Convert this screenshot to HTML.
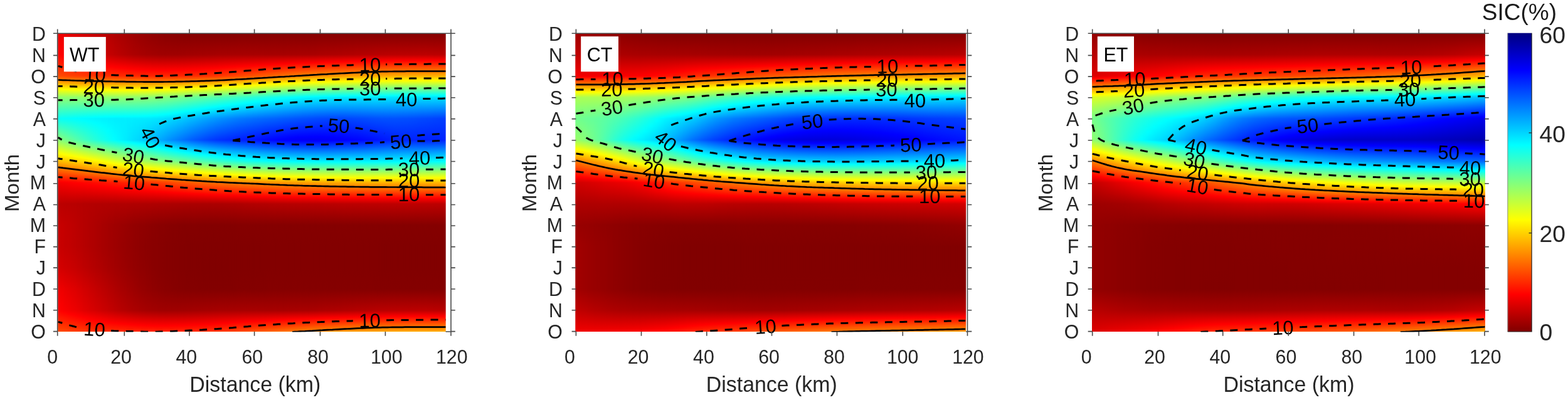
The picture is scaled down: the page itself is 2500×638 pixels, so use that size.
<!DOCTYPE html>
<html><head><meta charset="utf-8"><title>SIC</title>
<style>
html,body{margin:0;padding:0;background:#fff;}
body{width:2500px;height:638px;overflow:hidden;}
svg{display:block;font-family:"Liberation Sans",sans-serif;filter:blur(0.55px);}
</style></head><body>
<svg width="2500" height="638" viewBox="0 0 2500 638">
<defs>
<linearGradient id="hg" x1="0" y1="0" x2="1" y2="0"><stop offset="0" stop-color="#000"/><stop offset="1" stop-color="#fff"/></linearGradient>
<mask id="fade" maskContentUnits="objectBoundingBox"><rect x="0" y="0" width="1" height="1" fill="url(#hg)"/></mask>
<linearGradient id="g1_0" gradientUnits="userSpaceOnUse" x1="0" y1="53.20" x2="0" y2="529.20"><stop offset="0" stop-color="#f20000"/><stop offset="0.0578" stop-color="#ff0000"/><stop offset="0.07143" stop-color="#ff0300"/><stop offset="0.1429" stop-color="#ff4b00"/><stop offset="0.1873" stop-color="#ffff00"/><stop offset="0.2143" stop-color="#92ff6d"/><stop offset="0.2857" stop-color="#0afff5"/><stop offset="0.3571" stop-color="#8dff72"/><stop offset="0.4014" stop-color="#ffff00"/><stop offset="0.4286" stop-color="#ffb900"/><stop offset="0.4965" stop-color="#ff0000"/><stop offset="0.5" stop-color="#f50000"/><stop offset="0.5714" stop-color="#bc0000"/><stop offset="0.6429" stop-color="#c90000"/><stop offset="0.7143" stop-color="#ca0000"/><stop offset="0.7857" stop-color="#d60000"/><stop offset="0.8571" stop-color="#f20000"/><stop offset="0.9149" stop-color="#ff0000"/><stop offset="0.9286" stop-color="#ff0300"/><stop offset="1" stop-color="#ff4b00"/></linearGradient>
<linearGradient id="g1_1" gradientUnits="userSpaceOnUse" x1="0" y1="53.20" x2="0" y2="529.20"><stop offset="0" stop-color="#eb0000"/><stop offset="0.07143" stop-color="#fa0000"/><stop offset="0.07603" stop-color="#ff0000"/><stop offset="0.1429" stop-color="#ff4700"/><stop offset="0.1877" stop-color="#ffff00"/><stop offset="0.2143" stop-color="#92ff6d"/><stop offset="0.2857" stop-color="#06fff9"/><stop offset="0.3571" stop-color="#7aff85"/><stop offset="0.406" stop-color="#ffff00"/><stop offset="0.4286" stop-color="#ffc200"/><stop offset="0.4979" stop-color="#ff0000"/><stop offset="0.5" stop-color="#f90000"/><stop offset="0.5714" stop-color="#ba0000"/><stop offset="0.6429" stop-color="#c40000"/><stop offset="0.7143" stop-color="#c50000"/><stop offset="0.7857" stop-color="#d00000"/><stop offset="0.8571" stop-color="#eb0000"/><stop offset="0.9286" stop-color="#fa0000"/><stop offset="0.9332" stop-color="#ff0000"/><stop offset="1" stop-color="#ff4700"/></linearGradient>
<linearGradient id="g1_2" gradientUnits="userSpaceOnUse" x1="0" y1="53.20" x2="0" y2="529.20"><stop offset="0" stop-color="#e30000"/><stop offset="0.07143" stop-color="#f20000"/><stop offset="0.08292" stop-color="#ff0000"/><stop offset="0.1429" stop-color="#ff4200"/><stop offset="0.1881" stop-color="#ffff00"/><stop offset="0.2143" stop-color="#92ff6d"/><stop offset="0.2857" stop-color="#03fffc"/><stop offset="0.3571" stop-color="#68ff97"/><stop offset="0.4101" stop-color="#ffff00"/><stop offset="0.4286" stop-color="#ffca00"/><stop offset="0.4993" stop-color="#ff0000"/><stop offset="0.5" stop-color="#fd0000"/><stop offset="0.5714" stop-color="#b90000"/><stop offset="0.6429" stop-color="#c00000"/><stop offset="0.7143" stop-color="#c10000"/><stop offset="0.7857" stop-color="#cb0000"/><stop offset="0.8571" stop-color="#e30000"/><stop offset="0.9286" stop-color="#f20000"/><stop offset="0.9401" stop-color="#ff0000"/><stop offset="1" stop-color="#ff4200"/></linearGradient>
<linearGradient id="g1_3" gradientUnits="userSpaceOnUse" x1="0" y1="53.20" x2="0" y2="529.20"><stop offset="0" stop-color="#dc0000"/><stop offset="0.07143" stop-color="#eb0000"/><stop offset="0.08916" stop-color="#ff0000"/><stop offset="0.1429" stop-color="#ff3e00"/><stop offset="0.1885" stop-color="#ffff00"/><stop offset="0.2143" stop-color="#92ff6d"/><stop offset="0.2854" stop-color="#00ffff"/><stop offset="0.2857" stop-color="#00feff"/><stop offset="0.2862" stop-color="#00ffff"/><stop offset="0.3571" stop-color="#56ffa9"/><stop offset="0.4139" stop-color="#ffff00"/><stop offset="0.4286" stop-color="#ffd300"/><stop offset="0.5" stop-color="#ff0200"/><stop offset="0.5016" stop-color="#ff0000"/><stop offset="0.5714" stop-color="#b70000"/><stop offset="0.6429" stop-color="#bb0000"/><stop offset="0.7143" stop-color="#bc0000"/><stop offset="0.7857" stop-color="#c50000"/><stop offset="0.8571" stop-color="#dc0000"/><stop offset="0.9286" stop-color="#eb0000"/><stop offset="0.9463" stop-color="#ff0000"/><stop offset="1" stop-color="#ff3e00"/></linearGradient>
<linearGradient id="g1_4" gradientUnits="userSpaceOnUse" x1="0" y1="53.20" x2="0" y2="529.20"><stop offset="0" stop-color="#d40000"/><stop offset="0.07143" stop-color="#e30000"/><stop offset="0.09477" stop-color="#ff0000"/><stop offset="0.1429" stop-color="#ff3a00"/><stop offset="0.1889" stop-color="#ffff00"/><stop offset="0.2143" stop-color="#92ff6d"/><stop offset="0.2839" stop-color="#00ffff"/><stop offset="0.2857" stop-color="#00fbff"/><stop offset="0.2895" stop-color="#00ffff"/><stop offset="0.3571" stop-color="#45ffba"/><stop offset="0.4175" stop-color="#ffff00"/><stop offset="0.4286" stop-color="#ffdd00"/><stop offset="0.5" stop-color="#ff0600"/><stop offset="0.505" stop-color="#ff0000"/><stop offset="0.5714" stop-color="#b50000"/><stop offset="0.6429" stop-color="#b60000"/><stop offset="0.7143" stop-color="#b70000"/><stop offset="0.7857" stop-color="#bf0000"/><stop offset="0.8571" stop-color="#d40000"/><stop offset="0.9286" stop-color="#e30000"/><stop offset="0.9519" stop-color="#ff0000"/><stop offset="1" stop-color="#ff3a00"/></linearGradient>
<linearGradient id="g1_5" gradientUnits="userSpaceOnUse" x1="0" y1="53.20" x2="0" y2="529.20"><stop offset="0" stop-color="#cd0000"/><stop offset="0.07143" stop-color="#db0000"/><stop offset="0.09972" stop-color="#ff0000"/><stop offset="0.1429" stop-color="#ff3600"/><stop offset="0.1892" stop-color="#ffff00"/><stop offset="0.2143" stop-color="#93ff6c"/><stop offset="0.2825" stop-color="#00ffff"/><stop offset="0.2857" stop-color="#00f8ff"/><stop offset="0.294" stop-color="#00ffff"/><stop offset="0.3571" stop-color="#35ffca"/><stop offset="0.4212" stop-color="#ffff00"/><stop offset="0.4286" stop-color="#ffe800"/><stop offset="0.5" stop-color="#ff0900"/><stop offset="0.5079" stop-color="#ff0000"/><stop offset="0.5714" stop-color="#b40000"/><stop offset="0.6429" stop-color="#b20000"/><stop offset="0.7143" stop-color="#b20000"/><stop offset="0.7857" stop-color="#b90000"/><stop offset="0.8571" stop-color="#cd0000"/><stop offset="0.9286" stop-color="#db0000"/><stop offset="0.9569" stop-color="#ff0000"/><stop offset="1" stop-color="#ff3600"/></linearGradient>
<linearGradient id="g1_6" gradientUnits="userSpaceOnUse" x1="0" y1="53.20" x2="0" y2="529.20"><stop offset="0" stop-color="#c50000"/><stop offset="0.07143" stop-color="#d40000"/><stop offset="0.104" stop-color="#ff0000"/><stop offset="0.1429" stop-color="#ff3300"/><stop offset="0.1896" stop-color="#ffff00"/><stop offset="0.2143" stop-color="#93ff6c"/><stop offset="0.2813" stop-color="#00ffff"/><stop offset="0.2857" stop-color="#00f5ff"/><stop offset="0.3003" stop-color="#00ffff"/><stop offset="0.3571" stop-color="#26ffd9"/><stop offset="0.4249" stop-color="#ffff00"/><stop offset="0.4286" stop-color="#fff300"/><stop offset="0.5" stop-color="#ff0d00"/><stop offset="0.5106" stop-color="#ff0000"/><stop offset="0.5714" stop-color="#b30000"/><stop offset="0.6429" stop-color="#ad0000"/><stop offset="0.7143" stop-color="#ad0000"/><stop offset="0.7857" stop-color="#b30000"/><stop offset="0.8571" stop-color="#c50000"/><stop offset="0.9286" stop-color="#d40000"/><stop offset="0.9611" stop-color="#ff0000"/><stop offset="1" stop-color="#ff3300"/></linearGradient>
<linearGradient id="g1_7" gradientUnits="userSpaceOnUse" x1="0" y1="53.20" x2="0" y2="529.20"><stop offset="0" stop-color="#be0000"/><stop offset="0.07143" stop-color="#cd0000"/><stop offset="0.1075" stop-color="#ff0000"/><stop offset="0.1429" stop-color="#ff3100"/><stop offset="0.1898" stop-color="#ffff00"/><stop offset="0.2143" stop-color="#94ff6b"/><stop offset="0.2803" stop-color="#00ffff"/><stop offset="0.2857" stop-color="#00f3ff"/><stop offset="0.3096" stop-color="#00ffff"/><stop offset="0.3571" stop-color="#18ffe7"/><stop offset="0.4286" stop-color="#feff01"/><stop offset="0.4288" stop-color="#ffff00"/><stop offset="0.5" stop-color="#ff1100"/><stop offset="0.5131" stop-color="#ff0000"/><stop offset="0.5714" stop-color="#b20000"/><stop offset="0.6429" stop-color="#a90000"/><stop offset="0.7143" stop-color="#a80000"/><stop offset="0.7857" stop-color="#ae0000"/><stop offset="0.8571" stop-color="#be0000"/><stop offset="0.9286" stop-color="#cd0000"/><stop offset="0.9647" stop-color="#ff0000"/><stop offset="1" stop-color="#ff3100"/></linearGradient>
<linearGradient id="g1_8" gradientUnits="userSpaceOnUse" x1="0" y1="53.20" x2="0" y2="529.20"><stop offset="0" stop-color="#b70000"/><stop offset="0.07143" stop-color="#c60000"/><stop offset="0.1105" stop-color="#ff0000"/><stop offset="0.1429" stop-color="#ff2f00"/><stop offset="0.19" stop-color="#ffff00"/><stop offset="0.2143" stop-color="#94ff6b"/><stop offset="0.2795" stop-color="#00ffff"/><stop offset="0.2857" stop-color="#00f1ff"/><stop offset="0.3252" stop-color="#00ffff"/><stop offset="0.3571" stop-color="#0bfff4"/><stop offset="0.4286" stop-color="#f1ff0e"/><stop offset="0.4326" stop-color="#ffff00"/><stop offset="0.5" stop-color="#ff1600"/><stop offset="0.5156" stop-color="#ff0000"/><stop offset="0.5714" stop-color="#b20000"/><stop offset="0.6429" stop-color="#a40000"/><stop offset="0.7143" stop-color="#a30000"/><stop offset="0.7857" stop-color="#a80000"/><stop offset="0.8571" stop-color="#b70000"/><stop offset="0.9286" stop-color="#c60000"/><stop offset="0.9677" stop-color="#ff0000"/><stop offset="1" stop-color="#ff2f00"/></linearGradient>
<linearGradient id="g1_9" gradientUnits="userSpaceOnUse" x1="0" y1="53.20" x2="0" y2="529.20"><stop offset="0" stop-color="#b00000"/><stop offset="0.07143" stop-color="#bf0000"/><stop offset="0.1131" stop-color="#ff0000"/><stop offset="0.1429" stop-color="#ff2e00"/><stop offset="0.1902" stop-color="#ffff00"/><stop offset="0.2143" stop-color="#94ff6b"/><stop offset="0.2789" stop-color="#00ffff"/><stop offset="0.2857" stop-color="#00efff"/><stop offset="0.3571" stop-color="#00ffff"/><stop offset="0.3572" stop-color="#00ffff"/><stop offset="0.4286" stop-color="#e3ff1c"/><stop offset="0.4364" stop-color="#ffff00"/><stop offset="0.5" stop-color="#ff1a00"/><stop offset="0.518" stop-color="#ff0000"/><stop offset="0.5714" stop-color="#b10000"/><stop offset="0.6429" stop-color="#a00000"/><stop offset="0.7143" stop-color="#9f0000"/><stop offset="0.7857" stop-color="#a30000"/><stop offset="0.8571" stop-color="#b00000"/><stop offset="0.9286" stop-color="#bf0000"/><stop offset="0.9703" stop-color="#ff0000"/><stop offset="1" stop-color="#ff2e00"/></linearGradient>
<linearGradient id="g1_10" gradientUnits="userSpaceOnUse" x1="0" y1="53.20" x2="0" y2="529.20"><stop offset="0" stop-color="#a90000"/><stop offset="0.07143" stop-color="#b80000"/><stop offset="0.1154" stop-color="#ff0000"/><stop offset="0.1429" stop-color="#ff2c00"/><stop offset="0.1902" stop-color="#ffff00"/><stop offset="0.2143" stop-color="#94ff6b"/><stop offset="0.2785" stop-color="#00ffff"/><stop offset="0.2857" stop-color="#00eeff"/><stop offset="0.3571" stop-color="#00f4ff"/><stop offset="0.3606" stop-color="#00ffff"/><stop offset="0.4286" stop-color="#d5ff2a"/><stop offset="0.4398" stop-color="#ffff00"/><stop offset="0.5" stop-color="#ff1f00"/><stop offset="0.5203" stop-color="#ff0000"/><stop offset="0.5714" stop-color="#b10000"/><stop offset="0.6429" stop-color="#9c0000"/><stop offset="0.7143" stop-color="#9a0000"/><stop offset="0.7857" stop-color="#9e0000"/><stop offset="0.8571" stop-color="#a90000"/><stop offset="0.9286" stop-color="#b80000"/><stop offset="0.9725" stop-color="#ff0000"/><stop offset="1" stop-color="#ff2c00"/></linearGradient>
<linearGradient id="g1_11" gradientUnits="userSpaceOnUse" x1="0" y1="53.20" x2="0" y2="529.20"><stop offset="0" stop-color="#a30000"/><stop offset="0.07143" stop-color="#b20000"/><stop offset="0.1173" stop-color="#ff0000"/><stop offset="0.1429" stop-color="#ff2b00"/><stop offset="0.1901" stop-color="#ffff00"/><stop offset="0.2143" stop-color="#93ff6c"/><stop offset="0.2782" stop-color="#00ffff"/><stop offset="0.2857" stop-color="#00eeff"/><stop offset="0.3571" stop-color="#00eaff"/><stop offset="0.3639" stop-color="#00ffff"/><stop offset="0.4286" stop-color="#c8ff37"/><stop offset="0.443" stop-color="#ffff00"/><stop offset="0.5" stop-color="#ff2400"/><stop offset="0.5225" stop-color="#ff0000"/><stop offset="0.5714" stop-color="#b10000"/><stop offset="0.6429" stop-color="#980000"/><stop offset="0.7143" stop-color="#960000"/><stop offset="0.7857" stop-color="#990000"/><stop offset="0.8571" stop-color="#a30000"/><stop offset="0.9286" stop-color="#b20000"/><stop offset="0.9744" stop-color="#ff0000"/><stop offset="1" stop-color="#ff2b00"/></linearGradient>
<linearGradient id="g1_12" gradientUnits="userSpaceOnUse" x1="0" y1="53.20" x2="0" y2="529.20"><stop offset="0" stop-color="#9e0000"/><stop offset="0.07143" stop-color="#ad0000"/><stop offset="0.1189" stop-color="#ff0000"/><stop offset="0.1429" stop-color="#ff2900"/><stop offset="0.19" stop-color="#ffff00"/><stop offset="0.2143" stop-color="#91ff6e"/><stop offset="0.2779" stop-color="#00ffff"/><stop offset="0.2857" stop-color="#00edff"/><stop offset="0.3571" stop-color="#00e0ff"/><stop offset="0.3672" stop-color="#00ffff"/><stop offset="0.4286" stop-color="#bbff44"/><stop offset="0.4457" stop-color="#ffff00"/><stop offset="0.5" stop-color="#ff2900"/><stop offset="0.5244" stop-color="#ff0000"/><stop offset="0.5714" stop-color="#b00000"/><stop offset="0.6429" stop-color="#940000"/><stop offset="0.7143" stop-color="#930000"/><stop offset="0.7857" stop-color="#950000"/><stop offset="0.8571" stop-color="#9e0000"/><stop offset="0.9286" stop-color="#ad0000"/><stop offset="0.9761" stop-color="#ff0000"/><stop offset="1" stop-color="#ff2900"/></linearGradient>
<linearGradient id="g1_13" gradientUnits="userSpaceOnUse" x1="0" y1="53.20" x2="0" y2="529.20"><stop offset="0" stop-color="#980000"/><stop offset="0.07143" stop-color="#a90000"/><stop offset="0.1203" stop-color="#ff0000"/><stop offset="0.1429" stop-color="#ff2800"/><stop offset="0.1899" stop-color="#ffff00"/><stop offset="0.2143" stop-color="#8fff70"/><stop offset="0.2775" stop-color="#00ffff"/><stop offset="0.2857" stop-color="#00ecff"/><stop offset="0.3571" stop-color="#00d6ff"/><stop offset="0.3707" stop-color="#00ffff"/><stop offset="0.4286" stop-color="#afff50"/><stop offset="0.4482" stop-color="#ffff00"/><stop offset="0.5" stop-color="#ff2d00"/><stop offset="0.526" stop-color="#ff0000"/><stop offset="0.5714" stop-color="#b00000"/><stop offset="0.6429" stop-color="#910000"/><stop offset="0.7143" stop-color="#8f0000"/><stop offset="0.7857" stop-color="#910000"/><stop offset="0.8571" stop-color="#980000"/><stop offset="0.9286" stop-color="#a90000"/><stop offset="0.9775" stop-color="#ff0000"/><stop offset="1" stop-color="#ff2800"/></linearGradient>
<linearGradient id="g1_14" gradientUnits="userSpaceOnUse" x1="0" y1="53.20" x2="0" y2="529.20"><stop offset="0" stop-color="#940000"/><stop offset="0.07143" stop-color="#a50000"/><stop offset="0.1214" stop-color="#ff0000"/><stop offset="0.1429" stop-color="#ff2600"/><stop offset="0.1897" stop-color="#ffff00"/><stop offset="0.2143" stop-color="#8dff72"/><stop offset="0.2768" stop-color="#00ffff"/><stop offset="0.2857" stop-color="#00ebff"/><stop offset="0.3571" stop-color="#00caff"/><stop offset="0.3746" stop-color="#00ffff"/><stop offset="0.4286" stop-color="#a4ff5b"/><stop offset="0.4505" stop-color="#ffff00"/><stop offset="0.5" stop-color="#ff3200"/><stop offset="0.5276" stop-color="#ff0000"/><stop offset="0.5714" stop-color="#af0000"/><stop offset="0.6429" stop-color="#8f0000"/><stop offset="0.7143" stop-color="#8c0000"/><stop offset="0.7857" stop-color="#8e0000"/><stop offset="0.8571" stop-color="#940000"/><stop offset="0.9286" stop-color="#a50000"/><stop offset="0.9786" stop-color="#ff0000"/><stop offset="1" stop-color="#ff2600"/></linearGradient>
<linearGradient id="g1_15" gradientUnits="userSpaceOnUse" x1="0" y1="53.20" x2="0" y2="529.20"><stop offset="0" stop-color="#900000"/><stop offset="0.07143" stop-color="#a30000"/><stop offset="0.1222" stop-color="#ff0000"/><stop offset="0.1429" stop-color="#ff2600"/><stop offset="0.1894" stop-color="#ffff00"/><stop offset="0.2143" stop-color="#8bff74"/><stop offset="0.2758" stop-color="#00ffff"/><stop offset="0.2857" stop-color="#00e9ff"/><stop offset="0.3571" stop-color="#00bcff"/><stop offset="0.3789" stop-color="#00ffff"/><stop offset="0.4286" stop-color="#9aff65"/><stop offset="0.4526" stop-color="#ffff00"/><stop offset="0.5" stop-color="#ff3700"/><stop offset="0.529" stop-color="#ff0000"/><stop offset="0.5714" stop-color="#af0000"/><stop offset="0.6429" stop-color="#8c0000"/><stop offset="0.7143" stop-color="#8a0000"/><stop offset="0.7857" stop-color="#8b0000"/><stop offset="0.8571" stop-color="#900000"/><stop offset="0.9286" stop-color="#a30000"/><stop offset="0.9793" stop-color="#ff0000"/><stop offset="1" stop-color="#ff2600"/></linearGradient>
<linearGradient id="g1_16" gradientUnits="userSpaceOnUse" x1="0" y1="53.20" x2="0" y2="529.20"><stop offset="0" stop-color="#8d0000"/><stop offset="0.07143" stop-color="#a10000"/><stop offset="0.1226" stop-color="#ff0000"/><stop offset="0.1429" stop-color="#ff2500"/><stop offset="0.189" stop-color="#ffff00"/><stop offset="0.2143" stop-color="#87ff78"/><stop offset="0.2741" stop-color="#00ffff"/><stop offset="0.2857" stop-color="#00e5ff"/><stop offset="0.3571" stop-color="#00adff"/><stop offset="0.3831" stop-color="#00ffff"/><stop offset="0.4286" stop-color="#90ff6f"/><stop offset="0.4545" stop-color="#ffff00"/><stop offset="0.5" stop-color="#ff3c00"/><stop offset="0.5305" stop-color="#ff0000"/><stop offset="0.5714" stop-color="#ae0000"/><stop offset="0.6429" stop-color="#8a0000"/><stop offset="0.7143" stop-color="#880000"/><stop offset="0.7857" stop-color="#880000"/><stop offset="0.8571" stop-color="#8d0000"/><stop offset="0.9286" stop-color="#a10000"/><stop offset="0.9797" stop-color="#ff0000"/><stop offset="1" stop-color="#ff2500"/></linearGradient>
<linearGradient id="g1_17" gradientUnits="userSpaceOnUse" x1="0" y1="53.20" x2="0" y2="529.20"><stop offset="0" stop-color="#8a0000"/><stop offset="0.07143" stop-color="#a00000"/><stop offset="0.1226" stop-color="#ff0000"/><stop offset="0.1429" stop-color="#ff2600"/><stop offset="0.1884" stop-color="#ffff00"/><stop offset="0.2143" stop-color="#84ff7b"/><stop offset="0.2719" stop-color="#00ffff"/><stop offset="0.2857" stop-color="#00e0ff"/><stop offset="0.3571" stop-color="#009eff"/><stop offset="0.3871" stop-color="#00ffff"/><stop offset="0.4286" stop-color="#87ff78"/><stop offset="0.4563" stop-color="#ffff00"/><stop offset="0.5" stop-color="#ff4200"/><stop offset="0.5319" stop-color="#ff0000"/><stop offset="0.5714" stop-color="#ae0000"/><stop offset="0.6429" stop-color="#890000"/><stop offset="0.7143" stop-color="#860000"/><stop offset="0.7857" stop-color="#860000"/><stop offset="0.8571" stop-color="#8a0000"/><stop offset="0.9286" stop-color="#a00000"/><stop offset="0.9797" stop-color="#ff0000"/><stop offset="1" stop-color="#ff2600"/></linearGradient>
<linearGradient id="g1_18" gradientUnits="userSpaceOnUse" x1="0" y1="53.20" x2="0" y2="529.20"><stop offset="0" stop-color="#880000"/><stop offset="0.07143" stop-color="#a00000"/><stop offset="0.1224" stop-color="#ff0000"/><stop offset="0.1429" stop-color="#ff2600"/><stop offset="0.1877" stop-color="#ffff00"/><stop offset="0.2143" stop-color="#7fff80"/><stop offset="0.2693" stop-color="#00ffff"/><stop offset="0.2857" stop-color="#00d9ff"/><stop offset="0.3571" stop-color="#008eff"/><stop offset="0.3908" stop-color="#00ffff"/><stop offset="0.4286" stop-color="#7eff81"/><stop offset="0.4581" stop-color="#ffff00"/><stop offset="0.5" stop-color="#ff4800"/><stop offset="0.5333" stop-color="#ff0000"/><stop offset="0.5714" stop-color="#ad0000"/><stop offset="0.6429" stop-color="#870000"/><stop offset="0.7143" stop-color="#850000"/><stop offset="0.7857" stop-color="#850000"/><stop offset="0.8571" stop-color="#880000"/><stop offset="0.9286" stop-color="#a00000"/><stop offset="0.9795" stop-color="#ff0000"/><stop offset="1" stop-color="#ff2600"/></linearGradient>
<linearGradient id="g1_19" gradientUnits="userSpaceOnUse" x1="0" y1="53.20" x2="0" y2="529.20"><stop offset="0" stop-color="#860000"/><stop offset="0.07143" stop-color="#a00000"/><stop offset="0.122" stop-color="#ff0000"/><stop offset="0.1429" stop-color="#ff2700"/><stop offset="0.187" stop-color="#ffff00"/><stop offset="0.2143" stop-color="#7aff85"/><stop offset="0.2662" stop-color="#00ffff"/><stop offset="0.2857" stop-color="#00d1ff"/><stop offset="0.3571" stop-color="#0080ff"/><stop offset="0.3943" stop-color="#00ffff"/><stop offset="0.4286" stop-color="#75ff8a"/><stop offset="0.4598" stop-color="#ffff00"/><stop offset="0.5" stop-color="#ff4e00"/><stop offset="0.5347" stop-color="#ff0000"/><stop offset="0.5714" stop-color="#ac0000"/><stop offset="0.6429" stop-color="#860000"/><stop offset="0.7143" stop-color="#840000"/><stop offset="0.7857" stop-color="#840000"/><stop offset="0.8571" stop-color="#860000"/><stop offset="0.9286" stop-color="#a00000"/><stop offset="0.9791" stop-color="#ff0000"/><stop offset="1" stop-color="#ff2700"/></linearGradient>
<linearGradient id="g1_20" gradientUnits="userSpaceOnUse" x1="0" y1="53.20" x2="0" y2="529.20"><stop offset="0" stop-color="#850000"/><stop offset="0.07143" stop-color="#a10000"/><stop offset="0.1214" stop-color="#ff0000"/><stop offset="0.1429" stop-color="#ff2800"/><stop offset="0.1862" stop-color="#ffff00"/><stop offset="0.2143" stop-color="#74ff8b"/><stop offset="0.2629" stop-color="#00ffff"/><stop offset="0.2857" stop-color="#00c9ff"/><stop offset="0.3571" stop-color="#0072ff"/><stop offset="0.3976" stop-color="#00ffff"/><stop offset="0.4286" stop-color="#6cff93"/><stop offset="0.4616" stop-color="#ffff00"/><stop offset="0.5" stop-color="#ff5400"/><stop offset="0.5359" stop-color="#ff0000"/><stop offset="0.5714" stop-color="#ac0000"/><stop offset="0.6429" stop-color="#850000"/><stop offset="0.7143" stop-color="#830000"/><stop offset="0.7857" stop-color="#830000"/><stop offset="0.8571" stop-color="#850000"/><stop offset="0.9286" stop-color="#a10000"/><stop offset="0.9786" stop-color="#ff0000"/><stop offset="1" stop-color="#ff2800"/></linearGradient>
<linearGradient id="g1_21" gradientUnits="userSpaceOnUse" x1="0" y1="53.20" x2="0" y2="529.20"><stop offset="0" stop-color="#840000"/><stop offset="0.07143" stop-color="#a20000"/><stop offset="0.1206" stop-color="#ff0000"/><stop offset="0.1429" stop-color="#ff2a00"/><stop offset="0.1854" stop-color="#ffff00"/><stop offset="0.2143" stop-color="#6eff91"/><stop offset="0.2596" stop-color="#00ffff"/><stop offset="0.2857" stop-color="#00bfff"/><stop offset="0.3571" stop-color="#0064ff"/><stop offset="0.4008" stop-color="#00ffff"/><stop offset="0.4286" stop-color="#63ff9c"/><stop offset="0.4633" stop-color="#ffff00"/><stop offset="0.5" stop-color="#ff5a00"/><stop offset="0.5371" stop-color="#ff0000"/><stop offset="0.5714" stop-color="#ab0000"/><stop offset="0.6429" stop-color="#850000"/><stop offset="0.7143" stop-color="#820000"/><stop offset="0.7857" stop-color="#820000"/><stop offset="0.8571" stop-color="#840000"/><stop offset="0.9286" stop-color="#a20000"/><stop offset="0.9778" stop-color="#ff0000"/><stop offset="1" stop-color="#ff2a00"/></linearGradient>
<linearGradient id="g1_22" gradientUnits="userSpaceOnUse" x1="0" y1="53.20" x2="0" y2="529.20"><stop offset="0" stop-color="#840000"/><stop offset="0.07143" stop-color="#a30000"/><stop offset="0.1197" stop-color="#ff0000"/><stop offset="0.1429" stop-color="#ff2c00"/><stop offset="0.1845" stop-color="#ffff00"/><stop offset="0.2143" stop-color="#68ff97"/><stop offset="0.2563" stop-color="#00ffff"/><stop offset="0.2857" stop-color="#00b6ff"/><stop offset="0.3571" stop-color="#0057ff"/><stop offset="0.4037" stop-color="#00ffff"/><stop offset="0.4286" stop-color="#59ffa6"/><stop offset="0.465" stop-color="#ffff00"/><stop offset="0.5" stop-color="#ff6000"/><stop offset="0.5381" stop-color="#ff0000"/><stop offset="0.5714" stop-color="#ab0000"/><stop offset="0.6429" stop-color="#850000"/><stop offset="0.7143" stop-color="#820000"/><stop offset="0.7857" stop-color="#820000"/><stop offset="0.8571" stop-color="#840000"/><stop offset="0.9286" stop-color="#a30000"/><stop offset="0.9769" stop-color="#ff0000"/><stop offset="1" stop-color="#ff2c00"/></linearGradient>
<linearGradient id="g1_23" gradientUnits="userSpaceOnUse" x1="0" y1="53.20" x2="0" y2="529.20"><stop offset="0" stop-color="#830000"/><stop offset="0.07143" stop-color="#a40000"/><stop offset="0.1187" stop-color="#ff0000"/><stop offset="0.1429" stop-color="#ff2e00"/><stop offset="0.1837" stop-color="#ffff00"/><stop offset="0.2143" stop-color="#62ff9d"/><stop offset="0.2531" stop-color="#00ffff"/><stop offset="0.2857" stop-color="#00acff"/><stop offset="0.3571" stop-color="#004cff"/><stop offset="0.4065" stop-color="#00ffff"/><stop offset="0.4286" stop-color="#50ffaf"/><stop offset="0.4666" stop-color="#ffff00"/><stop offset="0.5" stop-color="#ff6500"/><stop offset="0.539" stop-color="#ff0000"/><stop offset="0.5714" stop-color="#ab0000"/><stop offset="0.6429" stop-color="#840000"/><stop offset="0.7143" stop-color="#820000"/><stop offset="0.7857" stop-color="#810000"/><stop offset="0.8571" stop-color="#830000"/><stop offset="0.9286" stop-color="#a40000"/><stop offset="0.9759" stop-color="#ff0000"/><stop offset="1" stop-color="#ff2e00"/></linearGradient>
<linearGradient id="g1_24" gradientUnits="userSpaceOnUse" x1="0" y1="53.20" x2="0" y2="529.20"><stop offset="0" stop-color="#830000"/><stop offset="0.07143" stop-color="#a50000"/><stop offset="0.1176" stop-color="#ff0000"/><stop offset="0.1429" stop-color="#ff3100"/><stop offset="0.1828" stop-color="#ffff00"/><stop offset="0.2143" stop-color="#5cffa3"/><stop offset="0.25" stop-color="#00ffff"/><stop offset="0.2857" stop-color="#00a3ff"/><stop offset="0.3571" stop-color="#0041ff"/><stop offset="0.4092" stop-color="#00ffff"/><stop offset="0.4286" stop-color="#47ffb8"/><stop offset="0.4682" stop-color="#ffff00"/><stop offset="0.5" stop-color="#ff6b00"/><stop offset="0.54" stop-color="#ff0000"/><stop offset="0.5714" stop-color="#ab0000"/><stop offset="0.6429" stop-color="#840000"/><stop offset="0.7143" stop-color="#820000"/><stop offset="0.7857" stop-color="#810000"/><stop offset="0.8571" stop-color="#830000"/><stop offset="0.9286" stop-color="#a50000"/><stop offset="0.9748" stop-color="#ff0000"/><stop offset="1" stop-color="#ff3100"/></linearGradient>
<linearGradient id="g1_25" gradientUnits="userSpaceOnUse" x1="0" y1="53.20" x2="0" y2="529.20"><stop offset="0" stop-color="#830000"/><stop offset="0.07143" stop-color="#a60000"/><stop offset="0.1164" stop-color="#ff0000"/><stop offset="0.1429" stop-color="#ff3400"/><stop offset="0.1818" stop-color="#ffff00"/><stop offset="0.2143" stop-color="#56ffa9"/><stop offset="0.2471" stop-color="#00ffff"/><stop offset="0.2857" stop-color="#009aff"/><stop offset="0.3571" stop-color="#0038ff"/><stop offset="0.4118" stop-color="#00ffff"/><stop offset="0.4286" stop-color="#3dffc2"/><stop offset="0.4697" stop-color="#ffff00"/><stop offset="0.5" stop-color="#ff7000"/><stop offset="0.5409" stop-color="#ff0000"/><stop offset="0.5714" stop-color="#ac0000"/><stop offset="0.6429" stop-color="#840000"/><stop offset="0.7143" stop-color="#820000"/><stop offset="0.7857" stop-color="#810000"/><stop offset="0.8571" stop-color="#830000"/><stop offset="0.9286" stop-color="#a60000"/><stop offset="0.9735" stop-color="#ff0000"/><stop offset="1" stop-color="#ff3400"/></linearGradient>
<linearGradient id="g1_26" gradientUnits="userSpaceOnUse" x1="0" y1="53.20" x2="0" y2="529.20"><stop offset="0" stop-color="#830000"/><stop offset="0.07143" stop-color="#a70000"/><stop offset="0.115" stop-color="#ff0000"/><stop offset="0.1429" stop-color="#ff3800"/><stop offset="0.1808" stop-color="#ffff00"/><stop offset="0.2143" stop-color="#4fffb0"/><stop offset="0.2442" stop-color="#00ffff"/><stop offset="0.2857" stop-color="#0091ff"/><stop offset="0.3571" stop-color="#0030ff"/><stop offset="0.4142" stop-color="#00ffff"/><stop offset="0.4286" stop-color="#34ffcb"/><stop offset="0.4711" stop-color="#ffff00"/><stop offset="0.5" stop-color="#ff7500"/><stop offset="0.5418" stop-color="#ff0000"/><stop offset="0.5714" stop-color="#ac0000"/><stop offset="0.6429" stop-color="#840000"/><stop offset="0.7143" stop-color="#820000"/><stop offset="0.7857" stop-color="#810000"/><stop offset="0.8571" stop-color="#830000"/><stop offset="0.9286" stop-color="#a70000"/><stop offset="0.9722" stop-color="#ff0000"/><stop offset="1" stop-color="#ff3800"/></linearGradient>
<linearGradient id="g1_27" gradientUnits="userSpaceOnUse" x1="0" y1="53.20" x2="0" y2="529.20"><stop offset="0" stop-color="#830000"/><stop offset="0.07143" stop-color="#a70000"/><stop offset="0.1136" stop-color="#ff0000"/><stop offset="0.1429" stop-color="#ff3d00"/><stop offset="0.1797" stop-color="#ffff00"/><stop offset="0.2143" stop-color="#48ffb7"/><stop offset="0.2414" stop-color="#00ffff"/><stop offset="0.2857" stop-color="#0089ff"/><stop offset="0.3571" stop-color="#002aff"/><stop offset="0.4163" stop-color="#00ffff"/><stop offset="0.4286" stop-color="#2cffd3"/><stop offset="0.4723" stop-color="#ffff00"/><stop offset="0.5" stop-color="#ff7900"/><stop offset="0.5426" stop-color="#ff0000"/><stop offset="0.5714" stop-color="#ad0000"/><stop offset="0.6429" stop-color="#840000"/><stop offset="0.7143" stop-color="#820000"/><stop offset="0.7857" stop-color="#810000"/><stop offset="0.8571" stop-color="#830000"/><stop offset="0.9286" stop-color="#a70000"/><stop offset="0.9708" stop-color="#ff0000"/><stop offset="1" stop-color="#ff3d00"/></linearGradient>
<linearGradient id="g1_28" gradientUnits="userSpaceOnUse" x1="0" y1="53.20" x2="0" y2="529.20"><stop offset="0" stop-color="#830000"/><stop offset="0.07143" stop-color="#a80000"/><stop offset="0.1122" stop-color="#ff0000"/><stop offset="0.1429" stop-color="#ff4200"/><stop offset="0.1785" stop-color="#ffff00"/><stop offset="0.2143" stop-color="#41ffbe"/><stop offset="0.2388" stop-color="#00ffff"/><stop offset="0.2857" stop-color="#0082ff"/><stop offset="0.3571" stop-color="#0025ff"/><stop offset="0.4183" stop-color="#00ffff"/><stop offset="0.4286" stop-color="#25ffda"/><stop offset="0.4734" stop-color="#ffff00"/><stop offset="0.5" stop-color="#ff7d00"/><stop offset="0.5434" stop-color="#ff0000"/><stop offset="0.5714" stop-color="#ae0000"/><stop offset="0.6429" stop-color="#840000"/><stop offset="0.7143" stop-color="#820000"/><stop offset="0.7857" stop-color="#820000"/><stop offset="0.8571" stop-color="#830000"/><stop offset="0.9286" stop-color="#a80000"/><stop offset="0.9693" stop-color="#ff0000"/><stop offset="1" stop-color="#ff4200"/></linearGradient>
<linearGradient id="g1_29" gradientUnits="userSpaceOnUse" x1="0" y1="53.20" x2="0" y2="529.20"><stop offset="0" stop-color="#840000"/><stop offset="0.07143" stop-color="#a80000"/><stop offset="0.1108" stop-color="#ff0000"/><stop offset="0.1429" stop-color="#ff4700"/><stop offset="0.1774" stop-color="#ffff00"/><stop offset="0.2143" stop-color="#3affc5"/><stop offset="0.2361" stop-color="#00ffff"/><stop offset="0.2857" stop-color="#007bff"/><stop offset="0.3571" stop-color="#0020ff"/><stop offset="0.4202" stop-color="#00ffff"/><stop offset="0.4286" stop-color="#1effe1"/><stop offset="0.4743" stop-color="#ffff00"/><stop offset="0.5" stop-color="#ff8100"/><stop offset="0.5441" stop-color="#ff0000"/><stop offset="0.5714" stop-color="#af0000"/><stop offset="0.6429" stop-color="#850000"/><stop offset="0.7143" stop-color="#820000"/><stop offset="0.7857" stop-color="#820000"/><stop offset="0.8571" stop-color="#840000"/><stop offset="0.9286" stop-color="#a80000"/><stop offset="0.9679" stop-color="#ff0000"/><stop offset="1" stop-color="#ff4700"/></linearGradient>
<linearGradient id="g1_30" gradientUnits="userSpaceOnUse" x1="0" y1="53.20" x2="0" y2="529.20"><stop offset="0" stop-color="#840000"/><stop offset="0.07143" stop-color="#a80000"/><stop offset="0.1095" stop-color="#ff0000"/><stop offset="0.1429" stop-color="#ff4c00"/><stop offset="0.1762" stop-color="#ffff00"/><stop offset="0.2143" stop-color="#33ffcc"/><stop offset="0.2336" stop-color="#00ffff"/><stop offset="0.2857" stop-color="#0076ff"/><stop offset="0.3571" stop-color="#001bff"/><stop offset="0.422" stop-color="#00ffff"/><stop offset="0.4286" stop-color="#17ffe8"/><stop offset="0.4752" stop-color="#ffff00"/><stop offset="0.5" stop-color="#ff8400"/><stop offset="0.5448" stop-color="#ff0000"/><stop offset="0.5714" stop-color="#b10000"/><stop offset="0.6429" stop-color="#850000"/><stop offset="0.7143" stop-color="#820000"/><stop offset="0.7857" stop-color="#820000"/><stop offset="0.8571" stop-color="#840000"/><stop offset="0.9286" stop-color="#a80000"/><stop offset="0.9666" stop-color="#ff0000"/><stop offset="1" stop-color="#ff4c00"/></linearGradient>
<linearGradient id="g1_31" gradientUnits="userSpaceOnUse" x1="0" y1="53.20" x2="0" y2="529.20"><stop offset="0" stop-color="#840000"/><stop offset="0.07143" stop-color="#a80000"/><stop offset="0.1082" stop-color="#ff0000"/><stop offset="0.1429" stop-color="#ff5200"/><stop offset="0.175" stop-color="#ffff00"/><stop offset="0.2143" stop-color="#2cffd3"/><stop offset="0.231" stop-color="#00ffff"/><stop offset="0.2857" stop-color="#0071ff"/><stop offset="0.3571" stop-color="#0016ff"/><stop offset="0.4236" stop-color="#00ffff"/><stop offset="0.4286" stop-color="#11ffee"/><stop offset="0.4761" stop-color="#ffff00"/><stop offset="0.5" stop-color="#ff8700"/><stop offset="0.5455" stop-color="#ff0000"/><stop offset="0.5714" stop-color="#b20000"/><stop offset="0.6429" stop-color="#850000"/><stop offset="0.7143" stop-color="#820000"/><stop offset="0.7857" stop-color="#820000"/><stop offset="0.8571" stop-color="#840000"/><stop offset="0.9286" stop-color="#a80000"/><stop offset="0.9653" stop-color="#ff0000"/><stop offset="1" stop-color="#ff5200"/></linearGradient>
<linearGradient id="g1_32" gradientUnits="userSpaceOnUse" x1="0" y1="53.20" x2="0" y2="529.20"><stop offset="0" stop-color="#840000"/><stop offset="0.07143" stop-color="#a80000"/><stop offset="0.107" stop-color="#ff0000"/><stop offset="0.1429" stop-color="#ff5800"/><stop offset="0.1739" stop-color="#ffff00"/><stop offset="0.2143" stop-color="#25ffda"/><stop offset="0.2287" stop-color="#00ffff"/><stop offset="0.2857" stop-color="#006dff"/><stop offset="0.3571" stop-color="#0011ff"/><stop offset="0.4249" stop-color="#00ffff"/><stop offset="0.4286" stop-color="#0dfff2"/><stop offset="0.4768" stop-color="#ffff00"/><stop offset="0.5" stop-color="#ff8a00"/><stop offset="0.5461" stop-color="#ff0000"/><stop offset="0.5714" stop-color="#b30000"/><stop offset="0.6429" stop-color="#850000"/><stop offset="0.7143" stop-color="#820000"/><stop offset="0.7857" stop-color="#820000"/><stop offset="0.8571" stop-color="#840000"/><stop offset="0.9286" stop-color="#a80000"/><stop offset="0.9642" stop-color="#ff0000"/><stop offset="1" stop-color="#ff5800"/></linearGradient>
<linearGradient id="g1_33" gradientUnits="userSpaceOnUse" x1="0" y1="53.20" x2="0" y2="529.20"><stop offset="0" stop-color="#840000"/><stop offset="0.07143" stop-color="#a80000"/><stop offset="0.1059" stop-color="#ff0000"/><stop offset="0.1429" stop-color="#ff5e00"/><stop offset="0.1727" stop-color="#ffff00"/><stop offset="0.2143" stop-color="#1effe1"/><stop offset="0.2262" stop-color="#00ffff"/><stop offset="0.2857" stop-color="#0069ff"/><stop offset="0.3571" stop-color="#000bff"/><stop offset="0.4261" stop-color="#00ffff"/><stop offset="0.4286" stop-color="#09fff6"/><stop offset="0.4775" stop-color="#ffff00"/><stop offset="0.5" stop-color="#ff8e00"/><stop offset="0.5467" stop-color="#ff0000"/><stop offset="0.5714" stop-color="#b40000"/><stop offset="0.6429" stop-color="#850000"/><stop offset="0.7143" stop-color="#820000"/><stop offset="0.7857" stop-color="#820000"/><stop offset="0.8571" stop-color="#840000"/><stop offset="0.9286" stop-color="#a80000"/><stop offset="0.963" stop-color="#ff0000"/><stop offset="1" stop-color="#ff5e00"/></linearGradient>
<linearGradient id="g1_34" gradientUnits="userSpaceOnUse" x1="0" y1="53.20" x2="0" y2="529.20"><stop offset="0" stop-color="#850000"/><stop offset="0.07143" stop-color="#a70000"/><stop offset="0.1047" stop-color="#ff0000"/><stop offset="0.1429" stop-color="#ff6400"/><stop offset="0.1715" stop-color="#ffff00"/><stop offset="0.2143" stop-color="#17ffe8"/><stop offset="0.2237" stop-color="#00ffff"/><stop offset="0.2857" stop-color="#0065ff"/><stop offset="0.3571" stop-color="#0006ff"/><stop offset="0.4272" stop-color="#00ffff"/><stop offset="0.4286" stop-color="#05fffa"/><stop offset="0.4782" stop-color="#ffff00"/><stop offset="0.5" stop-color="#ff9100"/><stop offset="0.5472" stop-color="#ff0000"/><stop offset="0.5714" stop-color="#b50000"/><stop offset="0.6429" stop-color="#850000"/><stop offset="0.7143" stop-color="#830000"/><stop offset="0.7857" stop-color="#830000"/><stop offset="0.8571" stop-color="#850000"/><stop offset="0.9286" stop-color="#a70000"/><stop offset="0.9618" stop-color="#ff0000"/><stop offset="1" stop-color="#ff6400"/></linearGradient>
<linearGradient id="g1_35" gradientUnits="userSpaceOnUse" x1="0" y1="53.20" x2="0" y2="529.20"><stop offset="0" stop-color="#850000"/><stop offset="0.07143" stop-color="#a70000"/><stop offset="0.1036" stop-color="#ff0000"/><stop offset="0.1429" stop-color="#ff6b00"/><stop offset="0.1703" stop-color="#ffff00"/><stop offset="0.2143" stop-color="#11ffee"/><stop offset="0.2212" stop-color="#00ffff"/><stop offset="0.2857" stop-color="#0061ff"/><stop offset="0.3571" stop-color="#0001ff"/><stop offset="0.4281" stop-color="#00ffff"/><stop offset="0.4286" stop-color="#02fffd"/><stop offset="0.4789" stop-color="#ffff00"/><stop offset="0.5" stop-color="#ff9500"/><stop offset="0.5478" stop-color="#ff0000"/><stop offset="0.5714" stop-color="#b50000"/><stop offset="0.6429" stop-color="#850000"/><stop offset="0.7143" stop-color="#830000"/><stop offset="0.7857" stop-color="#830000"/><stop offset="0.8571" stop-color="#850000"/><stop offset="0.9286" stop-color="#a70000"/><stop offset="0.9608" stop-color="#ff0000"/><stop offset="1" stop-color="#ff6b00"/></linearGradient>
<linearGradient id="g1_36" gradientUnits="userSpaceOnUse" x1="0" y1="53.20" x2="0" y2="529.20"><stop offset="0" stop-color="#850000"/><stop offset="0.07143" stop-color="#a70000"/><stop offset="0.1026" stop-color="#ff0000"/><stop offset="0.1429" stop-color="#ff7100"/><stop offset="0.1691" stop-color="#ffff00"/><stop offset="0.2143" stop-color="#0bfff4"/><stop offset="0.2189" stop-color="#00ffff"/><stop offset="0.2857" stop-color="#005dff"/><stop offset="0.3545" stop-color="#0000ff"/><stop offset="0.3571" stop-color="#0000fb"/><stop offset="0.3581" stop-color="#0000ff"/><stop offset="0.4286" stop-color="#00feff"/><stop offset="0.4289" stop-color="#00ffff"/><stop offset="0.4795" stop-color="#ffff00"/><stop offset="0.5" stop-color="#ff9800"/><stop offset="0.5483" stop-color="#ff0000"/><stop offset="0.5714" stop-color="#b60000"/><stop offset="0.6429" stop-color="#850000"/><stop offset="0.7143" stop-color="#830000"/><stop offset="0.7857" stop-color="#830000"/><stop offset="0.8571" stop-color="#850000"/><stop offset="0.9286" stop-color="#a70000"/><stop offset="0.9597" stop-color="#ff0000"/><stop offset="1" stop-color="#ff7100"/></linearGradient>
<linearGradient id="g1_37" gradientUnits="userSpaceOnUse" x1="0" y1="53.20" x2="0" y2="529.20"><stop offset="0" stop-color="#850000"/><stop offset="0.07143" stop-color="#a80000"/><stop offset="0.1016" stop-color="#ff0000"/><stop offset="0.1429" stop-color="#ff7700"/><stop offset="0.1681" stop-color="#ffff00"/><stop offset="0.2143" stop-color="#06fff9"/><stop offset="0.2168" stop-color="#00ffff"/><stop offset="0.2857" stop-color="#0059ff"/><stop offset="0.3518" stop-color="#0000ff"/><stop offset="0.3571" stop-color="#0000f8"/><stop offset="0.3591" stop-color="#0000ff"/><stop offset="0.4286" stop-color="#00fbff"/><stop offset="0.4294" stop-color="#00ffff"/><stop offset="0.4801" stop-color="#ffff00"/><stop offset="0.5" stop-color="#ff9b00"/><stop offset="0.5487" stop-color="#ff0000"/><stop offset="0.5714" stop-color="#b70000"/><stop offset="0.6429" stop-color="#850000"/><stop offset="0.7143" stop-color="#830000"/><stop offset="0.7857" stop-color="#830000"/><stop offset="0.8571" stop-color="#850000"/><stop offset="0.9286" stop-color="#a80000"/><stop offset="0.9588" stop-color="#ff0000"/><stop offset="1" stop-color="#ff7700"/></linearGradient>
<linearGradient id="g1_38" gradientUnits="userSpaceOnUse" x1="0" y1="53.20" x2="0" y2="529.20"><stop offset="0" stop-color="#850000"/><stop offset="0.07143" stop-color="#a80000"/><stop offset="0.1007" stop-color="#ff0000"/><stop offset="0.1429" stop-color="#ff7d00"/><stop offset="0.167" stop-color="#ffff00"/><stop offset="0.2143" stop-color="#01fffe"/><stop offset="0.2147" stop-color="#00ffff"/><stop offset="0.2857" stop-color="#0055ff"/><stop offset="0.3497" stop-color="#0000ff"/><stop offset="0.3571" stop-color="#0000f5"/><stop offset="0.3599" stop-color="#0000ff"/><stop offset="0.4286" stop-color="#00f9ff"/><stop offset="0.4298" stop-color="#00ffff"/><stop offset="0.4806" stop-color="#ffff00"/><stop offset="0.5" stop-color="#ff9e00"/><stop offset="0.5491" stop-color="#ff0000"/><stop offset="0.5714" stop-color="#b70000"/><stop offset="0.6429" stop-color="#850000"/><stop offset="0.7143" stop-color="#830000"/><stop offset="0.7857" stop-color="#830000"/><stop offset="0.8571" stop-color="#850000"/><stop offset="0.9286" stop-color="#a80000"/><stop offset="0.9579" stop-color="#ff0000"/><stop offset="1" stop-color="#ff7d00"/></linearGradient>
<linearGradient id="g1_39" gradientUnits="userSpaceOnUse" x1="0" y1="53.20" x2="0" y2="529.20"><stop offset="0" stop-color="#850000"/><stop offset="0.07143" stop-color="#a90000"/><stop offset="0.09992" stop-color="#ff0000"/><stop offset="0.1429" stop-color="#ff8200"/><stop offset="0.1661" stop-color="#ffff00"/><stop offset="0.2136" stop-color="#00ffff"/><stop offset="0.2143" stop-color="#00fbff"/><stop offset="0.2857" stop-color="#0051ff"/><stop offset="0.3484" stop-color="#0000ff"/><stop offset="0.3571" stop-color="#0000f4"/><stop offset="0.3603" stop-color="#0000ff"/><stop offset="0.4286" stop-color="#00f7ff"/><stop offset="0.4302" stop-color="#00ffff"/><stop offset="0.4811" stop-color="#ffff00"/><stop offset="0.5" stop-color="#ffa000"/><stop offset="0.5494" stop-color="#ff0000"/><stop offset="0.5714" stop-color="#b80000"/><stop offset="0.6429" stop-color="#850000"/><stop offset="0.7143" stop-color="#830000"/><stop offset="0.7857" stop-color="#830000"/><stop offset="0.8571" stop-color="#850000"/><stop offset="0.9286" stop-color="#a90000"/><stop offset="0.9571" stop-color="#ff0000"/><stop offset="1" stop-color="#ff8200"/></linearGradient>
<linearGradient id="g1_40" gradientUnits="userSpaceOnUse" x1="0" y1="53.20" x2="0" y2="529.20"><stop offset="0" stop-color="#850000"/><stop offset="0.07143" stop-color="#a90000"/><stop offset="0.09915" stop-color="#ff0000"/><stop offset="0.1429" stop-color="#ff8700"/><stop offset="0.1653" stop-color="#ffff00"/><stop offset="0.2128" stop-color="#00ffff"/><stop offset="0.2143" stop-color="#00f7ff"/><stop offset="0.2857" stop-color="#004eff"/><stop offset="0.3476" stop-color="#0000ff"/><stop offset="0.3571" stop-color="#0000f3"/><stop offset="0.3605" stop-color="#0000ff"/><stop offset="0.4286" stop-color="#00f5ff"/><stop offset="0.4305" stop-color="#00ffff"/><stop offset="0.4815" stop-color="#ffff00"/><stop offset="0.5" stop-color="#ffa200"/><stop offset="0.5497" stop-color="#ff0000"/><stop offset="0.5714" stop-color="#b80000"/><stop offset="0.6429" stop-color="#850000"/><stop offset="0.7143" stop-color="#830000"/><stop offset="0.7857" stop-color="#830000"/><stop offset="0.8571" stop-color="#850000"/><stop offset="0.9286" stop-color="#a90000"/><stop offset="0.9563" stop-color="#ff0000"/><stop offset="1" stop-color="#ff8700"/></linearGradient>
<linearGradient id="g1_41" gradientUnits="userSpaceOnUse" x1="0" y1="53.20" x2="0" y2="529.20"><stop offset="0" stop-color="#850000"/><stop offset="0.07143" stop-color="#aa0000"/><stop offset="0.09842" stop-color="#ff0000"/><stop offset="0.1429" stop-color="#ff8b00"/><stop offset="0.1645" stop-color="#ffff00"/><stop offset="0.2122" stop-color="#00ffff"/><stop offset="0.2143" stop-color="#00f4ff"/><stop offset="0.2857" stop-color="#004bff"/><stop offset="0.3473" stop-color="#0000ff"/><stop offset="0.3571" stop-color="#0000f3"/><stop offset="0.3605" stop-color="#0000ff"/><stop offset="0.4286" stop-color="#00f4ff"/><stop offset="0.4308" stop-color="#00ffff"/><stop offset="0.4819" stop-color="#ffff00"/><stop offset="0.5" stop-color="#ffa400"/><stop offset="0.5501" stop-color="#ff0000"/><stop offset="0.5714" stop-color="#b90000"/><stop offset="0.6429" stop-color="#850000"/><stop offset="0.7143" stop-color="#830000"/><stop offset="0.7857" stop-color="#830000"/><stop offset="0.8571" stop-color="#850000"/><stop offset="0.9286" stop-color="#aa0000"/><stop offset="0.9556" stop-color="#ff0000"/><stop offset="1" stop-color="#ff8b00"/></linearGradient>
<linearGradient id="g1_42" gradientUnits="userSpaceOnUse" x1="0" y1="53.20" x2="0" y2="529.20"><stop offset="0" stop-color="#850000"/><stop offset="0.07143" stop-color="#ac0000"/><stop offset="0.09773" stop-color="#ff0000"/><stop offset="0.1429" stop-color="#ff8f00"/><stop offset="0.1638" stop-color="#ffff00"/><stop offset="0.2117" stop-color="#00ffff"/><stop offset="0.2143" stop-color="#00f1ff"/><stop offset="0.2857" stop-color="#0048ff"/><stop offset="0.3475" stop-color="#0000ff"/><stop offset="0.3571" stop-color="#0000f4"/><stop offset="0.3603" stop-color="#0000ff"/><stop offset="0.4286" stop-color="#00f3ff"/><stop offset="0.431" stop-color="#00ffff"/><stop offset="0.4822" stop-color="#ffff00"/><stop offset="0.5" stop-color="#ffa600"/><stop offset="0.5504" stop-color="#ff0000"/><stop offset="0.5714" stop-color="#b90000"/><stop offset="0.6429" stop-color="#850000"/><stop offset="0.7143" stop-color="#830000"/><stop offset="0.7857" stop-color="#830000"/><stop offset="0.8571" stop-color="#850000"/><stop offset="0.9286" stop-color="#ac0000"/><stop offset="0.9549" stop-color="#ff0000"/><stop offset="1" stop-color="#ff8f00"/></linearGradient>
<linearGradient id="g1_43" gradientUnits="userSpaceOnUse" x1="0" y1="53.20" x2="0" y2="529.20"><stop offset="0" stop-color="#850000"/><stop offset="0.07143" stop-color="#ad0000"/><stop offset="0.09706" stop-color="#ff0000"/><stop offset="0.1429" stop-color="#ff9300"/><stop offset="0.1632" stop-color="#ffff00"/><stop offset="0.2112" stop-color="#00ffff"/><stop offset="0.2143" stop-color="#00efff"/><stop offset="0.2857" stop-color="#0046ff"/><stop offset="0.3483" stop-color="#0000ff"/><stop offset="0.3571" stop-color="#0000f5"/><stop offset="0.36" stop-color="#0000ff"/><stop offset="0.4286" stop-color="#00f2ff"/><stop offset="0.4312" stop-color="#00ffff"/><stop offset="0.4825" stop-color="#ffff00"/><stop offset="0.5" stop-color="#ffa800"/><stop offset="0.5506" stop-color="#ff0000"/><stop offset="0.5714" stop-color="#ba0000"/><stop offset="0.6429" stop-color="#850000"/><stop offset="0.7143" stop-color="#830000"/><stop offset="0.7857" stop-color="#830000"/><stop offset="0.8571" stop-color="#850000"/><stop offset="0.9286" stop-color="#ad0000"/><stop offset="0.9542" stop-color="#ff0000"/><stop offset="1" stop-color="#ff9300"/></linearGradient>
<linearGradient id="g1_44" gradientUnits="userSpaceOnUse" x1="0" y1="53.20" x2="0" y2="529.20"><stop offset="0" stop-color="#850000"/><stop offset="0.07143" stop-color="#ae0000"/><stop offset="0.09641" stop-color="#ff0000"/><stop offset="0.1429" stop-color="#ff9700"/><stop offset="0.1626" stop-color="#ffff00"/><stop offset="0.2108" stop-color="#00ffff"/><stop offset="0.2143" stop-color="#00edff"/><stop offset="0.2857" stop-color="#0045ff"/><stop offset="0.3498" stop-color="#0000ff"/><stop offset="0.3571" stop-color="#0000f7"/><stop offset="0.3594" stop-color="#0000ff"/><stop offset="0.4286" stop-color="#00f2ff"/><stop offset="0.4312" stop-color="#00ffff"/><stop offset="0.4828" stop-color="#ffff00"/><stop offset="0.5" stop-color="#ffaa00"/><stop offset="0.5509" stop-color="#ff0000"/><stop offset="0.5714" stop-color="#ba0000"/><stop offset="0.6429" stop-color="#850000"/><stop offset="0.7143" stop-color="#830000"/><stop offset="0.7857" stop-color="#830000"/><stop offset="0.8571" stop-color="#850000"/><stop offset="0.9286" stop-color="#ae0000"/><stop offset="0.9535" stop-color="#ff0000"/><stop offset="1" stop-color="#ff9700"/></linearGradient>
<linearGradient id="g1_45" gradientUnits="userSpaceOnUse" x1="0" y1="53.20" x2="0" y2="529.20"><stop offset="0" stop-color="#850000"/><stop offset="0.07143" stop-color="#af0000"/><stop offset="0.09576" stop-color="#ff0000"/><stop offset="0.1429" stop-color="#ff9a00"/><stop offset="0.162" stop-color="#ffff00"/><stop offset="0.2104" stop-color="#00ffff"/><stop offset="0.2143" stop-color="#00ebff"/><stop offset="0.2857" stop-color="#0045ff"/><stop offset="0.352" stop-color="#0000ff"/><stop offset="0.3571" stop-color="#0000fa"/><stop offset="0.3587" stop-color="#0000ff"/><stop offset="0.4286" stop-color="#00f2ff"/><stop offset="0.4313" stop-color="#00ffff"/><stop offset="0.483" stop-color="#ffff00"/><stop offset="0.5" stop-color="#ffab00"/><stop offset="0.5511" stop-color="#ff0000"/><stop offset="0.5714" stop-color="#bb0000"/><stop offset="0.6429" stop-color="#850000"/><stop offset="0.7143" stop-color="#830000"/><stop offset="0.7857" stop-color="#830000"/><stop offset="0.8571" stop-color="#850000"/><stop offset="0.9286" stop-color="#af0000"/><stop offset="0.9529" stop-color="#ff0000"/><stop offset="1" stop-color="#ff9a00"/></linearGradient>
<linearGradient id="g1_46" gradientUnits="userSpaceOnUse" x1="0" y1="53.20" x2="0" y2="529.20"><stop offset="0" stop-color="#850000"/><stop offset="0.07143" stop-color="#b10000"/><stop offset="0.09515" stop-color="#ff0000"/><stop offset="0.1429" stop-color="#ff9d00"/><stop offset="0.1615" stop-color="#ffff00"/><stop offset="0.2102" stop-color="#00ffff"/><stop offset="0.2143" stop-color="#00e9ff"/><stop offset="0.2857" stop-color="#0046ff"/><stop offset="0.3548" stop-color="#0000ff"/><stop offset="0.3571" stop-color="#0000fd"/><stop offset="0.3578" stop-color="#0000ff"/><stop offset="0.4286" stop-color="#00f2ff"/><stop offset="0.4313" stop-color="#00ffff"/><stop offset="0.4833" stop-color="#ffff00"/><stop offset="0.5" stop-color="#ffad00"/><stop offset="0.5514" stop-color="#ff0000"/><stop offset="0.5714" stop-color="#bc0000"/><stop offset="0.6429" stop-color="#850000"/><stop offset="0.7143" stop-color="#830000"/><stop offset="0.7857" stop-color="#830000"/><stop offset="0.8571" stop-color="#850000"/><stop offset="0.9286" stop-color="#b10000"/><stop offset="0.9523" stop-color="#ff0000"/><stop offset="1" stop-color="#ff9d00"/></linearGradient>
<linearGradient id="g1_47" gradientUnits="userSpaceOnUse" x1="0" y1="53.20" x2="0" y2="529.20"><stop offset="0" stop-color="#850000"/><stop offset="0.07143" stop-color="#b20000"/><stop offset="0.09458" stop-color="#ff0000"/><stop offset="0.1429" stop-color="#ffa000"/><stop offset="0.1611" stop-color="#ffff00"/><stop offset="0.21" stop-color="#00ffff"/><stop offset="0.2143" stop-color="#00e9ff"/><stop offset="0.2857" stop-color="#0048ff"/><stop offset="0.3571" stop-color="#0001ff"/><stop offset="0.4286" stop-color="#00f2ff"/><stop offset="0.4313" stop-color="#00ffff"/><stop offset="0.4835" stop-color="#ffff00"/><stop offset="0.5" stop-color="#ffae00"/><stop offset="0.5516" stop-color="#ff0000"/><stop offset="0.5714" stop-color="#bc0000"/><stop offset="0.6429" stop-color="#850000"/><stop offset="0.7143" stop-color="#830000"/><stop offset="0.7857" stop-color="#830000"/><stop offset="0.8571" stop-color="#850000"/><stop offset="0.9286" stop-color="#b20000"/><stop offset="0.9517" stop-color="#ff0000"/><stop offset="1" stop-color="#ffa000"/></linearGradient>
<linearGradient id="g1_48" gradientUnits="userSpaceOnUse" x1="0" y1="53.20" x2="0" y2="529.20"><stop offset="0" stop-color="#850000"/><stop offset="0.07143" stop-color="#b40000"/><stop offset="0.09406" stop-color="#ff0000"/><stop offset="0.1429" stop-color="#ffa200"/><stop offset="0.1607" stop-color="#ffff00"/><stop offset="0.2099" stop-color="#00ffff"/><stop offset="0.2143" stop-color="#00e8ff"/><stop offset="0.2857" stop-color="#004aff"/><stop offset="0.3571" stop-color="#0004ff"/><stop offset="0.4286" stop-color="#00f2ff"/><stop offset="0.4313" stop-color="#00ffff"/><stop offset="0.4836" stop-color="#ffff00"/><stop offset="0.5" stop-color="#ffaf00"/><stop offset="0.5518" stop-color="#ff0000"/><stop offset="0.5714" stop-color="#bc0000"/><stop offset="0.6429" stop-color="#850000"/><stop offset="0.7143" stop-color="#830000"/><stop offset="0.7857" stop-color="#830000"/><stop offset="0.8571" stop-color="#850000"/><stop offset="0.9286" stop-color="#b40000"/><stop offset="0.9512" stop-color="#ff0000"/><stop offset="1" stop-color="#ffa200"/></linearGradient>
<linearGradient id="g1_49" gradientUnits="userSpaceOnUse" x1="0" y1="53.20" x2="0" y2="529.20"><stop offset="0" stop-color="#850000"/><stop offset="0.07143" stop-color="#b50000"/><stop offset="0.09356" stop-color="#ff0000"/><stop offset="0.1429" stop-color="#ffa500"/><stop offset="0.1604" stop-color="#ffff00"/><stop offset="0.2097" stop-color="#00ffff"/><stop offset="0.2143" stop-color="#00e8ff"/><stop offset="0.2857" stop-color="#004cff"/><stop offset="0.3571" stop-color="#0008ff"/><stop offset="0.4286" stop-color="#00f2ff"/><stop offset="0.4313" stop-color="#00ffff"/><stop offset="0.4837" stop-color="#ffff00"/><stop offset="0.5" stop-color="#ffb000"/><stop offset="0.5519" stop-color="#ff0000"/><stop offset="0.5714" stop-color="#bd0000"/><stop offset="0.6429" stop-color="#850000"/><stop offset="0.7143" stop-color="#830000"/><stop offset="0.7857" stop-color="#830000"/><stop offset="0.8571" stop-color="#850000"/><stop offset="0.9286" stop-color="#b50000"/><stop offset="0.9507" stop-color="#ff0000"/><stop offset="1" stop-color="#ffa500"/></linearGradient>
<linearGradient id="g1_50" gradientUnits="userSpaceOnUse" x1="0" y1="53.20" x2="0" y2="529.20"><stop offset="0" stop-color="#850000"/><stop offset="0.07143" stop-color="#b60000"/><stop offset="0.0931" stop-color="#ff0000"/><stop offset="0.1429" stop-color="#ffa700"/><stop offset="0.16" stop-color="#ffff00"/><stop offset="0.2096" stop-color="#00ffff"/><stop offset="0.2143" stop-color="#00e7ff"/><stop offset="0.2857" stop-color="#004eff"/><stop offset="0.3571" stop-color="#000dff"/><stop offset="0.4286" stop-color="#00f2ff"/><stop offset="0.4313" stop-color="#00ffff"/><stop offset="0.4838" stop-color="#ffff00"/><stop offset="0.5" stop-color="#ffb100"/><stop offset="0.552" stop-color="#ff0000"/><stop offset="0.5714" stop-color="#bd0000"/><stop offset="0.6429" stop-color="#850000"/><stop offset="0.7143" stop-color="#830000"/><stop offset="0.7857" stop-color="#830000"/><stop offset="0.8571" stop-color="#850000"/><stop offset="0.9286" stop-color="#b60000"/><stop offset="0.9502" stop-color="#ff0000"/><stop offset="1" stop-color="#ffa700"/></linearGradient>
<linearGradient id="g1_51" gradientUnits="userSpaceOnUse" x1="0" y1="53.20" x2="0" y2="529.20"><stop offset="0" stop-color="#840000"/><stop offset="0.07143" stop-color="#b80000"/><stop offset="0.09269" stop-color="#ff0000"/><stop offset="0.1429" stop-color="#ffa800"/><stop offset="0.1598" stop-color="#ffff00"/><stop offset="0.2095" stop-color="#00ffff"/><stop offset="0.2143" stop-color="#00e7ff"/><stop offset="0.2857" stop-color="#0050ff"/><stop offset="0.3571" stop-color="#0012ff"/><stop offset="0.4286" stop-color="#00f2ff"/><stop offset="0.4312" stop-color="#00ffff"/><stop offset="0.4839" stop-color="#ffff00"/><stop offset="0.5" stop-color="#ffb100"/><stop offset="0.5521" stop-color="#ff0000"/><stop offset="0.5714" stop-color="#bd0000"/><stop offset="0.6429" stop-color="#850000"/><stop offset="0.7143" stop-color="#830000"/><stop offset="0.7857" stop-color="#830000"/><stop offset="0.8571" stop-color="#840000"/><stop offset="0.9286" stop-color="#b80000"/><stop offset="0.9498" stop-color="#ff0000"/><stop offset="1" stop-color="#ffa800"/></linearGradient>
<linearGradient id="g1_52" gradientUnits="userSpaceOnUse" x1="0" y1="53.20" x2="0" y2="529.20"><stop offset="0" stop-color="#840000"/><stop offset="0.07143" stop-color="#b90000"/><stop offset="0.09234" stop-color="#ff0000"/><stop offset="0.1429" stop-color="#ffaa00"/><stop offset="0.1595" stop-color="#ffff00"/><stop offset="0.2094" stop-color="#00ffff"/><stop offset="0.2143" stop-color="#00e6ff"/><stop offset="0.2857" stop-color="#0051ff"/><stop offset="0.3571" stop-color="#0017ff"/><stop offset="0.4286" stop-color="#00f3ff"/><stop offset="0.4311" stop-color="#00ffff"/><stop offset="0.484" stop-color="#ffff00"/><stop offset="0.5" stop-color="#ffb200"/><stop offset="0.5522" stop-color="#ff0000"/><stop offset="0.5714" stop-color="#be0000"/><stop offset="0.6429" stop-color="#850000"/><stop offset="0.7143" stop-color="#820000"/><stop offset="0.7857" stop-color="#820000"/><stop offset="0.8571" stop-color="#840000"/><stop offset="0.9286" stop-color="#b90000"/><stop offset="0.9495" stop-color="#ff0000"/><stop offset="1" stop-color="#ffaa00"/></linearGradient>
<linearGradient id="g1_53" gradientUnits="userSpaceOnUse" x1="0" y1="53.20" x2="0" y2="529.20"><stop offset="0" stop-color="#840000"/><stop offset="0.07143" stop-color="#ba0000"/><stop offset="0.09204" stop-color="#ff0000"/><stop offset="0.1429" stop-color="#ffab00"/><stop offset="0.1593" stop-color="#ffff00"/><stop offset="0.2093" stop-color="#00ffff"/><stop offset="0.2143" stop-color="#00e5ff"/><stop offset="0.2857" stop-color="#0051ff"/><stop offset="0.3571" stop-color="#001dff"/><stop offset="0.4286" stop-color="#00f3ff"/><stop offset="0.431" stop-color="#00ffff"/><stop offset="0.4841" stop-color="#ffff00"/><stop offset="0.5" stop-color="#ffb200"/><stop offset="0.5523" stop-color="#ff0000"/><stop offset="0.5714" stop-color="#be0000"/><stop offset="0.6429" stop-color="#850000"/><stop offset="0.7143" stop-color="#820000"/><stop offset="0.7857" stop-color="#820000"/><stop offset="0.8571" stop-color="#840000"/><stop offset="0.9286" stop-color="#ba0000"/><stop offset="0.9492" stop-color="#ff0000"/><stop offset="1" stop-color="#ffab00"/></linearGradient>
<linearGradient id="g1_54" gradientUnits="userSpaceOnUse" x1="0" y1="53.20" x2="0" y2="529.20"><stop offset="0" stop-color="#840000"/><stop offset="0.07143" stop-color="#ba0000"/><stop offset="0.09178" stop-color="#ff0000"/><stop offset="0.1429" stop-color="#ffad00"/><stop offset="0.1591" stop-color="#ffff00"/><stop offset="0.2091" stop-color="#00ffff"/><stop offset="0.2143" stop-color="#00e5ff"/><stop offset="0.2857" stop-color="#0051ff"/><stop offset="0.3571" stop-color="#0021ff"/><stop offset="0.4286" stop-color="#00f4ff"/><stop offset="0.4308" stop-color="#00ffff"/><stop offset="0.4841" stop-color="#ffff00"/><stop offset="0.5" stop-color="#ffb300"/><stop offset="0.5523" stop-color="#ff0000"/><stop offset="0.5714" stop-color="#be0000"/><stop offset="0.6429" stop-color="#850000"/><stop offset="0.7143" stop-color="#820000"/><stop offset="0.7857" stop-color="#820000"/><stop offset="0.8571" stop-color="#840000"/><stop offset="0.9286" stop-color="#ba0000"/><stop offset="0.9489" stop-color="#ff0000"/><stop offset="1" stop-color="#ffad00"/></linearGradient>
<linearGradient id="g1_55" gradientUnits="userSpaceOnUse" x1="0" y1="53.20" x2="0" y2="529.20"><stop offset="0" stop-color="#840000"/><stop offset="0.07143" stop-color="#bb0000"/><stop offset="0.09155" stop-color="#ff0000"/><stop offset="0.1429" stop-color="#ffae00"/><stop offset="0.1589" stop-color="#ffff00"/><stop offset="0.209" stop-color="#00ffff"/><stop offset="0.2143" stop-color="#00e4ff"/><stop offset="0.2857" stop-color="#004fff"/><stop offset="0.3571" stop-color="#0023ff"/><stop offset="0.4286" stop-color="#00f5ff"/><stop offset="0.4306" stop-color="#00ffff"/><stop offset="0.4841" stop-color="#ffff00"/><stop offset="0.5" stop-color="#ffb300"/><stop offset="0.5524" stop-color="#ff0000"/><stop offset="0.5714" stop-color="#be0000"/><stop offset="0.6429" stop-color="#850000"/><stop offset="0.7143" stop-color="#820000"/><stop offset="0.7857" stop-color="#820000"/><stop offset="0.8571" stop-color="#840000"/><stop offset="0.9286" stop-color="#bb0000"/><stop offset="0.9487" stop-color="#ff0000"/><stop offset="1" stop-color="#ffae00"/></linearGradient>
<linearGradient id="g1_56" gradientUnits="userSpaceOnUse" x1="0" y1="53.20" x2="0" y2="529.20"><stop offset="0" stop-color="#840000"/><stop offset="0.07143" stop-color="#bb0000"/><stop offset="0.09136" stop-color="#ff0000"/><stop offset="0.1429" stop-color="#ffae00"/><stop offset="0.1587" stop-color="#ffff00"/><stop offset="0.2089" stop-color="#00ffff"/><stop offset="0.2143" stop-color="#00e3ff"/><stop offset="0.2857" stop-color="#004eff"/><stop offset="0.3571" stop-color="#0023ff"/><stop offset="0.4286" stop-color="#00f7ff"/><stop offset="0.4304" stop-color="#00ffff"/><stop offset="0.4842" stop-color="#ffff00"/><stop offset="0.5" stop-color="#ffb400"/><stop offset="0.5524" stop-color="#ff0000"/><stop offset="0.5714" stop-color="#be0000"/><stop offset="0.6429" stop-color="#850000"/><stop offset="0.7143" stop-color="#820000"/><stop offset="0.7857" stop-color="#820000"/><stop offset="0.8571" stop-color="#840000"/><stop offset="0.9286" stop-color="#bb0000"/><stop offset="0.9485" stop-color="#ff0000"/><stop offset="1" stop-color="#ffae00"/></linearGradient>
<linearGradient id="g1_57" gradientUnits="userSpaceOnUse" x1="0" y1="53.20" x2="0" y2="529.20"><stop offset="0" stop-color="#840000"/><stop offset="0.07143" stop-color="#bc0000"/><stop offset="0.09121" stop-color="#ff0000"/><stop offset="0.1429" stop-color="#ffaf00"/><stop offset="0.1586" stop-color="#ffff00"/><stop offset="0.2088" stop-color="#00ffff"/><stop offset="0.2143" stop-color="#00e3ff"/><stop offset="0.2857" stop-color="#004cff"/><stop offset="0.3571" stop-color="#0022ff"/><stop offset="0.4286" stop-color="#00f8ff"/><stop offset="0.4301" stop-color="#00ffff"/><stop offset="0.4842" stop-color="#ffff00"/><stop offset="0.5" stop-color="#ffb500"/><stop offset="0.5524" stop-color="#ff0000"/><stop offset="0.5714" stop-color="#be0000"/><stop offset="0.6429" stop-color="#850000"/><stop offset="0.7143" stop-color="#820000"/><stop offset="0.7857" stop-color="#820000"/><stop offset="0.8571" stop-color="#840000"/><stop offset="0.9286" stop-color="#bc0000"/><stop offset="0.9484" stop-color="#ff0000"/><stop offset="1" stop-color="#ffaf00"/></linearGradient>
<linearGradient id="g1_58" gradientUnits="userSpaceOnUse" x1="0" y1="53.20" x2="0" y2="529.20"><stop offset="0" stop-color="#840000"/><stop offset="0.07143" stop-color="#bc0000"/><stop offset="0.09113" stop-color="#ff0000"/><stop offset="0.1429" stop-color="#ffb000"/><stop offset="0.1585" stop-color="#ffff00"/><stop offset="0.2087" stop-color="#00ffff"/><stop offset="0.2143" stop-color="#00e2ff"/><stop offset="0.2857" stop-color="#0049ff"/><stop offset="0.3571" stop-color="#0021ff"/><stop offset="0.4286" stop-color="#00f9ff"/><stop offset="0.4298" stop-color="#00ffff"/><stop offset="0.4842" stop-color="#ffff00"/><stop offset="0.5" stop-color="#ffb500"/><stop offset="0.5524" stop-color="#ff0000"/><stop offset="0.5714" stop-color="#bd0000"/><stop offset="0.6429" stop-color="#850000"/><stop offset="0.7143" stop-color="#820000"/><stop offset="0.7857" stop-color="#820000"/><stop offset="0.8571" stop-color="#840000"/><stop offset="0.9286" stop-color="#bc0000"/><stop offset="0.9483" stop-color="#ff0000"/><stop offset="1" stop-color="#ffb000"/></linearGradient>
<linearGradient id="g1_59" gradientUnits="userSpaceOnUse" x1="0" y1="53.20" x2="0" y2="529.20"><stop offset="0" stop-color="#840000"/><stop offset="0.07143" stop-color="#bc0000"/><stop offset="0.09112" stop-color="#ff0000"/><stop offset="0.1429" stop-color="#ffb000"/><stop offset="0.1584" stop-color="#ffff00"/><stop offset="0.2086" stop-color="#00ffff"/><stop offset="0.2143" stop-color="#00e2ff"/><stop offset="0.2857" stop-color="#0047ff"/><stop offset="0.3571" stop-color="#0020ff"/><stop offset="0.4286" stop-color="#00fbff"/><stop offset="0.4295" stop-color="#00ffff"/><stop offset="0.4842" stop-color="#ffff00"/><stop offset="0.5" stop-color="#ffb600"/><stop offset="0.5524" stop-color="#ff0000"/><stop offset="0.5714" stop-color="#bd0000"/><stop offset="0.6429" stop-color="#850000"/><stop offset="0.7143" stop-color="#820000"/><stop offset="0.7857" stop-color="#820000"/><stop offset="0.8571" stop-color="#840000"/><stop offset="0.9286" stop-color="#bc0000"/><stop offset="0.9483" stop-color="#ff0000"/><stop offset="1" stop-color="#ffb000"/></linearGradient>
<linearGradient id="g1_60" gradientUnits="userSpaceOnUse" x1="0" y1="53.20" x2="0" y2="529.20"><stop offset="0" stop-color="#840000"/><stop offset="0.07143" stop-color="#bb0000"/><stop offset="0.09121" stop-color="#ff0000"/><stop offset="0.1429" stop-color="#ffb000"/><stop offset="0.1583" stop-color="#ffff00"/><stop offset="0.2085" stop-color="#00ffff"/><stop offset="0.2143" stop-color="#00e1ff"/><stop offset="0.2857" stop-color="#0044ff"/><stop offset="0.3571" stop-color="#0021ff"/><stop offset="0.4286" stop-color="#00fcff"/><stop offset="0.4292" stop-color="#00ffff"/><stop offset="0.4843" stop-color="#ffff00"/><stop offset="0.5" stop-color="#ffb600"/><stop offset="0.5524" stop-color="#ff0000"/><stop offset="0.5714" stop-color="#bd0000"/><stop offset="0.6429" stop-color="#850000"/><stop offset="0.7143" stop-color="#820000"/><stop offset="0.7857" stop-color="#820000"/><stop offset="0.8571" stop-color="#840000"/><stop offset="0.9286" stop-color="#bb0000"/><stop offset="0.9484" stop-color="#ff0000"/><stop offset="1" stop-color="#ffb000"/></linearGradient>
<linearGradient id="g1_61" gradientUnits="userSpaceOnUse" x1="0" y1="53.20" x2="0" y2="529.20"><stop offset="0" stop-color="#840000"/><stop offset="0.07143" stop-color="#ba0000"/><stop offset="0.09144" stop-color="#ff0000"/><stop offset="0.1429" stop-color="#ffb100"/><stop offset="0.1582" stop-color="#ffff00"/><stop offset="0.2084" stop-color="#00ffff"/><stop offset="0.2143" stop-color="#00e1ff"/><stop offset="0.2857" stop-color="#0041ff"/><stop offset="0.3571" stop-color="#0022ff"/><stop offset="0.4286" stop-color="#00feff"/><stop offset="0.4289" stop-color="#00ffff"/><stop offset="0.4843" stop-color="#ffff00"/><stop offset="0.5" stop-color="#ffb700"/><stop offset="0.5523" stop-color="#ff0000"/><stop offset="0.5714" stop-color="#bc0000"/><stop offset="0.6429" stop-color="#850000"/><stop offset="0.7143" stop-color="#820000"/><stop offset="0.7857" stop-color="#820000"/><stop offset="0.8571" stop-color="#840000"/><stop offset="0.9286" stop-color="#ba0000"/><stop offset="0.9486" stop-color="#ff0000"/><stop offset="1" stop-color="#ffb100"/></linearGradient>
<linearGradient id="g1_62" gradientUnits="userSpaceOnUse" x1="0" y1="53.20" x2="0" y2="529.20"><stop offset="0" stop-color="#840000"/><stop offset="0.07143" stop-color="#b80000"/><stop offset="0.09179" stop-color="#ff0000"/><stop offset="0.1429" stop-color="#ffb200"/><stop offset="0.1581" stop-color="#ffff00"/><stop offset="0.2083" stop-color="#00ffff"/><stop offset="0.2143" stop-color="#00e0ff"/><stop offset="0.2857" stop-color="#003dff"/><stop offset="0.3571" stop-color="#0023ff"/><stop offset="0.4286" stop-color="#00ffff"/><stop offset="0.4286" stop-color="#00ffff"/><stop offset="0.4843" stop-color="#ffff00"/><stop offset="0.5" stop-color="#ffb700"/><stop offset="0.5522" stop-color="#ff0000"/><stop offset="0.5714" stop-color="#bb0000"/><stop offset="0.6429" stop-color="#850000"/><stop offset="0.7143" stop-color="#820000"/><stop offset="0.7857" stop-color="#820000"/><stop offset="0.8571" stop-color="#840000"/><stop offset="0.9286" stop-color="#b80000"/><stop offset="0.9489" stop-color="#ff0000"/><stop offset="1" stop-color="#ffb200"/></linearGradient>
<clipPath id="clip1"><rect x="92.30" y="53.80" width="618.20" height="475.20"/></clipPath>
<clipPath id="cclip1"><rect x="91.30" y="40" width="620.20" height="489.60"/></clipPath>
<linearGradient id="g2_0" gradientUnits="userSpaceOnUse" x1="0" y1="53.20" x2="0" y2="529.20"><stop offset="0" stop-color="#a10000"/><stop offset="0.07143" stop-color="#c10000"/><stop offset="0.1429" stop-color="#f10000"/><stop offset="0.1456" stop-color="#ff0000"/><stop offset="0.1975" stop-color="#ffff00"/><stop offset="0.2143" stop-color="#acff53"/><stop offset="0.2857" stop-color="#71ff8e"/><stop offset="0.3571" stop-color="#99ff66"/><stop offset="0.3881" stop-color="#ffff00"/><stop offset="0.4286" stop-color="#ff7a00"/><stop offset="0.4801" stop-color="#ff0000"/><stop offset="0.5" stop-color="#d00000"/><stop offset="0.5714" stop-color="#af0000"/><stop offset="0.6429" stop-color="#990000"/><stop offset="0.7143" stop-color="#a10000"/><stop offset="0.7857" stop-color="#a10000"/><stop offset="0.8571" stop-color="#a10000"/><stop offset="0.9286" stop-color="#c10000"/><stop offset="1" stop-color="#f10000"/></linearGradient>
<linearGradient id="g2_1" gradientUnits="userSpaceOnUse" x1="0" y1="53.20" x2="0" y2="529.20"><stop offset="0" stop-color="#9f0000"/><stop offset="0.07143" stop-color="#be0000"/><stop offset="0.1429" stop-color="#f20000"/><stop offset="0.1455" stop-color="#ff0000"/><stop offset="0.1974" stop-color="#ffff00"/><stop offset="0.2143" stop-color="#acff53"/><stop offset="0.2857" stop-color="#6eff91"/><stop offset="0.3571" stop-color="#8eff71"/><stop offset="0.3915" stop-color="#ffff00"/><stop offset="0.4286" stop-color="#ff8500"/><stop offset="0.4823" stop-color="#ff0000"/><stop offset="0.5" stop-color="#d30000"/><stop offset="0.5714" stop-color="#af0000"/><stop offset="0.6429" stop-color="#970000"/><stop offset="0.7143" stop-color="#9f0000"/><stop offset="0.7857" stop-color="#9f0000"/><stop offset="0.8571" stop-color="#9f0000"/><stop offset="0.9286" stop-color="#be0000"/><stop offset="1" stop-color="#f20000"/></linearGradient>
<linearGradient id="g2_2" gradientUnits="userSpaceOnUse" x1="0" y1="53.20" x2="0" y2="529.20"><stop offset="0" stop-color="#9b0000"/><stop offset="0.07143" stop-color="#ba0000"/><stop offset="0.1429" stop-color="#f30000"/><stop offset="0.1453" stop-color="#ff0000"/><stop offset="0.1974" stop-color="#ffff00"/><stop offset="0.2143" stop-color="#acff53"/><stop offset="0.2857" stop-color="#69ff96"/><stop offset="0.3571" stop-color="#80ff7f"/><stop offset="0.3955" stop-color="#ffff00"/><stop offset="0.4286" stop-color="#ff9200"/><stop offset="0.4846" stop-color="#ff0000"/><stop offset="0.5" stop-color="#d70000"/><stop offset="0.5714" stop-color="#af0000"/><stop offset="0.6429" stop-color="#960000"/><stop offset="0.7143" stop-color="#9b0000"/><stop offset="0.7857" stop-color="#9b0000"/><stop offset="0.8571" stop-color="#9b0000"/><stop offset="0.9286" stop-color="#ba0000"/><stop offset="1" stop-color="#f30000"/></linearGradient>
<linearGradient id="g2_3" gradientUnits="userSpaceOnUse" x1="0" y1="53.20" x2="0" y2="529.20"><stop offset="0" stop-color="#980000"/><stop offset="0.07143" stop-color="#b60000"/><stop offset="0.1429" stop-color="#f40000"/><stop offset="0.1452" stop-color="#ff0000"/><stop offset="0.1973" stop-color="#ffff00"/><stop offset="0.2143" stop-color="#acff53"/><stop offset="0.2857" stop-color="#65ff9a"/><stop offset="0.3571" stop-color="#70ff8f"/><stop offset="0.3998" stop-color="#ffff00"/><stop offset="0.4286" stop-color="#ff9f00"/><stop offset="0.4868" stop-color="#ff0000"/><stop offset="0.5" stop-color="#db0000"/><stop offset="0.5714" stop-color="#af0000"/><stop offset="0.6429" stop-color="#940000"/><stop offset="0.7143" stop-color="#980000"/><stop offset="0.7857" stop-color="#980000"/><stop offset="0.8571" stop-color="#980000"/><stop offset="0.9286" stop-color="#b60000"/><stop offset="1" stop-color="#f40000"/></linearGradient>
<linearGradient id="g2_4" gradientUnits="userSpaceOnUse" x1="0" y1="53.20" x2="0" y2="529.20"><stop offset="0" stop-color="#960000"/><stop offset="0.07143" stop-color="#b30000"/><stop offset="0.1429" stop-color="#f40000"/><stop offset="0.145" stop-color="#ff0000"/><stop offset="0.1972" stop-color="#ffff00"/><stop offset="0.2143" stop-color="#acff53"/><stop offset="0.2857" stop-color="#60ff9f"/><stop offset="0.3571" stop-color="#5effa1"/><stop offset="0.4044" stop-color="#ffff00"/><stop offset="0.4286" stop-color="#ffad00"/><stop offset="0.4888" stop-color="#ff0000"/><stop offset="0.5" stop-color="#df0000"/><stop offset="0.5714" stop-color="#b00000"/><stop offset="0.6429" stop-color="#920000"/><stop offset="0.7143" stop-color="#950000"/><stop offset="0.7857" stop-color="#950000"/><stop offset="0.8571" stop-color="#960000"/><stop offset="0.9286" stop-color="#b30000"/><stop offset="1" stop-color="#f40000"/></linearGradient>
<linearGradient id="g2_5" gradientUnits="userSpaceOnUse" x1="0" y1="53.20" x2="0" y2="529.20"><stop offset="0" stop-color="#930000"/><stop offset="0.07143" stop-color="#b00000"/><stop offset="0.1429" stop-color="#f50000"/><stop offset="0.1448" stop-color="#ff0000"/><stop offset="0.1971" stop-color="#ffff00"/><stop offset="0.2143" stop-color="#abff54"/><stop offset="0.2857" stop-color="#5affa5"/><stop offset="0.3571" stop-color="#4affb5"/><stop offset="0.4092" stop-color="#ffff00"/><stop offset="0.4286" stop-color="#ffbc00"/><stop offset="0.4907" stop-color="#ff0000"/><stop offset="0.5" stop-color="#e30000"/><stop offset="0.5714" stop-color="#b00000"/><stop offset="0.6429" stop-color="#900000"/><stop offset="0.7143" stop-color="#930000"/><stop offset="0.7857" stop-color="#930000"/><stop offset="0.8571" stop-color="#930000"/><stop offset="0.9286" stop-color="#b00000"/><stop offset="1" stop-color="#f50000"/></linearGradient>
<linearGradient id="g2_6" gradientUnits="userSpaceOnUse" x1="0" y1="53.20" x2="0" y2="529.20"><stop offset="0" stop-color="#900000"/><stop offset="0.07143" stop-color="#ae0000"/><stop offset="0.1429" stop-color="#f70000"/><stop offset="0.1446" stop-color="#ff0000"/><stop offset="0.1968" stop-color="#ffff00"/><stop offset="0.2143" stop-color="#aaff55"/><stop offset="0.2857" stop-color="#53ffac"/><stop offset="0.3571" stop-color="#35ffca"/><stop offset="0.4142" stop-color="#ffff00"/><stop offset="0.4286" stop-color="#ffcc00"/><stop offset="0.4923" stop-color="#ff0000"/><stop offset="0.5" stop-color="#e60000"/><stop offset="0.5714" stop-color="#b00000"/><stop offset="0.6429" stop-color="#8f0000"/><stop offset="0.7143" stop-color="#900000"/><stop offset="0.7857" stop-color="#900000"/><stop offset="0.8571" stop-color="#900000"/><stop offset="0.9286" stop-color="#ae0000"/><stop offset="1" stop-color="#f70000"/></linearGradient>
<linearGradient id="g2_7" gradientUnits="userSpaceOnUse" x1="0" y1="53.20" x2="0" y2="529.20"><stop offset="0" stop-color="#8e0000"/><stop offset="0.07143" stop-color="#ac0000"/><stop offset="0.1429" stop-color="#f80000"/><stop offset="0.1442" stop-color="#ff0000"/><stop offset="0.1965" stop-color="#ffff00"/><stop offset="0.2143" stop-color="#a8ff57"/><stop offset="0.2857" stop-color="#4bffb4"/><stop offset="0.3571" stop-color="#22ffdd"/><stop offset="0.4194" stop-color="#ffff00"/><stop offset="0.4286" stop-color="#ffde00"/><stop offset="0.4938" stop-color="#ff0000"/><stop offset="0.5" stop-color="#ea0000"/><stop offset="0.5714" stop-color="#b00000"/><stop offset="0.6429" stop-color="#8d0000"/><stop offset="0.7143" stop-color="#8d0000"/><stop offset="0.7857" stop-color="#8d0000"/><stop offset="0.8571" stop-color="#8e0000"/><stop offset="0.9286" stop-color="#ac0000"/><stop offset="1" stop-color="#f80000"/></linearGradient>
<linearGradient id="g2_8" gradientUnits="userSpaceOnUse" x1="0" y1="53.20" x2="0" y2="529.20"><stop offset="0" stop-color="#8b0000"/><stop offset="0.07143" stop-color="#ab0000"/><stop offset="0.1429" stop-color="#fa0000"/><stop offset="0.1438" stop-color="#ff0000"/><stop offset="0.196" stop-color="#ffff00"/><stop offset="0.2143" stop-color="#a6ff59"/><stop offset="0.2857" stop-color="#41ffbe"/><stop offset="0.3571" stop-color="#10ffef"/><stop offset="0.4253" stop-color="#ffff00"/><stop offset="0.4286" stop-color="#fff400"/><stop offset="0.4954" stop-color="#ff0000"/><stop offset="0.5" stop-color="#ee0000"/><stop offset="0.5714" stop-color="#b00000"/><stop offset="0.6429" stop-color="#8c0000"/><stop offset="0.7143" stop-color="#8b0000"/><stop offset="0.7857" stop-color="#8b0000"/><stop offset="0.8571" stop-color="#8b0000"/><stop offset="0.9286" stop-color="#ab0000"/><stop offset="1" stop-color="#fa0000"/></linearGradient>
<linearGradient id="g2_9" gradientUnits="userSpaceOnUse" x1="0" y1="53.20" x2="0" y2="529.20"><stop offset="0" stop-color="#890000"/><stop offset="0.07143" stop-color="#aa0000"/><stop offset="0.1429" stop-color="#fc0000"/><stop offset="0.1435" stop-color="#ff0000"/><stop offset="0.1955" stop-color="#ffff00"/><stop offset="0.2143" stop-color="#a3ff5c"/><stop offset="0.2857" stop-color="#36ffc9"/><stop offset="0.3571" stop-color="#02fffd"/><stop offset="0.4286" stop-color="#f6ff09"/><stop offset="0.4308" stop-color="#ffff00"/><stop offset="0.497" stop-color="#ff0000"/><stop offset="0.5" stop-color="#f40000"/><stop offset="0.5714" stop-color="#b10000"/><stop offset="0.6429" stop-color="#8a0000"/><stop offset="0.7143" stop-color="#890000"/><stop offset="0.7857" stop-color="#890000"/><stop offset="0.8571" stop-color="#890000"/><stop offset="0.9286" stop-color="#aa0000"/><stop offset="1" stop-color="#fc0000"/></linearGradient>
<linearGradient id="g2_10" gradientUnits="userSpaceOnUse" x1="0" y1="53.20" x2="0" y2="529.20"><stop offset="0" stop-color="#880000"/><stop offset="0.07143" stop-color="#a90000"/><stop offset="0.1429" stop-color="#fe0000"/><stop offset="0.143" stop-color="#ff0000"/><stop offset="0.195" stop-color="#ffff00"/><stop offset="0.2143" stop-color="#a0ff5f"/><stop offset="0.2857" stop-color="#2bffd4"/><stop offset="0.3433" stop-color="#00ffff"/><stop offset="0.3571" stop-color="#00f5ff"/><stop offset="0.3602" stop-color="#00ffff"/><stop offset="0.4286" stop-color="#e3ff1c"/><stop offset="0.4356" stop-color="#ffff00"/><stop offset="0.4989" stop-color="#ff0000"/><stop offset="0.5" stop-color="#fb0000"/><stop offset="0.5714" stop-color="#b20000"/><stop offset="0.6429" stop-color="#890000"/><stop offset="0.7143" stop-color="#870000"/><stop offset="0.7857" stop-color="#870000"/><stop offset="0.8571" stop-color="#880000"/><stop offset="0.9286" stop-color="#a90000"/><stop offset="1" stop-color="#fe0000"/></linearGradient>
<linearGradient id="g2_11" gradientUnits="userSpaceOnUse" x1="0" y1="53.20" x2="0" y2="529.20"><stop offset="0" stop-color="#860000"/><stop offset="0.07143" stop-color="#a90000"/><stop offset="0.1412" stop-color="#ff0000"/><stop offset="0.1429" stop-color="#ff0200"/><stop offset="0.1944" stop-color="#ffff00"/><stop offset="0.2143" stop-color="#9dff62"/><stop offset="0.2857" stop-color="#1effe1"/><stop offset="0.3279" stop-color="#00ffff"/><stop offset="0.3571" stop-color="#00eaff"/><stop offset="0.3637" stop-color="#00ffff"/><stop offset="0.4286" stop-color="#d0ff2f"/><stop offset="0.4399" stop-color="#ffff00"/><stop offset="0.5" stop-color="#ff0400"/><stop offset="0.5038" stop-color="#ff0000"/><stop offset="0.5714" stop-color="#b30000"/><stop offset="0.6429" stop-color="#890000"/><stop offset="0.7143" stop-color="#860000"/><stop offset="0.7857" stop-color="#860000"/><stop offset="0.8571" stop-color="#860000"/><stop offset="0.9286" stop-color="#a90000"/><stop offset="0.9984" stop-color="#ff0000"/><stop offset="1" stop-color="#ff0200"/></linearGradient>
<linearGradient id="g2_12" gradientUnits="userSpaceOnUse" x1="0" y1="53.20" x2="0" y2="529.20"><stop offset="0" stop-color="#850000"/><stop offset="0.07143" stop-color="#a90000"/><stop offset="0.1388" stop-color="#ff0000"/><stop offset="0.1429" stop-color="#ff0500"/><stop offset="0.1937" stop-color="#ffff00"/><stop offset="0.2143" stop-color="#9aff65"/><stop offset="0.2857" stop-color="#12ffed"/><stop offset="0.3112" stop-color="#00ffff"/><stop offset="0.3571" stop-color="#00dfff"/><stop offset="0.3673" stop-color="#00ffff"/><stop offset="0.4286" stop-color="#bfff40"/><stop offset="0.4436" stop-color="#ffff00"/><stop offset="0.5" stop-color="#ff0f00"/><stop offset="0.5117" stop-color="#ff0000"/><stop offset="0.5714" stop-color="#b50000"/><stop offset="0.6429" stop-color="#880000"/><stop offset="0.7143" stop-color="#840000"/><stop offset="0.7857" stop-color="#840000"/><stop offset="0.8571" stop-color="#850000"/><stop offset="0.9286" stop-color="#a90000"/><stop offset="0.996" stop-color="#ff0000"/><stop offset="1" stop-color="#ff0500"/></linearGradient>
<linearGradient id="g2_13" gradientUnits="userSpaceOnUse" x1="0" y1="53.20" x2="0" y2="529.20"><stop offset="0" stop-color="#840000"/><stop offset="0.07143" stop-color="#a80000"/><stop offset="0.1363" stop-color="#ff0000"/><stop offset="0.1429" stop-color="#ff0900"/><stop offset="0.1929" stop-color="#ffff00"/><stop offset="0.2143" stop-color="#96ff69"/><stop offset="0.2857" stop-color="#05fffa"/><stop offset="0.2931" stop-color="#00ffff"/><stop offset="0.3571" stop-color="#00d4ff"/><stop offset="0.3713" stop-color="#00ffff"/><stop offset="0.4286" stop-color="#afff50"/><stop offset="0.447" stop-color="#ffff00"/><stop offset="0.5" stop-color="#ff1900"/><stop offset="0.5185" stop-color="#ff0000"/><stop offset="0.5714" stop-color="#b60000"/><stop offset="0.6429" stop-color="#870000"/><stop offset="0.7143" stop-color="#830000"/><stop offset="0.7857" stop-color="#830000"/><stop offset="0.8571" stop-color="#840000"/><stop offset="0.9286" stop-color="#a80000"/><stop offset="0.9935" stop-color="#ff0000"/><stop offset="1" stop-color="#ff0900"/></linearGradient>
<linearGradient id="g2_14" gradientUnits="userSpaceOnUse" x1="0" y1="53.20" x2="0" y2="529.20"><stop offset="0" stop-color="#830000"/><stop offset="0.07143" stop-color="#a80000"/><stop offset="0.1339" stop-color="#ff0000"/><stop offset="0.1429" stop-color="#ff0d00"/><stop offset="0.192" stop-color="#ffff00"/><stop offset="0.2143" stop-color="#91ff6e"/><stop offset="0.2826" stop-color="#00ffff"/><stop offset="0.2857" stop-color="#00f8ff"/><stop offset="0.3571" stop-color="#00c6ff"/><stop offset="0.3759" stop-color="#00ffff"/><stop offset="0.4286" stop-color="#a1ff5e"/><stop offset="0.45" stop-color="#ffff00"/><stop offset="0.5" stop-color="#ff2400"/><stop offset="0.5239" stop-color="#ff0000"/><stop offset="0.5714" stop-color="#b80000"/><stop offset="0.6429" stop-color="#870000"/><stop offset="0.7143" stop-color="#830000"/><stop offset="0.7857" stop-color="#830000"/><stop offset="0.8571" stop-color="#830000"/><stop offset="0.9286" stop-color="#a80000"/><stop offset="0.991" stop-color="#ff0000"/><stop offset="1" stop-color="#ff0d00"/></linearGradient>
<linearGradient id="g2_15" gradientUnits="userSpaceOnUse" x1="0" y1="53.20" x2="0" y2="529.20"><stop offset="0" stop-color="#830000"/><stop offset="0.07143" stop-color="#a80000"/><stop offset="0.1313" stop-color="#ff0000"/><stop offset="0.1429" stop-color="#ff1100"/><stop offset="0.1911" stop-color="#ffff00"/><stop offset="0.2143" stop-color="#8dff72"/><stop offset="0.2781" stop-color="#00ffff"/><stop offset="0.2857" stop-color="#00eeff"/><stop offset="0.3571" stop-color="#00b5ff"/><stop offset="0.381" stop-color="#00ffff"/><stop offset="0.4286" stop-color="#93ff6c"/><stop offset="0.4528" stop-color="#ffff00"/><stop offset="0.5" stop-color="#ff2d00"/><stop offset="0.5281" stop-color="#ff0000"/><stop offset="0.5714" stop-color="#ba0000"/><stop offset="0.6429" stop-color="#860000"/><stop offset="0.7143" stop-color="#820000"/><stop offset="0.7857" stop-color="#820000"/><stop offset="0.8571" stop-color="#830000"/><stop offset="0.9286" stop-color="#a80000"/><stop offset="0.9885" stop-color="#ff0000"/><stop offset="1" stop-color="#ff1100"/></linearGradient>
<linearGradient id="g2_16" gradientUnits="userSpaceOnUse" x1="0" y1="53.20" x2="0" y2="529.20"><stop offset="0" stop-color="#820000"/><stop offset="0.07143" stop-color="#a70000"/><stop offset="0.1287" stop-color="#ff0000"/><stop offset="0.1429" stop-color="#ff1600"/><stop offset="0.1902" stop-color="#ffff00"/><stop offset="0.2143" stop-color="#88ff77"/><stop offset="0.2743" stop-color="#00ffff"/><stop offset="0.2857" stop-color="#00e5ff"/><stop offset="0.3571" stop-color="#00a3ff"/><stop offset="0.3863" stop-color="#00ffff"/><stop offset="0.4286" stop-color="#86ff79"/><stop offset="0.4553" stop-color="#ffff00"/><stop offset="0.5" stop-color="#ff3500"/><stop offset="0.5313" stop-color="#ff0000"/><stop offset="0.5714" stop-color="#bc0000"/><stop offset="0.6429" stop-color="#860000"/><stop offset="0.7143" stop-color="#820000"/><stop offset="0.7857" stop-color="#820000"/><stop offset="0.8571" stop-color="#820000"/><stop offset="0.9286" stop-color="#a70000"/><stop offset="0.9859" stop-color="#ff0000"/><stop offset="1" stop-color="#ff1600"/></linearGradient>
<linearGradient id="g2_17" gradientUnits="userSpaceOnUse" x1="0" y1="53.20" x2="0" y2="529.20"><stop offset="0" stop-color="#820000"/><stop offset="0.07143" stop-color="#a70000"/><stop offset="0.126" stop-color="#ff0000"/><stop offset="0.1429" stop-color="#ff1b00"/><stop offset="0.1891" stop-color="#ffff00"/><stop offset="0.2143" stop-color="#83ff7c"/><stop offset="0.2709" stop-color="#00ffff"/><stop offset="0.2857" stop-color="#00ddff"/><stop offset="0.3571" stop-color="#0090ff"/><stop offset="0.3914" stop-color="#00ffff"/><stop offset="0.4286" stop-color="#79ff86"/><stop offset="0.4577" stop-color="#ffff00"/><stop offset="0.5" stop-color="#ff3c00"/><stop offset="0.5338" stop-color="#ff0000"/><stop offset="0.5714" stop-color="#bd0000"/><stop offset="0.6429" stop-color="#860000"/><stop offset="0.7143" stop-color="#810000"/><stop offset="0.7857" stop-color="#810000"/><stop offset="0.8571" stop-color="#820000"/><stop offset="0.9286" stop-color="#a70000"/><stop offset="0.9832" stop-color="#ff0000"/><stop offset="1" stop-color="#ff1b00"/></linearGradient>
<linearGradient id="g2_18" gradientUnits="userSpaceOnUse" x1="0" y1="53.20" x2="0" y2="529.20"><stop offset="0" stop-color="#820000"/><stop offset="0.07143" stop-color="#a70000"/><stop offset="0.1235" stop-color="#ff0000"/><stop offset="0.1429" stop-color="#ff2100"/><stop offset="0.1879" stop-color="#ffff00"/><stop offset="0.2143" stop-color="#7dff82"/><stop offset="0.2672" stop-color="#00ffff"/><stop offset="0.2857" stop-color="#00d3ff"/><stop offset="0.3571" stop-color="#007dff"/><stop offset="0.3963" stop-color="#00ffff"/><stop offset="0.4286" stop-color="#6bff94"/><stop offset="0.46" stop-color="#ffff00"/><stop offset="0.5" stop-color="#ff4300"/><stop offset="0.536" stop-color="#ff0000"/><stop offset="0.5714" stop-color="#bd0000"/><stop offset="0.6429" stop-color="#860000"/><stop offset="0.7143" stop-color="#810000"/><stop offset="0.7857" stop-color="#810000"/><stop offset="0.8571" stop-color="#820000"/><stop offset="0.9286" stop-color="#a70000"/><stop offset="0.9807" stop-color="#ff0000"/><stop offset="1" stop-color="#ff2100"/></linearGradient>
<linearGradient id="g2_19" gradientUnits="userSpaceOnUse" x1="0" y1="53.20" x2="0" y2="529.20"><stop offset="0" stop-color="#820000"/><stop offset="0.07143" stop-color="#a60000"/><stop offset="0.1214" stop-color="#ff0000"/><stop offset="0.1429" stop-color="#ff2600"/><stop offset="0.1866" stop-color="#ffff00"/><stop offset="0.2143" stop-color="#76ff89"/><stop offset="0.2629" stop-color="#00ffff"/><stop offset="0.2857" stop-color="#00c8ff"/><stop offset="0.3571" stop-color="#006cff"/><stop offset="0.4011" stop-color="#00ffff"/><stop offset="0.4286" stop-color="#5cffa3"/><stop offset="0.4624" stop-color="#ffff00"/><stop offset="0.5" stop-color="#ff4a00"/><stop offset="0.5378" stop-color="#ff0000"/><stop offset="0.5714" stop-color="#bd0000"/><stop offset="0.6429" stop-color="#860000"/><stop offset="0.7143" stop-color="#810000"/><stop offset="0.7857" stop-color="#810000"/><stop offset="0.8571" stop-color="#820000"/><stop offset="0.9286" stop-color="#a60000"/><stop offset="0.9786" stop-color="#ff0000"/><stop offset="1" stop-color="#ff2600"/></linearGradient>
<linearGradient id="g2_20" gradientUnits="userSpaceOnUse" x1="0" y1="53.20" x2="0" y2="529.20"><stop offset="0" stop-color="#820000"/><stop offset="0.07143" stop-color="#a60000"/><stop offset="0.1197" stop-color="#ff0000"/><stop offset="0.1429" stop-color="#ff2b00"/><stop offset="0.1853" stop-color="#ffff00"/><stop offset="0.2143" stop-color="#6eff91"/><stop offset="0.2583" stop-color="#00ffff"/><stop offset="0.2857" stop-color="#00baff"/><stop offset="0.3571" stop-color="#005cff"/><stop offset="0.4056" stop-color="#00ffff"/><stop offset="0.4286" stop-color="#4dffb2"/><stop offset="0.4647" stop-color="#ffff00"/><stop offset="0.5" stop-color="#ff5100"/><stop offset="0.5395" stop-color="#ff0000"/><stop offset="0.5714" stop-color="#bd0000"/><stop offset="0.6429" stop-color="#860000"/><stop offset="0.7143" stop-color="#810000"/><stop offset="0.7857" stop-color="#810000"/><stop offset="0.8571" stop-color="#820000"/><stop offset="0.9286" stop-color="#a60000"/><stop offset="0.9769" stop-color="#ff0000"/><stop offset="1" stop-color="#ff2b00"/></linearGradient>
<linearGradient id="g2_21" gradientUnits="userSpaceOnUse" x1="0" y1="53.20" x2="0" y2="529.20"><stop offset="0" stop-color="#820000"/><stop offset="0.07143" stop-color="#a50000"/><stop offset="0.1184" stop-color="#ff0000"/><stop offset="0.1429" stop-color="#ff2f00"/><stop offset="0.1841" stop-color="#ffff00"/><stop offset="0.2143" stop-color="#66ff99"/><stop offset="0.2538" stop-color="#00ffff"/><stop offset="0.2857" stop-color="#00acff"/><stop offset="0.3571" stop-color="#004eff"/><stop offset="0.4099" stop-color="#00ffff"/><stop offset="0.4286" stop-color="#3fffc0"/><stop offset="0.4669" stop-color="#ffff00"/><stop offset="0.5" stop-color="#ff5900"/><stop offset="0.5409" stop-color="#ff0000"/><stop offset="0.5714" stop-color="#bd0000"/><stop offset="0.6429" stop-color="#860000"/><stop offset="0.7143" stop-color="#810000"/><stop offset="0.7857" stop-color="#810000"/><stop offset="0.8571" stop-color="#820000"/><stop offset="0.9286" stop-color="#a50000"/><stop offset="0.9756" stop-color="#ff0000"/><stop offset="1" stop-color="#ff2f00"/></linearGradient>
<linearGradient id="g2_22" gradientUnits="userSpaceOnUse" x1="0" y1="53.20" x2="0" y2="529.20"><stop offset="0" stop-color="#820000"/><stop offset="0.07143" stop-color="#a50000"/><stop offset="0.1173" stop-color="#ff0000"/><stop offset="0.1429" stop-color="#ff3200"/><stop offset="0.1829" stop-color="#ffff00"/><stop offset="0.2143" stop-color="#5effa1"/><stop offset="0.2498" stop-color="#00ffff"/><stop offset="0.2857" stop-color="#009fff"/><stop offset="0.3571" stop-color="#0041ff"/><stop offset="0.4137" stop-color="#00ffff"/><stop offset="0.4286" stop-color="#32ffcd"/><stop offset="0.4689" stop-color="#ffff00"/><stop offset="0.5" stop-color="#ff6100"/><stop offset="0.5421" stop-color="#ff0000"/><stop offset="0.5714" stop-color="#bc0000"/><stop offset="0.6429" stop-color="#860000"/><stop offset="0.7143" stop-color="#810000"/><stop offset="0.7857" stop-color="#810000"/><stop offset="0.8571" stop-color="#820000"/><stop offset="0.9286" stop-color="#a50000"/><stop offset="0.9744" stop-color="#ff0000"/><stop offset="1" stop-color="#ff3200"/></linearGradient>
<linearGradient id="g2_23" gradientUnits="userSpaceOnUse" x1="0" y1="53.20" x2="0" y2="529.20"><stop offset="0" stop-color="#820000"/><stop offset="0.07143" stop-color="#a40000"/><stop offset="0.1162" stop-color="#ff0000"/><stop offset="0.1429" stop-color="#ff3600"/><stop offset="0.1818" stop-color="#ffff00"/><stop offset="0.2143" stop-color="#57ffa8"/><stop offset="0.2462" stop-color="#00ffff"/><stop offset="0.2857" stop-color="#0093ff"/><stop offset="0.3571" stop-color="#0036ff"/><stop offset="0.4172" stop-color="#00ffff"/><stop offset="0.4286" stop-color="#26ffd9"/><stop offset="0.4708" stop-color="#ffff00"/><stop offset="0.5" stop-color="#ff6900"/><stop offset="0.5432" stop-color="#ff0000"/><stop offset="0.5714" stop-color="#ba0000"/><stop offset="0.6429" stop-color="#860000"/><stop offset="0.7143" stop-color="#810000"/><stop offset="0.7857" stop-color="#810000"/><stop offset="0.8571" stop-color="#820000"/><stop offset="0.9286" stop-color="#a40000"/><stop offset="0.9734" stop-color="#ff0000"/><stop offset="1" stop-color="#ff3600"/></linearGradient>
<linearGradient id="g2_24" gradientUnits="userSpaceOnUse" x1="0" y1="53.20" x2="0" y2="529.20"><stop offset="0" stop-color="#820000"/><stop offset="0.07143" stop-color="#a40000"/><stop offset="0.1151" stop-color="#ff0000"/><stop offset="0.1429" stop-color="#ff3a00"/><stop offset="0.1806" stop-color="#ffff00"/><stop offset="0.2143" stop-color="#4fffb0"/><stop offset="0.2427" stop-color="#00ffff"/><stop offset="0.2857" stop-color="#0088ff"/><stop offset="0.3571" stop-color="#002aff"/><stop offset="0.4208" stop-color="#00ffff"/><stop offset="0.4286" stop-color="#1affe5"/><stop offset="0.4727" stop-color="#ffff00"/><stop offset="0.5" stop-color="#ff7200"/><stop offset="0.5442" stop-color="#ff0000"/><stop offset="0.5714" stop-color="#b90000"/><stop offset="0.6429" stop-color="#860000"/><stop offset="0.7143" stop-color="#810000"/><stop offset="0.7857" stop-color="#810000"/><stop offset="0.8571" stop-color="#820000"/><stop offset="0.9286" stop-color="#a40000"/><stop offset="0.9722" stop-color="#ff0000"/><stop offset="1" stop-color="#ff3a00"/></linearGradient>
<linearGradient id="g2_25" gradientUnits="userSpaceOnUse" x1="0" y1="53.20" x2="0" y2="529.20"><stop offset="0" stop-color="#820000"/><stop offset="0.07143" stop-color="#a30000"/><stop offset="0.1141" stop-color="#ff0000"/><stop offset="0.1429" stop-color="#ff3e00"/><stop offset="0.1795" stop-color="#ffff00"/><stop offset="0.2143" stop-color="#47ffb8"/><stop offset="0.2398" stop-color="#00ffff"/><stop offset="0.2857" stop-color="#007eff"/><stop offset="0.3571" stop-color="#0021ff"/><stop offset="0.4239" stop-color="#00ffff"/><stop offset="0.4286" stop-color="#0ffff0"/><stop offset="0.4744" stop-color="#ffff00"/><stop offset="0.5" stop-color="#ff7900"/><stop offset="0.5451" stop-color="#ff0000"/><stop offset="0.5714" stop-color="#b80000"/><stop offset="0.6429" stop-color="#860000"/><stop offset="0.7143" stop-color="#810000"/><stop offset="0.7857" stop-color="#810000"/><stop offset="0.8571" stop-color="#820000"/><stop offset="0.9286" stop-color="#a30000"/><stop offset="0.9712" stop-color="#ff0000"/><stop offset="1" stop-color="#ff3e00"/></linearGradient>
<linearGradient id="g2_26" gradientUnits="userSpaceOnUse" x1="0" y1="53.20" x2="0" y2="529.20"><stop offset="0" stop-color="#830000"/><stop offset="0.07143" stop-color="#a30000"/><stop offset="0.113" stop-color="#ff0000"/><stop offset="0.1429" stop-color="#ff4200"/><stop offset="0.1784" stop-color="#ffff00"/><stop offset="0.2143" stop-color="#40ffbf"/><stop offset="0.2371" stop-color="#00ffff"/><stop offset="0.2857" stop-color="#0077ff"/><stop offset="0.3571" stop-color="#0018ff"/><stop offset="0.4268" stop-color="#00ffff"/><stop offset="0.4286" stop-color="#06fff9"/><stop offset="0.476" stop-color="#ffff00"/><stop offset="0.5" stop-color="#ff8100"/><stop offset="0.5459" stop-color="#ff0000"/><stop offset="0.5714" stop-color="#b80000"/><stop offset="0.6429" stop-color="#870000"/><stop offset="0.7143" stop-color="#810000"/><stop offset="0.7857" stop-color="#810000"/><stop offset="0.8571" stop-color="#830000"/><stop offset="0.9286" stop-color="#a30000"/><stop offset="0.9702" stop-color="#ff0000"/><stop offset="1" stop-color="#ff4200"/></linearGradient>
<linearGradient id="g2_27" gradientUnits="userSpaceOnUse" x1="0" y1="53.20" x2="0" y2="529.20"><stop offset="0" stop-color="#830000"/><stop offset="0.07143" stop-color="#a20000"/><stop offset="0.112" stop-color="#ff0000"/><stop offset="0.1429" stop-color="#ff4700"/><stop offset="0.1773" stop-color="#ffff00"/><stop offset="0.2143" stop-color="#39ffc6"/><stop offset="0.2347" stop-color="#00ffff"/><stop offset="0.2857" stop-color="#0070ff"/><stop offset="0.3571" stop-color="#0010ff"/><stop offset="0.4286" stop-color="#00fdff"/><stop offset="0.429" stop-color="#00ffff"/><stop offset="0.4773" stop-color="#ffff00"/><stop offset="0.5" stop-color="#ff8700"/><stop offset="0.5467" stop-color="#ff0000"/><stop offset="0.5714" stop-color="#b70000"/><stop offset="0.6429" stop-color="#870000"/><stop offset="0.7143" stop-color="#820000"/><stop offset="0.7857" stop-color="#820000"/><stop offset="0.8571" stop-color="#830000"/><stop offset="0.9286" stop-color="#a20000"/><stop offset="0.9691" stop-color="#ff0000"/><stop offset="1" stop-color="#ff4700"/></linearGradient>
<linearGradient id="g2_28" gradientUnits="userSpaceOnUse" x1="0" y1="53.20" x2="0" y2="529.20"><stop offset="0" stop-color="#830000"/><stop offset="0.07143" stop-color="#a20000"/><stop offset="0.111" stop-color="#ff0000"/><stop offset="0.1429" stop-color="#ff4b00"/><stop offset="0.1763" stop-color="#ffff00"/><stop offset="0.2143" stop-color="#33ffcc"/><stop offset="0.2323" stop-color="#00ffff"/><stop offset="0.2857" stop-color="#006aff"/><stop offset="0.3571" stop-color="#0008ff"/><stop offset="0.4286" stop-color="#00f6ff"/><stop offset="0.4303" stop-color="#00ffff"/><stop offset="0.4785" stop-color="#ffff00"/><stop offset="0.5" stop-color="#ff8e00"/><stop offset="0.5473" stop-color="#ff0000"/><stop offset="0.5714" stop-color="#b70000"/><stop offset="0.6429" stop-color="#870000"/><stop offset="0.7143" stop-color="#820000"/><stop offset="0.7857" stop-color="#820000"/><stop offset="0.8571" stop-color="#830000"/><stop offset="0.9286" stop-color="#a20000"/><stop offset="0.9681" stop-color="#ff0000"/><stop offset="1" stop-color="#ff4b00"/></linearGradient>
<linearGradient id="g2_29" gradientUnits="userSpaceOnUse" x1="0" y1="53.20" x2="0" y2="529.20"><stop offset="0" stop-color="#830000"/><stop offset="0.07143" stop-color="#a20000"/><stop offset="0.11" stop-color="#ff0000"/><stop offset="0.1429" stop-color="#ff4f00"/><stop offset="0.1753" stop-color="#ffff00"/><stop offset="0.2143" stop-color="#2cffd3"/><stop offset="0.2301" stop-color="#00ffff"/><stop offset="0.2857" stop-color="#0064ff"/><stop offset="0.3571" stop-color="#0000ff"/><stop offset="0.4286" stop-color="#00efff"/><stop offset="0.4315" stop-color="#00ffff"/><stop offset="0.4797" stop-color="#ffff00"/><stop offset="0.5" stop-color="#ff9400"/><stop offset="0.548" stop-color="#ff0000"/><stop offset="0.5714" stop-color="#b70000"/><stop offset="0.6429" stop-color="#870000"/><stop offset="0.7143" stop-color="#820000"/><stop offset="0.7857" stop-color="#820000"/><stop offset="0.8571" stop-color="#830000"/><stop offset="0.9286" stop-color="#a20000"/><stop offset="0.9671" stop-color="#ff0000"/><stop offset="1" stop-color="#ff4f00"/></linearGradient>
<linearGradient id="g2_30" gradientUnits="userSpaceOnUse" x1="0" y1="53.20" x2="0" y2="529.20"><stop offset="0" stop-color="#830000"/><stop offset="0.07143" stop-color="#a20000"/><stop offset="0.109" stop-color="#ff0000"/><stop offset="0.1429" stop-color="#ff5400"/><stop offset="0.1744" stop-color="#ffff00"/><stop offset="0.2143" stop-color="#26ffd9"/><stop offset="0.2279" stop-color="#00ffff"/><stop offset="0.2857" stop-color="#005eff"/><stop offset="0.3523" stop-color="#0000ff"/><stop offset="0.3571" stop-color="#0000f8"/><stop offset="0.3592" stop-color="#0000ff"/><stop offset="0.4286" stop-color="#00eaff"/><stop offset="0.4326" stop-color="#00ffff"/><stop offset="0.4809" stop-color="#ffff00"/><stop offset="0.5" stop-color="#ff9a00"/><stop offset="0.5487" stop-color="#ff0000"/><stop offset="0.5714" stop-color="#b70000"/><stop offset="0.6429" stop-color="#870000"/><stop offset="0.7143" stop-color="#820000"/><stop offset="0.7857" stop-color="#820000"/><stop offset="0.8571" stop-color="#830000"/><stop offset="0.9286" stop-color="#a20000"/><stop offset="0.9661" stop-color="#ff0000"/><stop offset="1" stop-color="#ff5400"/></linearGradient>
<linearGradient id="g2_31" gradientUnits="userSpaceOnUse" x1="0" y1="53.20" x2="0" y2="529.20"><stop offset="0" stop-color="#830000"/><stop offset="0.07143" stop-color="#a20000"/><stop offset="0.108" stop-color="#ff0000"/><stop offset="0.1429" stop-color="#ff5800"/><stop offset="0.1735" stop-color="#ffff00"/><stop offset="0.2143" stop-color="#20ffdf"/><stop offset="0.2258" stop-color="#00ffff"/><stop offset="0.2857" stop-color="#0058ff"/><stop offset="0.3478" stop-color="#0000ff"/><stop offset="0.3571" stop-color="#0000f2"/><stop offset="0.361" stop-color="#0000ff"/><stop offset="0.4286" stop-color="#00e5ff"/><stop offset="0.4336" stop-color="#00ffff"/><stop offset="0.482" stop-color="#ffff00"/><stop offset="0.5" stop-color="#ffa000"/><stop offset="0.5494" stop-color="#ff0000"/><stop offset="0.5714" stop-color="#b70000"/><stop offset="0.6429" stop-color="#870000"/><stop offset="0.7143" stop-color="#820000"/><stop offset="0.7857" stop-color="#820000"/><stop offset="0.8571" stop-color="#830000"/><stop offset="0.9286" stop-color="#a20000"/><stop offset="0.9652" stop-color="#ff0000"/><stop offset="1" stop-color="#ff5800"/></linearGradient>
<linearGradient id="g2_32" gradientUnits="userSpaceOnUse" x1="0" y1="53.20" x2="0" y2="529.20"><stop offset="0" stop-color="#830000"/><stop offset="0.07143" stop-color="#a30000"/><stop offset="0.1072" stop-color="#ff0000"/><stop offset="0.1429" stop-color="#ff5c00"/><stop offset="0.1726" stop-color="#ffff00"/><stop offset="0.2143" stop-color="#1bffe4"/><stop offset="0.2239" stop-color="#00ffff"/><stop offset="0.2857" stop-color="#0052ff"/><stop offset="0.3438" stop-color="#0000ff"/><stop offset="0.3571" stop-color="#0000ec"/><stop offset="0.3627" stop-color="#0000ff"/><stop offset="0.4286" stop-color="#00e1ff"/><stop offset="0.4344" stop-color="#00ffff"/><stop offset="0.483" stop-color="#ffff00"/><stop offset="0.5" stop-color="#ffa600"/><stop offset="0.55" stop-color="#ff0000"/><stop offset="0.5714" stop-color="#b80000"/><stop offset="0.6429" stop-color="#870000"/><stop offset="0.7143" stop-color="#820000"/><stop offset="0.7857" stop-color="#820000"/><stop offset="0.8571" stop-color="#830000"/><stop offset="0.9286" stop-color="#a30000"/><stop offset="0.9643" stop-color="#ff0000"/><stop offset="1" stop-color="#ff5c00"/></linearGradient>
<linearGradient id="g2_33" gradientUnits="userSpaceOnUse" x1="0" y1="53.20" x2="0" y2="529.20"><stop offset="0" stop-color="#830000"/><stop offset="0.07143" stop-color="#a30000"/><stop offset="0.1064" stop-color="#ff0000"/><stop offset="0.1429" stop-color="#ff6000"/><stop offset="0.1719" stop-color="#ffff00"/><stop offset="0.2143" stop-color="#16ffe9"/><stop offset="0.2222" stop-color="#00ffff"/><stop offset="0.2857" stop-color="#004cff"/><stop offset="0.3402" stop-color="#0000ff"/><stop offset="0.3571" stop-color="#0000e7"/><stop offset="0.364" stop-color="#0000ff"/><stop offset="0.4286" stop-color="#00ddff"/><stop offset="0.4351" stop-color="#00ffff"/><stop offset="0.4839" stop-color="#ffff00"/><stop offset="0.5" stop-color="#ffab00"/><stop offset="0.5506" stop-color="#ff0000"/><stop offset="0.5714" stop-color="#b80000"/><stop offset="0.6429" stop-color="#870000"/><stop offset="0.7143" stop-color="#820000"/><stop offset="0.7857" stop-color="#820000"/><stop offset="0.8571" stop-color="#830000"/><stop offset="0.9286" stop-color="#a30000"/><stop offset="0.9635" stop-color="#ff0000"/><stop offset="1" stop-color="#ff6000"/></linearGradient>
<linearGradient id="g2_34" gradientUnits="userSpaceOnUse" x1="0" y1="53.20" x2="0" y2="529.20"><stop offset="0" stop-color="#830000"/><stop offset="0.07143" stop-color="#a40000"/><stop offset="0.1056" stop-color="#ff0000"/><stop offset="0.1429" stop-color="#ff6300"/><stop offset="0.1712" stop-color="#ffff00"/><stop offset="0.2143" stop-color="#12ffed"/><stop offset="0.2206" stop-color="#00ffff"/><stop offset="0.2857" stop-color="#0046ff"/><stop offset="0.3371" stop-color="#0000ff"/><stop offset="0.3571" stop-color="#0000e3"/><stop offset="0.3652" stop-color="#0000ff"/><stop offset="0.4286" stop-color="#00daff"/><stop offset="0.4357" stop-color="#00ffff"/><stop offset="0.4848" stop-color="#ffff00"/><stop offset="0.5" stop-color="#ffb000"/><stop offset="0.5512" stop-color="#ff0000"/><stop offset="0.5714" stop-color="#b90000"/><stop offset="0.6429" stop-color="#870000"/><stop offset="0.7143" stop-color="#820000"/><stop offset="0.7857" stop-color="#820000"/><stop offset="0.8571" stop-color="#830000"/><stop offset="0.9286" stop-color="#a40000"/><stop offset="0.9628" stop-color="#ff0000"/><stop offset="1" stop-color="#ff6300"/></linearGradient>
<linearGradient id="g2_35" gradientUnits="userSpaceOnUse" x1="0" y1="53.20" x2="0" y2="529.20"><stop offset="0" stop-color="#830000"/><stop offset="0.07143" stop-color="#a40000"/><stop offset="0.1049" stop-color="#ff0000"/><stop offset="0.1429" stop-color="#ff6700"/><stop offset="0.1705" stop-color="#ffff00"/><stop offset="0.2143" stop-color="#0efff1"/><stop offset="0.2192" stop-color="#00ffff"/><stop offset="0.2857" stop-color="#0041ff"/><stop offset="0.3343" stop-color="#0000ff"/><stop offset="0.3571" stop-color="#0000e0"/><stop offset="0.3661" stop-color="#0000ff"/><stop offset="0.4286" stop-color="#00d7ff"/><stop offset="0.4363" stop-color="#00ffff"/><stop offset="0.4857" stop-color="#ffff00"/><stop offset="0.5" stop-color="#ffb500"/><stop offset="0.5517" stop-color="#ff0000"/><stop offset="0.5714" stop-color="#ba0000"/><stop offset="0.6429" stop-color="#870000"/><stop offset="0.7143" stop-color="#820000"/><stop offset="0.7857" stop-color="#820000"/><stop offset="0.8571" stop-color="#830000"/><stop offset="0.9286" stop-color="#a40000"/><stop offset="0.962" stop-color="#ff0000"/><stop offset="1" stop-color="#ff6700"/></linearGradient>
<linearGradient id="g2_36" gradientUnits="userSpaceOnUse" x1="0" y1="53.20" x2="0" y2="529.20"><stop offset="0" stop-color="#830000"/><stop offset="0.07143" stop-color="#a50000"/><stop offset="0.1041" stop-color="#ff0000"/><stop offset="0.1429" stop-color="#ff6a00"/><stop offset="0.1698" stop-color="#ffff00"/><stop offset="0.2143" stop-color="#0afff5"/><stop offset="0.2178" stop-color="#00ffff"/><stop offset="0.2857" stop-color="#003dff"/><stop offset="0.3319" stop-color="#0000ff"/><stop offset="0.3571" stop-color="#0000de"/><stop offset="0.3668" stop-color="#0000ff"/><stop offset="0.4286" stop-color="#00d4ff"/><stop offset="0.4369" stop-color="#00ffff"/><stop offset="0.4865" stop-color="#ffff00"/><stop offset="0.5" stop-color="#ffba00"/><stop offset="0.5523" stop-color="#ff0000"/><stop offset="0.5714" stop-color="#bb0000"/><stop offset="0.6429" stop-color="#870000"/><stop offset="0.7143" stop-color="#820000"/><stop offset="0.7857" stop-color="#820000"/><stop offset="0.8571" stop-color="#830000"/><stop offset="0.9286" stop-color="#a50000"/><stop offset="0.9613" stop-color="#ff0000"/><stop offset="1" stop-color="#ff6a00"/></linearGradient>
<linearGradient id="g2_37" gradientUnits="userSpaceOnUse" x1="0" y1="53.20" x2="0" y2="529.20"><stop offset="0" stop-color="#830000"/><stop offset="0.07143" stop-color="#a60000"/><stop offset="0.1034" stop-color="#ff0000"/><stop offset="0.1429" stop-color="#ff6e00"/><stop offset="0.1692" stop-color="#ffff00"/><stop offset="0.2143" stop-color="#07fff8"/><stop offset="0.2167" stop-color="#00ffff"/><stop offset="0.2857" stop-color="#0039ff"/><stop offset="0.3299" stop-color="#0000ff"/><stop offset="0.3571" stop-color="#0000dc"/><stop offset="0.3673" stop-color="#0000ff"/><stop offset="0.4286" stop-color="#00d2ff"/><stop offset="0.4373" stop-color="#00ffff"/><stop offset="0.4872" stop-color="#ffff00"/><stop offset="0.5" stop-color="#ffbe00"/><stop offset="0.5528" stop-color="#ff0000"/><stop offset="0.5714" stop-color="#bc0000"/><stop offset="0.6429" stop-color="#870000"/><stop offset="0.7143" stop-color="#820000"/><stop offset="0.7857" stop-color="#820000"/><stop offset="0.8571" stop-color="#830000"/><stop offset="0.9286" stop-color="#a60000"/><stop offset="0.9606" stop-color="#ff0000"/><stop offset="1" stop-color="#ff6e00"/></linearGradient>
<linearGradient id="g2_38" gradientUnits="userSpaceOnUse" x1="0" y1="53.20" x2="0" y2="529.20"><stop offset="0" stop-color="#830000"/><stop offset="0.07143" stop-color="#a60000"/><stop offset="0.1028" stop-color="#ff0000"/><stop offset="0.1429" stop-color="#ff7100"/><stop offset="0.1686" stop-color="#ffff00"/><stop offset="0.2143" stop-color="#04fffb"/><stop offset="0.2157" stop-color="#00ffff"/><stop offset="0.2857" stop-color="#0035ff"/><stop offset="0.3283" stop-color="#0000ff"/><stop offset="0.3571" stop-color="#0000db"/><stop offset="0.3677" stop-color="#0000ff"/><stop offset="0.4286" stop-color="#00d1ff"/><stop offset="0.4377" stop-color="#00ffff"/><stop offset="0.4879" stop-color="#ffff00"/><stop offset="0.5" stop-color="#ffc100"/><stop offset="0.5533" stop-color="#ff0000"/><stop offset="0.5714" stop-color="#bd0000"/><stop offset="0.6429" stop-color="#870000"/><stop offset="0.7143" stop-color="#820000"/><stop offset="0.7857" stop-color="#820000"/><stop offset="0.8571" stop-color="#830000"/><stop offset="0.9286" stop-color="#a60000"/><stop offset="0.9599" stop-color="#ff0000"/><stop offset="1" stop-color="#ff7100"/></linearGradient>
<linearGradient id="g2_39" gradientUnits="userSpaceOnUse" x1="0" y1="53.20" x2="0" y2="529.20"><stop offset="0" stop-color="#830000"/><stop offset="0.07143" stop-color="#a70000"/><stop offset="0.102" stop-color="#ff0000"/><stop offset="0.1429" stop-color="#ff7500"/><stop offset="0.168" stop-color="#ffff00"/><stop offset="0.2143" stop-color="#01fffe"/><stop offset="0.2147" stop-color="#00ffff"/><stop offset="0.2857" stop-color="#0032ff"/><stop offset="0.3271" stop-color="#0000ff"/><stop offset="0.3571" stop-color="#0000db"/><stop offset="0.3678" stop-color="#0000ff"/><stop offset="0.4286" stop-color="#00cfff"/><stop offset="0.4381" stop-color="#00ffff"/><stop offset="0.4885" stop-color="#ffff00"/><stop offset="0.5" stop-color="#ffc500"/><stop offset="0.5539" stop-color="#ff0000"/><stop offset="0.5714" stop-color="#bf0000"/><stop offset="0.6429" stop-color="#870000"/><stop offset="0.7143" stop-color="#820000"/><stop offset="0.7857" stop-color="#820000"/><stop offset="0.8571" stop-color="#830000"/><stop offset="0.9286" stop-color="#a70000"/><stop offset="0.9592" stop-color="#ff0000"/><stop offset="1" stop-color="#ff7500"/></linearGradient>
<linearGradient id="g2_40" gradientUnits="userSpaceOnUse" x1="0" y1="53.20" x2="0" y2="529.20"><stop offset="0" stop-color="#830000"/><stop offset="0.07143" stop-color="#a80000"/><stop offset="0.1014" stop-color="#ff0000"/><stop offset="0.1429" stop-color="#ff7800"/><stop offset="0.1675" stop-color="#ffff00"/><stop offset="0.2141" stop-color="#00ffff"/><stop offset="0.2143" stop-color="#00feff"/><stop offset="0.2857" stop-color="#0030ff"/><stop offset="0.3263" stop-color="#0000ff"/><stop offset="0.3571" stop-color="#0000db"/><stop offset="0.3679" stop-color="#0000ff"/><stop offset="0.4286" stop-color="#00ceff"/><stop offset="0.4384" stop-color="#00ffff"/><stop offset="0.489" stop-color="#ffff00"/><stop offset="0.5" stop-color="#ffc800"/><stop offset="0.5543" stop-color="#ff0000"/><stop offset="0.5714" stop-color="#c00000"/><stop offset="0.6429" stop-color="#870000"/><stop offset="0.7143" stop-color="#820000"/><stop offset="0.7857" stop-color="#820000"/><stop offset="0.8571" stop-color="#830000"/><stop offset="0.9286" stop-color="#a80000"/><stop offset="0.9586" stop-color="#ff0000"/><stop offset="1" stop-color="#ff7800"/></linearGradient>
<linearGradient id="g2_41" gradientUnits="userSpaceOnUse" x1="0" y1="53.20" x2="0" y2="529.20"><stop offset="0" stop-color="#830000"/><stop offset="0.07143" stop-color="#a90000"/><stop offset="0.1008" stop-color="#ff0000"/><stop offset="0.1429" stop-color="#ff7b00"/><stop offset="0.167" stop-color="#ffff00"/><stop offset="0.2136" stop-color="#00ffff"/><stop offset="0.2143" stop-color="#00fbff"/><stop offset="0.2857" stop-color="#002eff"/><stop offset="0.3259" stop-color="#0000ff"/><stop offset="0.3571" stop-color="#0000db"/><stop offset="0.3678" stop-color="#0000ff"/><stop offset="0.4286" stop-color="#00cdff"/><stop offset="0.4386" stop-color="#00ffff"/><stop offset="0.4895" stop-color="#ffff00"/><stop offset="0.5" stop-color="#ffcb00"/><stop offset="0.5548" stop-color="#ff0000"/><stop offset="0.5714" stop-color="#c10000"/><stop offset="0.6429" stop-color="#870000"/><stop offset="0.7143" stop-color="#820000"/><stop offset="0.7857" stop-color="#820000"/><stop offset="0.8571" stop-color="#830000"/><stop offset="0.9286" stop-color="#a90000"/><stop offset="0.958" stop-color="#ff0000"/><stop offset="1" stop-color="#ff7b00"/></linearGradient>
<linearGradient id="g2_42" gradientUnits="userSpaceOnUse" x1="0" y1="53.20" x2="0" y2="529.20"><stop offset="0" stop-color="#830000"/><stop offset="0.07143" stop-color="#aa0000"/><stop offset="0.1003" stop-color="#ff0000"/><stop offset="0.1429" stop-color="#ff7e00"/><stop offset="0.1665" stop-color="#ffff00"/><stop offset="0.2132" stop-color="#00ffff"/><stop offset="0.2143" stop-color="#00f9ff"/><stop offset="0.2857" stop-color="#002dff"/><stop offset="0.3258" stop-color="#0000ff"/><stop offset="0.3571" stop-color="#0000dc"/><stop offset="0.3676" stop-color="#0000ff"/><stop offset="0.4286" stop-color="#00ccff"/><stop offset="0.4387" stop-color="#00ffff"/><stop offset="0.49" stop-color="#ffff00"/><stop offset="0.5" stop-color="#ffcd00"/><stop offset="0.5552" stop-color="#ff0000"/><stop offset="0.5714" stop-color="#c30000"/><stop offset="0.6429" stop-color="#870000"/><stop offset="0.7143" stop-color="#820000"/><stop offset="0.7857" stop-color="#820000"/><stop offset="0.8571" stop-color="#830000"/><stop offset="0.9286" stop-color="#aa0000"/><stop offset="0.9575" stop-color="#ff0000"/><stop offset="1" stop-color="#ff7e00"/></linearGradient>
<linearGradient id="g2_43" gradientUnits="userSpaceOnUse" x1="0" y1="53.20" x2="0" y2="529.20"><stop offset="0" stop-color="#830000"/><stop offset="0.07143" stop-color="#aa0000"/><stop offset="0.09986" stop-color="#ff0000"/><stop offset="0.1429" stop-color="#ff8000"/><stop offset="0.1661" stop-color="#ffff00"/><stop offset="0.2129" stop-color="#00ffff"/><stop offset="0.2143" stop-color="#00f7ff"/><stop offset="0.2857" stop-color="#002cff"/><stop offset="0.3261" stop-color="#0000ff"/><stop offset="0.3571" stop-color="#0000dd"/><stop offset="0.3672" stop-color="#0000ff"/><stop offset="0.4286" stop-color="#00ccff"/><stop offset="0.4388" stop-color="#00ffff"/><stop offset="0.4904" stop-color="#ffff00"/><stop offset="0.5" stop-color="#ffd000"/><stop offset="0.5556" stop-color="#ff0000"/><stop offset="0.5714" stop-color="#c40000"/><stop offset="0.6429" stop-color="#870000"/><stop offset="0.7143" stop-color="#820000"/><stop offset="0.7857" stop-color="#820000"/><stop offset="0.8571" stop-color="#830000"/><stop offset="0.9286" stop-color="#aa0000"/><stop offset="0.957" stop-color="#ff0000"/><stop offset="1" stop-color="#ff8000"/></linearGradient>
<linearGradient id="g2_44" gradientUnits="userSpaceOnUse" x1="0" y1="53.20" x2="0" y2="529.20"><stop offset="0" stop-color="#830000"/><stop offset="0.07143" stop-color="#ab0000"/><stop offset="0.09943" stop-color="#ff0000"/><stop offset="0.1429" stop-color="#ff8200"/><stop offset="0.1658" stop-color="#ffff00"/><stop offset="0.2126" stop-color="#00ffff"/><stop offset="0.2143" stop-color="#00f6ff"/><stop offset="0.2857" stop-color="#002bff"/><stop offset="0.3268" stop-color="#0000ff"/><stop offset="0.3571" stop-color="#0000df"/><stop offset="0.3668" stop-color="#0000ff"/><stop offset="0.4286" stop-color="#00cdff"/><stop offset="0.4388" stop-color="#00ffff"/><stop offset="0.4907" stop-color="#ffff00"/><stop offset="0.5" stop-color="#ffd200"/><stop offset="0.5559" stop-color="#ff0000"/><stop offset="0.5714" stop-color="#c50000"/><stop offset="0.6429" stop-color="#870000"/><stop offset="0.7143" stop-color="#820000"/><stop offset="0.7857" stop-color="#820000"/><stop offset="0.8571" stop-color="#830000"/><stop offset="0.9286" stop-color="#ab0000"/><stop offset="0.9566" stop-color="#ff0000"/><stop offset="1" stop-color="#ff8200"/></linearGradient>
<linearGradient id="g2_45" gradientUnits="userSpaceOnUse" x1="0" y1="53.20" x2="0" y2="529.20"><stop offset="0" stop-color="#840000"/><stop offset="0.07143" stop-color="#ac0000"/><stop offset="0.09903" stop-color="#ff0000"/><stop offset="0.1429" stop-color="#ff8400"/><stop offset="0.1654" stop-color="#ffff00"/><stop offset="0.2122" stop-color="#00ffff"/><stop offset="0.2143" stop-color="#00f4ff"/><stop offset="0.2857" stop-color="#002bff"/><stop offset="0.3279" stop-color="#0000ff"/><stop offset="0.3571" stop-color="#0000e1"/><stop offset="0.3662" stop-color="#0000ff"/><stop offset="0.4286" stop-color="#00cdff"/><stop offset="0.4388" stop-color="#00ffff"/><stop offset="0.4911" stop-color="#ffff00"/><stop offset="0.5" stop-color="#ffd300"/><stop offset="0.5563" stop-color="#ff0000"/><stop offset="0.5714" stop-color="#c60000"/><stop offset="0.6429" stop-color="#880000"/><stop offset="0.7143" stop-color="#820000"/><stop offset="0.7857" stop-color="#820000"/><stop offset="0.8571" stop-color="#840000"/><stop offset="0.9286" stop-color="#ac0000"/><stop offset="0.9562" stop-color="#ff0000"/><stop offset="1" stop-color="#ff8400"/></linearGradient>
<linearGradient id="g2_46" gradientUnits="userSpaceOnUse" x1="0" y1="53.20" x2="0" y2="529.20"><stop offset="0" stop-color="#840000"/><stop offset="0.07143" stop-color="#ad0000"/><stop offset="0.09864" stop-color="#ff0000"/><stop offset="0.1429" stop-color="#ff8600"/><stop offset="0.1651" stop-color="#ffff00"/><stop offset="0.2119" stop-color="#00ffff"/><stop offset="0.2143" stop-color="#00f2ff"/><stop offset="0.2857" stop-color="#002bff"/><stop offset="0.3292" stop-color="#0000ff"/><stop offset="0.3571" stop-color="#0000e3"/><stop offset="0.3656" stop-color="#0000ff"/><stop offset="0.4286" stop-color="#00ceff"/><stop offset="0.4387" stop-color="#00ffff"/><stop offset="0.4914" stop-color="#ffff00"/><stop offset="0.5" stop-color="#ffd500"/><stop offset="0.5566" stop-color="#ff0000"/><stop offset="0.5714" stop-color="#c70000"/><stop offset="0.6429" stop-color="#880000"/><stop offset="0.7143" stop-color="#820000"/><stop offset="0.7857" stop-color="#820000"/><stop offset="0.8571" stop-color="#840000"/><stop offset="0.9286" stop-color="#ad0000"/><stop offset="0.9558" stop-color="#ff0000"/><stop offset="1" stop-color="#ff8600"/></linearGradient>
<linearGradient id="g2_47" gradientUnits="userSpaceOnUse" x1="0" y1="53.20" x2="0" y2="529.20"><stop offset="0" stop-color="#840000"/><stop offset="0.07143" stop-color="#ad0000"/><stop offset="0.09826" stop-color="#ff0000"/><stop offset="0.1429" stop-color="#ff8800"/><stop offset="0.1648" stop-color="#ffff00"/><stop offset="0.2117" stop-color="#00ffff"/><stop offset="0.2143" stop-color="#00f1ff"/><stop offset="0.2857" stop-color="#002cff"/><stop offset="0.3308" stop-color="#0000ff"/><stop offset="0.3571" stop-color="#0000e6"/><stop offset="0.365" stop-color="#0000ff"/><stop offset="0.4286" stop-color="#00cfff"/><stop offset="0.4386" stop-color="#00ffff"/><stop offset="0.4916" stop-color="#ffff00"/><stop offset="0.5" stop-color="#ffd700"/><stop offset="0.5569" stop-color="#ff0000"/><stop offset="0.5714" stop-color="#c80000"/><stop offset="0.6429" stop-color="#880000"/><stop offset="0.7143" stop-color="#820000"/><stop offset="0.7857" stop-color="#820000"/><stop offset="0.8571" stop-color="#840000"/><stop offset="0.9286" stop-color="#ad0000"/><stop offset="0.9554" stop-color="#ff0000"/><stop offset="1" stop-color="#ff8800"/></linearGradient>
<linearGradient id="g2_48" gradientUnits="userSpaceOnUse" x1="0" y1="53.20" x2="0" y2="529.20"><stop offset="0" stop-color="#840000"/><stop offset="0.07143" stop-color="#ae0000"/><stop offset="0.09791" stop-color="#ff0000"/><stop offset="0.1429" stop-color="#ff8900"/><stop offset="0.1645" stop-color="#ffff00"/><stop offset="0.2114" stop-color="#00ffff"/><stop offset="0.2143" stop-color="#00efff"/><stop offset="0.2857" stop-color="#002dff"/><stop offset="0.3328" stop-color="#0000ff"/><stop offset="0.3571" stop-color="#0000e8"/><stop offset="0.3643" stop-color="#0000ff"/><stop offset="0.4286" stop-color="#00d0ff"/><stop offset="0.4385" stop-color="#00ffff"/><stop offset="0.4919" stop-color="#ffff00"/><stop offset="0.5" stop-color="#ffd800"/><stop offset="0.5572" stop-color="#ff0000"/><stop offset="0.5714" stop-color="#c90000"/><stop offset="0.6429" stop-color="#880000"/><stop offset="0.7143" stop-color="#820000"/><stop offset="0.7857" stop-color="#820000"/><stop offset="0.8571" stop-color="#840000"/><stop offset="0.9286" stop-color="#ae0000"/><stop offset="0.9551" stop-color="#ff0000"/><stop offset="1" stop-color="#ff8900"/></linearGradient>
<linearGradient id="g2_49" gradientUnits="userSpaceOnUse" x1="0" y1="53.20" x2="0" y2="529.20"><stop offset="0" stop-color="#840000"/><stop offset="0.07143" stop-color="#af0000"/><stop offset="0.09757" stop-color="#ff0000"/><stop offset="0.1429" stop-color="#ff8b00"/><stop offset="0.1642" stop-color="#ffff00"/><stop offset="0.2112" stop-color="#00ffff"/><stop offset="0.2143" stop-color="#00eeff"/><stop offset="0.2857" stop-color="#002eff"/><stop offset="0.3351" stop-color="#0000ff"/><stop offset="0.3571" stop-color="#0000eb"/><stop offset="0.3635" stop-color="#0000ff"/><stop offset="0.4286" stop-color="#00d1ff"/><stop offset="0.4383" stop-color="#00ffff"/><stop offset="0.4921" stop-color="#ffff00"/><stop offset="0.5" stop-color="#ffd900"/><stop offset="0.5574" stop-color="#ff0000"/><stop offset="0.5714" stop-color="#ca0000"/><stop offset="0.6429" stop-color="#890000"/><stop offset="0.7143" stop-color="#820000"/><stop offset="0.7857" stop-color="#820000"/><stop offset="0.8571" stop-color="#840000"/><stop offset="0.9286" stop-color="#af0000"/><stop offset="0.9547" stop-color="#ff0000"/><stop offset="1" stop-color="#ff8b00"/></linearGradient>
<linearGradient id="g2_50" gradientUnits="userSpaceOnUse" x1="0" y1="53.20" x2="0" y2="529.20"><stop offset="0" stop-color="#840000"/><stop offset="0.07143" stop-color="#af0000"/><stop offset="0.09725" stop-color="#ff0000"/><stop offset="0.1429" stop-color="#ff8d00"/><stop offset="0.164" stop-color="#ffff00"/><stop offset="0.211" stop-color="#00ffff"/><stop offset="0.2143" stop-color="#00edff"/><stop offset="0.2857" stop-color="#002fff"/><stop offset="0.3376" stop-color="#0000ff"/><stop offset="0.3571" stop-color="#0000ed"/><stop offset="0.3627" stop-color="#0000ff"/><stop offset="0.4286" stop-color="#00d2ff"/><stop offset="0.4382" stop-color="#00ffff"/><stop offset="0.4922" stop-color="#ffff00"/><stop offset="0.5" stop-color="#ffda00"/><stop offset="0.5576" stop-color="#ff0000"/><stop offset="0.5714" stop-color="#cb0000"/><stop offset="0.6429" stop-color="#890000"/><stop offset="0.7143" stop-color="#820000"/><stop offset="0.7857" stop-color="#820000"/><stop offset="0.8571" stop-color="#840000"/><stop offset="0.9286" stop-color="#af0000"/><stop offset="0.9544" stop-color="#ff0000"/><stop offset="1" stop-color="#ff8d00"/></linearGradient>
<linearGradient id="g2_51" gradientUnits="userSpaceOnUse" x1="0" y1="53.20" x2="0" y2="529.20"><stop offset="0" stop-color="#840000"/><stop offset="0.07143" stop-color="#b00000"/><stop offset="0.09694" stop-color="#ff0000"/><stop offset="0.1429" stop-color="#ff8e00"/><stop offset="0.1637" stop-color="#ffff00"/><stop offset="0.2108" stop-color="#00ffff"/><stop offset="0.2143" stop-color="#00ecff"/><stop offset="0.2857" stop-color="#0030ff"/><stop offset="0.3404" stop-color="#0000ff"/><stop offset="0.3571" stop-color="#0000f0"/><stop offset="0.3618" stop-color="#0000ff"/><stop offset="0.4286" stop-color="#00d3ff"/><stop offset="0.4381" stop-color="#00ffff"/><stop offset="0.4924" stop-color="#ffff00"/><stop offset="0.5" stop-color="#ffdb00"/><stop offset="0.5578" stop-color="#ff0000"/><stop offset="0.5714" stop-color="#cb0000"/><stop offset="0.6429" stop-color="#890000"/><stop offset="0.7143" stop-color="#820000"/><stop offset="0.7857" stop-color="#820000"/><stop offset="0.8571" stop-color="#840000"/><stop offset="0.9286" stop-color="#b00000"/><stop offset="0.9541" stop-color="#ff0000"/><stop offset="1" stop-color="#ff8e00"/></linearGradient>
<linearGradient id="g2_52" gradientUnits="userSpaceOnUse" x1="0" y1="53.20" x2="0" y2="529.20"><stop offset="0" stop-color="#840000"/><stop offset="0.07143" stop-color="#b10000"/><stop offset="0.09664" stop-color="#ff0000"/><stop offset="0.1429" stop-color="#ff9000"/><stop offset="0.1634" stop-color="#ffff00"/><stop offset="0.2106" stop-color="#00ffff"/><stop offset="0.2143" stop-color="#00ebff"/><stop offset="0.2857" stop-color="#0032ff"/><stop offset="0.3435" stop-color="#0000ff"/><stop offset="0.3571" stop-color="#0000f3"/><stop offset="0.3609" stop-color="#0000ff"/><stop offset="0.4286" stop-color="#00d3ff"/><stop offset="0.4379" stop-color="#00ffff"/><stop offset="0.4925" stop-color="#ffff00"/><stop offset="0.5" stop-color="#ffdc00"/><stop offset="0.558" stop-color="#ff0000"/><stop offset="0.5714" stop-color="#cc0000"/><stop offset="0.6429" stop-color="#8a0000"/><stop offset="0.7143" stop-color="#820000"/><stop offset="0.7857" stop-color="#820000"/><stop offset="0.8571" stop-color="#840000"/><stop offset="0.9286" stop-color="#b10000"/><stop offset="0.9538" stop-color="#ff0000"/><stop offset="1" stop-color="#ff9000"/></linearGradient>
<linearGradient id="g2_53" gradientUnits="userSpaceOnUse" x1="0" y1="53.20" x2="0" y2="529.20"><stop offset="0" stop-color="#840000"/><stop offset="0.07143" stop-color="#b10000"/><stop offset="0.09636" stop-color="#ff0000"/><stop offset="0.1429" stop-color="#ff9100"/><stop offset="0.1632" stop-color="#ffff00"/><stop offset="0.2104" stop-color="#00ffff"/><stop offset="0.2143" stop-color="#00eaff"/><stop offset="0.2857" stop-color="#0034ff"/><stop offset="0.347" stop-color="#0000ff"/><stop offset="0.3571" stop-color="#0000f6"/><stop offset="0.3599" stop-color="#0000ff"/><stop offset="0.4286" stop-color="#00d4ff"/><stop offset="0.4378" stop-color="#00ffff"/><stop offset="0.4926" stop-color="#ffff00"/><stop offset="0.5" stop-color="#ffdd00"/><stop offset="0.5582" stop-color="#ff0000"/><stop offset="0.5714" stop-color="#cd0000"/><stop offset="0.6429" stop-color="#8b0000"/><stop offset="0.7143" stop-color="#820000"/><stop offset="0.7857" stop-color="#820000"/><stop offset="0.8571" stop-color="#840000"/><stop offset="0.9286" stop-color="#b10000"/><stop offset="0.9535" stop-color="#ff0000"/><stop offset="1" stop-color="#ff9100"/></linearGradient>
<linearGradient id="g2_54" gradientUnits="userSpaceOnUse" x1="0" y1="53.20" x2="0" y2="529.20"><stop offset="0" stop-color="#840000"/><stop offset="0.07143" stop-color="#b20000"/><stop offset="0.09608" stop-color="#ff0000"/><stop offset="0.1429" stop-color="#ff9200"/><stop offset="0.163" stop-color="#ffff00"/><stop offset="0.2102" stop-color="#00ffff"/><stop offset="0.2143" stop-color="#00e9ff"/><stop offset="0.2857" stop-color="#0036ff"/><stop offset="0.351" stop-color="#0000ff"/><stop offset="0.3571" stop-color="#0000fa"/><stop offset="0.3588" stop-color="#0000ff"/><stop offset="0.4286" stop-color="#00d5ff"/><stop offset="0.4377" stop-color="#00ffff"/><stop offset="0.4927" stop-color="#ffff00"/><stop offset="0.5" stop-color="#ffdd00"/><stop offset="0.5584" stop-color="#ff0000"/><stop offset="0.5714" stop-color="#cd0000"/><stop offset="0.6429" stop-color="#8b0000"/><stop offset="0.7143" stop-color="#820000"/><stop offset="0.7857" stop-color="#820000"/><stop offset="0.8571" stop-color="#840000"/><stop offset="0.9286" stop-color="#b20000"/><stop offset="0.9532" stop-color="#ff0000"/><stop offset="1" stop-color="#ff9200"/></linearGradient>
<linearGradient id="g2_55" gradientUnits="userSpaceOnUse" x1="0" y1="53.20" x2="0" y2="529.20"><stop offset="0" stop-color="#840000"/><stop offset="0.07143" stop-color="#b30000"/><stop offset="0.09576" stop-color="#ff0000"/><stop offset="0.1429" stop-color="#ff9400"/><stop offset="0.1627" stop-color="#ffff00"/><stop offset="0.21" stop-color="#00ffff"/><stop offset="0.2143" stop-color="#00e8ff"/><stop offset="0.2857" stop-color="#0038ff"/><stop offset="0.3558" stop-color="#0000ff"/><stop offset="0.3571" stop-color="#0000fe"/><stop offset="0.3575" stop-color="#0000ff"/><stop offset="0.4286" stop-color="#00d6ff"/><stop offset="0.4375" stop-color="#00ffff"/><stop offset="0.4927" stop-color="#ffff00"/><stop offset="0.5" stop-color="#ffdd00"/><stop offset="0.5585" stop-color="#ff0000"/><stop offset="0.5714" stop-color="#ce0000"/><stop offset="0.6429" stop-color="#8c0000"/><stop offset="0.7143" stop-color="#820000"/><stop offset="0.7857" stop-color="#820000"/><stop offset="0.8571" stop-color="#840000"/><stop offset="0.9286" stop-color="#b30000"/><stop offset="0.9529" stop-color="#ff0000"/><stop offset="1" stop-color="#ff9400"/></linearGradient>
<linearGradient id="g2_56" gradientUnits="userSpaceOnUse" x1="0" y1="53.20" x2="0" y2="529.20"><stop offset="0" stop-color="#840000"/><stop offset="0.07143" stop-color="#b30000"/><stop offset="0.09545" stop-color="#ff0000"/><stop offset="0.1429" stop-color="#ff9500"/><stop offset="0.1625" stop-color="#ffff00"/><stop offset="0.2098" stop-color="#00ffff"/><stop offset="0.2143" stop-color="#00e7ff"/><stop offset="0.2857" stop-color="#003aff"/><stop offset="0.3571" stop-color="#0003ff"/><stop offset="0.4286" stop-color="#00d7ff"/><stop offset="0.4373" stop-color="#00ffff"/><stop offset="0.4928" stop-color="#ffff00"/><stop offset="0.5" stop-color="#ffde00"/><stop offset="0.5587" stop-color="#ff0000"/><stop offset="0.5714" stop-color="#cf0000"/><stop offset="0.6429" stop-color="#8d0000"/><stop offset="0.7143" stop-color="#820000"/><stop offset="0.7857" stop-color="#820000"/><stop offset="0.8571" stop-color="#840000"/><stop offset="0.9286" stop-color="#b30000"/><stop offset="0.9526" stop-color="#ff0000"/><stop offset="1" stop-color="#ff9500"/></linearGradient>
<linearGradient id="g2_57" gradientUnits="userSpaceOnUse" x1="0" y1="53.20" x2="0" y2="529.20"><stop offset="0" stop-color="#840000"/><stop offset="0.07143" stop-color="#b40000"/><stop offset="0.09511" stop-color="#ff0000"/><stop offset="0.1429" stop-color="#ff9700"/><stop offset="0.1622" stop-color="#ffff00"/><stop offset="0.2096" stop-color="#00ffff"/><stop offset="0.2143" stop-color="#00e6ff"/><stop offset="0.2857" stop-color="#003bff"/><stop offset="0.3571" stop-color="#0006ff"/><stop offset="0.4286" stop-color="#00d8ff"/><stop offset="0.4372" stop-color="#00ffff"/><stop offset="0.4928" stop-color="#ffff00"/><stop offset="0.5" stop-color="#ffde00"/><stop offset="0.5588" stop-color="#ff0000"/><stop offset="0.5714" stop-color="#cf0000"/><stop offset="0.6429" stop-color="#8e0000"/><stop offset="0.7143" stop-color="#820000"/><stop offset="0.7857" stop-color="#820000"/><stop offset="0.8571" stop-color="#840000"/><stop offset="0.9286" stop-color="#b40000"/><stop offset="0.9523" stop-color="#ff0000"/><stop offset="1" stop-color="#ff9700"/></linearGradient>
<linearGradient id="g2_58" gradientUnits="userSpaceOnUse" x1="0" y1="53.20" x2="0" y2="529.20"><stop offset="0" stop-color="#840000"/><stop offset="0.07143" stop-color="#b50000"/><stop offset="0.09474" stop-color="#ff0000"/><stop offset="0.1429" stop-color="#ff9800"/><stop offset="0.1619" stop-color="#ffff00"/><stop offset="0.2093" stop-color="#00ffff"/><stop offset="0.2143" stop-color="#00e4ff"/><stop offset="0.2857" stop-color="#003cff"/><stop offset="0.3571" stop-color="#000aff"/><stop offset="0.4286" stop-color="#00d9ff"/><stop offset="0.4369" stop-color="#00ffff"/><stop offset="0.4928" stop-color="#ffff00"/><stop offset="0.5" stop-color="#ffde00"/><stop offset="0.5589" stop-color="#ff0000"/><stop offset="0.5714" stop-color="#d00000"/><stop offset="0.6429" stop-color="#8f0000"/><stop offset="0.7143" stop-color="#820000"/><stop offset="0.7857" stop-color="#820000"/><stop offset="0.8571" stop-color="#840000"/><stop offset="0.9286" stop-color="#b50000"/><stop offset="0.9519" stop-color="#ff0000"/><stop offset="1" stop-color="#ff9800"/></linearGradient>
<linearGradient id="g2_59" gradientUnits="userSpaceOnUse" x1="0" y1="53.20" x2="0" y2="529.20"><stop offset="0" stop-color="#840000"/><stop offset="0.07143" stop-color="#b60000"/><stop offset="0.09436" stop-color="#ff0000"/><stop offset="0.1429" stop-color="#ff9a00"/><stop offset="0.1616" stop-color="#ffff00"/><stop offset="0.209" stop-color="#00ffff"/><stop offset="0.2143" stop-color="#00e3ff"/><stop offset="0.2857" stop-color="#003eff"/><stop offset="0.3571" stop-color="#000dff"/><stop offset="0.4286" stop-color="#00daff"/><stop offset="0.4367" stop-color="#00ffff"/><stop offset="0.4928" stop-color="#ffff00"/><stop offset="0.5" stop-color="#ffde00"/><stop offset="0.5591" stop-color="#ff0000"/><stop offset="0.5714" stop-color="#d10000"/><stop offset="0.6429" stop-color="#900000"/><stop offset="0.7143" stop-color="#820000"/><stop offset="0.7857" stop-color="#820000"/><stop offset="0.8571" stop-color="#840000"/><stop offset="0.9286" stop-color="#b60000"/><stop offset="0.9515" stop-color="#ff0000"/><stop offset="1" stop-color="#ff9a00"/></linearGradient>
<linearGradient id="g2_60" gradientUnits="userSpaceOnUse" x1="0" y1="53.20" x2="0" y2="529.20"><stop offset="0" stop-color="#840000"/><stop offset="0.07143" stop-color="#b70000"/><stop offset="0.09398" stop-color="#ff0000"/><stop offset="0.1429" stop-color="#ff9c00"/><stop offset="0.1613" stop-color="#ffff00"/><stop offset="0.2087" stop-color="#00ffff"/><stop offset="0.2143" stop-color="#00e1ff"/><stop offset="0.2857" stop-color="#003eff"/><stop offset="0.3571" stop-color="#0010ff"/><stop offset="0.4286" stop-color="#00dcff"/><stop offset="0.4364" stop-color="#00ffff"/><stop offset="0.4928" stop-color="#ffff00"/><stop offset="0.5" stop-color="#ffdf00"/><stop offset="0.5592" stop-color="#ff0000"/><stop offset="0.5714" stop-color="#d10000"/><stop offset="0.6429" stop-color="#910000"/><stop offset="0.7143" stop-color="#820000"/><stop offset="0.7857" stop-color="#820000"/><stop offset="0.8571" stop-color="#840000"/><stop offset="0.9286" stop-color="#b70000"/><stop offset="0.9511" stop-color="#ff0000"/><stop offset="1" stop-color="#ff9c00"/></linearGradient>
<linearGradient id="g2_61" gradientUnits="userSpaceOnUse" x1="0" y1="53.20" x2="0" y2="529.20"><stop offset="0" stop-color="#840000"/><stop offset="0.07143" stop-color="#b80000"/><stop offset="0.09364" stop-color="#ff0000"/><stop offset="0.1429" stop-color="#ff9d00"/><stop offset="0.161" stop-color="#ffff00"/><stop offset="0.2084" stop-color="#00ffff"/><stop offset="0.2143" stop-color="#00dfff"/><stop offset="0.2857" stop-color="#003fff"/><stop offset="0.3571" stop-color="#0013ff"/><stop offset="0.4286" stop-color="#00ddff"/><stop offset="0.4361" stop-color="#00ffff"/><stop offset="0.4928" stop-color="#ffff00"/><stop offset="0.5" stop-color="#ffdf00"/><stop offset="0.5594" stop-color="#ff0000"/><stop offset="0.5714" stop-color="#d20000"/><stop offset="0.6429" stop-color="#920000"/><stop offset="0.7143" stop-color="#820000"/><stop offset="0.7857" stop-color="#820000"/><stop offset="0.8571" stop-color="#840000"/><stop offset="0.9286" stop-color="#b80000"/><stop offset="0.9508" stop-color="#ff0000"/><stop offset="1" stop-color="#ff9d00"/></linearGradient>
<linearGradient id="g2_62" gradientUnits="userSpaceOnUse" x1="0" y1="53.20" x2="0" y2="529.20"><stop offset="0" stop-color="#840000"/><stop offset="0.07143" stop-color="#b90000"/><stop offset="0.09333" stop-color="#ff0000"/><stop offset="0.1429" stop-color="#ff9f00"/><stop offset="0.1607" stop-color="#ffff00"/><stop offset="0.2081" stop-color="#00ffff"/><stop offset="0.2143" stop-color="#00deff"/><stop offset="0.2857" stop-color="#0040ff"/><stop offset="0.3571" stop-color="#0016ff"/><stop offset="0.4286" stop-color="#00deff"/><stop offset="0.4359" stop-color="#00ffff"/><stop offset="0.4928" stop-color="#ffff00"/><stop offset="0.5" stop-color="#ffdf00"/><stop offset="0.5596" stop-color="#ff0000"/><stop offset="0.5714" stop-color="#d30000"/><stop offset="0.6429" stop-color="#920000"/><stop offset="0.7143" stop-color="#820000"/><stop offset="0.7857" stop-color="#820000"/><stop offset="0.8571" stop-color="#840000"/><stop offset="0.9286" stop-color="#b90000"/><stop offset="0.9505" stop-color="#ff0000"/><stop offset="1" stop-color="#ff9f00"/></linearGradient>
<clipPath id="clip2"><rect x="917.30" y="53.80" width="622.80" height="475.20"/></clipPath>
<clipPath id="cclip2"><rect x="916.30" y="40" width="624.80" height="489.60"/></clipPath>
<linearGradient id="g3_0" gradientUnits="userSpaceOnUse" x1="0" y1="53.20" x2="0" y2="529.20"><stop offset="0" stop-color="#940000"/><stop offset="0.07143" stop-color="#ba0000"/><stop offset="0.1429" stop-color="#dc0000"/><stop offset="0.1506" stop-color="#ff0000"/><stop offset="0.2067" stop-color="#ffff00"/><stop offset="0.2143" stop-color="#ddff22"/><stop offset="0.2857" stop-color="#77ff88"/><stop offset="0.3571" stop-color="#93ff6c"/><stop offset="0.3893" stop-color="#ffff00"/><stop offset="0.4286" stop-color="#ff7b00"/><stop offset="0.4768" stop-color="#ff0000"/><stop offset="0.5" stop-color="#c40000"/><stop offset="0.5714" stop-color="#9d0000"/><stop offset="0.6429" stop-color="#940000"/><stop offset="0.7143" stop-color="#940000"/><stop offset="0.7857" stop-color="#940000"/><stop offset="0.8571" stop-color="#940000"/><stop offset="0.9286" stop-color="#ba0000"/><stop offset="1" stop-color="#dc0000"/></linearGradient>
<linearGradient id="g3_1" gradientUnits="userSpaceOnUse" x1="0" y1="53.20" x2="0" y2="529.20"><stop offset="0" stop-color="#920000"/><stop offset="0.07143" stop-color="#b70000"/><stop offset="0.1429" stop-color="#e00000"/><stop offset="0.1497" stop-color="#ff0000"/><stop offset="0.206" stop-color="#ffff00"/><stop offset="0.2143" stop-color="#d9ff26"/><stop offset="0.2857" stop-color="#6bff94"/><stop offset="0.3571" stop-color="#80ff7f"/><stop offset="0.3946" stop-color="#ffff00"/><stop offset="0.4286" stop-color="#ff8c00"/><stop offset="0.4804" stop-color="#ff0000"/><stop offset="0.5" stop-color="#ca0000"/><stop offset="0.5714" stop-color="#9e0000"/><stop offset="0.6429" stop-color="#930000"/><stop offset="0.7143" stop-color="#920000"/><stop offset="0.7857" stop-color="#920000"/><stop offset="0.8571" stop-color="#920000"/><stop offset="0.9286" stop-color="#b70000"/><stop offset="1" stop-color="#e00000"/></linearGradient>
<linearGradient id="g3_2" gradientUnits="userSpaceOnUse" x1="0" y1="53.20" x2="0" y2="529.20"><stop offset="0" stop-color="#900000"/><stop offset="0.07143" stop-color="#b50000"/><stop offset="0.1429" stop-color="#e40000"/><stop offset="0.1488" stop-color="#ff0000"/><stop offset="0.2052" stop-color="#ffff00"/><stop offset="0.2143" stop-color="#d6ff29"/><stop offset="0.2857" stop-color="#5fffa0"/><stop offset="0.3571" stop-color="#6cff93"/><stop offset="0.4001" stop-color="#ffff00"/><stop offset="0.4286" stop-color="#ff9d00"/><stop offset="0.484" stop-color="#ff0000"/><stop offset="0.5" stop-color="#d20000"/><stop offset="0.5714" stop-color="#9f0000"/><stop offset="0.6429" stop-color="#910000"/><stop offset="0.7143" stop-color="#900000"/><stop offset="0.7857" stop-color="#900000"/><stop offset="0.8571" stop-color="#900000"/><stop offset="0.9286" stop-color="#b50000"/><stop offset="1" stop-color="#e40000"/></linearGradient>
<linearGradient id="g3_3" gradientUnits="userSpaceOnUse" x1="0" y1="53.20" x2="0" y2="529.20"><stop offset="0" stop-color="#8f0000"/><stop offset="0.07143" stop-color="#b20000"/><stop offset="0.1429" stop-color="#e80000"/><stop offset="0.148" stop-color="#ff0000"/><stop offset="0.2043" stop-color="#ffff00"/><stop offset="0.2143" stop-color="#d2ff2d"/><stop offset="0.2857" stop-color="#53ffac"/><stop offset="0.3571" stop-color="#57ffa8"/><stop offset="0.4054" stop-color="#ffff00"/><stop offset="0.4286" stop-color="#ffae00"/><stop offset="0.4873" stop-color="#ff0000"/><stop offset="0.5" stop-color="#d90000"/><stop offset="0.5714" stop-color="#a00000"/><stop offset="0.6429" stop-color="#900000"/><stop offset="0.7143" stop-color="#8f0000"/><stop offset="0.7857" stop-color="#8f0000"/><stop offset="0.8571" stop-color="#8f0000"/><stop offset="0.9286" stop-color="#b20000"/><stop offset="1" stop-color="#e80000"/></linearGradient>
<linearGradient id="g3_4" gradientUnits="userSpaceOnUse" x1="0" y1="53.20" x2="0" y2="529.20"><stop offset="0" stop-color="#8d0000"/><stop offset="0.07143" stop-color="#b00000"/><stop offset="0.1429" stop-color="#eb0000"/><stop offset="0.1472" stop-color="#ff0000"/><stop offset="0.2035" stop-color="#ffff00"/><stop offset="0.2143" stop-color="#ceff31"/><stop offset="0.2857" stop-color="#48ffb7"/><stop offset="0.3571" stop-color="#43ffbc"/><stop offset="0.4104" stop-color="#ffff00"/><stop offset="0.4286" stop-color="#ffbf00"/><stop offset="0.4903" stop-color="#ff0000"/><stop offset="0.5" stop-color="#e10000"/><stop offset="0.5714" stop-color="#a10000"/><stop offset="0.6429" stop-color="#8e0000"/><stop offset="0.7143" stop-color="#8d0000"/><stop offset="0.7857" stop-color="#8d0000"/><stop offset="0.8571" stop-color="#8d0000"/><stop offset="0.9286" stop-color="#b00000"/><stop offset="1" stop-color="#eb0000"/></linearGradient>
<linearGradient id="g3_5" gradientUnits="userSpaceOnUse" x1="0" y1="53.20" x2="0" y2="529.20"><stop offset="0" stop-color="#8b0000"/><stop offset="0.07143" stop-color="#ae0000"/><stop offset="0.1429" stop-color="#ef0000"/><stop offset="0.1464" stop-color="#ff0000"/><stop offset="0.2024" stop-color="#ffff00"/><stop offset="0.2143" stop-color="#c9ff36"/><stop offset="0.2857" stop-color="#3dffc2"/><stop offset="0.3571" stop-color="#2fffd0"/><stop offset="0.415" stop-color="#ffff00"/><stop offset="0.4286" stop-color="#ffce00"/><stop offset="0.4932" stop-color="#ff0000"/><stop offset="0.5" stop-color="#e90000"/><stop offset="0.5714" stop-color="#a30000"/><stop offset="0.6429" stop-color="#8d0000"/><stop offset="0.7143" stop-color="#8b0000"/><stop offset="0.7857" stop-color="#8b0000"/><stop offset="0.8571" stop-color="#8b0000"/><stop offset="0.9286" stop-color="#ae0000"/><stop offset="1" stop-color="#ef0000"/></linearGradient>
<linearGradient id="g3_6" gradientUnits="userSpaceOnUse" x1="0" y1="53.20" x2="0" y2="529.20"><stop offset="0" stop-color="#8a0000"/><stop offset="0.07143" stop-color="#ad0000"/><stop offset="0.1429" stop-color="#f20000"/><stop offset="0.1457" stop-color="#ff0000"/><stop offset="0.2013" stop-color="#ffff00"/><stop offset="0.2143" stop-color="#c3ff3c"/><stop offset="0.2857" stop-color="#33ffcc"/><stop offset="0.3571" stop-color="#1dffe2"/><stop offset="0.4193" stop-color="#ffff00"/><stop offset="0.4286" stop-color="#ffdd00"/><stop offset="0.4958" stop-color="#ff0000"/><stop offset="0.5" stop-color="#f10000"/><stop offset="0.5714" stop-color="#a50000"/><stop offset="0.6429" stop-color="#8c0000"/><stop offset="0.7143" stop-color="#8a0000"/><stop offset="0.7857" stop-color="#8a0000"/><stop offset="0.8571" stop-color="#8a0000"/><stop offset="0.9286" stop-color="#ad0000"/><stop offset="1" stop-color="#f20000"/></linearGradient>
<linearGradient id="g3_7" gradientUnits="userSpaceOnUse" x1="0" y1="53.20" x2="0" y2="529.20"><stop offset="0" stop-color="#890000"/><stop offset="0.07143" stop-color="#ac0000"/><stop offset="0.1429" stop-color="#f50000"/><stop offset="0.1449" stop-color="#ff0000"/><stop offset="0.1999" stop-color="#ffff00"/><stop offset="0.2143" stop-color="#bcff43"/><stop offset="0.2857" stop-color="#29ffd6"/><stop offset="0.3571" stop-color="#0dfff2"/><stop offset="0.4234" stop-color="#ffff00"/><stop offset="0.4286" stop-color="#ffec00"/><stop offset="0.4983" stop-color="#ff0000"/><stop offset="0.5" stop-color="#f90000"/><stop offset="0.5714" stop-color="#a80000"/><stop offset="0.6429" stop-color="#8b0000"/><stop offset="0.7143" stop-color="#890000"/><stop offset="0.7857" stop-color="#890000"/><stop offset="0.8571" stop-color="#890000"/><stop offset="0.9286" stop-color="#ac0000"/><stop offset="1" stop-color="#f50000"/></linearGradient>
<linearGradient id="g3_8" gradientUnits="userSpaceOnUse" x1="0" y1="53.20" x2="0" y2="529.20"><stop offset="0" stop-color="#870000"/><stop offset="0.07143" stop-color="#ab0000"/><stop offset="0.1429" stop-color="#f90000"/><stop offset="0.1441" stop-color="#ff0000"/><stop offset="0.1985" stop-color="#ffff00"/><stop offset="0.2143" stop-color="#b5ff4a"/><stop offset="0.2857" stop-color="#20ffdf"/><stop offset="0.3546" stop-color="#00ffff"/><stop offset="0.3571" stop-color="#00feff"/><stop offset="0.3575" stop-color="#00ffff"/><stop offset="0.4275" stop-color="#ffff00"/><stop offset="0.4286" stop-color="#fffb00"/><stop offset="0.5" stop-color="#ff0200"/><stop offset="0.5017" stop-color="#ff0000"/><stop offset="0.5714" stop-color="#aa0000"/><stop offset="0.6429" stop-color="#8a0000"/><stop offset="0.7143" stop-color="#880000"/><stop offset="0.7857" stop-color="#870000"/><stop offset="0.8571" stop-color="#870000"/><stop offset="0.9286" stop-color="#ab0000"/><stop offset="1" stop-color="#f90000"/></linearGradient>
<linearGradient id="g3_9" gradientUnits="userSpaceOnUse" x1="0" y1="53.20" x2="0" y2="529.20"><stop offset="0" stop-color="#860000"/><stop offset="0.07143" stop-color="#aa0000"/><stop offset="0.1429" stop-color="#fd0000"/><stop offset="0.1434" stop-color="#ff0000"/><stop offset="0.1971" stop-color="#ffff00"/><stop offset="0.2143" stop-color="#adff52"/><stop offset="0.2857" stop-color="#18ffe7"/><stop offset="0.3309" stop-color="#00ffff"/><stop offset="0.3571" stop-color="#00f1ff"/><stop offset="0.361" stop-color="#00ffff"/><stop offset="0.4286" stop-color="#f4ff0b"/><stop offset="0.4316" stop-color="#ffff00"/><stop offset="0.5" stop-color="#ff0a00"/><stop offset="0.5078" stop-color="#ff0000"/><stop offset="0.5714" stop-color="#ad0000"/><stop offset="0.6429" stop-color="#890000"/><stop offset="0.7143" stop-color="#860000"/><stop offset="0.7857" stop-color="#860000"/><stop offset="0.8571" stop-color="#860000"/><stop offset="0.9286" stop-color="#aa0000"/><stop offset="1" stop-color="#fd0000"/></linearGradient>
<linearGradient id="g3_10" gradientUnits="userSpaceOnUse" x1="0" y1="53.20" x2="0" y2="529.20"><stop offset="0" stop-color="#850000"/><stop offset="0.07143" stop-color="#aa0000"/><stop offset="0.1416" stop-color="#ff0000"/><stop offset="0.1429" stop-color="#ff0100"/><stop offset="0.1957" stop-color="#ffff00"/><stop offset="0.2143" stop-color="#a6ff59"/><stop offset="0.2857" stop-color="#10ffef"/><stop offset="0.3138" stop-color="#00ffff"/><stop offset="0.3571" stop-color="#00e6ff"/><stop offset="0.3641" stop-color="#00ffff"/><stop offset="0.4286" stop-color="#e6ff19"/><stop offset="0.4355" stop-color="#ffff00"/><stop offset="0.5" stop-color="#ff1200"/><stop offset="0.5134" stop-color="#ff0000"/><stop offset="0.5714" stop-color="#b00000"/><stop offset="0.6429" stop-color="#880000"/><stop offset="0.7143" stop-color="#860000"/><stop offset="0.7857" stop-color="#860000"/><stop offset="0.8571" stop-color="#850000"/><stop offset="0.9286" stop-color="#aa0000"/><stop offset="0.9988" stop-color="#ff0000"/><stop offset="1" stop-color="#ff0100"/></linearGradient>
<linearGradient id="g3_11" gradientUnits="userSpaceOnUse" x1="0" y1="53.20" x2="0" y2="529.20"><stop offset="0" stop-color="#850000"/><stop offset="0.07143" stop-color="#aa0000"/><stop offset="0.1387" stop-color="#ff0000"/><stop offset="0.1429" stop-color="#ff0500"/><stop offset="0.1946" stop-color="#ffff00"/><stop offset="0.2143" stop-color="#a0ff5f"/><stop offset="0.2857" stop-color="#0afff5"/><stop offset="0.3018" stop-color="#00ffff"/><stop offset="0.3571" stop-color="#00ddff"/><stop offset="0.3669" stop-color="#00ffff"/><stop offset="0.4286" stop-color="#d9ff26"/><stop offset="0.4387" stop-color="#ffff00"/><stop offset="0.5" stop-color="#ff1a00"/><stop offset="0.518" stop-color="#ff0000"/><stop offset="0.5714" stop-color="#b30000"/><stop offset="0.6429" stop-color="#880000"/><stop offset="0.7143" stop-color="#850000"/><stop offset="0.7857" stop-color="#850000"/><stop offset="0.8571" stop-color="#850000"/><stop offset="0.9286" stop-color="#aa0000"/><stop offset="0.9958" stop-color="#ff0000"/><stop offset="1" stop-color="#ff0500"/></linearGradient>
<linearGradient id="g3_12" gradientUnits="userSpaceOnUse" x1="0" y1="53.20" x2="0" y2="529.20"><stop offset="0" stop-color="#840000"/><stop offset="0.07143" stop-color="#aa0000"/><stop offset="0.1355" stop-color="#ff0000"/><stop offset="0.1429" stop-color="#ff0a00"/><stop offset="0.1935" stop-color="#ffff00"/><stop offset="0.2143" stop-color="#9aff65"/><stop offset="0.2857" stop-color="#03fffc"/><stop offset="0.2907" stop-color="#00ffff"/><stop offset="0.3571" stop-color="#00d2ff"/><stop offset="0.3701" stop-color="#00ffff"/><stop offset="0.4286" stop-color="#cbff34"/><stop offset="0.4421" stop-color="#ffff00"/><stop offset="0.5" stop-color="#ff2100"/><stop offset="0.5224" stop-color="#ff0000"/><stop offset="0.5714" stop-color="#b60000"/><stop offset="0.6429" stop-color="#870000"/><stop offset="0.7143" stop-color="#840000"/><stop offset="0.7857" stop-color="#840000"/><stop offset="0.8571" stop-color="#840000"/><stop offset="0.9286" stop-color="#aa0000"/><stop offset="0.9926" stop-color="#ff0000"/><stop offset="1" stop-color="#ff0a00"/></linearGradient>
<linearGradient id="g3_13" gradientUnits="userSpaceOnUse" x1="0" y1="53.20" x2="0" y2="529.20"><stop offset="0" stop-color="#840000"/><stop offset="0.07143" stop-color="#a90000"/><stop offset="0.1323" stop-color="#ff0000"/><stop offset="0.1429" stop-color="#ff0f00"/><stop offset="0.1925" stop-color="#ffff00"/><stop offset="0.2143" stop-color="#96ff69"/><stop offset="0.2842" stop-color="#00ffff"/><stop offset="0.2857" stop-color="#00fcff"/><stop offset="0.3571" stop-color="#00c6ff"/><stop offset="0.3737" stop-color="#00ffff"/><stop offset="0.4286" stop-color="#beff41"/><stop offset="0.4452" stop-color="#ffff00"/><stop offset="0.5" stop-color="#ff2900"/><stop offset="0.5262" stop-color="#ff0000"/><stop offset="0.5714" stop-color="#b80000"/><stop offset="0.6429" stop-color="#870000"/><stop offset="0.7143" stop-color="#840000"/><stop offset="0.7857" stop-color="#840000"/><stop offset="0.8571" stop-color="#840000"/><stop offset="0.9286" stop-color="#a90000"/><stop offset="0.9895" stop-color="#ff0000"/><stop offset="1" stop-color="#ff0f00"/></linearGradient>
<linearGradient id="g3_14" gradientUnits="userSpaceOnUse" x1="0" y1="53.20" x2="0" y2="529.20"><stop offset="0" stop-color="#830000"/><stop offset="0.07143" stop-color="#a90000"/><stop offset="0.1294" stop-color="#ff0000"/><stop offset="0.1429" stop-color="#ff1400"/><stop offset="0.1915" stop-color="#ffff00"/><stop offset="0.2143" stop-color="#91ff6e"/><stop offset="0.2811" stop-color="#00ffff"/><stop offset="0.2857" stop-color="#00f5ff"/><stop offset="0.3571" stop-color="#00b7ff"/><stop offset="0.3779" stop-color="#00ffff"/><stop offset="0.4286" stop-color="#b0ff4f"/><stop offset="0.4484" stop-color="#ffff00"/><stop offset="0.5" stop-color="#ff3000"/><stop offset="0.5295" stop-color="#ff0000"/><stop offset="0.5714" stop-color="#bb0000"/><stop offset="0.6429" stop-color="#860000"/><stop offset="0.7143" stop-color="#840000"/><stop offset="0.7857" stop-color="#830000"/><stop offset="0.8571" stop-color="#830000"/><stop offset="0.9286" stop-color="#a90000"/><stop offset="0.9865" stop-color="#ff0000"/><stop offset="1" stop-color="#ff1400"/></linearGradient>
<linearGradient id="g3_15" gradientUnits="userSpaceOnUse" x1="0" y1="53.20" x2="0" y2="529.20"><stop offset="0" stop-color="#830000"/><stop offset="0.07143" stop-color="#a90000"/><stop offset="0.1267" stop-color="#ff0000"/><stop offset="0.1429" stop-color="#ff1900"/><stop offset="0.1906" stop-color="#ffff00"/><stop offset="0.2143" stop-color="#8dff72"/><stop offset="0.2778" stop-color="#00ffff"/><stop offset="0.2857" stop-color="#00edff"/><stop offset="0.3571" stop-color="#00a6ff"/><stop offset="0.3826" stop-color="#00ffff"/><stop offset="0.4286" stop-color="#a1ff5e"/><stop offset="0.4515" stop-color="#ffff00"/><stop offset="0.5" stop-color="#ff3700"/><stop offset="0.5325" stop-color="#ff0000"/><stop offset="0.5714" stop-color="#bd0000"/><stop offset="0.6429" stop-color="#860000"/><stop offset="0.7143" stop-color="#830000"/><stop offset="0.7857" stop-color="#830000"/><stop offset="0.8571" stop-color="#830000"/><stop offset="0.9286" stop-color="#a90000"/><stop offset="0.9839" stop-color="#ff0000"/><stop offset="1" stop-color="#ff1900"/></linearGradient>
<linearGradient id="g3_16" gradientUnits="userSpaceOnUse" x1="0" y1="53.20" x2="0" y2="529.20"><stop offset="0" stop-color="#830000"/><stop offset="0.07143" stop-color="#a90000"/><stop offset="0.1243" stop-color="#ff0000"/><stop offset="0.1429" stop-color="#ff1e00"/><stop offset="0.1897" stop-color="#ffff00"/><stop offset="0.2143" stop-color="#89ff76"/><stop offset="0.2743" stop-color="#00ffff"/><stop offset="0.2857" stop-color="#00e5ff"/><stop offset="0.3571" stop-color="#0095ff"/><stop offset="0.3874" stop-color="#00ffff"/><stop offset="0.4286" stop-color="#91ff6e"/><stop offset="0.4546" stop-color="#ffff00"/><stop offset="0.5" stop-color="#ff3f00"/><stop offset="0.5353" stop-color="#ff0000"/><stop offset="0.5714" stop-color="#bf0000"/><stop offset="0.6429" stop-color="#860000"/><stop offset="0.7143" stop-color="#830000"/><stop offset="0.7857" stop-color="#830000"/><stop offset="0.8571" stop-color="#830000"/><stop offset="0.9286" stop-color="#a90000"/><stop offset="0.9815" stop-color="#ff0000"/><stop offset="1" stop-color="#ff1e00"/></linearGradient>
<linearGradient id="g3_17" gradientUnits="userSpaceOnUse" x1="0" y1="53.20" x2="0" y2="529.20"><stop offset="0" stop-color="#830000"/><stop offset="0.07143" stop-color="#a90000"/><stop offset="0.1223" stop-color="#ff0000"/><stop offset="0.1429" stop-color="#ff2300"/><stop offset="0.1888" stop-color="#ffff00"/><stop offset="0.2143" stop-color="#85ff7a"/><stop offset="0.2706" stop-color="#00ffff"/><stop offset="0.2857" stop-color="#00dbff"/><stop offset="0.3571" stop-color="#0084ff"/><stop offset="0.3921" stop-color="#00ffff"/><stop offset="0.4286" stop-color="#80ff7f"/><stop offset="0.4577" stop-color="#ffff00"/><stop offset="0.5" stop-color="#ff4700"/><stop offset="0.5379" stop-color="#ff0000"/><stop offset="0.5714" stop-color="#c00000"/><stop offset="0.6429" stop-color="#860000"/><stop offset="0.7143" stop-color="#830000"/><stop offset="0.7857" stop-color="#830000"/><stop offset="0.8571" stop-color="#830000"/><stop offset="0.9286" stop-color="#a90000"/><stop offset="0.9795" stop-color="#ff0000"/><stop offset="1" stop-color="#ff2300"/></linearGradient>
<linearGradient id="g3_18" gradientUnits="userSpaceOnUse" x1="0" y1="53.20" x2="0" y2="529.20"><stop offset="0" stop-color="#820000"/><stop offset="0.07143" stop-color="#a90000"/><stop offset="0.1207" stop-color="#ff0000"/><stop offset="0.1429" stop-color="#ff2700"/><stop offset="0.1879" stop-color="#ffff00"/><stop offset="0.2143" stop-color="#81ff7e"/><stop offset="0.2664" stop-color="#00ffff"/><stop offset="0.2857" stop-color="#00cfff"/><stop offset="0.3571" stop-color="#0074ff"/><stop offset="0.3968" stop-color="#00ffff"/><stop offset="0.4286" stop-color="#6fff90"/><stop offset="0.4607" stop-color="#ffff00"/><stop offset="0.5" stop-color="#ff4f00"/><stop offset="0.5405" stop-color="#ff0000"/><stop offset="0.5714" stop-color="#c20000"/><stop offset="0.6429" stop-color="#860000"/><stop offset="0.7143" stop-color="#830000"/><stop offset="0.7857" stop-color="#830000"/><stop offset="0.8571" stop-color="#820000"/><stop offset="0.9286" stop-color="#a90000"/><stop offset="0.9779" stop-color="#ff0000"/><stop offset="1" stop-color="#ff2700"/></linearGradient>
<linearGradient id="g3_19" gradientUnits="userSpaceOnUse" x1="0" y1="53.20" x2="0" y2="529.20"><stop offset="0" stop-color="#820000"/><stop offset="0.07143" stop-color="#a80000"/><stop offset="0.1195" stop-color="#ff0000"/><stop offset="0.1429" stop-color="#ff2a00"/><stop offset="0.1869" stop-color="#ffff00"/><stop offset="0.2143" stop-color="#7bff84"/><stop offset="0.2619" stop-color="#00ffff"/><stop offset="0.2857" stop-color="#00c1ff"/><stop offset="0.3571" stop-color="#0066ff"/><stop offset="0.4014" stop-color="#00ffff"/><stop offset="0.4286" stop-color="#5effa1"/><stop offset="0.4637" stop-color="#ffff00"/><stop offset="0.5" stop-color="#ff5900"/><stop offset="0.5429" stop-color="#ff0000"/><stop offset="0.5714" stop-color="#c40000"/><stop offset="0.6429" stop-color="#860000"/><stop offset="0.7143" stop-color="#830000"/><stop offset="0.7857" stop-color="#830000"/><stop offset="0.8571" stop-color="#820000"/><stop offset="0.9286" stop-color="#a80000"/><stop offset="0.9766" stop-color="#ff0000"/><stop offset="1" stop-color="#ff2a00"/></linearGradient>
<linearGradient id="g3_20" gradientUnits="userSpaceOnUse" x1="0" y1="53.20" x2="0" y2="529.20"><stop offset="0" stop-color="#820000"/><stop offset="0.07143" stop-color="#a80000"/><stop offset="0.1185" stop-color="#ff0000"/><stop offset="0.1429" stop-color="#ff2d00"/><stop offset="0.1859" stop-color="#ffff00"/><stop offset="0.2143" stop-color="#74ff8b"/><stop offset="0.2573" stop-color="#00ffff"/><stop offset="0.2857" stop-color="#00b2ff"/><stop offset="0.3571" stop-color="#0059ff"/><stop offset="0.4057" stop-color="#00ffff"/><stop offset="0.4286" stop-color="#4effb1"/><stop offset="0.4664" stop-color="#ffff00"/><stop offset="0.5" stop-color="#ff6200"/><stop offset="0.5451" stop-color="#ff0000"/><stop offset="0.5714" stop-color="#c60000"/><stop offset="0.6429" stop-color="#860000"/><stop offset="0.7143" stop-color="#830000"/><stop offset="0.7857" stop-color="#830000"/><stop offset="0.8571" stop-color="#820000"/><stop offset="0.9286" stop-color="#a80000"/><stop offset="0.9756" stop-color="#ff0000"/><stop offset="1" stop-color="#ff2d00"/></linearGradient>
<linearGradient id="g3_21" gradientUnits="userSpaceOnUse" x1="0" y1="53.20" x2="0" y2="529.20"><stop offset="0" stop-color="#820000"/><stop offset="0.07143" stop-color="#a80000"/><stop offset="0.1177" stop-color="#ff0000"/><stop offset="0.1429" stop-color="#ff2f00"/><stop offset="0.1848" stop-color="#ffff00"/><stop offset="0.2143" stop-color="#6dff92"/><stop offset="0.253" stop-color="#00ffff"/><stop offset="0.2857" stop-color="#00a2ff"/><stop offset="0.3571" stop-color="#004cff"/><stop offset="0.4099" stop-color="#00ffff"/><stop offset="0.4286" stop-color="#3fffc0"/><stop offset="0.469" stop-color="#ffff00"/><stop offset="0.5" stop-color="#ff6c00"/><stop offset="0.5471" stop-color="#ff0000"/><stop offset="0.5714" stop-color="#c70000"/><stop offset="0.6429" stop-color="#860000"/><stop offset="0.7143" stop-color="#830000"/><stop offset="0.7857" stop-color="#830000"/><stop offset="0.8571" stop-color="#820000"/><stop offset="0.9286" stop-color="#a80000"/><stop offset="0.9748" stop-color="#ff0000"/><stop offset="1" stop-color="#ff2f00"/></linearGradient>
<linearGradient id="g3_22" gradientUnits="userSpaceOnUse" x1="0" y1="53.20" x2="0" y2="529.20"><stop offset="0" stop-color="#820000"/><stop offset="0.07143" stop-color="#a80000"/><stop offset="0.117" stop-color="#ff0000"/><stop offset="0.1429" stop-color="#ff3100"/><stop offset="0.1838" stop-color="#ffff00"/><stop offset="0.2143" stop-color="#66ff99"/><stop offset="0.2492" stop-color="#00ffff"/><stop offset="0.2857" stop-color="#0094ff"/><stop offset="0.3571" stop-color="#0040ff"/><stop offset="0.4138" stop-color="#00ffff"/><stop offset="0.4286" stop-color="#32ffcd"/><stop offset="0.4713" stop-color="#ffff00"/><stop offset="0.5" stop-color="#ff7500"/><stop offset="0.549" stop-color="#ff0000"/><stop offset="0.5714" stop-color="#c90000"/><stop offset="0.6429" stop-color="#860000"/><stop offset="0.7143" stop-color="#830000"/><stop offset="0.7857" stop-color="#830000"/><stop offset="0.8571" stop-color="#820000"/><stop offset="0.9286" stop-color="#a80000"/><stop offset="0.9741" stop-color="#ff0000"/><stop offset="1" stop-color="#ff3100"/></linearGradient>
<linearGradient id="g3_23" gradientUnits="userSpaceOnUse" x1="0" y1="53.20" x2="0" y2="529.20"><stop offset="0" stop-color="#830000"/><stop offset="0.07143" stop-color="#a90000"/><stop offset="0.1162" stop-color="#ff0000"/><stop offset="0.1429" stop-color="#ff3300"/><stop offset="0.1828" stop-color="#ffff00"/><stop offset="0.2143" stop-color="#5effa1"/><stop offset="0.2458" stop-color="#00ffff"/><stop offset="0.2857" stop-color="#0088ff"/><stop offset="0.3571" stop-color="#0035ff"/><stop offset="0.4177" stop-color="#00ffff"/><stop offset="0.4286" stop-color="#24ffdb"/><stop offset="0.4736" stop-color="#ffff00"/><stop offset="0.5" stop-color="#ff7f00"/><stop offset="0.5506" stop-color="#ff0000"/><stop offset="0.5714" stop-color="#cb0000"/><stop offset="0.6429" stop-color="#860000"/><stop offset="0.7143" stop-color="#840000"/><stop offset="0.7857" stop-color="#830000"/><stop offset="0.8571" stop-color="#830000"/><stop offset="0.9286" stop-color="#a90000"/><stop offset="0.9734" stop-color="#ff0000"/><stop offset="1" stop-color="#ff3300"/></linearGradient>
<linearGradient id="g3_24" gradientUnits="userSpaceOnUse" x1="0" y1="53.20" x2="0" y2="529.20"><stop offset="0" stop-color="#830000"/><stop offset="0.07143" stop-color="#a90000"/><stop offset="0.1155" stop-color="#ff0000"/><stop offset="0.1429" stop-color="#ff3500"/><stop offset="0.1818" stop-color="#ffff00"/><stop offset="0.2143" stop-color="#57ffa8"/><stop offset="0.2429" stop-color="#00ffff"/><stop offset="0.2857" stop-color="#007dff"/><stop offset="0.3571" stop-color="#0029ff"/><stop offset="0.4215" stop-color="#00ffff"/><stop offset="0.4286" stop-color="#17ffe8"/><stop offset="0.4758" stop-color="#ffff00"/><stop offset="0.5" stop-color="#ff8800"/><stop offset="0.5521" stop-color="#ff0000"/><stop offset="0.5714" stop-color="#cc0000"/><stop offset="0.6429" stop-color="#860000"/><stop offset="0.7143" stop-color="#840000"/><stop offset="0.7857" stop-color="#830000"/><stop offset="0.8571" stop-color="#830000"/><stop offset="0.9286" stop-color="#a90000"/><stop offset="0.9727" stop-color="#ff0000"/><stop offset="1" stop-color="#ff3500"/></linearGradient>
<linearGradient id="g3_25" gradientUnits="userSpaceOnUse" x1="0" y1="53.20" x2="0" y2="529.20"><stop offset="0" stop-color="#830000"/><stop offset="0.07143" stop-color="#a90000"/><stop offset="0.1148" stop-color="#ff0000"/><stop offset="0.1429" stop-color="#ff3800"/><stop offset="0.1808" stop-color="#ffff00"/><stop offset="0.2143" stop-color="#4fffb0"/><stop offset="0.2401" stop-color="#00ffff"/><stop offset="0.2857" stop-color="#0074ff"/><stop offset="0.3571" stop-color="#001fff"/><stop offset="0.4253" stop-color="#00ffff"/><stop offset="0.4286" stop-color="#0bfff4"/><stop offset="0.4779" stop-color="#ffff00"/><stop offset="0.5" stop-color="#ff9200"/><stop offset="0.5534" stop-color="#ff0000"/><stop offset="0.5714" stop-color="#ce0000"/><stop offset="0.6429" stop-color="#860000"/><stop offset="0.7143" stop-color="#840000"/><stop offset="0.7857" stop-color="#830000"/><stop offset="0.8571" stop-color="#830000"/><stop offset="0.9286" stop-color="#a90000"/><stop offset="0.9719" stop-color="#ff0000"/><stop offset="1" stop-color="#ff3800"/></linearGradient>
<linearGradient id="g3_26" gradientUnits="userSpaceOnUse" x1="0" y1="53.20" x2="0" y2="529.20"><stop offset="0" stop-color="#830000"/><stop offset="0.07143" stop-color="#aa0000"/><stop offset="0.1141" stop-color="#ff0000"/><stop offset="0.1429" stop-color="#ff3a00"/><stop offset="0.1799" stop-color="#ffff00"/><stop offset="0.2143" stop-color="#48ffb7"/><stop offset="0.2377" stop-color="#00ffff"/><stop offset="0.2857" stop-color="#006cff"/><stop offset="0.3571" stop-color="#0015ff"/><stop offset="0.4286" stop-color="#00feff"/><stop offset="0.4287" stop-color="#00ffff"/><stop offset="0.48" stop-color="#ffff00"/><stop offset="0.5" stop-color="#ff9b00"/><stop offset="0.5544" stop-color="#ff0000"/><stop offset="0.5714" stop-color="#ce0000"/><stop offset="0.6429" stop-color="#860000"/><stop offset="0.7143" stop-color="#840000"/><stop offset="0.7857" stop-color="#830000"/><stop offset="0.8571" stop-color="#830000"/><stop offset="0.9286" stop-color="#aa0000"/><stop offset="0.9712" stop-color="#ff0000"/><stop offset="1" stop-color="#ff3a00"/></linearGradient>
<linearGradient id="g3_27" gradientUnits="userSpaceOnUse" x1="0" y1="53.20" x2="0" y2="529.20"><stop offset="0" stop-color="#830000"/><stop offset="0.07143" stop-color="#aa0000"/><stop offset="0.1134" stop-color="#ff0000"/><stop offset="0.1429" stop-color="#ff3c00"/><stop offset="0.179" stop-color="#ffff00"/><stop offset="0.2143" stop-color="#41ffbe"/><stop offset="0.2355" stop-color="#00ffff"/><stop offset="0.2857" stop-color="#0066ff"/><stop offset="0.3571" stop-color="#000cff"/><stop offset="0.4286" stop-color="#00f4ff"/><stop offset="0.4307" stop-color="#00ffff"/><stop offset="0.482" stop-color="#ffff00"/><stop offset="0.5" stop-color="#ffa500"/><stop offset="0.5552" stop-color="#ff0000"/><stop offset="0.5714" stop-color="#cf0000"/><stop offset="0.6429" stop-color="#860000"/><stop offset="0.7143" stop-color="#840000"/><stop offset="0.7857" stop-color="#830000"/><stop offset="0.8571" stop-color="#830000"/><stop offset="0.9286" stop-color="#aa0000"/><stop offset="0.9705" stop-color="#ff0000"/><stop offset="1" stop-color="#ff3c00"/></linearGradient>
<linearGradient id="g3_28" gradientUnits="userSpaceOnUse" x1="0" y1="53.20" x2="0" y2="529.20"><stop offset="0" stop-color="#830000"/><stop offset="0.07143" stop-color="#ab0000"/><stop offset="0.1128" stop-color="#ff0000"/><stop offset="0.1429" stop-color="#ff3e00"/><stop offset="0.1782" stop-color="#ffff00"/><stop offset="0.2143" stop-color="#3affc5"/><stop offset="0.2334" stop-color="#00ffff"/><stop offset="0.2857" stop-color="#0061ff"/><stop offset="0.3571" stop-color="#0004ff"/><stop offset="0.4286" stop-color="#00ecff"/><stop offset="0.4325" stop-color="#00ffff"/><stop offset="0.4839" stop-color="#ffff00"/><stop offset="0.5" stop-color="#ffaf00"/><stop offset="0.5559" stop-color="#ff0000"/><stop offset="0.5714" stop-color="#ce0000"/><stop offset="0.6429" stop-color="#860000"/><stop offset="0.7143" stop-color="#840000"/><stop offset="0.7857" stop-color="#830000"/><stop offset="0.8571" stop-color="#830000"/><stop offset="0.9286" stop-color="#ab0000"/><stop offset="0.9699" stop-color="#ff0000"/><stop offset="1" stop-color="#ff3e00"/></linearGradient>
<linearGradient id="g3_29" gradientUnits="userSpaceOnUse" x1="0" y1="53.20" x2="0" y2="529.20"><stop offset="0" stop-color="#830000"/><stop offset="0.07143" stop-color="#ab0000"/><stop offset="0.1121" stop-color="#ff0000"/><stop offset="0.1429" stop-color="#ff3f00"/><stop offset="0.1775" stop-color="#ffff00"/><stop offset="0.2143" stop-color="#34ffcb"/><stop offset="0.2315" stop-color="#00ffff"/><stop offset="0.2857" stop-color="#005cff"/><stop offset="0.3543" stop-color="#0000ff"/><stop offset="0.3571" stop-color="#0000fb"/><stop offset="0.3583" stop-color="#0000ff"/><stop offset="0.4286" stop-color="#00e4ff"/><stop offset="0.434" stop-color="#00ffff"/><stop offset="0.4858" stop-color="#ffff00"/><stop offset="0.5" stop-color="#ffb900"/><stop offset="0.5565" stop-color="#ff0000"/><stop offset="0.5714" stop-color="#ce0000"/><stop offset="0.6429" stop-color="#860000"/><stop offset="0.7143" stop-color="#850000"/><stop offset="0.7857" stop-color="#830000"/><stop offset="0.8571" stop-color="#830000"/><stop offset="0.9286" stop-color="#ab0000"/><stop offset="0.9693" stop-color="#ff0000"/><stop offset="1" stop-color="#ff3f00"/></linearGradient>
<linearGradient id="g3_30" gradientUnits="userSpaceOnUse" x1="0" y1="53.20" x2="0" y2="529.20"><stop offset="0" stop-color="#830000"/><stop offset="0.07143" stop-color="#ac0000"/><stop offset="0.1115" stop-color="#ff0000"/><stop offset="0.1429" stop-color="#ff4100"/><stop offset="0.1768" stop-color="#ffff00"/><stop offset="0.2143" stop-color="#2dffd2"/><stop offset="0.2296" stop-color="#00ffff"/><stop offset="0.2857" stop-color="#0059ff"/><stop offset="0.3493" stop-color="#0000ff"/><stop offset="0.3571" stop-color="#0000f4"/><stop offset="0.3605" stop-color="#0000ff"/><stop offset="0.4286" stop-color="#00ddff"/><stop offset="0.4355" stop-color="#00ffff"/><stop offset="0.4877" stop-color="#ffff00"/><stop offset="0.5" stop-color="#ffc300"/><stop offset="0.557" stop-color="#ff0000"/><stop offset="0.5714" stop-color="#ce0000"/><stop offset="0.6429" stop-color="#860000"/><stop offset="0.7143" stop-color="#850000"/><stop offset="0.7857" stop-color="#830000"/><stop offset="0.8571" stop-color="#830000"/><stop offset="0.9286" stop-color="#ac0000"/><stop offset="0.9686" stop-color="#ff0000"/><stop offset="1" stop-color="#ff4100"/></linearGradient>
<linearGradient id="g3_31" gradientUnits="userSpaceOnUse" x1="0" y1="53.20" x2="0" y2="529.20"><stop offset="0" stop-color="#830000"/><stop offset="0.07143" stop-color="#ac0000"/><stop offset="0.1108" stop-color="#ff0000"/><stop offset="0.1429" stop-color="#ff4400"/><stop offset="0.1761" stop-color="#ffff00"/><stop offset="0.2143" stop-color="#27ffd8"/><stop offset="0.2278" stop-color="#00ffff"/><stop offset="0.2857" stop-color="#0056ff"/><stop offset="0.3451" stop-color="#0000ff"/><stop offset="0.3571" stop-color="#0000ee"/><stop offset="0.3625" stop-color="#0000ff"/><stop offset="0.4286" stop-color="#00d7ff"/><stop offset="0.4368" stop-color="#00ffff"/><stop offset="0.4895" stop-color="#ffff00"/><stop offset="0.5" stop-color="#ffcc00"/><stop offset="0.5576" stop-color="#ff0000"/><stop offset="0.5714" stop-color="#ce0000"/><stop offset="0.6429" stop-color="#860000"/><stop offset="0.7143" stop-color="#850000"/><stop offset="0.7857" stop-color="#830000"/><stop offset="0.8571" stop-color="#830000"/><stop offset="0.9286" stop-color="#ac0000"/><stop offset="0.9679" stop-color="#ff0000"/><stop offset="1" stop-color="#ff4400"/></linearGradient>
<linearGradient id="g3_32" gradientUnits="userSpaceOnUse" x1="0" y1="53.20" x2="0" y2="529.20"><stop offset="0" stop-color="#830000"/><stop offset="0.07143" stop-color="#ad0000"/><stop offset="0.1102" stop-color="#ff0000"/><stop offset="0.1429" stop-color="#ff4500"/><stop offset="0.1755" stop-color="#ffff00"/><stop offset="0.2143" stop-color="#22ffdd"/><stop offset="0.2262" stop-color="#00ffff"/><stop offset="0.2857" stop-color="#0053ff"/><stop offset="0.3419" stop-color="#0000ff"/><stop offset="0.3571" stop-color="#0000e8"/><stop offset="0.3641" stop-color="#0000ff"/><stop offset="0.4286" stop-color="#00d2ff"/><stop offset="0.438" stop-color="#00ffff"/><stop offset="0.491" stop-color="#ffff00"/><stop offset="0.5" stop-color="#ffd400"/><stop offset="0.5581" stop-color="#ff0000"/><stop offset="0.5714" stop-color="#cf0000"/><stop offset="0.6429" stop-color="#860000"/><stop offset="0.7143" stop-color="#850000"/><stop offset="0.7857" stop-color="#840000"/><stop offset="0.8571" stop-color="#830000"/><stop offset="0.9286" stop-color="#ad0000"/><stop offset="0.9673" stop-color="#ff0000"/><stop offset="1" stop-color="#ff4500"/></linearGradient>
<linearGradient id="g3_33" gradientUnits="userSpaceOnUse" x1="0" y1="53.20" x2="0" y2="529.20"><stop offset="0" stop-color="#830000"/><stop offset="0.07143" stop-color="#ad0000"/><stop offset="0.1095" stop-color="#ff0000"/><stop offset="0.1429" stop-color="#ff4800"/><stop offset="0.1749" stop-color="#ffff00"/><stop offset="0.2143" stop-color="#1dffe2"/><stop offset="0.2246" stop-color="#00ffff"/><stop offset="0.2857" stop-color="#0051ff"/><stop offset="0.3389" stop-color="#0000ff"/><stop offset="0.3571" stop-color="#0000e3"/><stop offset="0.3657" stop-color="#0000ff"/><stop offset="0.4286" stop-color="#00ccff"/><stop offset="0.4392" stop-color="#00ffff"/><stop offset="0.4925" stop-color="#ffff00"/><stop offset="0.5" stop-color="#ffdb00"/><stop offset="0.5587" stop-color="#ff0000"/><stop offset="0.5714" stop-color="#d00000"/><stop offset="0.6429" stop-color="#860000"/><stop offset="0.7143" stop-color="#850000"/><stop offset="0.7857" stop-color="#840000"/><stop offset="0.8571" stop-color="#830000"/><stop offset="0.9286" stop-color="#ad0000"/><stop offset="0.9666" stop-color="#ff0000"/><stop offset="1" stop-color="#ff4800"/></linearGradient>
<linearGradient id="g3_34" gradientUnits="userSpaceOnUse" x1="0" y1="53.20" x2="0" y2="529.20"><stop offset="0" stop-color="#830000"/><stop offset="0.07143" stop-color="#ae0000"/><stop offset="0.1088" stop-color="#ff0000"/><stop offset="0.1429" stop-color="#ff4a00"/><stop offset="0.1743" stop-color="#ffff00"/><stop offset="0.2143" stop-color="#18ffe7"/><stop offset="0.223" stop-color="#00ffff"/><stop offset="0.2857" stop-color="#004fff"/><stop offset="0.3363" stop-color="#0000ff"/><stop offset="0.3571" stop-color="#0000df"/><stop offset="0.3672" stop-color="#0000ff"/><stop offset="0.4286" stop-color="#00c6ff"/><stop offset="0.4405" stop-color="#00ffff"/><stop offset="0.4939" stop-color="#ffff00"/><stop offset="0.5" stop-color="#ffe200"/><stop offset="0.5593" stop-color="#ff0000"/><stop offset="0.5714" stop-color="#d10000"/><stop offset="0.6429" stop-color="#860000"/><stop offset="0.7143" stop-color="#850000"/><stop offset="0.7857" stop-color="#840000"/><stop offset="0.8571" stop-color="#830000"/><stop offset="0.9286" stop-color="#ae0000"/><stop offset="0.966" stop-color="#ff0000"/><stop offset="1" stop-color="#ff4a00"/></linearGradient>
<linearGradient id="g3_35" gradientUnits="userSpaceOnUse" x1="0" y1="53.20" x2="0" y2="529.20"><stop offset="0" stop-color="#830000"/><stop offset="0.07143" stop-color="#ae0000"/><stop offset="0.1081" stop-color="#ff0000"/><stop offset="0.1429" stop-color="#ff4c00"/><stop offset="0.1737" stop-color="#ffff00"/><stop offset="0.2143" stop-color="#14ffeb"/><stop offset="0.2214" stop-color="#00ffff"/><stop offset="0.2857" stop-color="#004cff"/><stop offset="0.3341" stop-color="#0000ff"/><stop offset="0.3571" stop-color="#0000db"/><stop offset="0.3685" stop-color="#0000ff"/><stop offset="0.4286" stop-color="#00c0ff"/><stop offset="0.4417" stop-color="#00ffff"/><stop offset="0.4953" stop-color="#ffff00"/><stop offset="0.5" stop-color="#ffe900"/><stop offset="0.56" stop-color="#ff0000"/><stop offset="0.5714" stop-color="#d30000"/><stop offset="0.6429" stop-color="#860000"/><stop offset="0.7143" stop-color="#850000"/><stop offset="0.7857" stop-color="#840000"/><stop offset="0.8571" stop-color="#830000"/><stop offset="0.9286" stop-color="#ae0000"/><stop offset="0.9653" stop-color="#ff0000"/><stop offset="1" stop-color="#ff4c00"/></linearGradient>
<linearGradient id="g3_36" gradientUnits="userSpaceOnUse" x1="0" y1="53.20" x2="0" y2="529.20"><stop offset="0" stop-color="#830000"/><stop offset="0.07143" stop-color="#af0000"/><stop offset="0.1074" stop-color="#ff0000"/><stop offset="0.1429" stop-color="#ff4f00"/><stop offset="0.1731" stop-color="#ffff00"/><stop offset="0.2143" stop-color="#10ffef"/><stop offset="0.22" stop-color="#00ffff"/><stop offset="0.2857" stop-color="#004aff"/><stop offset="0.332" stop-color="#0000ff"/><stop offset="0.3571" stop-color="#0000d7"/><stop offset="0.3698" stop-color="#0000ff"/><stop offset="0.4286" stop-color="#00bbff"/><stop offset="0.443" stop-color="#00ffff"/><stop offset="0.4967" stop-color="#ffff00"/><stop offset="0.5" stop-color="#ffef00"/><stop offset="0.5607" stop-color="#ff0000"/><stop offset="0.5714" stop-color="#d40000"/><stop offset="0.6429" stop-color="#860000"/><stop offset="0.7143" stop-color="#850000"/><stop offset="0.7857" stop-color="#840000"/><stop offset="0.8571" stop-color="#830000"/><stop offset="0.9286" stop-color="#af0000"/><stop offset="0.9646" stop-color="#ff0000"/><stop offset="1" stop-color="#ff4f00"/></linearGradient>
<linearGradient id="g3_37" gradientUnits="userSpaceOnUse" x1="0" y1="53.20" x2="0" y2="529.20"><stop offset="0" stop-color="#830000"/><stop offset="0.07143" stop-color="#af0000"/><stop offset="0.1068" stop-color="#ff0000"/><stop offset="0.1429" stop-color="#ff5200"/><stop offset="0.1726" stop-color="#ffff00"/><stop offset="0.2143" stop-color="#0cfff3"/><stop offset="0.2186" stop-color="#00ffff"/><stop offset="0.2857" stop-color="#0047ff"/><stop offset="0.3301" stop-color="#0000ff"/><stop offset="0.3571" stop-color="#0000d4"/><stop offset="0.3709" stop-color="#0000ff"/><stop offset="0.4286" stop-color="#00b5ff"/><stop offset="0.4442" stop-color="#00ffff"/><stop offset="0.498" stop-color="#ffff00"/><stop offset="0.5" stop-color="#fff600"/><stop offset="0.5613" stop-color="#ff0000"/><stop offset="0.5714" stop-color="#d60000"/><stop offset="0.6429" stop-color="#860000"/><stop offset="0.7143" stop-color="#850000"/><stop offset="0.7857" stop-color="#840000"/><stop offset="0.8571" stop-color="#830000"/><stop offset="0.9286" stop-color="#af0000"/><stop offset="0.9639" stop-color="#ff0000"/><stop offset="1" stop-color="#ff5200"/></linearGradient>
<linearGradient id="g3_38" gradientUnits="userSpaceOnUse" x1="0" y1="53.20" x2="0" y2="529.20"><stop offset="0" stop-color="#830000"/><stop offset="0.07143" stop-color="#af0000"/><stop offset="0.1061" stop-color="#ff0000"/><stop offset="0.1429" stop-color="#ff5500"/><stop offset="0.172" stop-color="#ffff00"/><stop offset="0.2143" stop-color="#08fff7"/><stop offset="0.2173" stop-color="#00ffff"/><stop offset="0.2857" stop-color="#0044ff"/><stop offset="0.3283" stop-color="#0000ff"/><stop offset="0.3571" stop-color="#0000d1"/><stop offset="0.3719" stop-color="#0000ff"/><stop offset="0.4286" stop-color="#00b0ff"/><stop offset="0.4453" stop-color="#00ffff"/><stop offset="0.4993" stop-color="#ffff00"/><stop offset="0.5" stop-color="#fffc00"/><stop offset="0.5618" stop-color="#ff0000"/><stop offset="0.5714" stop-color="#d80000"/><stop offset="0.6429" stop-color="#860000"/><stop offset="0.7143" stop-color="#860000"/><stop offset="0.7857" stop-color="#840000"/><stop offset="0.8571" stop-color="#830000"/><stop offset="0.9286" stop-color="#af0000"/><stop offset="0.9632" stop-color="#ff0000"/><stop offset="1" stop-color="#ff5500"/></linearGradient>
<linearGradient id="g3_39" gradientUnits="userSpaceOnUse" x1="0" y1="53.20" x2="0" y2="529.20"><stop offset="0" stop-color="#830000"/><stop offset="0.07143" stop-color="#af0000"/><stop offset="0.1054" stop-color="#ff0000"/><stop offset="0.1429" stop-color="#ff5800"/><stop offset="0.1715" stop-color="#ffff00"/><stop offset="0.2143" stop-color="#05fffa"/><stop offset="0.2162" stop-color="#00ffff"/><stop offset="0.2857" stop-color="#0041ff"/><stop offset="0.3267" stop-color="#0000ff"/><stop offset="0.3571" stop-color="#0000cf"/><stop offset="0.3728" stop-color="#0000ff"/><stop offset="0.4286" stop-color="#00abff"/><stop offset="0.4463" stop-color="#00ffff"/><stop offset="0.5" stop-color="#fdff02"/><stop offset="0.5006" stop-color="#ffff00"/><stop offset="0.5624" stop-color="#ff0000"/><stop offset="0.5714" stop-color="#da0000"/><stop offset="0.6429" stop-color="#870000"/><stop offset="0.7143" stop-color="#860000"/><stop offset="0.7857" stop-color="#840000"/><stop offset="0.8571" stop-color="#830000"/><stop offset="0.9286" stop-color="#af0000"/><stop offset="0.9626" stop-color="#ff0000"/><stop offset="1" stop-color="#ff5800"/></linearGradient>
<linearGradient id="g3_40" gradientUnits="userSpaceOnUse" x1="0" y1="53.20" x2="0" y2="529.20"><stop offset="0" stop-color="#830000"/><stop offset="0.07143" stop-color="#af0000"/><stop offset="0.1048" stop-color="#ff0000"/><stop offset="0.1429" stop-color="#ff5b00"/><stop offset="0.171" stop-color="#ffff00"/><stop offset="0.2143" stop-color="#02fffd"/><stop offset="0.2151" stop-color="#00ffff"/><stop offset="0.2857" stop-color="#003eff"/><stop offset="0.3251" stop-color="#0000ff"/><stop offset="0.3571" stop-color="#0000cd"/><stop offset="0.3737" stop-color="#0000ff"/><stop offset="0.4286" stop-color="#00a7ff"/><stop offset="0.4473" stop-color="#00ffff"/><stop offset="0.5" stop-color="#f7ff08"/><stop offset="0.5019" stop-color="#ffff00"/><stop offset="0.5629" stop-color="#ff0000"/><stop offset="0.5714" stop-color="#db0000"/><stop offset="0.6429" stop-color="#870000"/><stop offset="0.7143" stop-color="#860000"/><stop offset="0.7857" stop-color="#840000"/><stop offset="0.8571" stop-color="#830000"/><stop offset="0.9286" stop-color="#af0000"/><stop offset="0.962" stop-color="#ff0000"/><stop offset="1" stop-color="#ff5b00"/></linearGradient>
<linearGradient id="g3_41" gradientUnits="userSpaceOnUse" x1="0" y1="53.20" x2="0" y2="529.20"><stop offset="0" stop-color="#830000"/><stop offset="0.07143" stop-color="#af0000"/><stop offset="0.1042" stop-color="#ff0000"/><stop offset="0.1429" stop-color="#ff5e00"/><stop offset="0.1705" stop-color="#ffff00"/><stop offset="0.2142" stop-color="#00ffff"/><stop offset="0.2143" stop-color="#00feff"/><stop offset="0.2857" stop-color="#003bff"/><stop offset="0.3236" stop-color="#0000ff"/><stop offset="0.3571" stop-color="#0000cb"/><stop offset="0.3744" stop-color="#0000ff"/><stop offset="0.4286" stop-color="#00a3ff"/><stop offset="0.4483" stop-color="#00ffff"/><stop offset="0.5" stop-color="#f1ff0e"/><stop offset="0.5032" stop-color="#ffff00"/><stop offset="0.5634" stop-color="#ff0000"/><stop offset="0.5714" stop-color="#dd0000"/><stop offset="0.6429" stop-color="#870000"/><stop offset="0.7143" stop-color="#860000"/><stop offset="0.7857" stop-color="#840000"/><stop offset="0.8571" stop-color="#830000"/><stop offset="0.9286" stop-color="#af0000"/><stop offset="0.9614" stop-color="#ff0000"/><stop offset="1" stop-color="#ff5e00"/></linearGradient>
<linearGradient id="g3_42" gradientUnits="userSpaceOnUse" x1="0" y1="53.20" x2="0" y2="529.20"><stop offset="0" stop-color="#830000"/><stop offset="0.07143" stop-color="#af0000"/><stop offset="0.1036" stop-color="#ff0000"/><stop offset="0.1429" stop-color="#ff6100"/><stop offset="0.17" stop-color="#ffff00"/><stop offset="0.2138" stop-color="#00ffff"/><stop offset="0.2143" stop-color="#00fcff"/><stop offset="0.2857" stop-color="#0037ff"/><stop offset="0.3222" stop-color="#0000ff"/><stop offset="0.3571" stop-color="#0000ca"/><stop offset="0.375" stop-color="#0000ff"/><stop offset="0.4286" stop-color="#009fff"/><stop offset="0.4492" stop-color="#00ffff"/><stop offset="0.5" stop-color="#ecff13"/><stop offset="0.5044" stop-color="#ffff00"/><stop offset="0.5639" stop-color="#ff0000"/><stop offset="0.5714" stop-color="#df0000"/><stop offset="0.6429" stop-color="#870000"/><stop offset="0.7143" stop-color="#860000"/><stop offset="0.7857" stop-color="#840000"/><stop offset="0.8571" stop-color="#830000"/><stop offset="0.9286" stop-color="#af0000"/><stop offset="0.9608" stop-color="#ff0000"/><stop offset="1" stop-color="#ff6100"/></linearGradient>
<linearGradient id="g3_43" gradientUnits="userSpaceOnUse" x1="0" y1="53.20" x2="0" y2="529.20"><stop offset="0" stop-color="#830000"/><stop offset="0.07143" stop-color="#af0000"/><stop offset="0.1031" stop-color="#ff0000"/><stop offset="0.1429" stop-color="#ff6400"/><stop offset="0.1695" stop-color="#ffff00"/><stop offset="0.2134" stop-color="#00ffff"/><stop offset="0.2143" stop-color="#00faff"/><stop offset="0.2857" stop-color="#0035ff"/><stop offset="0.321" stop-color="#0000ff"/><stop offset="0.3571" stop-color="#0000c9"/><stop offset="0.3755" stop-color="#0000ff"/><stop offset="0.4286" stop-color="#009cff"/><stop offset="0.45" stop-color="#00ffff"/><stop offset="0.5" stop-color="#e7ff18"/><stop offset="0.5055" stop-color="#ffff00"/><stop offset="0.5643" stop-color="#ff0000"/><stop offset="0.5714" stop-color="#e00000"/><stop offset="0.6429" stop-color="#870000"/><stop offset="0.7143" stop-color="#860000"/><stop offset="0.7857" stop-color="#840000"/><stop offset="0.8571" stop-color="#830000"/><stop offset="0.9286" stop-color="#af0000"/><stop offset="0.9602" stop-color="#ff0000"/><stop offset="1" stop-color="#ff6400"/></linearGradient>
<linearGradient id="g3_44" gradientUnits="userSpaceOnUse" x1="0" y1="53.20" x2="0" y2="529.20"><stop offset="0" stop-color="#830000"/><stop offset="0.07143" stop-color="#af0000"/><stop offset="0.1026" stop-color="#ff0000"/><stop offset="0.1429" stop-color="#ff6800"/><stop offset="0.169" stop-color="#ffff00"/><stop offset="0.213" stop-color="#00ffff"/><stop offset="0.2143" stop-color="#00f8ff"/><stop offset="0.2857" stop-color="#0032ff"/><stop offset="0.3198" stop-color="#0000ff"/><stop offset="0.3571" stop-color="#0000c8"/><stop offset="0.376" stop-color="#0000ff"/><stop offset="0.4286" stop-color="#0099ff"/><stop offset="0.4508" stop-color="#00ffff"/><stop offset="0.5" stop-color="#e2ff1d"/><stop offset="0.5065" stop-color="#ffff00"/><stop offset="0.5648" stop-color="#ff0000"/><stop offset="0.5714" stop-color="#e20000"/><stop offset="0.6429" stop-color="#870000"/><stop offset="0.7143" stop-color="#860000"/><stop offset="0.7857" stop-color="#840000"/><stop offset="0.8571" stop-color="#830000"/><stop offset="0.9286" stop-color="#af0000"/><stop offset="0.9597" stop-color="#ff0000"/><stop offset="1" stop-color="#ff6800"/></linearGradient>
<linearGradient id="g3_45" gradientUnits="userSpaceOnUse" x1="0" y1="53.20" x2="0" y2="529.20"><stop offset="0" stop-color="#830000"/><stop offset="0.07143" stop-color="#af0000"/><stop offset="0.102" stop-color="#ff0000"/><stop offset="0.1429" stop-color="#ff6b00"/><stop offset="0.1685" stop-color="#ffff00"/><stop offset="0.2127" stop-color="#00ffff"/><stop offset="0.2143" stop-color="#00f6ff"/><stop offset="0.2857" stop-color="#002fff"/><stop offset="0.3187" stop-color="#0000ff"/><stop offset="0.3571" stop-color="#0000c8"/><stop offset="0.3764" stop-color="#0000ff"/><stop offset="0.4286" stop-color="#0096ff"/><stop offset="0.4515" stop-color="#00ffff"/><stop offset="0.5" stop-color="#deff21"/><stop offset="0.5075" stop-color="#ffff00"/><stop offset="0.5652" stop-color="#ff0000"/><stop offset="0.5714" stop-color="#e30000"/><stop offset="0.6429" stop-color="#880000"/><stop offset="0.7143" stop-color="#860000"/><stop offset="0.7857" stop-color="#840000"/><stop offset="0.8571" stop-color="#830000"/><stop offset="0.9286" stop-color="#af0000"/><stop offset="0.9592" stop-color="#ff0000"/><stop offset="1" stop-color="#ff6b00"/></linearGradient>
<linearGradient id="g3_46" gradientUnits="userSpaceOnUse" x1="0" y1="53.20" x2="0" y2="529.20"><stop offset="0" stop-color="#830000"/><stop offset="0.07143" stop-color="#ae0000"/><stop offset="0.1015" stop-color="#ff0000"/><stop offset="0.1429" stop-color="#ff6f00"/><stop offset="0.1679" stop-color="#ffff00"/><stop offset="0.2123" stop-color="#00ffff"/><stop offset="0.2143" stop-color="#00f4ff"/><stop offset="0.2857" stop-color="#002dff"/><stop offset="0.3176" stop-color="#0000ff"/><stop offset="0.3571" stop-color="#0000c8"/><stop offset="0.3767" stop-color="#0000ff"/><stop offset="0.4286" stop-color="#0093ff"/><stop offset="0.4522" stop-color="#00ffff"/><stop offset="0.5" stop-color="#daff25"/><stop offset="0.5084" stop-color="#ffff00"/><stop offset="0.5656" stop-color="#ff0000"/><stop offset="0.5714" stop-color="#e50000"/><stop offset="0.6429" stop-color="#880000"/><stop offset="0.7143" stop-color="#860000"/><stop offset="0.7857" stop-color="#840000"/><stop offset="0.8571" stop-color="#830000"/><stop offset="0.9286" stop-color="#ae0000"/><stop offset="0.9587" stop-color="#ff0000"/><stop offset="1" stop-color="#ff6f00"/></linearGradient>
<linearGradient id="g3_47" gradientUnits="userSpaceOnUse" x1="0" y1="53.20" x2="0" y2="529.20"><stop offset="0" stop-color="#840000"/><stop offset="0.07143" stop-color="#ae0000"/><stop offset="0.101" stop-color="#ff0000"/><stop offset="0.1429" stop-color="#ff7300"/><stop offset="0.1674" stop-color="#ffff00"/><stop offset="0.212" stop-color="#00ffff"/><stop offset="0.2143" stop-color="#00f2ff"/><stop offset="0.2857" stop-color="#002aff"/><stop offset="0.3164" stop-color="#0000ff"/><stop offset="0.3571" stop-color="#0000c8"/><stop offset="0.377" stop-color="#0000ff"/><stop offset="0.4286" stop-color="#0090ff"/><stop offset="0.4529" stop-color="#00ffff"/><stop offset="0.5" stop-color="#d6ff29"/><stop offset="0.5092" stop-color="#ffff00"/><stop offset="0.5661" stop-color="#ff0000"/><stop offset="0.5714" stop-color="#e70000"/><stop offset="0.6429" stop-color="#880000"/><stop offset="0.7143" stop-color="#860000"/><stop offset="0.7857" stop-color="#840000"/><stop offset="0.8571" stop-color="#840000"/><stop offset="0.9286" stop-color="#ae0000"/><stop offset="0.9582" stop-color="#ff0000"/><stop offset="1" stop-color="#ff7300"/></linearGradient>
<linearGradient id="g3_48" gradientUnits="userSpaceOnUse" x1="0" y1="53.20" x2="0" y2="529.20"><stop offset="0" stop-color="#840000"/><stop offset="0.07143" stop-color="#ae0000"/><stop offset="0.1005" stop-color="#ff0000"/><stop offset="0.1429" stop-color="#ff7600"/><stop offset="0.1668" stop-color="#ffff00"/><stop offset="0.2116" stop-color="#00ffff"/><stop offset="0.2143" stop-color="#00f0ff"/><stop offset="0.2857" stop-color="#0026ff"/><stop offset="0.315" stop-color="#0000ff"/><stop offset="0.3571" stop-color="#0000c7"/><stop offset="0.3772" stop-color="#0000ff"/><stop offset="0.4286" stop-color="#008eff"/><stop offset="0.4535" stop-color="#00ffff"/><stop offset="0.5" stop-color="#d2ff2d"/><stop offset="0.5099" stop-color="#ffff00"/><stop offset="0.5666" stop-color="#ff0000"/><stop offset="0.5714" stop-color="#e90000"/><stop offset="0.6429" stop-color="#890000"/><stop offset="0.7143" stop-color="#870000"/><stop offset="0.7857" stop-color="#840000"/><stop offset="0.8571" stop-color="#840000"/><stop offset="0.9286" stop-color="#ae0000"/><stop offset="0.9576" stop-color="#ff0000"/><stop offset="1" stop-color="#ff7600"/></linearGradient>
<linearGradient id="g3_49" gradientUnits="userSpaceOnUse" x1="0" y1="53.20" x2="0" y2="529.20"><stop offset="0" stop-color="#840000"/><stop offset="0.07143" stop-color="#ae0000"/><stop offset="0.09996" stop-color="#ff0000"/><stop offset="0.1429" stop-color="#ff7a00"/><stop offset="0.1663" stop-color="#ffff00"/><stop offset="0.2112" stop-color="#00ffff"/><stop offset="0.2143" stop-color="#00eeff"/><stop offset="0.2857" stop-color="#0023ff"/><stop offset="0.3133" stop-color="#0000ff"/><stop offset="0.3571" stop-color="#0000c7"/><stop offset="0.3775" stop-color="#0000ff"/><stop offset="0.4286" stop-color="#008bff"/><stop offset="0.4542" stop-color="#00ffff"/><stop offset="0.5" stop-color="#cfff30"/><stop offset="0.5106" stop-color="#ffff00"/><stop offset="0.567" stop-color="#ff0000"/><stop offset="0.5714" stop-color="#eb0000"/><stop offset="0.6429" stop-color="#890000"/><stop offset="0.7143" stop-color="#870000"/><stop offset="0.7857" stop-color="#840000"/><stop offset="0.8571" stop-color="#840000"/><stop offset="0.9286" stop-color="#ae0000"/><stop offset="0.9571" stop-color="#ff0000"/><stop offset="1" stop-color="#ff7a00"/></linearGradient>
<linearGradient id="g3_50" gradientUnits="userSpaceOnUse" x1="0" y1="53.20" x2="0" y2="529.20"><stop offset="0" stop-color="#840000"/><stop offset="0.07143" stop-color="#ae0000"/><stop offset="0.09943" stop-color="#ff0000"/><stop offset="0.1429" stop-color="#ff7e00"/><stop offset="0.1657" stop-color="#ffff00"/><stop offset="0.2108" stop-color="#00ffff"/><stop offset="0.2143" stop-color="#00ebff"/><stop offset="0.2857" stop-color="#001fff"/><stop offset="0.3113" stop-color="#0000ff"/><stop offset="0.3571" stop-color="#0000c7"/><stop offset="0.3779" stop-color="#0000ff"/><stop offset="0.4286" stop-color="#0089ff"/><stop offset="0.4547" stop-color="#00ffff"/><stop offset="0.5" stop-color="#ccff33"/><stop offset="0.5112" stop-color="#ffff00"/><stop offset="0.5675" stop-color="#ff0000"/><stop offset="0.5714" stop-color="#ed0000"/><stop offset="0.6429" stop-color="#890000"/><stop offset="0.7143" stop-color="#870000"/><stop offset="0.7857" stop-color="#840000"/><stop offset="0.8571" stop-color="#840000"/><stop offset="0.9286" stop-color="#ae0000"/><stop offset="0.9566" stop-color="#ff0000"/><stop offset="1" stop-color="#ff7e00"/></linearGradient>
<linearGradient id="g3_51" gradientUnits="userSpaceOnUse" x1="0" y1="53.20" x2="0" y2="529.20"><stop offset="0" stop-color="#840000"/><stop offset="0.07143" stop-color="#ae0000"/><stop offset="0.09889" stop-color="#ff0000"/><stop offset="0.1429" stop-color="#ff8100"/><stop offset="0.1652" stop-color="#ffff00"/><stop offset="0.2103" stop-color="#00ffff"/><stop offset="0.2143" stop-color="#00e9ff"/><stop offset="0.2857" stop-color="#001bff"/><stop offset="0.309" stop-color="#0000ff"/><stop offset="0.3571" stop-color="#0000c6"/><stop offset="0.3783" stop-color="#0000ff"/><stop offset="0.4286" stop-color="#0086ff"/><stop offset="0.4553" stop-color="#00ffff"/><stop offset="0.5" stop-color="#caff35"/><stop offset="0.5118" stop-color="#ffff00"/><stop offset="0.568" stop-color="#ff0000"/><stop offset="0.5714" stop-color="#ef0000"/><stop offset="0.6429" stop-color="#8a0000"/><stop offset="0.7143" stop-color="#870000"/><stop offset="0.7857" stop-color="#840000"/><stop offset="0.8571" stop-color="#840000"/><stop offset="0.9286" stop-color="#ae0000"/><stop offset="0.956" stop-color="#ff0000"/><stop offset="1" stop-color="#ff8100"/></linearGradient>
<linearGradient id="g3_52" gradientUnits="userSpaceOnUse" x1="0" y1="53.20" x2="0" y2="529.20"><stop offset="0" stop-color="#840000"/><stop offset="0.07143" stop-color="#af0000"/><stop offset="0.09831" stop-color="#ff0000"/><stop offset="0.1429" stop-color="#ff8400"/><stop offset="0.1646" stop-color="#ffff00"/><stop offset="0.2099" stop-color="#00ffff"/><stop offset="0.2143" stop-color="#00e6ff"/><stop offset="0.2857" stop-color="#0018ff"/><stop offset="0.3065" stop-color="#0000ff"/><stop offset="0.3571" stop-color="#0000c5"/><stop offset="0.3789" stop-color="#0000ff"/><stop offset="0.4286" stop-color="#0084ff"/><stop offset="0.4559" stop-color="#00ffff"/><stop offset="0.5" stop-color="#c7ff38"/><stop offset="0.5123" stop-color="#ffff00"/><stop offset="0.5685" stop-color="#ff0000"/><stop offset="0.5714" stop-color="#f10000"/><stop offset="0.6429" stop-color="#8a0000"/><stop offset="0.7143" stop-color="#870000"/><stop offset="0.7857" stop-color="#840000"/><stop offset="0.8571" stop-color="#840000"/><stop offset="0.9286" stop-color="#af0000"/><stop offset="0.9555" stop-color="#ff0000"/><stop offset="1" stop-color="#ff8400"/></linearGradient>
<linearGradient id="g3_53" gradientUnits="userSpaceOnUse" x1="0" y1="53.20" x2="0" y2="529.20"><stop offset="0" stop-color="#840000"/><stop offset="0.07143" stop-color="#b00000"/><stop offset="0.09773" stop-color="#ff0000"/><stop offset="0.1429" stop-color="#ff8800"/><stop offset="0.1641" stop-color="#ffff00"/><stop offset="0.2094" stop-color="#00ffff"/><stop offset="0.2143" stop-color="#00e3ff"/><stop offset="0.2857" stop-color="#0014ff"/><stop offset="0.304" stop-color="#0000ff"/><stop offset="0.3571" stop-color="#0000c4"/><stop offset="0.3795" stop-color="#0000ff"/><stop offset="0.4286" stop-color="#0081ff"/><stop offset="0.4564" stop-color="#00ffff"/><stop offset="0.5" stop-color="#c5ff3a"/><stop offset="0.5127" stop-color="#ffff00"/><stop offset="0.5688" stop-color="#ff0000"/><stop offset="0.5714" stop-color="#f30000"/><stop offset="0.6429" stop-color="#8b0000"/><stop offset="0.7143" stop-color="#870000"/><stop offset="0.7857" stop-color="#840000"/><stop offset="0.8571" stop-color="#840000"/><stop offset="0.9286" stop-color="#b00000"/><stop offset="0.9549" stop-color="#ff0000"/><stop offset="1" stop-color="#ff8800"/></linearGradient>
<linearGradient id="g3_54" gradientUnits="userSpaceOnUse" x1="0" y1="53.20" x2="0" y2="529.20"><stop offset="0" stop-color="#840000"/><stop offset="0.07143" stop-color="#b10000"/><stop offset="0.097" stop-color="#ff0000"/><stop offset="0.1429" stop-color="#ff8c00"/><stop offset="0.1634" stop-color="#ffff00"/><stop offset="0.2088" stop-color="#00ffff"/><stop offset="0.2143" stop-color="#00e0ff"/><stop offset="0.2857" stop-color="#0010ff"/><stop offset="0.3009" stop-color="#0000ff"/><stop offset="0.3571" stop-color="#0000c2"/><stop offset="0.3803" stop-color="#0000ff"/><stop offset="0.4286" stop-color="#007fff"/><stop offset="0.4569" stop-color="#00ffff"/><stop offset="0.5" stop-color="#c3ff3c"/><stop offset="0.5131" stop-color="#ffff00"/><stop offset="0.5692" stop-color="#ff0000"/><stop offset="0.5714" stop-color="#f50000"/><stop offset="0.6429" stop-color="#8b0000"/><stop offset="0.7143" stop-color="#870000"/><stop offset="0.7857" stop-color="#840000"/><stop offset="0.8571" stop-color="#840000"/><stop offset="0.9286" stop-color="#b10000"/><stop offset="0.9541" stop-color="#ff0000"/><stop offset="1" stop-color="#ff8c00"/></linearGradient>
<linearGradient id="g3_55" gradientUnits="userSpaceOnUse" x1="0" y1="53.20" x2="0" y2="529.20"><stop offset="0" stop-color="#840000"/><stop offset="0.07143" stop-color="#b30000"/><stop offset="0.09622" stop-color="#ff0000"/><stop offset="0.1429" stop-color="#ff9000"/><stop offset="0.1627" stop-color="#ffff00"/><stop offset="0.2082" stop-color="#00ffff"/><stop offset="0.2143" stop-color="#00ddff"/><stop offset="0.2857" stop-color="#000cff"/><stop offset="0.2975" stop-color="#0000ff"/><stop offset="0.3571" stop-color="#0000c0"/><stop offset="0.3811" stop-color="#0000ff"/><stop offset="0.4286" stop-color="#007cff"/><stop offset="0.4574" stop-color="#00ffff"/><stop offset="0.5" stop-color="#c2ff3d"/><stop offset="0.5135" stop-color="#ffff00"/><stop offset="0.5696" stop-color="#ff0000"/><stop offset="0.5714" stop-color="#f70000"/><stop offset="0.6429" stop-color="#8b0000"/><stop offset="0.7143" stop-color="#870000"/><stop offset="0.7857" stop-color="#840000"/><stop offset="0.8571" stop-color="#840000"/><stop offset="0.9286" stop-color="#b30000"/><stop offset="0.9534" stop-color="#ff0000"/><stop offset="1" stop-color="#ff9000"/></linearGradient>
<linearGradient id="g3_56" gradientUnits="userSpaceOnUse" x1="0" y1="53.20" x2="0" y2="529.20"><stop offset="0" stop-color="#840000"/><stop offset="0.07143" stop-color="#b40000"/><stop offset="0.09539" stop-color="#ff0000"/><stop offset="0.1429" stop-color="#ff9400"/><stop offset="0.162" stop-color="#ffff00"/><stop offset="0.2076" stop-color="#00ffff"/><stop offset="0.2143" stop-color="#00daff"/><stop offset="0.2857" stop-color="#0008ff"/><stop offset="0.2938" stop-color="#0000ff"/><stop offset="0.3571" stop-color="#0000be"/><stop offset="0.382" stop-color="#0000ff"/><stop offset="0.4286" stop-color="#007aff"/><stop offset="0.4578" stop-color="#00ffff"/><stop offset="0.5" stop-color="#c0ff3f"/><stop offset="0.5138" stop-color="#ffff00"/><stop offset="0.57" stop-color="#ff0000"/><stop offset="0.5714" stop-color="#f90000"/><stop offset="0.6429" stop-color="#8c0000"/><stop offset="0.7143" stop-color="#870000"/><stop offset="0.7857" stop-color="#840000"/><stop offset="0.8571" stop-color="#840000"/><stop offset="0.9286" stop-color="#b40000"/><stop offset="0.9525" stop-color="#ff0000"/><stop offset="1" stop-color="#ff9400"/></linearGradient>
<linearGradient id="g3_57" gradientUnits="userSpaceOnUse" x1="0" y1="53.20" x2="0" y2="529.20"><stop offset="0" stop-color="#840000"/><stop offset="0.07143" stop-color="#b60000"/><stop offset="0.09451" stop-color="#ff0000"/><stop offset="0.1429" stop-color="#ff9800"/><stop offset="0.1613" stop-color="#ffff00"/><stop offset="0.207" stop-color="#00ffff"/><stop offset="0.2143" stop-color="#00d6ff"/><stop offset="0.2857" stop-color="#0004ff"/><stop offset="0.2899" stop-color="#0000ff"/><stop offset="0.3571" stop-color="#0000bc"/><stop offset="0.3829" stop-color="#0000ff"/><stop offset="0.4286" stop-color="#0077ff"/><stop offset="0.4583" stop-color="#00ffff"/><stop offset="0.5" stop-color="#bfff40"/><stop offset="0.5142" stop-color="#ffff00"/><stop offset="0.5704" stop-color="#ff0000"/><stop offset="0.5714" stop-color="#fa0000"/><stop offset="0.6429" stop-color="#8c0000"/><stop offset="0.7143" stop-color="#870000"/><stop offset="0.7857" stop-color="#840000"/><stop offset="0.8571" stop-color="#840000"/><stop offset="0.9286" stop-color="#b60000"/><stop offset="0.9517" stop-color="#ff0000"/><stop offset="1" stop-color="#ff9800"/></linearGradient>
<linearGradient id="g3_58" gradientUnits="userSpaceOnUse" x1="0" y1="53.20" x2="0" y2="529.20"><stop offset="0" stop-color="#840000"/><stop offset="0.07143" stop-color="#b80000"/><stop offset="0.09358" stop-color="#ff0000"/><stop offset="0.1429" stop-color="#ff9d00"/><stop offset="0.1605" stop-color="#ffff00"/><stop offset="0.2064" stop-color="#00ffff"/><stop offset="0.2143" stop-color="#00d3ff"/><stop offset="0.2857" stop-color="#0000ff"/><stop offset="0.2858" stop-color="#0000ff"/><stop offset="0.3571" stop-color="#0000ba"/><stop offset="0.3838" stop-color="#0000ff"/><stop offset="0.4286" stop-color="#0074ff"/><stop offset="0.4588" stop-color="#00ffff"/><stop offset="0.5" stop-color="#bdff42"/><stop offset="0.5145" stop-color="#ffff00"/><stop offset="0.5708" stop-color="#ff0000"/><stop offset="0.5714" stop-color="#fc0000"/><stop offset="0.6429" stop-color="#8d0000"/><stop offset="0.7143" stop-color="#880000"/><stop offset="0.7857" stop-color="#840000"/><stop offset="0.8571" stop-color="#840000"/><stop offset="0.9286" stop-color="#b80000"/><stop offset="0.9507" stop-color="#ff0000"/><stop offset="1" stop-color="#ff9d00"/></linearGradient>
<linearGradient id="g3_59" gradientUnits="userSpaceOnUse" x1="0" y1="53.20" x2="0" y2="529.20"><stop offset="0" stop-color="#840000"/><stop offset="0.07143" stop-color="#bb0000"/><stop offset="0.0926" stop-color="#ff0000"/><stop offset="0.1429" stop-color="#ffa200"/><stop offset="0.1597" stop-color="#ffff00"/><stop offset="0.2056" stop-color="#00ffff"/><stop offset="0.2143" stop-color="#00cfff"/><stop offset="0.2844" stop-color="#0000ff"/><stop offset="0.2857" stop-color="#0000fb"/><stop offset="0.3571" stop-color="#0000b8"/><stop offset="0.3847" stop-color="#0000ff"/><stop offset="0.4286" stop-color="#0071ff"/><stop offset="0.4593" stop-color="#00ffff"/><stop offset="0.5" stop-color="#bcff43"/><stop offset="0.5148" stop-color="#ffff00"/><stop offset="0.5712" stop-color="#ff0000"/><stop offset="0.5714" stop-color="#fe0000"/><stop offset="0.6429" stop-color="#8d0000"/><stop offset="0.7143" stop-color="#880000"/><stop offset="0.7857" stop-color="#840000"/><stop offset="0.8571" stop-color="#840000"/><stop offset="0.9286" stop-color="#bb0000"/><stop offset="0.9497" stop-color="#ff0000"/><stop offset="1" stop-color="#ffa200"/></linearGradient>
<linearGradient id="g3_60" gradientUnits="userSpaceOnUse" x1="0" y1="53.20" x2="0" y2="529.20"><stop offset="0" stop-color="#840000"/><stop offset="0.07143" stop-color="#be0000"/><stop offset="0.09157" stop-color="#ff0000"/><stop offset="0.1429" stop-color="#ffa600"/><stop offset="0.1589" stop-color="#ffff00"/><stop offset="0.2049" stop-color="#00ffff"/><stop offset="0.2143" stop-color="#00cbff"/><stop offset="0.283" stop-color="#0000ff"/><stop offset="0.2857" stop-color="#0000f7"/><stop offset="0.3571" stop-color="#0000b5"/><stop offset="0.3857" stop-color="#0000ff"/><stop offset="0.4286" stop-color="#006fff"/><stop offset="0.4597" stop-color="#00ffff"/><stop offset="0.5" stop-color="#bbff44"/><stop offset="0.5151" stop-color="#ffff00"/><stop offset="0.5714" stop-color="#ff0100"/><stop offset="0.5719" stop-color="#ff0000"/><stop offset="0.6429" stop-color="#8e0000"/><stop offset="0.7143" stop-color="#880000"/><stop offset="0.7857" stop-color="#850000"/><stop offset="0.8571" stop-color="#840000"/><stop offset="0.9286" stop-color="#be0000"/><stop offset="0.9487" stop-color="#ff0000"/><stop offset="1" stop-color="#ffa600"/></linearGradient>
<linearGradient id="g3_61" gradientUnits="userSpaceOnUse" x1="0" y1="53.20" x2="0" y2="529.20"><stop offset="0" stop-color="#840000"/><stop offset="0.07143" stop-color="#c10000"/><stop offset="0.09054" stop-color="#ff0000"/><stop offset="0.1429" stop-color="#ffab00"/><stop offset="0.158" stop-color="#ffff00"/><stop offset="0.2041" stop-color="#00ffff"/><stop offset="0.2143" stop-color="#00c7ff"/><stop offset="0.2816" stop-color="#0000ff"/><stop offset="0.2857" stop-color="#0000f3"/><stop offset="0.3571" stop-color="#0000b3"/><stop offset="0.3866" stop-color="#0000ff"/><stop offset="0.4286" stop-color="#006cff"/><stop offset="0.4602" stop-color="#00ffff"/><stop offset="0.5" stop-color="#b9ff46"/><stop offset="0.5154" stop-color="#ffff00"/><stop offset="0.5714" stop-color="#ff0300"/><stop offset="0.573" stop-color="#ff0000"/><stop offset="0.6429" stop-color="#8e0000"/><stop offset="0.7143" stop-color="#880000"/><stop offset="0.7857" stop-color="#850000"/><stop offset="0.8571" stop-color="#840000"/><stop offset="0.9286" stop-color="#c10000"/><stop offset="0.9477" stop-color="#ff0000"/><stop offset="1" stop-color="#ffab00"/></linearGradient>
<linearGradient id="g3_62" gradientUnits="userSpaceOnUse" x1="0" y1="53.20" x2="0" y2="529.20"><stop offset="0" stop-color="#840000"/><stop offset="0.07143" stop-color="#c30000"/><stop offset="0.08952" stop-color="#ff0000"/><stop offset="0.1429" stop-color="#ffb000"/><stop offset="0.1572" stop-color="#ffff00"/><stop offset="0.2033" stop-color="#00ffff"/><stop offset="0.2143" stop-color="#00c2ff"/><stop offset="0.2802" stop-color="#0000ff"/><stop offset="0.2857" stop-color="#0000ef"/><stop offset="0.3571" stop-color="#0000b1"/><stop offset="0.3875" stop-color="#0000ff"/><stop offset="0.4286" stop-color="#0069ff"/><stop offset="0.4606" stop-color="#00ffff"/><stop offset="0.5" stop-color="#b8ff47"/><stop offset="0.5157" stop-color="#ffff00"/><stop offset="0.5714" stop-color="#ff0500"/><stop offset="0.5742" stop-color="#ff0000"/><stop offset="0.6429" stop-color="#8e0000"/><stop offset="0.7143" stop-color="#880000"/><stop offset="0.7857" stop-color="#850000"/><stop offset="0.8571" stop-color="#840000"/><stop offset="0.9286" stop-color="#c30000"/><stop offset="0.9467" stop-color="#ff0000"/><stop offset="1" stop-color="#ffb000"/></linearGradient>
<linearGradient id="g3_63" gradientUnits="userSpaceOnUse" x1="0" y1="53.20" x2="0" y2="529.20"><stop offset="0" stop-color="#840000"/><stop offset="0.07143" stop-color="#c60000"/><stop offset="0.08863" stop-color="#ff0000"/><stop offset="0.1429" stop-color="#ffb400"/><stop offset="0.1564" stop-color="#ffff00"/><stop offset="0.2026" stop-color="#00ffff"/><stop offset="0.2143" stop-color="#00beff"/><stop offset="0.279" stop-color="#0000ff"/><stop offset="0.2857" stop-color="#0000eb"/><stop offset="0.3571" stop-color="#0000af"/><stop offset="0.3883" stop-color="#0000ff"/><stop offset="0.4286" stop-color="#0067ff"/><stop offset="0.461" stop-color="#00ffff"/><stop offset="0.5" stop-color="#b7ff48"/><stop offset="0.516" stop-color="#ffff00"/><stop offset="0.5714" stop-color="#ff0600"/><stop offset="0.5753" stop-color="#ff0000"/><stop offset="0.6429" stop-color="#8f0000"/><stop offset="0.7143" stop-color="#880000"/><stop offset="0.7857" stop-color="#850000"/><stop offset="0.8571" stop-color="#840000"/><stop offset="0.9286" stop-color="#c60000"/><stop offset="0.9458" stop-color="#ff0000"/><stop offset="1" stop-color="#ffb400"/></linearGradient>
<clipPath id="clip3"><rect x="1741.00" y="53.80" width="627.00" height="475.20"/></clipPath>
<clipPath id="cclip3"><rect x="1740.00" y="40" width="629.00" height="489.60"/></clipPath>
<linearGradient id="cb" x1="0" y1="0" x2="0" y2="1"><stop offset="0" stop-color="#000080"/><stop offset=".125" stop-color="#0000ff"/><stop offset=".375" stop-color="#00ffff"/><stop offset=".625" stop-color="#ffff00"/><stop offset=".875" stop-color="#ff0000"/><stop offset="1" stop-color="#800000"/></linearGradient>
</defs>
<g clip-path="url(#clip1)">
<rect x="92" y="50" width="10" height="485" fill="url(#g1_0)"/>
<rect x="102" y="50" width="10" height="485" fill="url(#g1_1)"/>
<rect x="112" y="50" width="10" height="485" fill="url(#g1_2)"/>
<rect x="122" y="50" width="10" height="485" fill="url(#g1_3)"/>
<rect x="132" y="50" width="10" height="485" fill="url(#g1_4)"/>
<rect x="142" y="50" width="10" height="485" fill="url(#g1_5)"/>
<rect x="152" y="50" width="10" height="485" fill="url(#g1_6)"/>
<rect x="162" y="50" width="10" height="485" fill="url(#g1_7)"/>
<rect x="172" y="50" width="10" height="485" fill="url(#g1_8)"/>
<rect x="182" y="50" width="10" height="485" fill="url(#g1_9)"/>
<rect x="192" y="50" width="10" height="485" fill="url(#g1_10)"/>
<rect x="202" y="50" width="10" height="485" fill="url(#g1_11)"/>
<rect x="212" y="50" width="10" height="485" fill="url(#g1_12)"/>
<rect x="222" y="50" width="10" height="485" fill="url(#g1_13)"/>
<rect x="232" y="50" width="10" height="485" fill="url(#g1_14)"/>
<rect x="242" y="50" width="10" height="485" fill="url(#g1_15)"/>
<rect x="252" y="50" width="10" height="485" fill="url(#g1_16)"/>
<rect x="262" y="50" width="10" height="485" fill="url(#g1_17)"/>
<rect x="272" y="50" width="10" height="485" fill="url(#g1_18)"/>
<rect x="282" y="50" width="10" height="485" fill="url(#g1_19)"/>
<rect x="292" y="50" width="10" height="485" fill="url(#g1_20)"/>
<rect x="302" y="50" width="10" height="485" fill="url(#g1_21)"/>
<rect x="312" y="50" width="10" height="485" fill="url(#g1_22)"/>
<rect x="322" y="50" width="10" height="485" fill="url(#g1_23)"/>
<rect x="332" y="50" width="10" height="485" fill="url(#g1_24)"/>
<rect x="342" y="50" width="10" height="485" fill="url(#g1_25)"/>
<rect x="352" y="50" width="10" height="485" fill="url(#g1_26)"/>
<rect x="362" y="50" width="10" height="485" fill="url(#g1_27)"/>
<rect x="372" y="50" width="10" height="485" fill="url(#g1_28)"/>
<rect x="382" y="50" width="10" height="485" fill="url(#g1_29)"/>
<rect x="392" y="50" width="10" height="485" fill="url(#g1_30)"/>
<rect x="402" y="50" width="9" height="485" fill="url(#g1_31)"/>
<rect x="411" y="50" width="10" height="485" fill="url(#g1_32)"/>
<rect x="421" y="50" width="10" height="485" fill="url(#g1_33)"/>
<rect x="431" y="50" width="10" height="485" fill="url(#g1_34)"/>
<rect x="441" y="50" width="10" height="485" fill="url(#g1_35)"/>
<rect x="451" y="50" width="10" height="485" fill="url(#g1_36)"/>
<rect x="461" y="50" width="10" height="485" fill="url(#g1_37)"/>
<rect x="471" y="50" width="10" height="485" fill="url(#g1_38)"/>
<rect x="481" y="50" width="10" height="485" fill="url(#g1_39)"/>
<rect x="491" y="50" width="10" height="485" fill="url(#g1_40)"/>
<rect x="501" y="50" width="10" height="485" fill="url(#g1_41)"/>
<rect x="511" y="50" width="10" height="485" fill="url(#g1_42)"/>
<rect x="521" y="50" width="10" height="485" fill="url(#g1_43)"/>
<rect x="531" y="50" width="10" height="485" fill="url(#g1_44)"/>
<rect x="541" y="50" width="10" height="485" fill="url(#g1_45)"/>
<rect x="551" y="50" width="10" height="485" fill="url(#g1_46)"/>
<rect x="561" y="50" width="10" height="485" fill="url(#g1_47)"/>
<rect x="571" y="50" width="10" height="485" fill="url(#g1_48)"/>
<rect x="581" y="50" width="10" height="485" fill="url(#g1_49)"/>
<rect x="591" y="50" width="10" height="485" fill="url(#g1_50)"/>
<rect x="601" y="50" width="10" height="485" fill="url(#g1_51)"/>
<rect x="611" y="50" width="10" height="485" fill="url(#g1_52)"/>
<rect x="621" y="50" width="10" height="485" fill="url(#g1_53)"/>
<rect x="631" y="50" width="10" height="485" fill="url(#g1_54)"/>
<rect x="641" y="50" width="10" height="485" fill="url(#g1_55)"/>
<rect x="651" y="50" width="10" height="485" fill="url(#g1_56)"/>
<rect x="661" y="50" width="10" height="485" fill="url(#g1_57)"/>
<rect x="671" y="50" width="10" height="485" fill="url(#g1_58)"/>
<rect x="681" y="50" width="10" height="485" fill="url(#g1_59)"/>
<rect x="691" y="50" width="10" height="485" fill="url(#g1_60)"/>
<rect x="701" y="50" width="10" height="485" fill="url(#g1_61)"/>
<rect x="92" y="50" width="10" height="485" fill="url(#g1_1)" mask="url(#fade)"/>
<rect x="102" y="50" width="10" height="485" fill="url(#g1_2)" mask="url(#fade)"/>
<rect x="112" y="50" width="10" height="485" fill="url(#g1_3)" mask="url(#fade)"/>
<rect x="122" y="50" width="10" height="485" fill="url(#g1_4)" mask="url(#fade)"/>
<rect x="132" y="50" width="10" height="485" fill="url(#g1_5)" mask="url(#fade)"/>
<rect x="142" y="50" width="10" height="485" fill="url(#g1_6)" mask="url(#fade)"/>
<rect x="152" y="50" width="10" height="485" fill="url(#g1_7)" mask="url(#fade)"/>
<rect x="162" y="50" width="10" height="485" fill="url(#g1_8)" mask="url(#fade)"/>
<rect x="172" y="50" width="10" height="485" fill="url(#g1_9)" mask="url(#fade)"/>
<rect x="182" y="50" width="10" height="485" fill="url(#g1_10)" mask="url(#fade)"/>
<rect x="192" y="50" width="10" height="485" fill="url(#g1_11)" mask="url(#fade)"/>
<rect x="202" y="50" width="10" height="485" fill="url(#g1_12)" mask="url(#fade)"/>
<rect x="212" y="50" width="10" height="485" fill="url(#g1_13)" mask="url(#fade)"/>
<rect x="222" y="50" width="10" height="485" fill="url(#g1_14)" mask="url(#fade)"/>
<rect x="232" y="50" width="10" height="485" fill="url(#g1_15)" mask="url(#fade)"/>
<rect x="242" y="50" width="10" height="485" fill="url(#g1_16)" mask="url(#fade)"/>
<rect x="252" y="50" width="10" height="485" fill="url(#g1_17)" mask="url(#fade)"/>
<rect x="262" y="50" width="10" height="485" fill="url(#g1_18)" mask="url(#fade)"/>
<rect x="272" y="50" width="10" height="485" fill="url(#g1_19)" mask="url(#fade)"/>
<rect x="282" y="50" width="10" height="485" fill="url(#g1_20)" mask="url(#fade)"/>
<rect x="292" y="50" width="10" height="485" fill="url(#g1_21)" mask="url(#fade)"/>
<rect x="302" y="50" width="10" height="485" fill="url(#g1_22)" mask="url(#fade)"/>
<rect x="312" y="50" width="10" height="485" fill="url(#g1_23)" mask="url(#fade)"/>
<rect x="322" y="50" width="10" height="485" fill="url(#g1_24)" mask="url(#fade)"/>
<rect x="332" y="50" width="10" height="485" fill="url(#g1_25)" mask="url(#fade)"/>
<rect x="342" y="50" width="10" height="485" fill="url(#g1_26)" mask="url(#fade)"/>
<rect x="352" y="50" width="10" height="485" fill="url(#g1_27)" mask="url(#fade)"/>
<rect x="362" y="50" width="10" height="485" fill="url(#g1_28)" mask="url(#fade)"/>
<rect x="372" y="50" width="10" height="485" fill="url(#g1_29)" mask="url(#fade)"/>
<rect x="382" y="50" width="10" height="485" fill="url(#g1_30)" mask="url(#fade)"/>
<rect x="392" y="50" width="10" height="485" fill="url(#g1_31)" mask="url(#fade)"/>
<rect x="402" y="50" width="9" height="485" fill="url(#g1_32)" mask="url(#fade)"/>
<rect x="411" y="50" width="10" height="485" fill="url(#g1_33)" mask="url(#fade)"/>
<rect x="421" y="50" width="10" height="485" fill="url(#g1_34)" mask="url(#fade)"/>
<rect x="431" y="50" width="10" height="485" fill="url(#g1_35)" mask="url(#fade)"/>
<rect x="441" y="50" width="10" height="485" fill="url(#g1_36)" mask="url(#fade)"/>
<rect x="451" y="50" width="10" height="485" fill="url(#g1_37)" mask="url(#fade)"/>
<rect x="461" y="50" width="10" height="485" fill="url(#g1_38)" mask="url(#fade)"/>
<rect x="471" y="50" width="10" height="485" fill="url(#g1_39)" mask="url(#fade)"/>
<rect x="481" y="50" width="10" height="485" fill="url(#g1_40)" mask="url(#fade)"/>
<rect x="491" y="50" width="10" height="485" fill="url(#g1_41)" mask="url(#fade)"/>
<rect x="501" y="50" width="10" height="485" fill="url(#g1_42)" mask="url(#fade)"/>
<rect x="511" y="50" width="10" height="485" fill="url(#g1_43)" mask="url(#fade)"/>
<rect x="521" y="50" width="10" height="485" fill="url(#g1_44)" mask="url(#fade)"/>
<rect x="531" y="50" width="10" height="485" fill="url(#g1_45)" mask="url(#fade)"/>
<rect x="541" y="50" width="10" height="485" fill="url(#g1_46)" mask="url(#fade)"/>
<rect x="551" y="50" width="10" height="485" fill="url(#g1_47)" mask="url(#fade)"/>
<rect x="561" y="50" width="10" height="485" fill="url(#g1_48)" mask="url(#fade)"/>
<rect x="571" y="50" width="10" height="485" fill="url(#g1_49)" mask="url(#fade)"/>
<rect x="581" y="50" width="10" height="485" fill="url(#g1_50)" mask="url(#fade)"/>
<rect x="591" y="50" width="10" height="485" fill="url(#g1_51)" mask="url(#fade)"/>
<rect x="601" y="50" width="10" height="485" fill="url(#g1_52)" mask="url(#fade)"/>
<rect x="611" y="50" width="10" height="485" fill="url(#g1_53)" mask="url(#fade)"/>
<rect x="621" y="50" width="10" height="485" fill="url(#g1_54)" mask="url(#fade)"/>
<rect x="631" y="50" width="10" height="485" fill="url(#g1_55)" mask="url(#fade)"/>
<rect x="641" y="50" width="10" height="485" fill="url(#g1_56)" mask="url(#fade)"/>
<rect x="651" y="50" width="10" height="485" fill="url(#g1_57)" mask="url(#fade)"/>
<rect x="661" y="50" width="10" height="485" fill="url(#g1_58)" mask="url(#fade)"/>
<rect x="671" y="50" width="10" height="485" fill="url(#g1_59)" mask="url(#fade)"/>
<rect x="681" y="50" width="10" height="485" fill="url(#g1_60)" mask="url(#fade)"/>
<rect x="691" y="50" width="10" height="485" fill="url(#g1_61)" mask="url(#fade)"/>
<rect x="701" y="50" width="10" height="485" fill="url(#g1_62)" mask="url(#fade)"/>
</g>
<g clip-path="url(#clip2)">
<rect x="917" y="50" width="10" height="485" fill="url(#g2_0)"/>
<rect x="927" y="50" width="10" height="485" fill="url(#g2_1)"/>
<rect x="937" y="50" width="10" height="485" fill="url(#g2_2)"/>
<rect x="947" y="50" width="10" height="485" fill="url(#g2_3)"/>
<rect x="957" y="50" width="10" height="485" fill="url(#g2_4)"/>
<rect x="967" y="50" width="10" height="485" fill="url(#g2_5)"/>
<rect x="977" y="50" width="10" height="485" fill="url(#g2_6)"/>
<rect x="987" y="50" width="11" height="485" fill="url(#g2_7)"/>
<rect x="998" y="50" width="10" height="485" fill="url(#g2_8)"/>
<rect x="1008" y="50" width="10" height="485" fill="url(#g2_9)"/>
<rect x="1018" y="50" width="10" height="485" fill="url(#g2_10)"/>
<rect x="1028" y="50" width="10" height="485" fill="url(#g2_11)"/>
<rect x="1038" y="50" width="10" height="485" fill="url(#g2_12)"/>
<rect x="1048" y="50" width="10" height="485" fill="url(#g2_13)"/>
<rect x="1058" y="50" width="10" height="485" fill="url(#g2_14)"/>
<rect x="1068" y="50" width="10" height="485" fill="url(#g2_15)"/>
<rect x="1078" y="50" width="10" height="485" fill="url(#g2_16)"/>
<rect x="1088" y="50" width="10" height="485" fill="url(#g2_17)"/>
<rect x="1098" y="50" width="10" height="485" fill="url(#g2_18)"/>
<rect x="1108" y="50" width="10" height="485" fill="url(#g2_19)"/>
<rect x="1118" y="50" width="10" height="485" fill="url(#g2_20)"/>
<rect x="1128" y="50" width="10" height="485" fill="url(#g2_21)"/>
<rect x="1138" y="50" width="10" height="485" fill="url(#g2_22)"/>
<rect x="1148" y="50" width="11" height="485" fill="url(#g2_23)"/>
<rect x="1159" y="50" width="10" height="485" fill="url(#g2_24)"/>
<rect x="1169" y="50" width="10" height="485" fill="url(#g2_25)"/>
<rect x="1179" y="50" width="10" height="485" fill="url(#g2_26)"/>
<rect x="1189" y="50" width="10" height="485" fill="url(#g2_27)"/>
<rect x="1199" y="50" width="10" height="485" fill="url(#g2_28)"/>
<rect x="1209" y="50" width="10" height="485" fill="url(#g2_29)"/>
<rect x="1219" y="50" width="10" height="485" fill="url(#g2_30)"/>
<rect x="1229" y="50" width="10" height="485" fill="url(#g2_31)"/>
<rect x="1239" y="50" width="10" height="485" fill="url(#g2_32)"/>
<rect x="1249" y="50" width="10" height="485" fill="url(#g2_33)"/>
<rect x="1259" y="50" width="10" height="485" fill="url(#g2_34)"/>
<rect x="1269" y="50" width="10" height="485" fill="url(#g2_35)"/>
<rect x="1279" y="50" width="10" height="485" fill="url(#g2_36)"/>
<rect x="1289" y="50" width="10" height="485" fill="url(#g2_37)"/>
<rect x="1299" y="50" width="11" height="485" fill="url(#g2_38)"/>
<rect x="1310" y="50" width="10" height="485" fill="url(#g2_39)"/>
<rect x="1320" y="50" width="10" height="485" fill="url(#g2_40)"/>
<rect x="1330" y="50" width="10" height="485" fill="url(#g2_41)"/>
<rect x="1340" y="50" width="10" height="485" fill="url(#g2_42)"/>
<rect x="1350" y="50" width="10" height="485" fill="url(#g2_43)"/>
<rect x="1360" y="50" width="10" height="485" fill="url(#g2_44)"/>
<rect x="1370" y="50" width="10" height="485" fill="url(#g2_45)"/>
<rect x="1380" y="50" width="10" height="485" fill="url(#g2_46)"/>
<rect x="1390" y="50" width="10" height="485" fill="url(#g2_47)"/>
<rect x="1400" y="50" width="10" height="485" fill="url(#g2_48)"/>
<rect x="1410" y="50" width="10" height="485" fill="url(#g2_49)"/>
<rect x="1420" y="50" width="10" height="485" fill="url(#g2_50)"/>
<rect x="1430" y="50" width="10" height="485" fill="url(#g2_51)"/>
<rect x="1440" y="50" width="10" height="485" fill="url(#g2_52)"/>
<rect x="1450" y="50" width="10" height="485" fill="url(#g2_53)"/>
<rect x="1460" y="50" width="11" height="485" fill="url(#g2_54)"/>
<rect x="1471" y="50" width="10" height="485" fill="url(#g2_55)"/>
<rect x="1481" y="50" width="10" height="485" fill="url(#g2_56)"/>
<rect x="1491" y="50" width="10" height="485" fill="url(#g2_57)"/>
<rect x="1501" y="50" width="10" height="485" fill="url(#g2_58)"/>
<rect x="1511" y="50" width="10" height="485" fill="url(#g2_59)"/>
<rect x="1521" y="50" width="10" height="485" fill="url(#g2_60)"/>
<rect x="1531" y="50" width="10" height="485" fill="url(#g2_61)"/>
<rect x="917" y="50" width="10" height="485" fill="url(#g2_1)" mask="url(#fade)"/>
<rect x="927" y="50" width="10" height="485" fill="url(#g2_2)" mask="url(#fade)"/>
<rect x="937" y="50" width="10" height="485" fill="url(#g2_3)" mask="url(#fade)"/>
<rect x="947" y="50" width="10" height="485" fill="url(#g2_4)" mask="url(#fade)"/>
<rect x="957" y="50" width="10" height="485" fill="url(#g2_5)" mask="url(#fade)"/>
<rect x="967" y="50" width="10" height="485" fill="url(#g2_6)" mask="url(#fade)"/>
<rect x="977" y="50" width="10" height="485" fill="url(#g2_7)" mask="url(#fade)"/>
<rect x="987" y="50" width="11" height="485" fill="url(#g2_8)" mask="url(#fade)"/>
<rect x="998" y="50" width="10" height="485" fill="url(#g2_9)" mask="url(#fade)"/>
<rect x="1008" y="50" width="10" height="485" fill="url(#g2_10)" mask="url(#fade)"/>
<rect x="1018" y="50" width="10" height="485" fill="url(#g2_11)" mask="url(#fade)"/>
<rect x="1028" y="50" width="10" height="485" fill="url(#g2_12)" mask="url(#fade)"/>
<rect x="1038" y="50" width="10" height="485" fill="url(#g2_13)" mask="url(#fade)"/>
<rect x="1048" y="50" width="10" height="485" fill="url(#g2_14)" mask="url(#fade)"/>
<rect x="1058" y="50" width="10" height="485" fill="url(#g2_15)" mask="url(#fade)"/>
<rect x="1068" y="50" width="10" height="485" fill="url(#g2_16)" mask="url(#fade)"/>
<rect x="1078" y="50" width="10" height="485" fill="url(#g2_17)" mask="url(#fade)"/>
<rect x="1088" y="50" width="10" height="485" fill="url(#g2_18)" mask="url(#fade)"/>
<rect x="1098" y="50" width="10" height="485" fill="url(#g2_19)" mask="url(#fade)"/>
<rect x="1108" y="50" width="10" height="485" fill="url(#g2_20)" mask="url(#fade)"/>
<rect x="1118" y="50" width="10" height="485" fill="url(#g2_21)" mask="url(#fade)"/>
<rect x="1128" y="50" width="10" height="485" fill="url(#g2_22)" mask="url(#fade)"/>
<rect x="1138" y="50" width="10" height="485" fill="url(#g2_23)" mask="url(#fade)"/>
<rect x="1148" y="50" width="11" height="485" fill="url(#g2_24)" mask="url(#fade)"/>
<rect x="1159" y="50" width="10" height="485" fill="url(#g2_25)" mask="url(#fade)"/>
<rect x="1169" y="50" width="10" height="485" fill="url(#g2_26)" mask="url(#fade)"/>
<rect x="1179" y="50" width="10" height="485" fill="url(#g2_27)" mask="url(#fade)"/>
<rect x="1189" y="50" width="10" height="485" fill="url(#g2_28)" mask="url(#fade)"/>
<rect x="1199" y="50" width="10" height="485" fill="url(#g2_29)" mask="url(#fade)"/>
<rect x="1209" y="50" width="10" height="485" fill="url(#g2_30)" mask="url(#fade)"/>
<rect x="1219" y="50" width="10" height="485" fill="url(#g2_31)" mask="url(#fade)"/>
<rect x="1229" y="50" width="10" height="485" fill="url(#g2_32)" mask="url(#fade)"/>
<rect x="1239" y="50" width="10" height="485" fill="url(#g2_33)" mask="url(#fade)"/>
<rect x="1249" y="50" width="10" height="485" fill="url(#g2_34)" mask="url(#fade)"/>
<rect x="1259" y="50" width="10" height="485" fill="url(#g2_35)" mask="url(#fade)"/>
<rect x="1269" y="50" width="10" height="485" fill="url(#g2_36)" mask="url(#fade)"/>
<rect x="1279" y="50" width="10" height="485" fill="url(#g2_37)" mask="url(#fade)"/>
<rect x="1289" y="50" width="10" height="485" fill="url(#g2_38)" mask="url(#fade)"/>
<rect x="1299" y="50" width="11" height="485" fill="url(#g2_39)" mask="url(#fade)"/>
<rect x="1310" y="50" width="10" height="485" fill="url(#g2_40)" mask="url(#fade)"/>
<rect x="1320" y="50" width="10" height="485" fill="url(#g2_41)" mask="url(#fade)"/>
<rect x="1330" y="50" width="10" height="485" fill="url(#g2_42)" mask="url(#fade)"/>
<rect x="1340" y="50" width="10" height="485" fill="url(#g2_43)" mask="url(#fade)"/>
<rect x="1350" y="50" width="10" height="485" fill="url(#g2_44)" mask="url(#fade)"/>
<rect x="1360" y="50" width="10" height="485" fill="url(#g2_45)" mask="url(#fade)"/>
<rect x="1370" y="50" width="10" height="485" fill="url(#g2_46)" mask="url(#fade)"/>
<rect x="1380" y="50" width="10" height="485" fill="url(#g2_47)" mask="url(#fade)"/>
<rect x="1390" y="50" width="10" height="485" fill="url(#g2_48)" mask="url(#fade)"/>
<rect x="1400" y="50" width="10" height="485" fill="url(#g2_49)" mask="url(#fade)"/>
<rect x="1410" y="50" width="10" height="485" fill="url(#g2_50)" mask="url(#fade)"/>
<rect x="1420" y="50" width="10" height="485" fill="url(#g2_51)" mask="url(#fade)"/>
<rect x="1430" y="50" width="10" height="485" fill="url(#g2_52)" mask="url(#fade)"/>
<rect x="1440" y="50" width="10" height="485" fill="url(#g2_53)" mask="url(#fade)"/>
<rect x="1450" y="50" width="10" height="485" fill="url(#g2_54)" mask="url(#fade)"/>
<rect x="1460" y="50" width="11" height="485" fill="url(#g2_55)" mask="url(#fade)"/>
<rect x="1471" y="50" width="10" height="485" fill="url(#g2_56)" mask="url(#fade)"/>
<rect x="1481" y="50" width="10" height="485" fill="url(#g2_57)" mask="url(#fade)"/>
<rect x="1491" y="50" width="10" height="485" fill="url(#g2_58)" mask="url(#fade)"/>
<rect x="1501" y="50" width="10" height="485" fill="url(#g2_59)" mask="url(#fade)"/>
<rect x="1511" y="50" width="10" height="485" fill="url(#g2_60)" mask="url(#fade)"/>
<rect x="1521" y="50" width="10" height="485" fill="url(#g2_61)" mask="url(#fade)"/>
<rect x="1531" y="50" width="10" height="485" fill="url(#g2_62)" mask="url(#fade)"/>
</g>
<g clip-path="url(#clip3)">
<rect x="1741" y="50" width="10" height="485" fill="url(#g3_0)"/>
<rect x="1751" y="50" width="10" height="485" fill="url(#g3_1)"/>
<rect x="1761" y="50" width="10" height="485" fill="url(#g3_2)"/>
<rect x="1771" y="50" width="10" height="485" fill="url(#g3_3)"/>
<rect x="1781" y="50" width="10" height="485" fill="url(#g3_4)"/>
<rect x="1791" y="50" width="10" height="485" fill="url(#g3_5)"/>
<rect x="1801" y="50" width="10" height="485" fill="url(#g3_6)"/>
<rect x="1811" y="50" width="10" height="485" fill="url(#g3_7)"/>
<rect x="1821" y="50" width="10" height="485" fill="url(#g3_8)"/>
<rect x="1831" y="50" width="10" height="485" fill="url(#g3_9)"/>
<rect x="1841" y="50" width="9" height="485" fill="url(#g3_10)"/>
<rect x="1850" y="50" width="10" height="485" fill="url(#g3_11)"/>
<rect x="1860" y="50" width="10" height="485" fill="url(#g3_12)"/>
<rect x="1870" y="50" width="10" height="485" fill="url(#g3_13)"/>
<rect x="1880" y="50" width="10" height="485" fill="url(#g3_14)"/>
<rect x="1890" y="50" width="10" height="485" fill="url(#g3_15)"/>
<rect x="1900" y="50" width="10" height="485" fill="url(#g3_16)"/>
<rect x="1910" y="50" width="10" height="485" fill="url(#g3_17)"/>
<rect x="1920" y="50" width="10" height="485" fill="url(#g3_18)"/>
<rect x="1930" y="50" width="10" height="485" fill="url(#g3_19)"/>
<rect x="1940" y="50" width="10" height="485" fill="url(#g3_20)"/>
<rect x="1950" y="50" width="10" height="485" fill="url(#g3_21)"/>
<rect x="1960" y="50" width="10" height="485" fill="url(#g3_22)"/>
<rect x="1970" y="50" width="10" height="485" fill="url(#g3_23)"/>
<rect x="1980" y="50" width="10" height="485" fill="url(#g3_24)"/>
<rect x="1990" y="50" width="10" height="485" fill="url(#g3_25)"/>
<rect x="2000" y="50" width="10" height="485" fill="url(#g3_26)"/>
<rect x="2010" y="50" width="10" height="485" fill="url(#g3_27)"/>
<rect x="2020" y="50" width="10" height="485" fill="url(#g3_28)"/>
<rect x="2030" y="50" width="10" height="485" fill="url(#g3_29)"/>
<rect x="2040" y="50" width="10" height="485" fill="url(#g3_30)"/>
<rect x="2050" y="50" width="9" height="485" fill="url(#g3_31)"/>
<rect x="2059" y="50" width="10" height="485" fill="url(#g3_32)"/>
<rect x="2069" y="50" width="10" height="485" fill="url(#g3_33)"/>
<rect x="2079" y="50" width="10" height="485" fill="url(#g3_34)"/>
<rect x="2089" y="50" width="10" height="485" fill="url(#g3_35)"/>
<rect x="2099" y="50" width="10" height="485" fill="url(#g3_36)"/>
<rect x="2109" y="50" width="10" height="485" fill="url(#g3_37)"/>
<rect x="2119" y="50" width="10" height="485" fill="url(#g3_38)"/>
<rect x="2129" y="50" width="10" height="485" fill="url(#g3_39)"/>
<rect x="2139" y="50" width="10" height="485" fill="url(#g3_40)"/>
<rect x="2149" y="50" width="10" height="485" fill="url(#g3_41)"/>
<rect x="2159" y="50" width="10" height="485" fill="url(#g3_42)"/>
<rect x="2169" y="50" width="10" height="485" fill="url(#g3_43)"/>
<rect x="2179" y="50" width="10" height="485" fill="url(#g3_44)"/>
<rect x="2189" y="50" width="10" height="485" fill="url(#g3_45)"/>
<rect x="2199" y="50" width="10" height="485" fill="url(#g3_46)"/>
<rect x="2209" y="50" width="10" height="485" fill="url(#g3_47)"/>
<rect x="2219" y="50" width="10" height="485" fill="url(#g3_48)"/>
<rect x="2229" y="50" width="10" height="485" fill="url(#g3_49)"/>
<rect x="2239" y="50" width="10" height="485" fill="url(#g3_50)"/>
<rect x="2249" y="50" width="10" height="485" fill="url(#g3_51)"/>
<rect x="2259" y="50" width="9" height="485" fill="url(#g3_52)"/>
<rect x="2268" y="50" width="10" height="485" fill="url(#g3_53)"/>
<rect x="2278" y="50" width="10" height="485" fill="url(#g3_54)"/>
<rect x="2288" y="50" width="10" height="485" fill="url(#g3_55)"/>
<rect x="2298" y="50" width="10" height="485" fill="url(#g3_56)"/>
<rect x="2308" y="50" width="10" height="485" fill="url(#g3_57)"/>
<rect x="2318" y="50" width="10" height="485" fill="url(#g3_58)"/>
<rect x="2328" y="50" width="10" height="485" fill="url(#g3_59)"/>
<rect x="2338" y="50" width="10" height="485" fill="url(#g3_60)"/>
<rect x="2348" y="50" width="10" height="485" fill="url(#g3_61)"/>
<rect x="2358" y="50" width="10" height="485" fill="url(#g3_62)"/>
<rect x="1741" y="50" width="10" height="485" fill="url(#g3_1)" mask="url(#fade)"/>
<rect x="1751" y="50" width="10" height="485" fill="url(#g3_2)" mask="url(#fade)"/>
<rect x="1761" y="50" width="10" height="485" fill="url(#g3_3)" mask="url(#fade)"/>
<rect x="1771" y="50" width="10" height="485" fill="url(#g3_4)" mask="url(#fade)"/>
<rect x="1781" y="50" width="10" height="485" fill="url(#g3_5)" mask="url(#fade)"/>
<rect x="1791" y="50" width="10" height="485" fill="url(#g3_6)" mask="url(#fade)"/>
<rect x="1801" y="50" width="10" height="485" fill="url(#g3_7)" mask="url(#fade)"/>
<rect x="1811" y="50" width="10" height="485" fill="url(#g3_8)" mask="url(#fade)"/>
<rect x="1821" y="50" width="10" height="485" fill="url(#g3_9)" mask="url(#fade)"/>
<rect x="1831" y="50" width="10" height="485" fill="url(#g3_10)" mask="url(#fade)"/>
<rect x="1841" y="50" width="9" height="485" fill="url(#g3_11)" mask="url(#fade)"/>
<rect x="1850" y="50" width="10" height="485" fill="url(#g3_12)" mask="url(#fade)"/>
<rect x="1860" y="50" width="10" height="485" fill="url(#g3_13)" mask="url(#fade)"/>
<rect x="1870" y="50" width="10" height="485" fill="url(#g3_14)" mask="url(#fade)"/>
<rect x="1880" y="50" width="10" height="485" fill="url(#g3_15)" mask="url(#fade)"/>
<rect x="1890" y="50" width="10" height="485" fill="url(#g3_16)" mask="url(#fade)"/>
<rect x="1900" y="50" width="10" height="485" fill="url(#g3_17)" mask="url(#fade)"/>
<rect x="1910" y="50" width="10" height="485" fill="url(#g3_18)" mask="url(#fade)"/>
<rect x="1920" y="50" width="10" height="485" fill="url(#g3_19)" mask="url(#fade)"/>
<rect x="1930" y="50" width="10" height="485" fill="url(#g3_20)" mask="url(#fade)"/>
<rect x="1940" y="50" width="10" height="485" fill="url(#g3_21)" mask="url(#fade)"/>
<rect x="1950" y="50" width="10" height="485" fill="url(#g3_22)" mask="url(#fade)"/>
<rect x="1960" y="50" width="10" height="485" fill="url(#g3_23)" mask="url(#fade)"/>
<rect x="1970" y="50" width="10" height="485" fill="url(#g3_24)" mask="url(#fade)"/>
<rect x="1980" y="50" width="10" height="485" fill="url(#g3_25)" mask="url(#fade)"/>
<rect x="1990" y="50" width="10" height="485" fill="url(#g3_26)" mask="url(#fade)"/>
<rect x="2000" y="50" width="10" height="485" fill="url(#g3_27)" mask="url(#fade)"/>
<rect x="2010" y="50" width="10" height="485" fill="url(#g3_28)" mask="url(#fade)"/>
<rect x="2020" y="50" width="10" height="485" fill="url(#g3_29)" mask="url(#fade)"/>
<rect x="2030" y="50" width="10" height="485" fill="url(#g3_30)" mask="url(#fade)"/>
<rect x="2040" y="50" width="10" height="485" fill="url(#g3_31)" mask="url(#fade)"/>
<rect x="2050" y="50" width="9" height="485" fill="url(#g3_32)" mask="url(#fade)"/>
<rect x="2059" y="50" width="10" height="485" fill="url(#g3_33)" mask="url(#fade)"/>
<rect x="2069" y="50" width="10" height="485" fill="url(#g3_34)" mask="url(#fade)"/>
<rect x="2079" y="50" width="10" height="485" fill="url(#g3_35)" mask="url(#fade)"/>
<rect x="2089" y="50" width="10" height="485" fill="url(#g3_36)" mask="url(#fade)"/>
<rect x="2099" y="50" width="10" height="485" fill="url(#g3_37)" mask="url(#fade)"/>
<rect x="2109" y="50" width="10" height="485" fill="url(#g3_38)" mask="url(#fade)"/>
<rect x="2119" y="50" width="10" height="485" fill="url(#g3_39)" mask="url(#fade)"/>
<rect x="2129" y="50" width="10" height="485" fill="url(#g3_40)" mask="url(#fade)"/>
<rect x="2139" y="50" width="10" height="485" fill="url(#g3_41)" mask="url(#fade)"/>
<rect x="2149" y="50" width="10" height="485" fill="url(#g3_42)" mask="url(#fade)"/>
<rect x="2159" y="50" width="10" height="485" fill="url(#g3_43)" mask="url(#fade)"/>
<rect x="2169" y="50" width="10" height="485" fill="url(#g3_44)" mask="url(#fade)"/>
<rect x="2179" y="50" width="10" height="485" fill="url(#g3_45)" mask="url(#fade)"/>
<rect x="2189" y="50" width="10" height="485" fill="url(#g3_46)" mask="url(#fade)"/>
<rect x="2199" y="50" width="10" height="485" fill="url(#g3_47)" mask="url(#fade)"/>
<rect x="2209" y="50" width="10" height="485" fill="url(#g3_48)" mask="url(#fade)"/>
<rect x="2219" y="50" width="10" height="485" fill="url(#g3_49)" mask="url(#fade)"/>
<rect x="2229" y="50" width="10" height="485" fill="url(#g3_50)" mask="url(#fade)"/>
<rect x="2239" y="50" width="10" height="485" fill="url(#g3_51)" mask="url(#fade)"/>
<rect x="2249" y="50" width="10" height="485" fill="url(#g3_52)" mask="url(#fade)"/>
<rect x="2259" y="50" width="9" height="485" fill="url(#g3_53)" mask="url(#fade)"/>
<rect x="2268" y="50" width="10" height="485" fill="url(#g3_54)" mask="url(#fade)"/>
<rect x="2278" y="50" width="10" height="485" fill="url(#g3_55)" mask="url(#fade)"/>
<rect x="2288" y="50" width="10" height="485" fill="url(#g3_56)" mask="url(#fade)"/>
<rect x="2298" y="50" width="10" height="485" fill="url(#g3_57)" mask="url(#fade)"/>
<rect x="2308" y="50" width="10" height="485" fill="url(#g3_58)" mask="url(#fade)"/>
<rect x="2318" y="50" width="10" height="485" fill="url(#g3_59)" mask="url(#fade)"/>
<rect x="2328" y="50" width="10" height="485" fill="url(#g3_60)" mask="url(#fade)"/>
<rect x="2338" y="50" width="10" height="485" fill="url(#g3_61)" mask="url(#fade)"/>
<rect x="2348" y="50" width="10" height="485" fill="url(#g3_62)" mask="url(#fade)"/>
<rect x="2358" y="50" width="10" height="485" fill="url(#g3_63)" mask="url(#fade)"/>
</g>
<g fill="none" stroke="#000" stroke-width="3" clip-path="url(#cclip1)">
<path d="M92.6 105.4L96.0 106.3L100.8 107.7L104.0 108.7L107.8 109.8L111.9 111.1L116.3 112.3L120.6 113.4L124.2 114.4L125.1 114.6" stroke-dasharray="12 11.5" stroke-dashoffset="5.0"/>
<path d="M176.1 119.6L180.5 119.7L184.9 119.9L189.2 120.0L193.4 120.1L197.5 120.2L201.5 120.4L205.5 120.5L209.5 120.6L213.5 120.7L217.5 120.8L221.5 121.0L225.5 121.1L229.5 121.1L233.5 121.2L237.5 121.2L241.5 121.3L245.5 121.3L249.5 121.2L253.5 121.2L257.5 121.1L261.5 121.0L265.5 120.8L269.6 120.7L273.6 120.5L277.6 120.3L281.6 120.1L285.7 119.9L289.7 119.7L293.7 119.5L297.7 119.3L301.7 119.1L305.8 118.9L309.8 118.7L313.8 118.5L317.8 118.3L321.8 118.0L325.9 117.8L329.9 117.5L333.9 117.3L337.9 117.0L341.9 116.8L346.0 116.5L350.0 116.2L354.0 116.0L358.0 115.7L362.0 115.4L366.1 115.1L370.1 114.7L374.1 114.4L378.1 114.1L382.2 113.7L386.2 113.4L390.2 113.1L394.2 112.7L398.2 112.4L402.3 112.1L406.3 111.8L410.3 111.5L414.3 111.2L418.3 110.9L422.3 110.6L426.3 110.3L430.3 110.0L434.3 109.8L438.3 109.5L442.2 109.2L446.2 108.9L450.2 108.7L454.3 108.4L458.3 108.2L462.3 107.9L466.3 107.7L470.3 107.5L474.3 107.3L478.3 107.1L482.4 106.9L486.4 106.7L490.4 106.5L494.4 106.3L498.5 106.1L502.5 105.9L506.5 105.8L510.5 105.6L514.5 105.4L518.6 105.3L522.6 105.1L526.6 105.0L530.6 104.8L534.6 104.7L538.7 104.5L542.7 104.4L546.7 104.3L550.7 104.1L554.7 104.0L558.8 103.9L562.8 103.8L563.8 103.8" stroke-dasharray="12 11.5" stroke-dashoffset="22.3"/>
<path d="M615.0 102.8L619.1 102.7L623.2 102.7L627.3 102.6L631.4 102.6L635.5 102.5L639.6 102.5L643.7 102.4L647.8 102.4L651.8 102.4L655.8 102.3L659.7 102.3L663.5 102.3L667.4 102.3L671.7 102.2L675.9 102.2L680.0 102.2L684.0 102.1L687.9 102.1L691.8 102.1L695.7 102.1L699.6 102.1L703.6 102.0L707.5 102.0L710.5 102.0" stroke-dasharray="12 11.5" stroke-dashoffset="9.8"/>
<path d="M92.7 127.5L96.7 127.6L100.6 127.8L104.6 127.9L108.5 128.0L112.4 128.2L116.3 128.3L120.2 128.5L124.1 128.6L128.1 128.7L132.0 128.8L136.0 129.0L140.1 129.1L144.2 129.2L148.4 129.3L152.6 129.4L156.9 129.5L160.8 129.6L164.7 129.7L168.6 129.8L172.7 129.8L176.8 129.9L180.9 130.0L185.2 130.1L189.4 130.1L193.6 130.2L197.9 130.2L202.1 130.3L206.3 130.3L210.5 130.4L214.5 130.4L218.5 130.5L222.5 130.5L226.3 130.5L229.9 130.6L233.5 130.6L237.2 130.6L242.0 130.6L246.5 130.6L250.8 130.6L254.9 130.6L258.9 130.6L262.7 130.5L266.4 130.5L270.1 130.4L273.8 130.4L277.5 130.3L281.2 130.2L285.0 130.1L289.0 130.1L293.0 130.0L297.0 129.9L301.0 129.8L305.0 129.7L309.0 129.6L313.0 129.5L317.0 129.3L321.0 129.2L325.0 129.1L329.0 128.9L333.0 128.8L337.0 128.6L341.0 128.5L345.0 128.3L349.0 128.1L353.0 128.0L357.0 127.8L361.0 127.6L365.0 127.4L369.0 127.2L373.0 127.0L377.0 126.7L381.0 126.5L385.0 126.3L389.0 126.1L393.0 125.9L397.0 125.6L401.0 125.4L405.0 125.2L409.0 124.9L413.0 124.7L417.0 124.5L421.0 124.2L425.0 124.0L429.0 123.7L433.0 123.5L437.0 123.2L441.0 123.0L445.0 122.7L449.0 122.5L453.0 122.3L457.0 122.0L461.0 121.8L465.0 121.5L469.0 121.3L473.0 121.0L477.0 120.8L481.0 120.6L485.0 120.3L489.0 120.1L493.0 119.9L497.0 119.6L501.0 119.4L505.0 119.2L509.0 118.9L513.0 118.7L517.0 118.5L521.0 118.3L525.0 118.0L529.0 117.8L533.0 117.6L537.0 117.4L541.0 117.2L545.0 117.0L549.0 116.8L553.0 116.6L557.0 116.4L561.0 116.2L565.0 116.0L569.0 115.8L573.0 115.6L577.0 115.4L581.0 115.2L585.0 115.0L589.0 114.9L593.0 114.7L597.0 114.6L601.0 114.5L605.0 114.3L608.9 114.2L612.8 114.2L616.8 114.1L620.7 114.0L624.6 114.0L628.6 113.9L632.5 113.9L636.5 113.8L640.6 113.8L644.7 113.8L648.8 113.7L653.0 113.7L656.8 113.7L660.7 113.7L664.7 113.6L668.7 113.6L672.7 113.6L676.8 113.6L680.8 113.7L684.9 113.7L689.0 113.7L693.2 113.7L697.3 113.7L701.4 113.7L705.4 113.7L709.5 113.7L710.5 113.7" stroke-width="2.7"/>
<path d="M92.7 137.4L96.8 137.5L100.9 137.6L105.1 137.7L109.3 137.8L113.6 137.9L117.9 138.0L122.2 138.2L123.2 138.2" stroke-dasharray="12 11.5" stroke-dashoffset="5.0"/>
<path d="M175.7 139.5L179.1 139.6L182.4 139.7L186.7 139.8L191.8 139.9L196.5 139.9L200.9 140.0L205.0 140.1L208.8 140.1L212.5 140.2L216.1 140.2L219.6 140.2L223.1 140.2L226.6 140.2L230.2 140.2L234.0 140.2L238.0 140.2L242.0 140.2L246.0 140.1L250.0 140.1L254.0 140.0L258.0 139.9L262.0 139.9L266.0 139.8L270.0 139.7L274.0 139.6L278.0 139.5L282.0 139.4L286.0 139.2L290.0 139.1L294.0 139.0L298.0 138.9L302.0 138.7L306.0 138.6L310.0 138.4L314.0 138.3L318.0 138.1L322.0 138.0L326.0 137.8L330.0 137.6L334.0 137.4L338.0 137.2L342.0 137.0L346.0 136.8L350.0 136.5L354.0 136.3L358.0 136.0L362.0 135.7L366.0 135.5L370.0 135.2L374.0 134.9L378.0 134.6L382.0 134.4L386.0 134.1L390.0 133.8L394.0 133.6L398.0 133.3L402.0 133.1L406.0 132.8L410.0 132.6L414.0 132.4L418.0 132.1L422.0 131.9L426.0 131.6L430.0 131.4L434.0 131.2L438.0 130.9L442.0 130.7L446.0 130.5L450.0 130.3L454.0 130.1L458.0 129.8L462.0 129.6L466.0 129.4L470.0 129.2L474.0 129.0L478.0 128.8L482.0 128.6L486.0 128.4L490.0 128.2L494.0 128.1L498.0 127.9L501.7 127.8L505.2 127.6L508.6 127.5L512.0 127.4L515.3 127.3L518.8 127.1L522.3 127.0L526.2 126.9L530.3 126.8L534.7 126.7L539.7 126.6L545.1 126.5L549.5 126.4L552.7 126.4L556.1 126.3L559.7 126.2L563.5 126.2" stroke-dasharray="12 11.5" stroke-dashoffset="21.9"/>
<path d="M615.1 125.5L619.5 125.5L623.8 125.4L628.0 125.4L632.1 125.3L636.0 125.3L639.9 125.3L643.6 125.2L647.1 125.2L650.4 125.2L654.7 125.1L659.9 125.1L664.8 125.0L669.3 125.0L673.5 125.0L677.5 125.0L681.3 125.0L685.0 124.9L688.6 124.9L692.1 124.9L695.6 124.9L699.2 124.9L702.8 124.9L706.6 124.9L710.5 124.9" stroke-dasharray="12 11.5" stroke-dashoffset="9.9"/>
<path d="M92.7 159.7L96.8 159.7L100.9 159.7L105.1 159.7L109.3 159.7L113.6 159.6L117.9 159.6L122.2 159.6L123.2 159.6" stroke-dasharray="12 11.5" stroke-dashoffset="5.0"/>
<path d="M175.7 159.3L179.1 159.3L182.4 159.2L186.7 159.1L191.8 159.0L196.5 158.8L200.9 158.7L205.0 158.5L208.8 158.3L212.5 158.1L216.1 157.8L219.6 157.6L223.1 157.4L226.6 157.2L230.2 156.9L234.0 156.7L238.0 156.5L242.0 156.3L246.0 156.0L250.0 155.8L254.0 155.5L258.0 155.3L262.0 155.0L266.0 154.8L270.0 154.5L274.0 154.3L278.0 154.1L282.0 153.8L286.0 153.6L290.0 153.4L294.0 153.2L298.0 152.9L302.0 152.7L306.0 152.5L310.0 152.3L314.0 152.1L318.0 152.0L322.0 151.8L326.0 151.6L330.0 151.4L334.0 151.2L338.0 151.0L342.0 150.8L346.0 150.6L350.0 150.4L354.0 150.2L358.0 150.0L362.0 149.8L366.0 149.6L370.0 149.4L374.0 149.2L378.0 149.0L382.0 148.8L386.0 148.6L390.0 148.4L394.0 148.2L398.0 148.0L402.0 147.7L406.0 147.5L410.0 147.3L414.0 147.1L418.0 146.8L422.0 146.6L426.0 146.4L430.0 146.2L434.0 145.9L438.0 145.7L442.0 145.5L446.0 145.3L450.0 145.1L454.0 144.9L458.0 144.7L462.0 144.5L466.0 144.3L470.0 144.2L474.0 144.0L478.0 143.8L482.0 143.6L486.0 143.5L490.0 143.3L494.0 143.2L498.0 143.0L501.7 142.9L505.2 142.8L508.6 142.6L512.0 142.5L515.3 142.4L518.8 142.3L522.3 142.2L526.2 142.2L530.3 142.1L534.7 142.0L539.7 141.9L545.1 141.8L549.5 141.8L552.7 141.7L556.1 141.7L559.7 141.6L563.5 141.6" stroke-dasharray="12 11.5" stroke-dashoffset="21.9"/>
<path d="M615.1 141.2L619.5 141.2L623.8 141.2L628.0 141.1L632.1 141.1L636.0 141.1L639.9 141.1L643.6 141.1L647.1 141.0L650.4 141.0L654.7 141.0L659.9 141.0L664.8 140.9L669.3 140.9L673.5 140.9L677.5 140.9L681.3 140.8L685.0 140.8L688.6 140.8L692.1 140.8L695.6 140.8L699.2 140.8L702.8 140.8L706.6 140.8L710.5 140.7" stroke-dasharray="12 11.5" stroke-dashoffset="9.9"/>
<path d="M254.2 197.8L258.0 196.0L262.0 194.3L265.5 193.0L268.8 191.8L272.2 190.8L275.9 189.9L280.1 188.9L285.1 187.9L289.5 187.0L292.8 186.4L296.4 185.7L300.1 185.0L304.1 184.4L308.2 183.7L312.4 183.0L316.7 182.3L321.0 181.6L325.3 180.9L329.6 180.3L333.8 179.6L338.0 179.0L342.0 178.4L346.0 177.8L350.0 177.2L354.0 176.7L358.0 176.1L362.0 175.6L366.0 175.0L370.0 174.5L374.0 174.0L378.0 173.5L382.0 172.9L386.0 172.4L390.0 171.9L394.0 171.4L398.0 170.9L402.0 170.4L406.0 170.0L410.0 169.5L414.0 169.0L418.0 168.5L422.0 168.1L426.0 167.6L430.0 167.2L434.0 166.7L438.0 166.3L442.0 165.9L446.0 165.5L450.0 165.1L454.0 164.7L458.0 164.3L462.0 164.0L466.0 163.6L470.0 163.2L474.0 162.9L478.0 162.6L482.0 162.3L486.0 162.0L490.0 161.7L494.0 161.4L498.0 161.2L502.0 160.9L506.0 160.7L510.0 160.5L514.0 160.3L518.0 160.2L522.0 160.0L526.0 159.8L530.0 159.7L534.0 159.6L538.0 159.5L542.0 159.4L546.0 159.3L550.0 159.2L553.7 159.1L557.1 159.0L560.5 159.0L563.7 158.9L567.0 158.9L570.3 158.9L573.9 158.9L577.7 158.9L581.8 158.9L586.3 158.8L591.4 158.8L597.0 158.7L601.5 158.7L604.6 158.6L607.8 158.6L611.2 158.5L614.7 158.5L618.4 158.4L622.1 158.4" stroke-dasharray="12 11.5"/>
<path d="M674.4 157.6L678.8 157.6L683.1 157.5L687.5 157.4L691.8 157.4L696.0 157.3L700.2 157.3L704.4 157.2L708.5 157.1L710.5 157.1" stroke-dasharray="12 11.5"/>
<path d="M263.1 231.8L266.8 232.5L270.6 233.2L274.5 233.9L278.4 234.6L282.4 235.2L286.6 235.9L290.8 236.6L295.1 237.3L299.6 237.9L303.5 238.5L307.2 239.1L311.1 239.7L315.0 240.3L319.0 240.9L323.1 241.5L327.2 242.1L331.4 242.6L335.5 243.2L339.7 243.8L343.8 244.3L347.9 244.8L352.0 245.3L356.0 245.7L360.0 246.2L364.1 246.6L368.1 247.0L372.1 247.4L376.1 247.8L380.2 248.1L384.2 248.5L388.2 248.8L392.2 249.1L396.2 249.4L400.2 249.7L404.3 250.0L408.3 250.3L412.3 250.5L416.3 250.8L420.3 251.0L424.3 251.2L428.3 251.5L432.3 251.7L436.3 251.8L440.3 252.0L444.2 252.2L448.2 252.3L452.3 252.5L456.3 252.6L460.3 252.8L464.3 252.9L468.3 253.0L472.3 253.1L476.3 253.2L480.4 253.3L484.4 253.4L488.4 253.5L492.4 253.5L496.4 253.6L500.5 253.6L504.5 253.7L508.5 253.7L512.5 253.7L516.6 253.8L520.6 253.8L524.6 253.8L528.6 253.8L532.6 253.8L536.7 253.8L540.7 253.8L544.7 253.8L548.7 253.8L552.7 253.8L556.8 253.7L560.8 253.7L564.7 253.7L568.5 253.7L572.1 253.7L575.5 253.7L579.0 253.6L582.5 253.6L586.1 253.6L589.8 253.5L593.7 253.5L597.9 253.5L602.4 253.4L607.3 253.3L612.6 253.2L616.4 253.2L619.7 253.1L623.1 253.0L626.7 253.0L630.3 252.9L634.1 252.8L638.0 252.7L641.9 252.6" stroke-dasharray="12 11.5"/>
<path d="M695.0 251.5L699.2 251.4L703.4 251.3L707.5 251.2L710.5 251.1" stroke-dasharray="12 11.5"/>
<path d="M92.6 219.3L95.6 221.1L98.6 222.9L102.9 224.9L107.4 226.3L110.4 227.2L113.8 228.1L117.4 229.0L121.2 229.9L125.3 230.8L129.6 231.8L134.0 232.8L138.5 233.8L143.1 234.8L146.8 235.6L150.4 236.3L154.2 237.1L158.0 237.9L161.9 238.7L165.9 239.5L170.0 240.3L174.1 241.1L178.2 241.9L182.3 242.7L186.4 243.5" stroke-dasharray="12 11.5" stroke-dashoffset="5.0"/>
<path d="M239.5 253.1L243.5 253.8L247.5 254.4L251.5 254.9L255.5 255.4L259.5 256.0L263.5 256.4L267.6 256.9L271.6 257.3L275.6 257.7L279.6 258.1L283.6 258.5L287.7 258.9L291.7 259.3L295.7 259.7L299.7 260.1L303.8 260.5L307.8 260.9L311.8 261.3L315.8 261.7L319.8 262.1L323.9 262.5L327.9 262.8L331.9 263.2L335.9 263.6L339.9 263.9L344.0 264.2L348.0 264.5L352.0 264.8L356.0 265.1L360.0 265.4L364.1 265.6L368.1 265.8L372.1 266.0L376.1 266.2L380.2 266.4L384.2 266.6L388.2 266.8L392.2 267.0L396.2 267.1L400.2 267.3L404.3 267.5L408.3 267.6L412.3 267.8L416.3 267.9L420.3 268.0L424.3 268.2L428.3 268.3L432.3 268.4L436.3 268.5L440.3 268.6L444.2 268.7L448.2 268.8L452.3 268.9L456.3 269.0L460.3 269.1L464.3 269.2L468.3 269.3L472.3 269.4L476.3 269.5L480.4 269.6L484.4 269.7L488.4 269.8L492.4 269.8L496.4 269.9L500.5 270.0L504.5 270.0L508.5 270.1L512.5 270.1L516.6 270.2L520.6 270.2L524.6 270.2L528.6 270.3L532.6 270.3L536.7 270.3L540.7 270.3L544.7 270.3L548.7 270.3L552.7 270.3L556.8 270.3L560.8 270.4L564.7 270.4L568.5 270.4L572.1 270.4L575.5 270.4L579.0 270.4L582.5 270.4L586.1 270.4L589.8 270.4L593.7 270.4L597.9 270.4L602.4 270.4L607.3 270.4L612.6 270.4L616.4 270.4L619.7 270.3L623.1 270.3L625.8 270.3" stroke-dasharray="12 11.5"/>
<path d="M678.9 270.2L683.2 270.2L687.5 270.2L691.8 270.2L696.0 270.1L700.2 270.1L704.4 270.1L708.5 270.1L710.5 270.1" stroke-dasharray="12 11.5"/>
<path d="M92.7 252.8L96.7 253.4L100.6 254.0L104.6 254.6L108.6 255.2L112.5 255.7L116.5 256.3L120.5 256.9L124.4 257.5L128.4 258.1L132.3 258.7L136.3 259.3L140.3 259.9L144.2 260.5L148.2 261.1L152.3 261.8L156.3 262.4L160.3 263.1L164.4 263.8L168.4 264.5L172.4 265.1L176.4 265.8L180.4 266.5L184.4 267.1L186.5 267.4" stroke-dasharray="12 11.5" stroke-dashoffset="5.0"/>
<path d="M239.5 273.2L243.5 273.6L247.5 273.9L251.5 274.3L255.5 274.6L259.5 275.0L263.5 275.3L267.6 275.6L271.6 276.0L275.6 276.3L279.6 276.6L283.6 276.9L287.7 277.2L291.7 277.5L295.7 277.8L299.7 278.1L303.8 278.4L307.8 278.6L311.8 278.9L315.8 279.2L319.8 279.4L323.9 279.7L327.9 279.9L331.9 280.1L335.9 280.4L339.9 280.6L344.0 280.8L348.0 281.0L352.0 281.2L356.0 281.4L360.0 281.6L364.1 281.8L368.1 282.0L372.1 282.2L376.1 282.4L380.2 282.6L384.2 282.7L388.2 282.9L392.2 283.1L396.2 283.2L400.2 283.4L404.3 283.6L408.3 283.7L412.3 283.9L416.3 284.1L420.3 284.3L424.3 284.4L428.3 284.6L432.3 284.8L436.3 284.9L440.3 285.1L444.2 285.3L448.2 285.4L452.3 285.5L456.3 285.7L460.3 285.8L464.3 285.9L468.3 286.0L472.3 286.1L476.3 286.2L480.4 286.2L484.4 286.3L488.4 286.4L492.4 286.5L496.4 286.5L500.5 286.6L504.5 286.7L508.5 286.7L512.5 286.8L516.6 286.9L520.6 286.9L524.6 287.0L528.6 287.1L532.6 287.1L536.7 287.2L540.7 287.3L544.7 287.3L548.7 287.4L552.7 287.4L556.8 287.5L560.8 287.5L564.8 287.5L568.8 287.6L572.8 287.6L576.9 287.6L580.9 287.7L584.9 287.7L588.9 287.7L592.9 287.7L597.0 287.7L601.0 287.7L605.0 287.7L609.0 287.8L613.0 287.8L617.1 287.8L621.1 287.8L625.2 287.8" stroke-dasharray="12 11.5"/>
<path d="M678.9 288.1L683.0 288.1L686.9 288.1L690.9 288.1L694.8 288.1L698.7 288.0L702.6 288.0L706.5 288.0L710.5 288.0" stroke-dasharray="12 11.5"/>
<path d="M92.7 266.8L96.8 267.3L100.8 267.9L104.8 268.4L108.9 268.9L112.9 269.4L117.0 269.9L121.0 270.4L125.0 270.9L129.1 271.4L133.1 271.9L137.2 272.4L141.2 272.9L145.2 273.3L149.3 273.8L153.3 274.3L157.3 274.8L161.3 275.3L165.4 275.7L169.4 276.2L173.4 276.7L177.4 277.2L181.4 277.6L185.4 278.0L189.5 278.5L193.5 278.9L197.5 279.3L201.5 279.7L205.5 280.1L209.5 280.4L213.5 280.8L217.5 281.1L221.5 281.5L225.5 281.8L229.5 282.1L233.5 282.4L237.5 282.7L241.5 283.1L245.5 283.4L249.5 283.7L253.5 284.0L257.5 284.3L261.5 284.6L265.5 285.0L269.6 285.3L273.6 285.6L277.6 285.9L281.6 286.2L285.7 286.5L289.7 286.8L293.7 287.0L297.7 287.3L301.7 287.6L305.8 287.9L309.8 288.1L313.8 288.4L317.8 288.6L321.8 288.9L325.9 289.1L329.9 289.4L333.9 289.6L337.9 289.8L341.9 290.0L346.0 290.3L350.0 290.5L354.0 290.7L358.0 290.9L362.0 291.1L366.1 291.3L370.1 291.5L374.1 291.6L378.1 291.8L382.2 292.0L386.2 292.2L390.2 292.3L394.2 292.5L398.2 292.7L402.3 292.8L406.3 293.0L410.3 293.2L414.3 293.4L418.3 293.6L422.3 293.8L426.3 294.0L430.3 294.2L434.3 294.3L438.3 294.5L442.2 294.7L446.2 294.9L450.2 295.0L454.3 295.2L458.3 295.4L462.3 295.5L466.3 295.6L470.3 295.8L474.3 295.9L478.3 296.0L482.4 296.2L486.4 296.3L490.4 296.4L494.4 296.5L498.5 296.6L502.5 296.7L506.5 296.8L510.5 296.9L514.5 297.0L518.6 297.1L522.6 297.2L526.6 297.3L530.6 297.4L534.6 297.4L538.7 297.5L542.7 297.6L546.7 297.7L550.7 297.7L554.7 297.8L558.8 297.9L562.8 297.9L566.8 298.0L570.8 298.0L574.8 298.1L578.9 298.1L582.9 298.2L586.9 298.2L590.9 298.3L594.9 298.3L599.0 298.3L603.0 298.4L607.0 298.4L611.0 298.4L615.0 298.4L619.1 298.5L623.2 298.5L627.3 298.5L631.4 298.5L635.5 298.6L639.6 298.6L643.7 298.6L647.8 298.6L651.8 298.6L655.8 298.6L659.7 298.7L663.5 298.7L667.4 298.7L671.7 298.7L675.9 298.8L680.0 298.8L684.0 298.8L687.9 298.8L691.8 298.8L695.7 298.9L699.6 298.9L703.6 298.9L707.5 298.9L710.5 299.0" stroke-width="2.7"/>
<path d="M92.7 282.4L96.8 282.7L100.8 283.0L104.8 283.4L108.9 283.7L112.9 284.0L117.0 284.4L121.0 284.7L125.0 285.0L129.1 285.3L133.1 285.6L137.2 285.9L141.2 286.3L145.2 286.6L149.3 286.8L153.3 287.1L157.3 287.4L161.3 287.7L165.4 287.9L169.4 288.2L173.4 288.5L177.4 288.7L181.4 289.0L185.4 289.3L187.5 289.4" stroke-dasharray="12 11.5" stroke-dashoffset="5.0"/>
<path d="M240.5 294.0L244.5 294.4L248.5 294.8L252.5 295.2L256.5 295.6L260.5 296.0L264.5 296.4L268.6 296.8L272.6 297.2L276.6 297.7L280.6 298.1L284.7 298.5L288.7 298.9L292.7 299.3L296.7 299.6L300.7 300.0L304.8 300.3L308.8 300.7L312.8 301.0L316.8 301.3L320.8 301.6L324.9 301.9L328.9 302.2L332.9 302.5L336.9 302.8L340.9 303.1L345.0 303.4L349.0 303.6L353.0 303.9L357.0 304.2L361.0 304.4L365.1 304.7L369.1 304.9L373.1 305.1L377.1 305.3L381.2 305.6L385.2 305.8L389.2 306.0L393.2 306.2L397.2 306.4L401.2 306.6L405.3 306.8L409.3 306.9L413.3 307.1L417.3 307.3L421.3 307.4L425.3 307.6L429.3 307.7L433.3 307.9L437.3 308.0L441.2 308.1L445.2 308.2L449.2 308.4L453.3 308.5L457.3 308.6L461.3 308.7L465.3 308.8L469.3 308.9L473.3 309.0L477.3 309.0L481.4 309.1L485.4 309.2L489.4 309.3L493.4 309.3L497.5 309.4L501.5 309.5L505.5 309.6L509.5 309.6L513.5 309.7L517.6 309.8L521.6 309.8L525.6 309.9L529.6 310.0L533.6 310.0L537.7 310.1L541.7 310.1L545.7 310.2L549.7 310.3L553.7 310.3L557.8 310.4L561.8 310.4L565.7 310.4L569.4 310.5L572.9 310.5L576.4 310.5L579.9 310.5L583.4 310.6L587.0 310.6L590.7 310.6L594.7 310.6L599.0 310.6L603.6 310.6L608.6 310.6L614.0 310.7L617.2 310.7L620.5 310.7L624.0 310.7L625.8 310.7" stroke-dasharray="12 11.5"/>
<path d="M678.9 310.7L683.2 310.7L687.5 310.7L691.8 310.7L696.0 310.7L700.2 310.7L704.4 310.7L708.5 310.7L710.5 310.7" stroke-dasharray="12 11.5"/>
<path d="M371.2 224.1L375.1 223.2L378.8 222.4L382.4 221.6L386.0 220.8L389.8 220.0L393.7 219.2L397.9 218.3L402.5 217.3L406.6 216.5L410.1 215.7L413.7 215.0L417.4 214.1L421.3 213.3L425.3 212.4L429.4 211.6L433.5 210.7L437.6 209.9L441.8 209.1L445.9 208.3L450.0 207.5L454.0 206.9L458.0 206.3L462.1 205.7L466.3 205.1L470.5 204.6L474.7 204.1L479.0 203.7L483.2 203.3L487.4 202.9L491.5 202.5L495.5 202.2L499.4 201.9L503.0 201.6L506.5 201.4L510.3 201.1L514.0 200.9" stroke-dasharray="12 11.5"/>
<path d="M566.7 203.9L570.8 204.6L574.9 205.3L578.8 205.9L582.9 206.7L587.1 207.4L591.3 208.3L595.6 209.1L599.7 210.0L603.8 210.8L607.7 211.7L611.3 212.5L613.0 212.9" stroke-dasharray="12 11.5"/>
<path d="M371.2 224.1L375.3 224.4L379.3 224.7L383.3 225.1L387.3 225.4L391.3 225.7L395.3 226.0L399.3 226.4L403.4 226.7L407.5 227.0L411.6 227.3L415.9 227.6L419.9 227.8L423.8 228.1L427.7 228.3L431.6 228.6L435.6 228.8L439.6 229.0L443.7 229.2L447.7 229.5L451.8 229.7L455.9 229.8L459.9 230.0L464.0 230.1L468.0 230.3L472.0 230.4L476.0 230.4L480.0 230.5L484.0 230.6L488.0 230.6L492.0 230.6L496.0 230.6L500.0 230.6L504.0 230.6L508.0 230.5L512.0 230.5L516.0 230.4L520.0 230.4L524.0 230.3L528.1 230.2L532.2 230.1L536.3 230.0L540.5 229.8L544.7 229.7L548.8 229.5L552.9 229.4L557.0 229.2L560.9 229.0L564.8 228.9L568.6 228.7L572.2 228.6L576.3 228.4L580.8 228.2L585.2 228.1L589.5 227.9L593.6 227.7L597.6 227.6L601.4 227.4L605.2 227.2L608.7 227.0L612.2 226.7L613.0 226.7" stroke-dasharray="12 11.5"/>
<path d="M665.4 216.2L669.0 215.9L672.8 215.5L676.9 215.2L681.1 214.9L685.5 214.6L689.9 214.3L694.3 214.0L698.8 213.7L703.2 213.4L707.4 213.1L710.5 212.9" stroke-dasharray="12 11.5"/>
<path d="M665.5 225.1L669.4 225.1L673.3 225.1L677.1 225.1L681.3 225.1L685.5 225.0L689.7 224.9L693.7 224.7L697.6 224.6L701.5 224.4L705.5 224.3L709.5 224.1L710.5 224.1" stroke-dasharray="12 11.5"/>
<path d="M92.6 513.4L96.0 514.3L100.8 515.7L104.0 516.7L107.8 517.8L111.9 519.1L116.3 520.3L120.6 521.4L124.2 522.4" stroke-dasharray="12 11.5" stroke-dashoffset="5.0"/>
<path d="M177.2 527.6L181.6 527.8L186.0 527.9L190.3 528.0L194.5 528.1L198.5 528.3L202.5 528.4L206.5 528.5L210.5 528.6L214.5 528.8L218.5 528.9L222.5 529.0L226.5 529.1L230.5 529.2L234.5 529.2L238.5 529.3L242.5 529.3L246.5 529.3L250.5 529.2L254.5 529.1L258.5 529.1L262.5 528.9L266.6 528.8L270.6 528.6L274.6 528.5L278.6 528.3L282.6 528.1L286.7 527.9L290.7 527.7L294.7 527.5L298.7 527.3L302.8 527.1L306.8 526.9L310.8 526.6L314.8 526.4L318.8 526.2L322.9 526.0L326.9 525.7L330.9 525.5L334.9 525.2L338.9 525.0L343.0 524.7L347.0 524.5L351.0 524.2L355.0 523.9L359.0 523.6L363.1 523.3L367.1 523.0L371.1 522.7L375.1 522.3L379.1 522.0L383.2 521.7L387.2 521.3L391.2 521.0L395.2 520.7L399.2 520.3L403.3 520.0L407.3 519.7L411.3 519.4L415.3 519.1L419.3 518.8L423.3 518.5L427.3 518.2L431.3 518.0L435.3 517.7L439.3 517.4L443.2 517.1L447.2 516.9L451.2 516.6L455.3 516.4L459.3 516.1L463.3 515.9L467.3 515.7L471.3 515.4L475.3 515.2L479.4 515.0L483.4 514.8L487.4 514.6L491.4 514.4L495.4 514.3L499.5 514.1L503.5 513.9L507.5 513.7L511.5 513.6L515.5 513.4L519.6 513.2L523.6 513.1L527.6 512.9L531.6 512.8L535.6 512.6L539.7 512.5L543.7 512.4L547.7 512.2L551.7 512.1L555.8 512.0L559.8 511.9L562.8 511.8" stroke-dasharray="12 11.5"/>
<path d="M616.1 510.8L620.1 510.7L624.2 510.6L628.3 510.6L632.4 510.6L636.6 510.5L640.7 510.5L644.8 510.4L648.8 510.4L652.8 510.4L656.8 510.3L660.6 510.3L664.4 510.3L668.5 510.2L672.7 510.2L676.9 510.2L681.0 510.2L685.0 510.1L688.9 510.1L692.8 510.1L696.7 510.1L700.6 510.1L704.5 510.0L708.5 510.0L710.5 510.0" stroke-dasharray="12 11.5"/>
<path d="M466.0 529.5L470.0 529.2L474.0 529.0L478.0 528.7L482.0 528.5L486.0 528.3L490.0 528.0L494.0 527.8L498.0 527.6L502.0 527.3L506.0 527.1L510.0 526.9L514.0 526.7L518.0 526.4L522.0 526.2L526.0 526.0L530.0 525.8L534.0 525.5L538.0 525.3L542.0 525.1L546.0 524.9L550.0 524.7L554.0 524.5L558.0 524.3L562.0 524.1L566.0 523.9L570.0 523.7L574.0 523.5L578.0 523.3L582.0 523.2L586.0 523.0L590.0 522.8L594.0 522.7L598.0 522.5L602.0 522.4L606.0 522.3L609.9 522.2L613.8 522.1L617.7 522.1L621.7 522.0L625.6 521.9L629.5 521.9L633.5 521.9L637.5 521.8L641.6 521.8L645.7 521.7L649.9 521.7L653.9 521.7L657.8 521.7L661.7 521.7L665.7 521.6L669.7 521.6L673.7 521.6L677.8 521.6L681.9 521.7L686.0 521.7L690.1 521.7L694.2 521.7L698.3 521.7L702.4 521.7L706.5 521.7L710.5 521.7" stroke-width="2.7"/>
</g>
<g font-size="31px" fill="#000" text-anchor="middle">
<text transform="translate(151.5 118.6) rotate(3.3)" y="10.7">10</text>
<text transform="translate(149.7 138.9) rotate(1.5)" y="10.7">20</text>
<text transform="translate(149.7 159.6) rotate(-0.2)" y="10.7">30</text>
<text transform="translate(590.1 103.2) rotate(-1.1)" y="10.7">10</text>
<text transform="translate(590.1 125.8) rotate(-0.7)" y="10.7">20</text>
<text transform="translate(590.1 141.4) rotate(-0.4)" y="10.7">30</text>
<text transform="translate(648.1 158.8) rotate(-0.8)" y="10.7">40</text>
<text transform="translate(540.2 200.7) rotate(3.6)" y="10.7">50</text>
<text transform="translate(639.0 225.9) rotate(-5.0)" y="10.7">50</text>
<text transform="translate(239.3 219.5) rotate(62.0)" y="10.7">40</text>
<text transform="translate(212.6 248.4) rotate(10.5)" y="10.7">30</text>
<text transform="translate(212.6 270.7) rotate(6.0)" y="10.7">20</text>
<text transform="translate(213.9 291.6) rotate(5.0)" y="10.7">10</text>
<text transform="translate(668.9 252.0) rotate(-1.3)" y="10.7">40</text>
<text transform="translate(652.0 270.3) rotate(-0.2)" y="10.7">30</text>
<text transform="translate(652.0 288.0) rotate(0.3)" y="10.7">20</text>
<text transform="translate(652.0 310.7) rotate(-0.0)" y="10.7">10</text>
<text transform="translate(150.6 525.1) rotate(3.5)" y="10.7">10</text>
<text transform="translate(589.6 511.2) rotate(-1.1)" y="10.7">10</text>
</g>
<g fill="none" stroke="#000" stroke-width="3" clip-path="url(#cclip2)">
<path d="M918.5 126.7L922.5 126.7L926.5 126.6L930.5 126.6L934.5 126.5L938.5 126.5L942.5 126.5L946.5 126.4L949.5 126.4" stroke-dasharray="12 11.5"/>
<path d="M1002.5 125.8L1006.5 125.7L1010.5 125.7L1014.5 125.6L1018.5 125.5L1022.5 125.4L1026.5 125.3L1030.5 125.2L1034.6 125.1L1038.6 125.0L1042.6 124.8L1046.6 124.7L1050.7 124.6L1054.7 124.4L1058.7 124.3L1062.7 124.1L1066.8 124.0L1070.8 123.8L1074.8 123.6L1078.8 123.4L1082.8 123.2L1086.8 122.9L1090.8 122.7L1094.8 122.4L1098.8 122.2L1102.8 121.9L1106.8 121.6L1110.8 121.3L1114.8 121.0L1118.8 120.8L1122.8 120.5L1126.8 120.2L1130.8 119.9L1134.8 119.6L1138.8 119.3L1142.8 119.0L1146.8 118.7L1150.8 118.4L1154.8 118.1L1158.8 117.8L1162.8 117.5L1166.8 117.2L1170.8 116.9L1174.8 116.6L1178.8 116.3L1182.8 116.0L1186.9 115.7L1191.0 115.4L1195.0 115.0L1199.1 114.7L1203.1 114.4L1207.2 114.1L1211.2 113.8L1215.3 113.5L1219.3 113.2L1223.4 112.9L1227.5 112.6L1231.5 112.3L1235.5 112.1L1239.5 111.9L1243.5 111.6L1247.5 111.4L1251.5 111.2L1255.5 111.0L1259.5 110.8L1263.5 110.7L1267.5 110.5L1271.5 110.3L1275.5 110.1L1279.5 109.9L1283.5 109.8L1287.5 109.6L1291.5 109.4L1295.5 109.2L1299.5 109.1L1303.5 108.9L1307.5 108.7L1311.5 108.6L1315.5 108.4L1319.5 108.2L1323.5 108.1L1327.5 108.0L1331.5 107.8L1335.5 107.7L1339.5 107.6L1343.5 107.4L1347.6 107.3L1351.6 107.2L1355.6 107.1L1359.6 107.0L1363.6 106.9L1367.7 106.8L1371.7 106.8L1375.7 106.7L1379.7 106.6L1383.8 106.5L1387.8 106.4L1388.8 106.4" stroke-dasharray="12 11.5"/>
<path d="M1444.4 105.3L1448.5 105.2L1452.6 105.2L1456.7 105.1L1460.7 105.1L1464.7 105.0L1468.8 105.0L1472.8 104.9L1476.8 104.8L1480.9 104.8L1484.9 104.7L1489.0 104.6L1493.0 104.5L1497.0 104.4L1501.0 104.4L1505.0 104.3L1509.0 104.2L1513.1 104.0L1517.1 103.9L1521.1 103.8L1525.1 103.7L1529.2 103.6L1533.2 103.5L1537.2 103.4L1539.2 103.4" stroke-dasharray="12 11.5" stroke-dashoffset="9.2"/>
<path d="M918.5 134.8L922.5 134.8L926.5 134.8L930.5 134.8L934.5 134.8L938.5 134.8L942.5 134.8L946.5 134.8L950.5 134.8L954.5 134.8L958.5 134.8L962.5 134.8L966.5 134.8L970.5 134.8L974.5 134.7L978.5 134.7L982.5 134.6L986.5 134.6L990.5 134.5L994.5 134.4L998.5 134.3L1002.5 134.2L1006.5 134.2L1010.5 134.1L1014.5 133.9L1018.5 133.8L1022.5 133.7L1026.5 133.6L1030.5 133.5L1034.6 133.3L1038.6 133.2L1042.6 133.0L1046.6 132.9L1050.7 132.7L1054.7 132.5L1058.7 132.4L1062.7 132.2L1066.8 132.0L1070.8 131.8L1074.8 131.6L1078.8 131.4L1082.8 131.2L1086.8 131.0L1090.8 130.8L1094.8 130.6L1098.8 130.3L1102.8 130.1L1106.8 129.9L1110.8 129.6L1114.8 129.4L1118.8 129.2L1122.8 129.0L1126.8 128.8L1130.8 128.6L1134.8 128.4L1138.8 128.2L1142.8 128.0L1146.8 127.8L1150.8 127.7L1154.8 127.5L1158.8 127.3L1162.8 127.1L1166.8 127.0L1170.8 126.8L1174.8 126.6L1178.8 126.4L1182.8 126.3L1186.9 126.1L1191.0 125.9L1195.0 125.8L1199.1 125.6L1203.1 125.4L1207.2 125.2L1211.2 125.1L1215.3 124.9L1219.3 124.8L1223.4 124.6L1227.5 124.5L1231.5 124.3L1235.5 124.2L1239.5 124.1L1243.5 123.9L1247.5 123.8L1251.5 123.7L1255.5 123.6L1259.5 123.5L1263.5 123.3L1267.5 123.2L1271.5 123.1L1275.5 123.0L1279.5 122.9L1283.5 122.8L1287.5 122.6L1291.5 122.5L1295.5 122.4L1299.5 122.3L1303.5 122.2L1307.5 122.0L1311.5 121.9L1315.5 121.8L1319.5 121.7L1323.5 121.6L1327.5 121.4L1331.5 121.3L1335.5 121.2L1339.5 121.1L1343.5 121.0L1347.6 120.9L1351.6 120.8L1355.6 120.7L1359.6 120.6L1363.6 120.5L1367.7 120.4L1371.7 120.3L1375.7 120.2L1379.7 120.1L1383.8 120.0L1387.8 119.9L1391.8 119.8L1395.9 119.7L1399.9 119.7L1404.0 119.6L1408.1 119.5L1412.1 119.4L1416.2 119.3L1420.2 119.3L1424.3 119.2L1428.3 119.1L1432.3 119.0L1436.3 119.0L1440.3 118.9L1444.4 118.8L1448.5 118.7L1452.6 118.6L1456.7 118.5L1460.7 118.5L1464.7 118.4L1468.8 118.3L1472.8 118.2L1476.8 118.1L1480.9 118.0L1484.9 118.0L1489.0 117.9L1493.0 117.8L1497.0 117.7L1501.0 117.6L1505.0 117.6L1509.0 117.5L1513.1 117.4L1517.1 117.3L1521.1 117.2L1525.1 117.1L1529.2 117.1L1533.2 117.0L1537.2 116.9L1539.2 116.9" stroke-width="2.7"/>
<path d="M918.5 143.1L922.5 143.1L926.5 143.1L930.5 143.0L934.5 143.0L938.5 143.0L942.5 143.0L946.5 143.0L948.5 143.0" stroke-dasharray="12 11.5"/>
<path d="M1001.5 142.1L1005.5 142.0L1009.5 141.9L1013.5 141.8L1017.5 141.7L1021.5 141.5L1025.5 141.4L1029.5 141.3L1033.6 141.2L1037.6 141.1L1041.6 140.9L1045.6 140.8L1049.7 140.7L1053.7 140.5L1057.7 140.4L1061.7 140.2L1065.7 140.1L1069.8 139.9L1073.8 139.7L1077.8 139.6L1081.8 139.4L1085.8 139.2L1089.8 139.0L1093.8 138.8L1097.8 138.6L1101.8 138.4L1105.8 138.2L1109.8 138.0L1113.8 137.8L1117.8 137.6L1121.8 137.4L1125.8 137.2L1129.8 136.9L1133.8 136.7L1137.8 136.5L1141.8 136.3L1145.8 136.1L1149.8 135.9L1153.8 135.7L1157.8 135.5L1161.8 135.3L1165.8 135.1L1169.8 134.9L1173.8 134.7L1177.8 134.5L1181.8 134.4L1185.9 134.2L1190.0 134.0L1194.0 133.8L1198.1 133.6L1202.1 133.4L1206.2 133.2L1210.2 133.0L1214.3 132.8L1218.3 132.7L1222.4 132.5L1226.5 132.3L1230.5 132.2L1234.5 132.0L1238.5 131.8L1242.5 131.7L1246.5 131.5L1250.5 131.4L1254.5 131.3L1258.5 131.1L1262.5 131.0L1266.5 130.8L1270.5 130.7L1274.5 130.6L1278.5 130.5L1282.5 130.3L1286.5 130.2L1290.5 130.1L1294.5 130.0L1298.5 129.9L1302.5 129.8L1306.5 129.7L1310.5 129.6L1314.5 129.5L1318.5 129.4L1322.5 129.3L1326.5 129.2L1330.5 129.1L1334.5 129.0L1338.5 129.0L1342.5 128.9L1346.6 128.8L1350.6 128.7L1354.6 128.6L1358.6 128.5L1362.6 128.4L1366.6 128.4L1370.7 128.3L1374.7 128.2L1378.7 128.1L1382.8 128.1L1386.8 128.0L1387.8 128.0" stroke-dasharray="12 11.5"/>
<path d="M1443.4 127.2L1447.5 127.1L1451.6 127.1L1455.6 127.0L1459.7 127.0L1463.7 127.0L1467.8 126.9L1471.8 126.9L1475.8 126.9L1479.9 126.8L1483.9 126.8L1488.0 126.7L1492.0 126.7L1496.0 126.6L1500.0 126.6L1504.0 126.5L1508.0 126.4L1512.1 126.4L1516.1 126.3L1520.1 126.3L1524.1 126.2L1528.2 126.1L1532.2 126.1L1536.2 126.0L1539.2 126.0" stroke-dasharray="12 11.5" stroke-dashoffset="8.2"/>
<path d="M918.5 181.3L922.5 180.6L926.5 179.9L930.4 179.2L934.4 178.5L938.5 177.8L942.9 177.1L946.7 176.5L949.4 176.0" stroke-dasharray="12 11.5"/>
<path d="M1002.3 167.7L1006.5 167.0L1010.8 166.3L1015.1 165.6L1019.3 164.9L1023.5 164.3L1027.4 163.7L1031.3 163.1L1035.2 162.5L1039.2 161.9L1043.3 161.3L1047.3 160.7L1051.4 160.1L1055.5 159.5L1059.6 159.0L1063.7 158.5L1067.7 158.0L1071.8 157.5L1075.8 157.0L1079.8 156.6L1083.8 156.2L1087.8 155.8L1091.8 155.4L1095.8 155.1L1099.8 154.7L1103.8 154.4L1107.8 154.1L1111.8 153.8L1115.8 153.5L1119.8 153.2L1123.8 152.9L1127.8 152.6L1131.8 152.3L1135.8 152.1L1139.8 151.8L1143.8 151.6L1147.8 151.3L1151.8 151.1L1155.8 150.9L1159.8 150.6L1163.8 150.4L1167.8 150.2L1171.8 150.0L1175.8 149.7L1179.8 149.5L1183.9 149.3L1187.9 149.1L1192.0 148.9L1196.0 148.6L1200.1 148.4L1204.1 148.2L1208.2 148.0L1212.3 147.8L1216.3 147.6L1220.4 147.4L1224.4 147.2L1228.5 147.1L1232.5 146.9L1236.5 146.7L1240.5 146.6L1244.5 146.4L1248.5 146.3L1252.5 146.1L1256.5 146.0L1260.5 145.9L1264.5 145.7L1268.5 145.6L1272.5 145.5L1276.5 145.3L1280.5 145.2L1284.5 145.1L1288.5 145.0L1292.5 144.9L1296.5 144.8L1300.5 144.7L1304.5 144.5L1308.5 144.4L1312.5 144.3L1316.5 144.3L1320.5 144.2L1324.5 144.1L1328.5 144.0L1332.5 143.9L1336.5 143.8L1340.5 143.7L1344.5 143.7L1348.6 143.6L1352.6 143.6L1356.6 143.5L1360.6 143.4L1364.6 143.4L1368.7 143.3L1372.7 143.3L1376.7 143.2L1380.7 143.2L1384.8 143.1L1386.8 143.1" stroke-dasharray="12 11.5"/>
<path d="M1443.4 142.3L1447.5 142.2L1451.6 142.2L1455.6 142.1L1459.7 142.1L1463.7 142.0L1467.8 142.0L1471.8 142.0L1475.8 141.9L1479.9 141.9L1483.9 141.9L1488.0 141.8L1492.0 141.8L1496.0 141.7L1500.0 141.6L1504.0 141.6L1508.0 141.5L1512.1 141.5L1516.1 141.4L1520.1 141.3L1524.1 141.3L1528.2 141.2L1532.2 141.1L1536.2 141.1L1539.2 141.0" stroke-dasharray="12 11.5" stroke-dashoffset="8.2"/>
<path d="M1070.2 199.7L1075.2 197.7L1078.0 196.7L1081.2 195.6L1084.6 194.3L1088.4 193.0L1092.3 191.7L1096.4 190.3L1100.6 188.9L1104.9 187.6L1109.2 186.2L1113.5 184.9L1117.7 183.7L1121.9 182.6L1125.8 181.5L1129.8 180.6L1133.8 179.7L1137.8 178.9L1141.8 178.1L1145.8 177.4L1149.8 176.8L1153.8 176.2L1157.8 175.6L1161.8 175.0L1165.8 174.5L1169.8 173.9L1173.8 173.4L1177.8 172.9L1181.8 172.3L1185.8 171.8L1189.7 171.3L1193.7 170.8L1197.7 170.3L1201.7 169.9L1205.6 169.5L1209.6 169.0L1213.6 168.6L1217.6 168.2L1221.6 167.8L1225.5 167.5L1229.5 167.1L1233.5 166.7L1237.5 166.4L1241.5 166.0L1245.5 165.7L1249.5 165.4L1253.5 165.1L1257.5 164.7L1261.5 164.5L1265.5 164.2L1269.5 163.9L1273.5 163.6L1277.5 163.4L1281.5 163.2L1285.5 162.9L1289.5 162.7L1293.5 162.5L1297.5 162.3L1301.5 162.2L1305.5 162.0L1309.5 161.9L1313.5 161.7L1317.5 161.6L1321.5 161.4L1325.5 161.3L1329.5 161.2L1333.5 161.1L1337.5 160.9L1341.5 160.8L1345.6 160.7L1349.6 160.6L1353.6 160.5L1357.6 160.3L1361.6 160.2L1365.6 160.2L1369.7 160.1L1373.7 160.0L1377.7 159.9L1381.7 159.8L1385.8 159.7L1389.8 159.7L1393.9 159.6L1397.9 159.6L1402.0 159.5L1406.0 159.5L1410.1 159.4L1414.2 159.4L1418.2 159.4L1422.3 159.3L1426.3 159.3L1430.3 159.3L1432.3 159.3" stroke-dasharray="12 11.5"/>
<path d="M1484.9 158.8L1489.0 158.7L1493.0 158.6L1497.0 158.5L1501.0 158.4L1505.0 158.3L1509.0 158.2L1513.1 158.0L1517.1 157.9L1521.1 157.8L1525.1 157.6L1529.2 157.5L1533.2 157.4L1537.2 157.2L1539.2 157.2" stroke-dasharray="12 11.5"/>
<path d="M1085.9 233.5L1089.5 234.4L1093.1 235.3L1096.9 236.2L1100.8 237.1L1104.8 237.9L1108.9 238.8L1113.1 239.7L1117.3 240.5L1121.5 241.3L1125.7 242.1L1129.6 242.8L1133.4 243.5L1137.3 244.1L1141.3 244.8L1145.3 245.4L1149.3 246.0L1153.4 246.7L1157.5 247.3L1161.5 247.8L1165.6 248.4L1169.7 248.9L1173.8 249.5L1177.8 250.0L1181.8 250.4L1185.9 250.9L1190.0 251.3L1194.0 251.8L1198.1 252.2L1202.1 252.5L1206.2 252.9L1210.2 253.2L1214.3 253.6L1218.3 253.9L1222.4 254.2L1226.5 254.5L1230.5 254.8L1234.5 255.0L1238.5 255.3L1242.5 255.5L1246.5 255.7L1250.5 255.9L1254.5 256.1L1258.5 256.3L1262.5 256.4L1266.5 256.6L1270.5 256.7L1274.5 256.8L1278.5 257.0L1282.5 257.1L1286.5 257.2L1290.5 257.3L1294.5 257.4L1298.5 257.5L1302.5 257.6L1306.5 257.6L1310.5 257.7L1314.5 257.7L1318.5 257.8L1322.5 257.8L1326.5 257.8L1330.5 257.9L1334.5 257.9L1338.5 257.9L1342.5 257.9L1346.6 257.9L1350.6 257.9L1354.6 257.9L1358.6 257.8L1362.6 257.8L1366.6 257.8L1370.7 257.8L1374.7 257.7L1378.7 257.7L1382.8 257.7L1386.8 257.6L1390.8 257.6L1394.9 257.6L1398.9 257.5L1403.0 257.5L1407.0 257.4L1411.1 257.4L1415.2 257.4L1419.2 257.3L1423.3 257.3L1427.3 257.2L1431.3 257.2L1435.3 257.1L1439.3 257.1L1443.4 257.1L1447.5 257.0L1451.6 257.0L1455.6 257.0L1459.7 256.9L1463.7 256.9" stroke-dasharray="12 11.5"/>
<path d="M1516.1 256.0L1520.1 255.9L1524.1 255.7L1528.2 255.6L1532.2 255.5L1536.2 255.4L1539.2 255.3" stroke-dasharray="12 11.5"/>
<path d="M918.5 202.5L921.5 205.5L924.6 208.4L927.6 211.4L930.3 214.2L932.5 217.1L935.4 220.0L939.5 222.3L942.7 223.6L946.6 224.9L950.7 226.1L955.1 227.3L959.3 228.4L963.4 229.5L967.2 230.7L971.4 232.0L975.3 233.2L979.1 234.4L982.9 235.5L986.9 236.6L990.7 237.5L994.6 238.3L998.5 239.1L1002.6 239.9L1006.9 240.8L1011.2 241.7L1013.9 242.3" stroke-dasharray="12 11.5"/>
<path d="M1066.6 253.6L1071.4 254.5L1075.2 255.2L1078.7 255.8L1082.4 256.4L1086.2 257.0L1090.2 257.7L1094.3 258.4L1098.5 259.0L1102.8 259.7L1107.0 260.3L1111.3 261.0L1115.5 261.6L1119.7 262.1L1123.8 262.7L1127.8 263.2L1131.9 263.7L1135.9 264.2L1139.9 264.6L1143.9 265.1L1147.9 265.5L1151.9 265.9L1155.9 266.3L1159.9 266.7L1163.9 267.0L1167.8 267.4L1171.8 267.7L1175.8 268.0L1179.8 268.4L1183.9 268.7L1187.9 269.0L1192.0 269.2L1196.0 269.5L1200.1 269.8L1204.1 270.0L1208.2 270.2L1212.3 270.5L1216.3 270.7L1220.4 270.9L1224.4 271.1L1228.5 271.3L1232.5 271.5L1236.5 271.7L1240.5 271.9L1244.5 272.1L1248.5 272.2L1252.5 272.4L1256.5 272.6L1260.5 272.7L1264.5 272.9L1268.5 273.0L1272.5 273.2L1276.5 273.3L1280.5 273.4L1284.5 273.5L1288.5 273.7L1292.5 273.8L1296.5 273.8L1300.5 273.9L1304.5 274.0L1308.5 274.1L1312.5 274.2L1316.5 274.2L1320.5 274.3L1324.5 274.4L1328.5 274.4L1332.5 274.5L1336.5 274.5L1340.5 274.6L1344.5 274.7L1348.6 274.7L1352.6 274.8L1356.6 274.8L1360.6 274.8L1364.6 274.9L1368.7 274.9L1372.7 275.0L1376.7 275.0L1380.7 275.0L1384.8 275.0L1388.8 275.0L1392.5 275.1L1396.1 275.1L1399.6 275.1L1403.0 275.1L1406.4 275.1L1409.9 275.1L1413.6 275.1L1417.5 275.1L1421.6 275.1L1426.1 275.1L1431.0 275.1L1436.4 275.0L1440.8 275.0L1444.1 275.0L1447.4 275.0L1450.9 275.0" stroke-dasharray="12 11.5"/>
<path d="M1504.0 274.7L1508.3 274.7L1512.7 274.7L1517.0 274.6L1521.3 274.6L1525.6 274.6L1529.9 274.6L1534.0 274.6L1538.2 274.5L1539.2 274.5" stroke-dasharray="12 11.5"/>
<path d="M918.5 244.9L922.6 245.6L926.7 246.2L930.8 246.9L935.0 247.6L939.1 248.2L943.3 248.9L947.4 249.6L951.5 250.2L955.5 250.9L959.4 251.6L963.3 252.3L967.0 253.0L970.5 253.7L975.1 254.7L979.4 255.7L983.6 256.8L987.6 257.9L991.5 258.9L995.3 260.0L999.1 261.0L1002.7 262.0L1006.3 262.9L1010.1 263.9L1014.4 264.9L1015.4 265.1" stroke-dasharray="12 11.5"/>
<path d="M1067.6 274.4L1072.3 275.0L1076.5 275.5L1080.0 275.9L1083.7 276.3L1087.5 276.7L1091.5 277.2L1095.6 277.6L1099.7 278.0L1103.9 278.4L1108.1 278.8L1112.3 279.2L1116.5 279.6L1120.7 280.0L1124.8 280.3L1128.8 280.7L1132.8 281.0L1136.8 281.3L1140.8 281.7L1144.8 282.0L1148.8 282.3L1152.8 282.6L1156.8 282.9L1160.8 283.2L1164.8 283.4L1168.8 283.7L1172.8 284.0L1176.8 284.3L1180.8 284.5L1184.9 284.8L1188.9 285.1L1193.0 285.3L1197.0 285.6L1201.1 285.9L1205.2 286.1L1209.2 286.3L1213.3 286.6L1217.3 286.8L1221.4 287.0L1225.4 287.3L1229.5 287.5L1233.5 287.7L1237.5 287.9L1241.5 288.0L1245.5 288.2L1249.5 288.4L1253.5 288.6L1257.5 288.7L1261.5 288.9L1265.5 289.0L1269.5 289.2L1273.5 289.3L1277.5 289.4L1281.5 289.6L1285.5 289.7L1289.5 289.8L1293.5 289.9L1297.5 290.0L1301.5 290.2L1305.5 290.3L1309.5 290.4L1313.5 290.5L1317.5 290.5L1321.5 290.6L1325.5 290.7L1329.5 290.8L1333.5 290.9L1337.5 291.0L1341.5 291.0L1345.6 291.1L1349.6 291.2L1353.6 291.2L1357.6 291.3L1361.6 291.4L1365.6 291.4L1369.7 291.5L1373.7 291.5L1377.7 291.6L1381.7 291.6L1385.8 291.7L1389.7 291.7L1393.4 291.8L1397.0 291.8L1400.4 291.9L1403.9 291.9L1407.3 292.0L1410.8 292.0L1414.5 292.0L1418.5 292.1L1422.7 292.1L1427.3 292.1L1432.3 292.2L1437.8 292.2L1441.6 292.2L1444.9 292.2L1448.3 292.2L1451.8 292.2L1453.6 292.2" stroke-dasharray="12 11.5"/>
<path d="M1506.1 292.2L1510.5 292.2L1514.9 292.2L1519.2 292.2L1523.5 292.2L1527.7 292.2L1532.0 292.2L1536.1 292.2L1539.2 292.2" stroke-dasharray="12 11.5"/>
<path d="M918.5 255.8L922.4 256.8L926.4 257.7L930.3 258.7L934.2 259.7L938.1 260.7L942.1 261.7L946.0 262.7L949.9 263.6L953.8 264.6L957.8 265.5L961.7 266.4L965.6 267.3L969.5 268.1L973.5 268.9L977.5 269.6L981.5 270.4L985.5 271.1L989.5 271.7L993.5 272.4L997.5 273.0L1001.5 273.6L1005.5 274.2L1009.5 274.8L1013.5 275.4L1017.5 275.9L1021.5 276.5L1025.5 277.0L1029.5 277.5L1033.6 278.0L1037.6 278.5L1041.6 278.9L1045.6 279.3L1049.7 279.8L1053.7 280.2L1057.7 280.6L1061.7 281.0L1065.7 281.4L1069.8 281.8L1073.8 282.2L1077.8 282.6L1081.8 283.1L1085.8 283.5L1089.8 283.9L1093.8 284.3L1097.8 284.7L1101.8 285.1L1105.8 285.5L1109.8 285.9L1113.8 286.3L1117.8 286.7L1121.8 287.1L1125.8 287.4L1129.8 287.8L1133.8 288.1L1137.8 288.5L1141.8 288.8L1145.8 289.1L1149.8 289.5L1153.8 289.8L1157.8 290.1L1161.8 290.4L1165.8 290.7L1169.8 291.0L1173.8 291.3L1177.8 291.6L1181.8 291.9L1185.9 292.2L1190.0 292.5L1194.0 292.8L1198.1 293.1L1202.1 293.4L1206.2 293.7L1210.2 294.0L1214.3 294.3L1218.3 294.5L1222.4 294.8L1226.5 295.1L1230.5 295.3L1234.5 295.6L1238.5 295.8L1242.5 296.1L1246.5 296.3L1250.5 296.5L1254.5 296.8L1258.5 297.0L1262.5 297.2L1266.5 297.4L1270.5 297.6L1274.5 297.8L1278.5 298.0L1282.5 298.2L1286.5 298.4L1290.5 298.5L1294.5 298.7L1298.5 298.8L1302.5 299.0L1306.5 299.1L1310.5 299.2L1314.5 299.4L1318.5 299.5L1322.5 299.6L1326.5 299.7L1330.5 299.9L1334.5 300.0L1338.5 300.1L1342.5 300.3L1346.6 300.4L1350.6 300.5L1354.6 300.6L1358.6 300.8L1362.6 300.9L1366.6 301.0L1370.7 301.1L1374.7 301.2L1378.7 301.4L1382.8 301.5L1386.8 301.6L1390.8 301.7L1394.9 301.8L1398.9 301.8L1403.0 301.9L1407.0 302.0L1411.1 302.1L1415.2 302.2L1419.2 302.2L1423.3 302.3L1427.3 302.4L1431.3 302.5L1435.3 302.5L1439.3 302.6L1443.4 302.7L1447.5 302.7L1451.6 302.8L1455.6 302.9L1459.7 302.9L1463.7 303.0L1467.8 303.1L1471.8 303.1L1475.8 303.2L1479.9 303.2L1483.9 303.3L1488.0 303.4L1492.0 303.4L1496.0 303.5L1500.0 303.5L1504.0 303.5L1508.0 303.6L1512.1 303.6L1516.1 303.7L1520.1 303.7L1524.1 303.7L1528.2 303.8L1532.2 303.8L1536.2 303.9L1539.2 303.9" stroke-width="2.7"/>
<path d="M918.5 273.5L922.5 274.0L926.5 274.6L930.5 275.1L934.5 275.7L938.5 276.3L942.5 276.8L946.5 277.4L950.5 277.9L954.5 278.5L958.5 279.0L962.5 279.5L966.5 280.0L970.5 280.5L974.5 281.0L978.5 281.4L982.5 281.8L986.5 282.1L990.5 282.5L994.5 282.9L998.5 283.2L1002.5 283.6L1006.5 284.0L1010.5 284.4L1014.5 284.8L1016.5 285.0" stroke-dasharray="12 11.5"/>
<path d="M1069.8 292.8L1073.8 293.4L1077.8 293.9L1081.8 294.4L1085.8 294.9L1089.8 295.3L1093.8 295.8L1097.8 296.2L1101.8 296.7L1105.8 297.1L1109.8 297.5L1113.8 297.9L1117.8 298.3L1121.8 298.7L1125.8 299.1L1129.8 299.5L1133.8 299.9L1137.8 300.3L1141.8 300.7L1145.8 301.1L1149.8 301.4L1153.8 301.8L1157.8 302.2L1161.8 302.5L1165.8 302.8L1169.8 303.2L1173.8 303.5L1177.8 303.8L1181.8 304.1L1185.9 304.4L1190.0 304.7L1194.0 305.0L1198.1 305.3L1202.1 305.6L1206.2 305.8L1210.2 306.1L1214.3 306.3L1218.3 306.6L1222.4 306.8L1226.5 307.0L1230.5 307.3L1234.5 307.5L1238.5 307.7L1242.5 307.9L1246.5 308.2L1250.5 308.4L1254.5 308.6L1258.5 308.8L1262.5 309.0L1266.5 309.2L1270.5 309.3L1274.5 309.5L1278.5 309.7L1282.5 309.9L1286.5 310.0L1290.5 310.2L1294.5 310.4L1298.5 310.5L1302.5 310.7L1306.5 310.8L1310.5 311.0L1314.5 311.1L1318.5 311.2L1322.5 311.3L1326.5 311.5L1330.5 311.6L1334.5 311.7L1338.5 311.8L1342.5 311.9L1346.6 312.0L1350.6 312.1L1354.6 312.2L1358.6 312.3L1362.6 312.3L1366.6 312.4L1370.7 312.5L1374.7 312.6L1378.7 312.6L1382.8 312.7L1386.8 312.7L1390.7 312.8L1394.4 312.9L1397.9 312.9L1401.3 312.9L1404.7 313.0L1408.2 313.0L1411.7 313.1L1415.5 313.1L1419.5 313.1L1423.8 313.2L1428.5 313.2L1433.6 313.2L1439.3 313.3L1442.4 313.3L1445.7 313.3L1449.1 313.3L1452.7 313.3L1455.4 313.3" stroke-dasharray="12 11.5"/>
<path d="M1508.3 313.4L1512.7 313.5L1517.0 313.5L1521.3 313.5L1525.6 313.5L1529.9 313.5L1534.0 313.5L1538.2 313.5L1539.2 313.5" stroke-dasharray="12 11.5"/>
<path d="M1162.4 224.6L1166.1 223.4L1169.8 222.2L1173.3 221.0L1177.0 219.8L1180.7 218.6L1184.6 217.4L1188.8 216.1L1192.7 215.0L1196.3 214.0L1200.0 212.9L1203.9 211.9L1207.8 210.8L1211.9 209.7L1215.9 208.6L1220.0 207.5L1224.1 206.5L1228.0 205.6L1232.0 204.6L1236.1 203.7L1240.3 202.8L1244.5 201.9L1248.7 201.1L1252.9 200.3L1257.0 199.5L1260.9 198.7L1264.6 198.1L1268.2 197.4L1269.0 197.3" stroke-dasharray="12 11.5"/>
<path d="M1321.7 191.1L1326.0 190.8L1330.5 190.5L1334.9 190.2L1338.5 190.1L1342.2 189.9L1346.1 189.8L1350.0 189.7L1354.1 189.6L1358.2 189.5L1362.3 189.4L1366.4 189.4L1370.6 189.3L1374.8 189.3L1378.9 189.4L1383.0 189.4L1387.0 189.5L1391.0 189.6L1395.0 189.8L1399.0 190.0L1403.0 190.2L1407.0 190.4L1411.0 190.6L1415.0 190.9L1419.0 191.2L1423.0 191.5L1427.0 191.9L1431.0 192.2L1435.0 192.6L1439.0 193.0L1443.0 193.4L1447.0 193.9L1451.0 194.4L1455.0 194.9L1459.0 195.5L1463.0 196.1L1467.1 196.6L1471.1 197.2L1475.1 197.8L1479.1 198.4L1483.0 199.0L1487.0 199.5L1491.0 200.0L1495.1 200.6L1499.1 201.1L1503.1 201.6L1507.1 202.1L1511.1 202.6L1515.2 203.1L1519.2 203.6L1523.2 204.1L1527.2 204.6L1531.2 205.1L1535.2 205.6L1539.2 206.1" stroke-dasharray="12 11.5"/>
<path d="M1162.4 224.6L1166.3 225.2L1169.9 225.7L1173.4 226.3L1177.1 226.8L1181.1 227.4L1185.7 227.9L1191.0 228.5L1194.2 228.8L1197.7 229.1L1201.4 229.4L1205.3 229.8L1209.3 230.1L1213.4 230.4L1217.7 230.7L1221.9 231.1L1226.2 231.4L1230.5 231.6L1234.8 231.9L1238.9 232.2L1243.0 232.4L1247.0 232.6L1251.0 232.8L1255.0 233.0L1259.0 233.2L1263.0 233.3L1267.0 233.5L1271.0 233.6L1275.0 233.7L1279.0 233.9L1283.0 234.0L1287.0 234.1L1291.0 234.1L1295.0 234.2L1299.0 234.3L1303.0 234.3L1307.0 234.4L1311.0 234.4L1315.0 234.4L1319.0 234.4L1323.0 234.4L1327.0 234.4L1331.0 234.4L1335.0 234.3L1339.0 234.3L1343.0 234.3L1347.0 234.2L1351.0 234.2L1355.0 234.1L1359.0 234.0L1363.0 233.9L1367.0 233.8L1371.0 233.7L1375.0 233.6L1379.0 233.5L1383.0 233.4L1387.0 233.3L1391.0 233.2L1395.0 233.0L1399.0 232.9L1403.0 232.8L1407.0 232.7L1411.0 232.6L1415.0 232.4L1419.0 232.3L1423.0 232.2L1426.0 232.1" stroke-dasharray="12 11.5"/>
<path d="M1478.9 229.7L1483.0 229.5L1487.0 229.3L1491.0 229.1L1494.8 228.9L1498.5 228.7L1502.1 228.5L1506.5 228.3L1510.9 228.1L1515.1 227.9L1519.1 227.7L1523.0 227.5L1526.8 227.4L1530.6 227.2L1534.4 227.0L1538.2 226.8L1539.2 226.8" stroke-dasharray="12 11.5"/>
<path d="M1108.8 529.5L1112.8 529.2L1116.8 528.9L1120.8 528.6L1124.8 528.3L1128.8 528.1L1132.8 527.8L1136.8 527.5L1140.8 527.2L1144.8 526.9L1148.8 526.6L1152.8 526.3L1156.8 526.0L1160.8 525.7L1164.8 525.4L1168.8 525.1L1172.8 524.8L1176.8 524.5L1180.8 524.1L1184.9 523.8L1188.9 523.5L1193.0 523.2L1194.0 523.1" stroke-dasharray="12 11.5"/>
<path d="M1246.5 519.5L1250.5 519.3L1254.5 519.1L1258.5 518.9L1262.5 518.7L1266.5 518.5L1270.5 518.3L1274.5 518.2L1278.5 518.0L1282.5 517.8L1286.5 517.6L1290.5 517.4L1294.5 517.3L1298.5 517.1L1302.5 516.9L1306.5 516.8L1310.5 516.6L1314.5 516.4L1318.5 516.3L1322.5 516.1L1326.5 516.0L1330.5 515.9L1334.5 515.7L1338.5 515.6L1342.5 515.5L1346.6 515.4L1350.6 515.3L1354.6 515.2L1358.6 515.1L1362.6 515.0L1366.6 514.9L1370.7 514.8L1374.7 514.7L1378.7 514.6L1382.8 514.5L1386.8 514.4L1390.8 514.3L1394.9 514.2L1398.9 514.2L1403.0 514.1L1407.0 514.0L1411.1 513.9L1415.2 513.8L1419.2 513.7L1423.3 513.7L1427.3 513.6L1431.3 513.5L1435.3 513.5L1439.3 513.4L1443.4 513.3L1447.5 513.2L1451.6 513.2L1455.6 513.1L1459.7 513.1L1463.7 513.0L1467.8 513.0L1471.8 512.9L1475.8 512.8L1479.9 512.8L1483.9 512.7L1488.0 512.6L1492.0 512.6L1496.0 512.5L1500.0 512.4L1504.0 512.3L1508.0 512.2L1512.1 512.1L1516.1 512.0L1520.1 511.9L1524.1 511.8L1528.2 511.6L1532.2 511.5L1536.2 511.4L1539.2 511.4" stroke-dasharray="12 11.5"/>
<path d="M1325.5 529.5L1329.5 529.4L1333.5 529.3L1337.5 529.2L1341.5 529.0L1345.6 528.9L1349.6 528.8L1353.6 528.7L1357.6 528.6L1361.6 528.5L1365.6 528.4L1369.7 528.3L1373.7 528.2L1377.7 528.1L1381.7 528.1L1385.8 528.0L1389.8 527.9L1393.9 527.8L1397.9 527.7L1402.0 527.6L1406.0 527.5L1410.1 527.5L1414.2 527.4L1418.2 527.3L1422.3 527.2L1426.3 527.2L1430.3 527.1L1434.3 527.0L1438.3 526.9L1442.4 526.8L1446.5 526.8L1450.6 526.7L1454.6 526.6L1458.7 526.5L1462.7 526.4L1466.7 526.3L1470.8 526.3L1474.8 526.2L1478.8 526.1L1482.9 526.0L1486.9 525.9L1491.0 525.8L1495.0 525.8L1499.0 525.7L1503.0 525.6L1507.0 525.5L1511.1 525.4L1515.1 525.4L1519.1 525.3L1523.1 525.2L1527.1 525.1L1531.2 525.0L1535.2 524.9L1539.2 524.9" stroke-width="2.7"/>
</g>
<g font-size="31px" fill="#000" text-anchor="middle">
<text transform="translate(976.5 126.1) rotate(-0.7)" y="10.7">10</text>
<text transform="translate(975.2 142.7) rotate(-1.0)" y="10.7">20</text>
<text transform="translate(975.7 172.1) rotate(-9.0)" y="10.7">30</text>
<text transform="translate(1415.1 105.8) rotate(-1.1)" y="10.7">10</text>
<text transform="translate(1414.6 127.6) rotate(-0.8)" y="10.7">20</text>
<text transform="translate(1413.3 142.7) rotate(-0.9)" y="10.7">30</text>
<text transform="translate(1458.8 160.5) rotate(-0.4)" y="10.7">40</text>
<text transform="translate(1295.0 193.9) rotate(-6.2)" y="10.7">50</text>
<text transform="translate(1452.3 231.1) rotate(-2.5)" y="10.7">50</text>
<text transform="translate(1061.4 224.8) rotate(38.0)" y="10.7">40</text>
<text transform="translate(1040.2 248.0) rotate(12.3)" y="10.7">30</text>
<text transform="translate(1041.5 270.3) rotate(10.1)" y="10.7">20</text>
<text transform="translate(1042.8 288.6) rotate(8.9)" y="10.7">10</text>
<text transform="translate(1490.0 256.6) rotate(-1.0)" y="10.7">40</text>
<text transform="translate(1477.0 274.9) rotate(-0.3)" y="10.7">30</text>
<text transform="translate(1479.6 292.2) rotate(-0.0)" y="10.7">20</text>
<text transform="translate(1482.2 313.4) rotate(0.1)" y="10.7">10</text>
<text transform="translate(1220.4 521.1) rotate(-4.1)" y="10.7">10</text>
</g>
<g fill="none" stroke="#000" stroke-width="3" clip-path="url(#cclip3)">
<path d="M1741.7 129.3L1745.3 129.1L1748.2 129.0L1751.1 128.8L1754.3 128.7L1758.4 128.5L1763.8 128.2L1769.7 128.0L1772.7 127.8L1775.9 127.7L1779.5 127.6L1783.2 127.4" stroke-dasharray="12 11.5" stroke-dashoffset="17.5"/>
<path d="M1835.3 125.4L1839.3 125.2L1843.0 125.0L1846.5 124.9L1851.4 124.7L1856.0 124.4L1860.4 124.2L1864.6 124.0L1868.6 123.8L1872.5 123.6L1876.3 123.4L1880.1 123.2L1883.8 123.0L1887.5 122.8L1891.3 122.6L1895.2 122.4L1899.2 122.2L1903.3 122.0L1907.3 121.8L1911.3 121.6L1915.4 121.4L1919.4 121.2L1923.4 121.0L1927.5 120.8L1931.5 120.6L1935.5 120.4L1939.6 120.2L1943.6 120.0L1947.7 119.8L1951.7 119.6L1955.7 119.4L1959.7 119.1L1963.7 118.9L1967.7 118.7L1971.8 118.5L1975.8 118.2L1979.8 118.0L1983.8 117.8L1987.9 117.6L1991.9 117.3L1995.9 117.1L1999.9 116.9L2004.0 116.7L2008.0 116.5L2012.0 116.3L2016.0 116.1L2020.1 116.0L2024.1 115.8L2028.1 115.6L2032.1 115.4L2036.1 115.3L2040.2 115.1L2044.2 114.9L2048.2 114.7L2052.2 114.6L2056.2 114.4L2060.2 114.2L2064.2 114.1L2068.2 113.9L2072.2 113.7L2076.2 113.6L2080.2 113.4L2084.2 113.3L2088.2 113.1L2092.2 113.0L2096.2 112.8L2100.2 112.6L2104.2 112.5L2108.2 112.3L2112.2 112.2L2116.3 112.0L2120.3 111.8L2124.3 111.7L2128.3 111.5L2132.4 111.3L2136.4 111.2L2140.4 111.0L2144.4 110.9L2148.4 110.7L2152.5 110.5L2156.5 110.4L2160.5 110.2L2164.5 110.1L2168.5 110.0L2172.5 109.8L2176.5 109.7L2180.5 109.5L2184.5 109.4L2188.5 109.3L2192.5 109.1L2196.5 109.0L2200.5 108.8L2204.5 108.7L2208.5 108.6L2212.5 108.4L2216.6 108.3L2220.6 108.2L2223.7 108.1" stroke-dasharray="12 11.5"/>
<path d="M2276.4 106.0L2280.4 105.9L2284.5 105.7L2288.6 105.5L2292.6 105.3L2296.7 105.0L2300.8 104.8L2304.9 104.6L2308.9 104.4L2313.0 104.2L2317.0 104.0L2321.1 103.7L2325.1 103.5L2329.2 103.3L2333.2 103.0L2337.2 102.8L2341.3 102.6L2345.3 102.3L2349.4 102.1L2353.4 101.8L2357.4 101.6L2361.5 101.3L2365.5 101.1L2367.5 101.0" stroke-dasharray="12 11.5" stroke-dashoffset="14.1"/>
<path d="M1741.7 138.4L1745.7 138.3L1749.7 138.1L1753.8 138.0L1757.8 137.9L1761.8 137.7L1765.8 137.6L1769.8 137.5L1773.8 137.4L1777.9 137.2L1781.9 137.1L1785.9 136.9L1789.9 136.8L1794.0 136.6L1798.0 136.4L1802.0 136.2L1806.1 136.0L1810.1 135.8L1814.2 135.5L1818.2 135.3L1822.3 135.1L1826.3 134.8L1830.4 134.6L1834.4 134.4L1838.4 134.1L1842.5 133.9L1846.5 133.7L1850.6 133.5L1854.6 133.3L1858.7 133.1L1862.8 132.9L1866.8 132.8L1870.9 132.6L1874.9 132.4L1879.0 132.2L1883.0 132.0L1887.1 131.9L1891.1 131.7L1895.2 131.5L1899.2 131.3L1903.3 131.2L1907.3 131.0L1911.3 130.8L1915.4 130.6L1919.4 130.5L1923.4 130.3L1927.5 130.1L1931.5 130.0L1935.5 129.8L1939.6 129.7L1943.6 129.5L1947.7 129.4L1951.7 129.2L1955.7 129.1L1959.7 129.0L1963.7 128.8L1967.7 128.7L1971.8 128.6L1975.8 128.5L1979.8 128.4L1983.8 128.2L1987.9 128.1L1991.9 128.0L1995.9 127.9L1999.9 127.8L2004.0 127.7L2008.0 127.6L2012.0 127.5L2016.0 127.4L2020.1 127.3L2024.1 127.2L2028.1 127.1L2032.1 127.0L2036.1 126.9L2040.2 126.8L2044.2 126.7L2048.2 126.6L2052.2 126.5L2056.2 126.4L2060.2 126.3L2064.2 126.2L2068.2 126.1L2072.2 126.0L2076.2 125.9L2080.2 125.8L2084.2 125.7L2088.2 125.6L2092.2 125.5L2096.2 125.4L2100.2 125.3L2104.2 125.2L2108.2 125.1L2112.2 125.0L2116.3 124.9L2120.3 124.8L2124.3 124.7L2128.3 124.6L2132.4 124.5L2136.4 124.4L2140.4 124.3L2144.4 124.2L2148.4 124.1L2152.5 124.0L2156.5 123.9L2160.5 123.8L2164.5 123.7L2168.5 123.6L2172.5 123.5L2176.5 123.3L2180.5 123.2L2184.5 123.1L2188.5 123.0L2192.5 122.9L2196.5 122.7L2200.5 122.6L2204.5 122.5L2208.5 122.3L2212.5 122.2L2216.6 122.1L2220.6 121.9L2224.7 121.8L2228.7 121.6L2232.8 121.5L2236.8 121.3L2240.9 121.2L2244.9 121.0L2249.0 120.8L2253.0 120.6L2257.1 120.4L2261.2 120.3L2265.2 120.0L2269.3 119.8L2273.3 119.6L2277.4 119.4L2281.4 119.2L2285.5 118.9L2289.6 118.7L2293.7 118.4L2297.7 118.2L2301.8 117.9L2305.9 117.7L2309.9 117.4L2314.0 117.1L2318.0 116.9L2322.1 116.6L2326.1 116.3L2330.2 116.0L2334.2 115.7L2338.2 115.4L2342.3 115.1L2346.3 114.8L2350.4 114.5L2354.4 114.2L2358.4 113.9L2362.5 113.6L2366.5 113.3L2367.5 113.2" stroke-width="2.7"/>
<path d="M1741.7 147.0L1745.7 146.8L1749.7 146.7L1753.8 146.5L1757.8 146.4L1761.8 146.2L1765.8 146.1L1769.8 145.9L1773.8 145.8L1777.9 145.6L1781.9 145.5" stroke-dasharray="12 11.5" stroke-dashoffset="17.5"/>
<path d="M1834.4 142.5L1838.4 142.2L1842.5 142.0L1846.5 141.8L1850.6 141.6L1854.6 141.3L1858.7 141.1L1862.8 140.9L1866.8 140.7L1870.9 140.5L1874.9 140.3L1879.0 140.1L1883.0 139.9L1887.1 139.7L1891.1 139.5L1895.2 139.3L1899.2 139.1L1903.3 138.9L1907.3 138.7L1911.3 138.6L1915.4 138.4L1919.4 138.2L1923.4 138.0L1927.5 137.8L1931.5 137.6L1935.5 137.5L1939.6 137.3L1943.6 137.1L1947.7 136.9L1951.7 136.8L1955.7 136.6L1959.7 136.4L1963.7 136.2L1967.7 136.1L1971.8 135.9L1975.8 135.8L1979.8 135.6L1983.8 135.4L1987.9 135.3L1991.9 135.1L1995.9 135.0L1999.9 134.8L2004.0 134.7L2008.0 134.6L2012.0 134.4L2016.0 134.3L2020.1 134.2L2024.1 134.0L2028.1 133.9L2032.1 133.8L2036.1 133.7L2040.2 133.6L2044.2 133.5L2048.2 133.4L2052.2 133.3L2056.2 133.1L2060.2 133.0L2064.2 132.9L2068.2 132.8L2072.2 132.7L2076.2 132.6L2080.2 132.5L2084.2 132.4L2088.2 132.3L2092.2 132.2L2096.2 132.1L2100.2 132.0L2104.2 131.9L2108.2 131.8L2112.2 131.7L2116.3 131.6L2120.3 131.5L2124.3 131.4L2128.3 131.3L2132.4 131.2L2136.4 131.1L2140.4 131.0L2144.4 131.0L2148.4 130.8L2152.5 130.8L2156.5 130.7L2160.5 130.5L2164.5 130.4L2168.5 130.3L2172.5 130.2L2176.5 130.2L2180.5 130.1L2184.5 129.9L2188.5 129.8L2192.5 129.8L2196.5 129.7L2200.5 129.5L2204.5 129.4L2208.5 129.3L2212.5 129.2L2216.6 129.2L2220.6 129.1L2222.6 129.0" stroke-dasharray="12 11.5"/>
<path d="M2275.3 127.6L2279.4 127.4L2283.5 127.3L2287.5 127.2L2291.6 127.0L2295.7 126.9L2299.8 126.7L2303.8 126.6L2307.9 126.4L2312.0 126.3L2316.0 126.1L2320.1 126.0L2324.1 125.9L2328.1 125.7L2332.2 125.6L2336.2 125.4L2340.3 125.3L2344.3 125.2L2348.3 125.0L2352.4 124.9L2356.4 124.7L2360.5 124.6L2364.5 124.5L2367.5 124.4" stroke-dasharray="12 11.5" stroke-dashoffset="13.0"/>
<path d="M1741.7 187.8L1745.6 184.7L1748.2 183.7L1751.4 182.6L1755.2 181.3L1759.4 180.0L1764.0 178.7L1769.0 177.4L1772.4 176.6L1776.0 175.9L1779.8 175.1" stroke-dasharray="12 11.5" stroke-dashoffset="17.5"/>
<path d="M1833.6 164.5L1837.7 163.7L1842.0 163.0L1846.5 162.3L1850.1 161.8L1853.8 161.4L1857.6 160.9L1861.5 160.5L1865.5 160.1L1869.6 159.7L1873.7 159.3L1877.8 158.9L1881.9 158.5L1886.1 158.2L1890.2 157.8L1894.2 157.5L1898.2 157.1L1902.3 156.8L1906.3 156.5L1910.3 156.2L1914.4 155.9L1918.4 155.6L1922.4 155.3L1926.4 155.0L1930.5 154.7L1934.5 154.5L1938.5 154.2L1942.6 154.0L1946.7 153.7L1950.7 153.4L1954.7 153.1L1958.7 152.9L1962.7 152.6L1966.7 152.3L1970.7 152.0L1974.8 151.8L1978.8 151.5L1982.8 151.2L1986.9 151.0L1990.9 150.7L1994.9 150.5L1998.9 150.3L2003.0 150.0L2007.0 149.8L2011.0 149.7L2015.0 149.5L2019.1 149.3L2023.1 149.2L2027.1 149.0L2031.1 148.9L2035.1 148.7L2039.2 148.6L2043.2 148.4L2047.2 148.3L2051.2 148.1L2055.2 148.0L2059.2 147.8L2063.2 147.7L2067.2 147.5L2071.2 147.4L2075.2 147.3L2079.2 147.1L2083.2 147.0L2087.2 146.8L2091.2 146.7L2095.2 146.6L2099.2 146.4L2103.2 146.3L2107.2 146.2L2111.2 146.0L2115.3 145.9L2119.3 145.8L2123.3 145.7L2127.3 145.5L2131.3 145.4L2135.4 145.3L2139.4 145.2L2143.4 145.0L2147.4 144.9L2151.5 144.8L2155.5 144.7L2159.5 144.6L2163.5 144.5L2167.5 144.4L2171.5 144.3L2175.5 144.3L2179.5 144.2L2183.5 144.1L2187.5 144.0L2191.5 144.0L2195.5 143.9L2199.5 143.8L2203.5 143.7L2207.5 143.7L2211.5 143.6L2215.6 143.5L2219.6 143.4" stroke-dasharray="12 11.5"/>
<path d="M2272.3 142.0L2276.4 141.8L2280.4 141.7L2284.5 141.6L2288.6 141.4L2292.6 141.3L2296.7 141.1L2300.8 141.0L2304.9 140.8L2308.9 140.7L2313.0 140.6L2317.0 140.4L2321.1 140.3L2325.1 140.1L2329.2 140.0L2333.2 139.9L2337.2 139.7L2341.3 139.6L2345.3 139.4L2349.4 139.3L2353.4 139.1L2357.4 139.0L2361.5 138.9L2365.5 138.7L2367.5 138.7" stroke-dasharray="12 11.5" stroke-dashoffset="10.0"/>
<path d="M1862.6 222.9L1865.3 220.0L1867.8 217.2L1870.5 214.3L1873.7 211.4L1876.9 208.9L1879.6 206.8L1882.3 204.8L1885.3 202.6L1888.8 200.5L1892.8 198.3L1897.7 196.2L1901.2 194.7L1904.3 193.5L1907.7 192.3L1911.3 191.1L1915.1 189.8L1919.0 188.5L1923.1 187.2L1927.2 186.0L1931.3 184.8L1935.5 183.6L1939.6 182.5L1943.7 181.4L1947.7 180.5L1951.7 179.6L1955.7 178.7L1959.7 178.0L1963.7 177.3L1967.7 176.6L1971.7 176.0L1975.7 175.5L1979.8 174.9L1983.8 174.4L1987.8 173.9L1991.9 173.4L1995.9 172.9L1999.9 172.4L2004.0 172.0L2008.0 171.5L2012.0 171.0L2016.0 170.6L2020.1 170.1L2024.1 169.7L2028.1 169.3L2032.1 168.9L2036.1 168.5L2040.2 168.2L2044.2 167.8L2048.2 167.5L2052.2 167.2L2056.2 166.8L2060.2 166.5L2064.2 166.3L2068.2 166.0L2072.2 165.7L2076.2 165.5L2080.2 165.2L2084.2 165.0L2088.2 164.8L2092.2 164.6L2096.2 164.4L2100.2 164.2L2104.2 164.0L2108.2 163.8L2112.2 163.6L2116.3 163.4L2120.3 163.2L2124.3 163.1L2128.3 162.9L2132.4 162.8L2136.4 162.6L2140.4 162.5L2144.4 162.3L2148.4 162.2L2152.5 162.0L2156.5 161.9L2160.5 161.7L2164.5 161.6L2168.5 161.4L2172.5 161.3L2176.5 161.2L2180.5 161.0L2184.5 160.9L2188.5 160.8L2192.5 160.6L2196.5 160.5L2200.5 160.3L2204.5 160.2L2208.5 160.1L2212.5 159.9L2213.5 159.9" stroke-dasharray="12 11.5"/>
<path d="M2266.2 157.7L2270.3 157.5L2274.3 157.3L2278.4 157.1L2282.5 156.9L2286.5 156.7L2290.6 156.5L2294.7 156.3L2298.7 156.1L2302.8 155.9L2306.9 155.7L2310.9 155.5L2315.0 155.3L2319.0 155.1L2323.1 155.0L2327.1 154.8L2331.2 154.6L2335.2 154.5L2339.3 154.3L2343.3 154.2L2347.3 154.0L2351.4 153.8L2355.4 153.7L2359.4 153.5L2363.5 153.4L2367.5 153.2" stroke-dasharray="12 11.5" stroke-dashoffset="3.9"/>
<path d="M1862.6 223.3L1865.2 223.7L1869.5 224.6L1873.7 225.6L1876.9 226.4L1880.6 227.3" stroke-dasharray="12 11.5"/>
<path d="M1932.6 239.2L1936.9 240.0L1940.8 240.7L1944.7 241.4L1948.8 242.1L1953.1 242.8L1957.4 243.5L1961.6 244.2L1965.8 244.9L1969.8 245.5L1973.5 246.1L1977.0 246.7L1981.5 247.5L1985.1 248.2L1988.3 248.9L1991.5 249.6L1995.4 250.2L2000.5 250.9L2004.3 251.4L2007.6 251.8L2011.2 252.2L2015.0 252.6L2019.1 253.0L2023.2 253.5L2027.5 253.9L2031.8 254.3L2036.2 254.7L2040.5 255.1L2044.9 255.5L2049.1 255.9L2053.2 256.2L2057.2 256.6L2061.2 256.9L2065.2 257.2L2069.2 257.5L2073.2 257.7L2077.2 258.0L2081.2 258.2L2085.2 258.5L2089.2 258.7L2093.2 259.0L2097.2 259.2L2101.2 259.4L2105.2 259.6L2109.2 259.9L2113.2 260.1L2117.3 260.3L2121.3 260.5L2125.3 260.7L2129.3 260.9L2133.4 261.1L2137.4 261.3L2141.4 261.5L2145.4 261.7L2149.4 261.9L2153.5 262.1L2157.5 262.3L2161.5 262.4L2165.5 262.6L2169.5 262.7L2173.5 262.9L2177.5 263.0L2181.5 263.2L2185.5 263.3L2189.5 263.4L2193.5 263.6L2197.5 263.7L2201.5 263.8L2205.5 264.0L2209.5 264.1L2213.5 264.2L2217.6 264.3L2221.6 264.5L2225.7 264.6L2229.7 264.7L2233.8 264.9L2237.8 265.0L2241.9 265.1L2245.9 265.2L2250.0 265.3L2254.0 265.5L2258.1 265.6L2262.2 265.7L2266.2 265.8L2270.3 265.9L2274.3 266.0L2278.4 266.1L2282.5 266.2L2286.5 266.3L2290.6 266.4L2294.7 266.5L2298.7 266.6L2302.8 266.7L2306.9 266.8L2310.9 266.9L2315.0 267.0L2318.0 267.1" stroke-dasharray="12 11.5"/>
<path d="M1741.7 198.6L1742.8 202.7L1743.8 206.8L1745.2 210.7L1747.0 214.3L1749.1 217.6L1751.7 220.6L1754.9 223.0L1758.2 224.7L1762.0 226.2L1766.5 227.7L1770.7 229.0L1774.3 230.0L1778.2 231.1L1782.4 232.1L1786.7 233.1L1790.9 234.1L1795.0 235.0L1799.0 235.9L1803.0 236.7L1807.0 237.5L1811.0 238.3L1815.0 239.0L1819.0 239.8L1823.0 240.6L1827.0 241.4L1831.0 242.3L1835.0 243.1L1839.0 243.9L1843.0 244.7L1847.0 245.4L1850.9 246.0L1854.8 246.6L1858.7 247.1L1862.6 247.7L1866.6 248.2L1870.8 248.9L1874.9 249.6L1877.7 250.2" stroke-dasharray="12 11.5"/>
<path d="M1931.4 261.3L1936.6 262.1L1940.4 262.6L1943.7 263.1L1947.4 263.6L1951.2 264.1L1955.1 264.6L1959.2 265.1L1963.5 265.6L1967.7 266.2L1972.1 266.7L1976.4 267.2L1980.7 267.7L1985.0 268.2L1989.2 268.7L1993.3 269.1L1997.3 269.6L2001.0 270.0L2005.3 270.5L2009.6 270.9L2013.8 271.4L2017.9 271.8L2021.9 272.3L2025.9 272.7L2029.8 273.1L2033.7 273.5L2037.6 273.8L2041.4 274.2L2045.3 274.5L2049.3 274.9L2053.2 275.2L2057.2 275.5L2061.2 275.9L2065.2 276.1L2069.2 276.4L2073.2 276.7L2077.2 277.0L2081.2 277.2L2085.2 277.5L2089.2 277.7L2093.2 277.9L2097.2 278.2L2101.2 278.4L2105.2 278.6L2109.2 278.9L2113.2 279.1L2117.3 279.3L2121.3 279.5L2125.3 279.7L2129.3 279.9L2133.4 280.1L2137.4 280.3L2141.4 280.5L2145.4 280.7L2149.4 280.9L2153.5 281.1L2157.5 281.2L2161.5 281.4L2165.5 281.6L2169.5 281.7L2173.5 281.9L2177.5 282.0L2181.5 282.2L2185.5 282.3L2189.5 282.4L2193.5 282.6L2197.5 282.7L2201.5 282.8L2205.5 282.9L2209.5 283.1L2213.5 283.2L2217.6 283.3L2221.6 283.4L2225.7 283.5L2229.7 283.6L2233.8 283.8L2237.8 283.9L2241.9 284.0L2245.9 284.0L2250.0 284.1L2254.0 284.2L2258.1 284.3L2262.2 284.4L2266.2 284.5L2270.3 284.5L2274.3 284.6L2278.4 284.7L2282.5 284.7L2286.5 284.8L2290.6 284.8L2294.7 284.9L2298.7 285.0L2302.8 285.0L2306.9 285.1L2310.9 285.1L2315.0 285.2L2317.0 285.2" stroke-dasharray="12 11.5"/>
<path d="M1741.7 245.4L1745.6 246.3L1749.5 247.3L1753.5 248.3L1757.4 249.2L1761.3 250.1L1765.2 251.0L1769.0 251.9L1773.1 252.8L1777.1 253.6L1781.1 254.4L1785.1 255.2L1789.0 255.9L1793.0 256.7L1797.0 257.5L1801.0 258.3L1805.0 259.1L1809.0 260.0L1813.0 260.8L1817.0 261.5L1821.0 262.3L1825.0 263.0L1829.0 263.8L1833.0 264.5L1837.0 265.1L1841.0 265.8L1845.0 266.4L1849.0 267.0L1852.8 267.5L1856.5 268.0L1860.3 268.5L1864.2 269.0L1868.4 269.5L1873.0 270.1L1876.6 270.6L1880.5 271.2L1882.6 271.4" stroke-dasharray="12 11.5"/>
<path d="M1936.4 279.0L1940.3 279.5L1943.5 279.9L1947.1 280.3L1950.8 280.7L1954.8 281.2L1958.9 281.7L1963.1 282.2L1967.4 282.7L1971.8 283.2L1976.2 283.6L1980.6 284.1L1984.9 284.6L1989.1 285.1L1993.3 285.5L1997.3 286.0L2001.0 286.4L2005.3 286.8L2009.6 287.3L2013.8 287.7L2017.9 288.1L2021.9 288.5L2025.9 288.9L2029.8 289.3L2033.7 289.6L2037.6 290.0L2041.4 290.3L2045.3 290.7L2049.3 291.0L2053.2 291.3L2057.2 291.7L2061.2 292.0L2065.2 292.3L2069.2 292.6L2073.2 292.9L2077.2 293.2L2081.2 293.4L2085.2 293.7L2089.2 294.0L2093.2 294.2L2097.2 294.5L2101.2 294.7L2105.2 295.0L2109.2 295.2L2113.2 295.5L2117.3 295.7L2121.3 296.0L2125.3 296.2L2129.3 296.4L2133.4 296.6L2137.4 296.9L2141.4 297.1L2145.4 297.3L2149.4 297.5L2153.5 297.7L2157.5 297.9L2161.5 298.1L2165.5 298.2L2169.5 298.4L2173.5 298.6L2177.5 298.8L2181.5 298.9L2185.5 299.1L2189.5 299.3L2193.5 299.4L2197.5 299.6L2201.5 299.7L2205.5 299.8L2209.5 300.0L2213.5 300.1L2217.6 300.2L2221.6 300.3L2225.7 300.5L2229.7 300.6L2233.8 300.7L2237.8 300.8L2241.9 300.9L2245.9 301.0L2250.0 301.0L2254.0 301.1L2258.1 301.2L2262.2 301.3L2266.2 301.4L2270.3 301.5L2274.3 301.5L2278.4 301.6L2282.5 301.6L2286.5 301.7L2290.6 301.8L2294.7 301.8L2298.7 301.9L2302.8 301.9L2306.9 302.0L2310.9 302.0L2315.0 302.1L2319.0 302.1L2322.1 302.2" stroke-dasharray="12 11.5"/>
<path d="M1741.7 255.8L1745.6 257.0L1749.5 258.2L1753.5 259.5L1757.4 260.7L1761.3 261.9L1765.2 263.1L1769.0 264.1L1773.1 265.2L1777.1 266.2L1781.1 267.2L1785.1 268.1L1789.0 268.9L1793.0 269.7L1797.0 270.5L1801.0 271.1L1805.0 271.8L1809.0 272.3L1813.0 272.9L1817.0 273.4L1821.0 274.0L1825.0 274.6L1829.0 275.2L1833.0 275.8L1837.0 276.4L1841.0 277.0L1845.0 277.6L1849.0 278.2L1853.0 278.7L1857.0 279.2L1861.0 279.8L1865.0 280.3L1869.0 280.8L1873.0 281.3L1876.9 281.8L1880.6 282.2L1884.3 282.7L1888.1 283.2L1892.1 283.6L1896.6 284.1L1900.7 284.6L1904.3 285.0L1908.1 285.3L1912.0 285.7L1916.1 286.1L1920.3 286.6L1924.5 287.0L1928.7 287.4L1932.9 287.8L1937.0 288.2L1941.0 288.6L1945.2 289.0L1949.4 289.4L1953.6 289.8L1957.9 290.2L1962.0 290.7L1966.0 291.1L1969.9 291.5L1973.6 291.8L1977.0 292.2L1981.5 292.7L1985.1 293.2L1988.3 293.7L1991.5 294.1L1995.4 294.6L2000.5 295.2L2004.3 295.6L2007.6 295.9L2011.2 296.2L2015.0 296.6L2019.1 297.0L2023.2 297.4L2027.5 297.7L2031.8 298.1L2036.2 298.5L2040.5 298.9L2044.9 299.2L2049.1 299.6L2053.2 299.9L2057.2 300.2L2061.2 300.5L2065.2 300.8L2069.2 301.1L2073.2 301.4L2077.2 301.6L2081.2 301.9L2085.2 302.1L2089.2 302.4L2093.2 302.6L2097.2 302.9L2101.2 303.1L2105.2 303.3L2109.2 303.6L2113.2 303.8L2117.3 304.0L2121.3 304.2L2125.3 304.4L2129.3 304.6L2133.4 304.8L2137.4 305.0L2141.4 305.2L2145.4 305.4L2149.4 305.6L2153.5 305.8L2157.5 305.9L2161.5 306.1L2165.5 306.3L2169.5 306.5L2173.5 306.6L2177.5 306.8L2181.5 306.9L2185.5 307.1L2189.5 307.3L2193.5 307.4L2197.5 307.6L2201.5 307.7L2205.5 307.9L2209.5 308.0L2213.5 308.2L2217.6 308.3L2221.6 308.5L2225.7 308.6L2229.7 308.8L2233.8 308.9L2237.8 309.1L2241.9 309.2L2245.9 309.3L2250.0 309.5L2254.0 309.6L2258.1 309.7L2262.2 309.9L2266.2 310.0L2270.3 310.1L2274.3 310.3L2278.4 310.4L2282.5 310.5L2286.5 310.6L2290.6 310.7L2294.7 310.9L2298.7 311.0L2302.8 311.1L2306.9 311.2L2310.9 311.3L2315.0 311.4L2319.0 311.6L2323.1 311.7L2327.1 311.8L2331.2 311.9L2335.2 312.0L2339.3 312.2L2343.3 312.3L2347.3 312.4L2351.4 312.5L2355.4 312.6L2359.4 312.8L2363.5 312.9L2367.5 313.0" stroke-width="2.7"/>
<path d="M1741.7 272.7L1745.8 273.5L1749.8 274.3L1753.9 275.1L1758.0 275.8L1762.0 276.6L1766.0 277.4L1770.0 278.1L1774.1 278.8L1778.1 279.5L1782.1 280.2L1786.1 280.9L1790.0 281.5L1794.0 282.2L1798.0 282.8L1802.0 283.3L1806.0 283.8L1810.0 284.3L1814.0 284.8L1818.0 285.3L1822.0 285.8L1826.0 286.3L1830.0 286.8L1834.0 287.3L1838.0 287.8L1842.0 288.2L1846.0 288.7L1849.9 289.1L1853.7 289.5L1857.5 289.9L1861.3 290.3L1865.3 290.7L1869.5 291.2L1873.9 291.8L1877.6 292.3L1881.6 292.9L1882.6 293.1" stroke-dasharray="12 11.5"/>
<path d="M1935.7 302.3L1939.8 302.9L1943.6 303.4L1947.6 303.9L1951.8 304.4L1956.1 304.9L1960.4 305.4L1964.7 305.9L1968.7 306.4L1972.6 306.8L1976.2 307.2L1980.5 307.7L1984.2 308.1L1987.5 308.5L1990.7 308.9L1994.4 309.3L1999.1 309.7L2003.5 310.0L2006.8 310.2L2010.3 310.5L2014.1 310.7L2018.0 310.9L2022.2 311.2L2026.4 311.4L2030.7 311.7L2035.1 311.9L2039.4 312.2L2043.8 312.4L2048.0 312.7L2052.2 312.9L2056.2 313.1L2060.2 313.3L2064.2 313.5L2068.2 313.8L2072.2 314.0L2076.2 314.2L2080.2 314.4L2084.2 314.6L2088.2 314.8L2092.2 315.0L2096.2 315.2L2100.2 315.3L2104.2 315.5L2108.2 315.7L2112.2 315.8L2116.3 316.0L2120.3 316.2L2124.3 316.3L2128.3 316.5L2132.4 316.6L2136.4 316.7L2140.4 316.9L2144.4 317.0L2148.4 317.1L2152.5 317.2L2156.5 317.4L2160.5 317.5L2164.5 317.6L2168.5 317.7L2172.5 317.8L2176.5 317.9L2180.5 318.0L2184.5 318.1L2188.5 318.2L2192.5 318.3L2196.5 318.4L2200.5 318.5L2204.5 318.6L2208.5 318.7L2212.5 318.8L2216.6 318.9L2220.6 318.9L2224.7 319.0L2228.7 319.1L2232.8 319.2L2236.8 319.3L2240.9 319.4L2244.9 319.5L2249.0 319.5L2253.0 319.6L2257.1 319.7L2261.2 319.7L2265.2 319.8L2269.3 319.9L2273.3 319.9L2277.4 319.9L2281.4 320.0L2285.5 320.0L2289.6 320.1L2293.7 320.1L2297.7 320.1L2301.8 320.2L2305.9 320.2L2309.9 320.2L2314.0 320.3L2318.0 320.3L2322.1 320.3L2323.1 320.4" stroke-dasharray="12 11.5"/>
<path d="M1980.9 224.1L1984.7 222.6L1988.4 221.0L1992.2 219.5L1996.0 218.0L1999.9 216.5L2003.9 215.2L2007.8 214.1L2011.7 213.0L2015.8 212.0L2019.8 211.1L2023.9 210.1L2028.0 209.2L2032.0 208.3L2035.9 207.5L2039.8 206.6L2043.7 205.8L2047.7 205.0L2051.8 204.3L2055.9 203.7L2058.7 203.3" stroke-dasharray="12 11.5"/>
<path d="M2111.3 197.9L2115.5 197.5L2119.8 197.1L2124.1 196.6L2128.0 196.2L2131.8 195.9L2135.6 195.5L2139.5 195.1L2143.4 194.7L2147.4 194.3L2151.4 194.0L2155.4 193.6L2159.5 193.2L2163.7 192.8L2167.8 192.5L2172.0 192.1L2175.8 191.8L2179.7 191.5L2183.6 191.1L2187.6 190.8L2191.6 190.5L2195.7 190.2L2199.7 189.9L2203.8 189.6L2207.8 189.3L2211.9 189.0L2215.9 188.8L2220.0 188.5L2224.0 188.2L2228.0 187.9L2232.0 187.7L2236.0 187.4L2240.0 187.2L2244.0 187.0L2248.0 186.7L2252.0 186.5L2256.0 186.3L2260.0 186.0L2264.0 185.8L2268.0 185.6L2272.0 185.3L2276.0 185.1L2280.0 184.8L2284.1 184.6L2288.3 184.3L2292.4 184.0L2296.6 183.8L2300.7 183.5L2304.8 183.2L2308.9 183.0L2312.9 182.7L2316.9 182.4L2320.7 182.2L2324.4 181.9L2328.0 181.7L2332.6 181.4L2336.9 181.1L2341.1 180.8L2345.1 180.6L2349.0 180.3L2352.9 180.1L2356.7 179.8L2360.6 179.6L2364.5 179.3L2367.5 179.1" stroke-dasharray="12 11.5"/>
<path d="M1980.9 224.1L1984.7 224.7L1988.2 225.4L1991.8 226.0L1995.8 226.7L2000.4 227.4L2004.6 227.9L2007.9 228.3L2011.5 228.8L2015.2 229.2L2019.1 229.6L2023.2 230.1L2027.4 230.5L2031.8 230.9L2036.2 231.4L2040.8 231.8L2044.7 232.1L2048.3 232.4L2052.1 232.7L2056.1 233.0L2060.0 233.3L2064.1 233.6L2068.2 233.9L2072.4 234.1L2076.5 234.4L2080.7 234.7L2084.8 235.0L2088.9 235.2L2093.0 235.5L2097.0 235.7L2101.0 235.9L2105.0 236.2L2109.0 236.4L2113.0 236.6L2117.0 236.8L2121.0 237.0L2125.0 237.2L2129.0 237.4L2133.0 237.6L2137.0 237.7L2141.0 237.9L2145.0 238.1L2149.0 238.2L2153.0 238.4L2157.0 238.5L2161.0 238.7L2165.0 238.8L2169.0 238.9L2173.0 239.0L2177.0 239.1L2181.0 239.2L2185.0 239.4L2189.0 239.5L2193.0 239.6L2197.0 239.7L2201.0 239.8L2204.9 239.8L2208.9 239.9L2212.8 240.0L2216.7 240.0L2220.6 240.1L2224.5 240.2L2228.4 240.2L2232.4 240.3L2236.5 240.4L2240.5 240.5L2244.7 240.6L2248.9 240.7L2252.9 240.8L2256.8 241.0L2260.9 241.1L2265.0 241.3L2269.2 241.5L2273.5 241.6L2277.7 241.8L2282.0 242.0L2283.0 242.1" stroke-dasharray="12 11.5"/>
<path d="M2335.8 244.5L2339.9 244.7L2343.7 244.9L2347.2 245.1L2350.4 245.2L2353.3 245.4L2359.2 245.6L2363.0 245.8L2365.7 245.9L2367.5 245.9" stroke-dasharray="12 11.5"/>
<path d="M1914.4 529.5L1918.4 529.3L1922.4 529.1L1926.4 528.9L1930.5 528.7L1934.5 528.5L1938.5 528.3L1942.6 528.1L1946.7 527.8L1950.7 527.6L1954.7 527.4L1958.7 527.2L1962.7 527.0L1966.7 526.7L1970.7 526.5L1974.8 526.3L1978.8 526.1L1982.8 525.8L1986.9 525.6L1990.9 525.4L1994.9 525.2L1998.9 525.0L2003.0 524.8L2007.0 524.6L2011.0 524.4L2015.0 524.2L2019.1 524.0" stroke-dasharray="12 11.5"/>
<path d="M2072.2 521.7L2076.2 521.6L2080.2 521.4L2084.2 521.3L2088.2 521.1L2092.2 521.0L2096.2 520.8L2100.2 520.6L2104.2 520.5L2108.2 520.3L2112.2 520.2L2116.3 520.0L2120.3 519.8L2124.3 519.7L2128.3 519.5L2132.4 519.3L2136.4 519.2L2140.4 519.0L2144.4 518.9L2148.4 518.7L2152.5 518.5L2156.5 518.4L2160.5 518.2L2164.5 518.1L2168.5 518.0L2172.5 517.8L2176.5 517.7L2180.5 517.5L2184.5 517.4L2188.5 517.3L2192.5 517.1L2196.5 517.0L2200.5 516.8L2204.5 516.7L2208.5 516.6L2212.5 516.4L2216.6 516.3L2220.6 516.2L2224.7 516.0L2228.7 515.9L2232.8 515.8L2236.8 515.6L2240.9 515.5L2244.9 515.3L2249.0 515.2L2253.0 515.0L2257.1 514.9L2261.2 514.7L2265.2 514.6L2269.3 514.4L2273.3 514.2L2277.4 514.0L2281.4 513.8L2285.5 513.6L2289.6 513.4L2293.7 513.2L2297.7 513.0L2301.8 512.8L2305.9 512.6L2309.9 512.4L2314.0 512.1L2318.0 511.9L2322.1 511.7L2326.1 511.5L2330.2 511.2L2334.2 511.0L2338.2 510.7L2342.3 510.5L2346.3 510.2L2350.4 510.0L2354.4 509.8L2358.4 509.5L2362.5 509.3L2366.5 509.0L2367.5 509.0" stroke-dasharray="12 11.5"/>
<path d="M2232.8 529.5L2236.8 529.3L2240.9 529.2L2244.9 529.0L2249.0 528.8L2253.0 528.6L2257.1 528.4L2261.2 528.3L2265.2 528.0L2269.3 527.8L2273.3 527.6L2277.4 527.4L2281.4 527.2L2285.5 526.9L2289.6 526.7L2293.7 526.4L2297.7 526.2L2301.8 525.9L2305.9 525.7L2309.9 525.4L2314.0 525.1L2318.0 524.9L2322.1 524.6L2326.1 524.3L2330.2 524.0L2334.2 523.7L2338.2 523.4L2342.3 523.1L2346.3 522.8L2350.4 522.5L2354.4 522.2L2358.4 521.9L2362.5 521.6L2366.5 521.3L2367.5 521.2" stroke-width="2.7"/>
</g>
<g font-size="31px" fill="#000" text-anchor="middle">
<text transform="translate(1809.3 126.4) rotate(-2.3)" y="10.7">10</text>
<text transform="translate(1808.0 144.1) rotate(-3.4)" y="10.7">20</text>
<text transform="translate(1806.7 170.1) rotate(-11.1)" y="10.7">30</text>
<text transform="translate(2250.0 107.2) rotate(-2.1)" y="10.7">10</text>
<text transform="translate(2248.7 128.4) rotate(-1.5)" y="10.7">20</text>
<text transform="translate(2246.1 142.8) rotate(-1.5)" y="10.7">30</text>
<text transform="translate(2240.1 158.8) rotate(-2.3)" y="10.7">40</text>
<text transform="translate(2084.9 200.7) rotate(-5.7)" y="10.7">50</text>
<text transform="translate(2309.8 243.3) rotate(2.6)" y="10.7">50</text>
<text transform="translate(1906.8 233.7) rotate(13.0)" y="10.7">40</text>
<text transform="translate(1904.2 255.8) rotate(11.8)" y="10.7">30</text>
<text transform="translate(1909.4 275.3) rotate(8.1)" y="10.7">20</text>
<text transform="translate(1909.4 297.4) rotate(9.9)" y="10.7">10</text>
<text transform="translate(2344.1 267.7) rotate(1.4)" y="10.7">40</text>
<text transform="translate(2343.6 285.6) rotate(0.9)" y="10.7">30</text>
<text transform="translate(2348.8 302.4) rotate(0.5)" y="10.7">20</text>
<text transform="translate(2350.1 320.6) rotate(0.6)" y="10.7">10</text>
<text transform="translate(2045.4 522.9) rotate(-2.4)" y="10.7">10</text>
</g>
<g stroke="#4a4a4a" stroke-width="1.60" fill="none">
<path d="M90.90 53.20H719.80M710.50 529.00H719.00M91.70 53.20V529.00M719.00 53.20V529.00"/>
<path d="M91.70 53.20v-6.80M91.70 529.00v6.80M198.30 53.20v-6.80M198.30 529.00v6.80M301.90 53.20v-6.80M301.90 529.00v6.80M405.60 53.20v-6.80M405.60 529.00v6.80M510.50 53.20v-6.80M510.50 529.00v6.80M614.40 53.20v-6.80M614.40 529.00v6.80M719.00 53.20v-6.80M719.00 529.00v6.80M91.70 53.20h-6.80M719.00 53.20h6.80M91.70 88.40h-6.80M719.00 88.40h6.80M91.70 122.10h-6.80M719.00 122.10h6.80M91.70 155.80h-6.80M719.00 155.80h6.80M91.70 189.60h-6.80M719.00 189.60h6.80M91.70 223.70h-6.80M719.00 223.70h6.80M91.70 257.50h-6.80M719.00 257.50h6.80M91.70 292.80h-6.80M719.00 292.80h6.80M91.70 326.50h-6.80M719.00 326.50h6.80M91.70 360.00h-6.80M719.00 360.00h6.80M91.70 393.60h-6.80M719.00 393.60h6.80M91.70 427.10h-6.80M719.00 427.10h6.80M91.70 461.00h-6.80M719.00 461.00h6.80M91.70 494.80h-6.80M719.00 494.80h6.80M91.70 528.60h-6.80M719.00 528.60h6.80"/>
</g>
<text transform="translate(72.9 65.3) scale(1 1.050)" font-size="30.3px" fill="#262626" text-anchor="end">D</text>
<text transform="translate(72.9 99.2) scale(1 1.050)" font-size="30.3px" fill="#262626" text-anchor="end">N</text>
<text transform="translate(72.9 133.1) scale(1 1.050)" font-size="30.3px" fill="#262626" text-anchor="end">O</text>
<text transform="translate(72.9 166.9) scale(1 1.050)" font-size="30.3px" fill="#262626" text-anchor="end">S</text>
<text transform="translate(72.9 200.8) scale(1 1.050)" font-size="30.3px" fill="#262626" text-anchor="end">A</text>
<text transform="translate(72.9 234.7) scale(1 1.050)" font-size="30.3px" fill="#262626" text-anchor="end">J</text>
<text transform="translate(72.9 268.5) scale(1 1.050)" font-size="30.3px" fill="#262626" text-anchor="end">J</text>
<text transform="translate(72.9 302.4) scale(1 1.050)" font-size="30.3px" fill="#262626" text-anchor="end">M</text>
<text transform="translate(72.9 336.3) scale(1 1.050)" font-size="30.3px" fill="#262626" text-anchor="end">A</text>
<text transform="translate(72.9 370.2) scale(1 1.050)" font-size="30.3px" fill="#262626" text-anchor="end">M</text>
<text transform="translate(72.9 404.0) scale(1 1.050)" font-size="30.3px" fill="#262626" text-anchor="end">F</text>
<text transform="translate(72.9 437.9) scale(1 1.050)" font-size="30.3px" fill="#262626" text-anchor="end">J</text>
<text transform="translate(72.9 471.8) scale(1 1.050)" font-size="30.3px" fill="#262626" text-anchor="end">D</text>
<text transform="translate(72.9 505.6) scale(1 1.050)" font-size="30.3px" fill="#262626" text-anchor="end">N</text>
<text transform="translate(72.9 539.5) scale(1 1.050)" font-size="30.3px" fill="#262626" text-anchor="end">O</text>
<text transform="translate(83.6 580.0) scale(1 1.050)" font-size="30.3px" fill="#262626" text-anchor="middle">0</text>
<text transform="translate(193.1 580.0) scale(1 1.050)" font-size="30.3px" fill="#262626" text-anchor="middle">20</text>
<text transform="translate(297.3 580.0) scale(1 1.050)" font-size="30.3px" fill="#262626" text-anchor="middle">40</text>
<text transform="translate(402.3 580.0) scale(1 1.050)" font-size="30.3px" fill="#262626" text-anchor="middle">60</text>
<text transform="translate(507.0 580.0) scale(1 1.050)" font-size="30.3px" fill="#262626" text-anchor="middle">80</text>
<text transform="translate(616.3 580.0) scale(1 1.050)" font-size="30.3px" fill="#262626" text-anchor="middle">100</text>
<text transform="translate(720.3 580.0) scale(1 1.050)" font-size="30.3px" fill="#262626" text-anchor="middle">120</text>
<text transform="translate(406.8 625.2) scale(1 1.050)" font-size="33.9px" fill="#262626" text-anchor="middle">Distance (km)</text>
<text transform="translate(30.3 292.0) rotate(-90.0) scale(1 0.950)" font-size="33.2px" fill="#262626" text-anchor="middle">Month</text>
<rect x="101.9" y="58.9" width="66.9" height="55.4" fill="#fff"/>
<text transform="translate(134.6 98.2) scale(1 1.050)" font-size="30.5px" fill="#000" text-anchor="middle">WT</text>
<g stroke="#4a4a4a" stroke-width="1.60" fill="none">
<path d="M917.60 53.20H1543.30M1540.10 529.00H1542.50M1542.50 53.20V529.00"/>
<path d="M918.40 53.20v-6.80M918.40 529.00v6.80M1022.50 53.20v-6.80M1022.50 529.00v6.80M1126.80 53.20v-6.80M1126.80 529.00v6.80M1230.50 53.20v-6.80M1230.50 529.00v6.80M1334.50 53.20v-6.80M1334.50 529.00v6.80M1439.30 53.20v-6.80M1439.30 529.00v6.80M1542.50 53.20v-6.80M1542.50 529.00v6.80M918.40 53.20h-6.80M1542.50 53.20h6.80M918.40 88.40h-6.80M1542.50 88.40h6.80M918.40 122.10h-6.80M1542.50 122.10h6.80M918.40 155.80h-6.80M1542.50 155.80h6.80M918.40 189.60h-6.80M1542.50 189.60h6.80M918.40 223.70h-6.80M1542.50 223.70h6.80M918.40 257.50h-6.80M1542.50 257.50h6.80M918.40 292.80h-6.80M1542.50 292.80h6.80M918.40 326.50h-6.80M1542.50 326.50h6.80M918.40 360.00h-6.80M1542.50 360.00h6.80M918.40 393.60h-6.80M1542.50 393.60h6.80M918.40 427.10h-6.80M1542.50 427.10h6.80M918.40 461.00h-6.80M1542.50 461.00h6.80M918.40 494.80h-6.80M1542.50 494.80h6.80M918.40 528.60h-6.80M1542.50 528.60h6.80"/>
</g>
<text transform="translate(896.9 65.3) scale(1 1.050)" font-size="30.3px" fill="#262626" text-anchor="end">D</text>
<text transform="translate(896.9 99.2) scale(1 1.050)" font-size="30.3px" fill="#262626" text-anchor="end">N</text>
<text transform="translate(896.9 133.1) scale(1 1.050)" font-size="30.3px" fill="#262626" text-anchor="end">O</text>
<text transform="translate(896.9 166.9) scale(1 1.050)" font-size="30.3px" fill="#262626" text-anchor="end">S</text>
<text transform="translate(896.9 200.8) scale(1 1.050)" font-size="30.3px" fill="#262626" text-anchor="end">A</text>
<text transform="translate(896.9 234.7) scale(1 1.050)" font-size="30.3px" fill="#262626" text-anchor="end">J</text>
<text transform="translate(896.9 268.5) scale(1 1.050)" font-size="30.3px" fill="#262626" text-anchor="end">J</text>
<text transform="translate(896.9 302.4) scale(1 1.050)" font-size="30.3px" fill="#262626" text-anchor="end">M</text>
<text transform="translate(896.9 336.3) scale(1 1.050)" font-size="30.3px" fill="#262626" text-anchor="end">A</text>
<text transform="translate(896.9 370.2) scale(1 1.050)" font-size="30.3px" fill="#262626" text-anchor="end">M</text>
<text transform="translate(896.9 404.0) scale(1 1.050)" font-size="30.3px" fill="#262626" text-anchor="end">F</text>
<text transform="translate(896.9 437.9) scale(1 1.050)" font-size="30.3px" fill="#262626" text-anchor="end">J</text>
<text transform="translate(896.9 471.8) scale(1 1.050)" font-size="30.3px" fill="#262626" text-anchor="end">D</text>
<text transform="translate(896.9 505.6) scale(1 1.050)" font-size="30.3px" fill="#262626" text-anchor="end">N</text>
<text transform="translate(896.9 539.5) scale(1 1.050)" font-size="30.3px" fill="#262626" text-anchor="end">O</text>
<text transform="translate(908.4 580.0) scale(1 1.050)" font-size="30.3px" fill="#262626" text-anchor="middle">0</text>
<text transform="translate(1017.6 580.0) scale(1 1.050)" font-size="30.3px" fill="#262626" text-anchor="middle">20</text>
<text transform="translate(1121.9 580.0) scale(1 1.050)" font-size="30.3px" fill="#262626" text-anchor="middle">40</text>
<text transform="translate(1226.1 580.0) scale(1 1.050)" font-size="30.3px" fill="#262626" text-anchor="middle">60</text>
<text transform="translate(1330.1 580.0) scale(1 1.050)" font-size="30.3px" fill="#262626" text-anchor="middle">80</text>
<text transform="translate(1439.2 580.0) scale(1 1.050)" font-size="30.3px" fill="#262626" text-anchor="middle">100</text>
<text transform="translate(1543.4 580.0) scale(1 1.050)" font-size="30.3px" fill="#262626" text-anchor="middle">120</text>
<text transform="translate(1230.3 625.2) scale(1 1.050)" font-size="33.9px" fill="#262626" text-anchor="middle">Distance (km)</text>
<text transform="translate(854.6 292.0) rotate(-90.0) scale(1 0.950)" font-size="33.2px" fill="#262626" text-anchor="middle">Month</text>
<rect x="926.2" y="58.1" width="59.8" height="56.2" fill="#fff"/>
<text transform="translate(956.0 98.2) scale(1 1.050)" font-size="30.5px" fill="#000" text-anchor="middle">CT</text>
<g stroke="#4a4a4a" stroke-width="1.60" fill="none">
<path d="M1740.70 53.20H2367.80"/>
<path d="M1741.70 53.20v-6.80M1741.70 529.00v6.80M1846.50 53.20v-6.80M1846.50 529.00v6.80M1949.70 53.20v-6.80M1949.70 529.00v6.80M2054.20 53.20v-6.80M2054.20 529.00v6.80M2158.50 53.20v-6.80M2158.50 529.00v6.80M2262.20 53.20v-6.80M2262.20 529.00v6.80M2367.00 53.20v-6.80M2367.00 529.00v6.80M1741.50 53.20h-6.80M2367.00 53.20h6.80M1741.50 88.40h-6.80M2367.00 88.40h6.80M1741.50 122.10h-6.80M2367.00 122.10h6.80M1741.50 155.80h-6.80M2367.00 155.80h6.80M1741.50 189.60h-6.80M2367.00 189.60h6.80M1741.50 223.70h-6.80M2367.00 223.70h6.80M1741.50 257.50h-6.80M2367.00 257.50h6.80M1741.50 292.80h-6.80M2367.00 292.80h6.80M1741.50 326.50h-6.80M2367.00 326.50h6.80M1741.50 360.00h-6.80M2367.00 360.00h6.80M1741.50 393.60h-6.80M2367.00 393.60h6.80M1741.50 427.10h-6.80M2367.00 427.10h6.80M1741.50 461.00h-6.80M2367.00 461.00h6.80M1741.50 494.80h-6.80M2367.00 494.80h6.80M1741.50 528.60h-6.80M2367.00 528.60h6.80"/>
</g>
<text transform="translate(1720.2 65.3) scale(1 1.050)" font-size="30.3px" fill="#262626" text-anchor="end">D</text>
<text transform="translate(1720.2 99.2) scale(1 1.050)" font-size="30.3px" fill="#262626" text-anchor="end">N</text>
<text transform="translate(1720.2 133.1) scale(1 1.050)" font-size="30.3px" fill="#262626" text-anchor="end">O</text>
<text transform="translate(1720.2 166.9) scale(1 1.050)" font-size="30.3px" fill="#262626" text-anchor="end">S</text>
<text transform="translate(1720.2 200.8) scale(1 1.050)" font-size="30.3px" fill="#262626" text-anchor="end">A</text>
<text transform="translate(1720.2 234.7) scale(1 1.050)" font-size="30.3px" fill="#262626" text-anchor="end">J</text>
<text transform="translate(1720.2 268.5) scale(1 1.050)" font-size="30.3px" fill="#262626" text-anchor="end">J</text>
<text transform="translate(1720.2 302.4) scale(1 1.050)" font-size="30.3px" fill="#262626" text-anchor="end">M</text>
<text transform="translate(1720.2 336.3) scale(1 1.050)" font-size="30.3px" fill="#262626" text-anchor="end">A</text>
<text transform="translate(1720.2 370.2) scale(1 1.050)" font-size="30.3px" fill="#262626" text-anchor="end">M</text>
<text transform="translate(1720.2 404.0) scale(1 1.050)" font-size="30.3px" fill="#262626" text-anchor="end">F</text>
<text transform="translate(1720.2 437.9) scale(1 1.050)" font-size="30.3px" fill="#262626" text-anchor="end">J</text>
<text transform="translate(1720.2 471.8) scale(1 1.050)" font-size="30.3px" fill="#262626" text-anchor="end">D</text>
<text transform="translate(1720.2 505.6) scale(1 1.050)" font-size="30.3px" fill="#262626" text-anchor="end">N</text>
<text transform="translate(1720.2 539.5) scale(1 1.050)" font-size="30.3px" fill="#262626" text-anchor="end">O</text>
<text transform="translate(1732.1 580.0) scale(1 1.050)" font-size="30.3px" fill="#262626" text-anchor="middle">0</text>
<text transform="translate(1841.1 580.0) scale(1 1.050)" font-size="30.3px" fill="#262626" text-anchor="middle">20</text>
<text transform="translate(1945.3 580.0) scale(1 1.050)" font-size="30.3px" fill="#262626" text-anchor="middle">40</text>
<text transform="translate(2050.4 580.0) scale(1 1.050)" font-size="30.3px" fill="#262626" text-anchor="middle">60</text>
<text transform="translate(2155.3 580.0) scale(1 1.050)" font-size="30.3px" fill="#262626" text-anchor="middle">80</text>
<text transform="translate(2264.6 580.0) scale(1 1.050)" font-size="30.3px" fill="#262626" text-anchor="middle">100</text>
<text transform="translate(2368.3 580.0) scale(1 1.050)" font-size="30.3px" fill="#262626" text-anchor="middle">120</text>
<text transform="translate(2055.0 625.2) scale(1 1.050)" font-size="33.9px" fill="#262626" text-anchor="middle">Distance (km)</text>
<text transform="translate(1677.8 292.0) rotate(-90.0) scale(1 0.950)" font-size="33.2px" fill="#262626" text-anchor="middle">Month</text>
<rect x="1749.8" y="58.1" width="58.2" height="56.2" fill="#fff"/>
<text transform="translate(1779.0 98.2) scale(1 1.050)" font-size="30.5px" fill="#000" text-anchor="middle">ET</text>
<rect x="2403.7" y="52.70" width="38.4" height="476.30" fill="url(#cb)"/>
<path d="M2403.9 52.70V529.00" stroke="#8a8a8a" stroke-width="1" fill="none"/>
<path d="M2442.1 52.70V529.00H2403.7" stroke="#262626" stroke-width="1.2" fill="none"/>
<path d="M2442.1 371.70h-4.5M2442.1 211.80h-4.5" stroke="#262626" stroke-width="1.2" fill="none"/>
<text transform="translate(2454.5 68.5) scale(1 0.990)" font-size="37.3px" fill="#262626">60</text>
<text transform="translate(2454.5 226.9) scale(1 0.990)" font-size="37.3px" fill="#262626">40</text>
<text transform="translate(2454.5 385.5) scale(1 0.990)" font-size="37.3px" fill="#262626">20</text>
<text transform="translate(2454.5 542.9) scale(1 0.990)" font-size="37.3px" fill="#262626">0</text>
<text transform="translate(2362.8 31.8) scale(1 1.020)" font-size="37.0px" fill="#1a1a1a">SIC(%)</text>
</svg>
</body></html>
